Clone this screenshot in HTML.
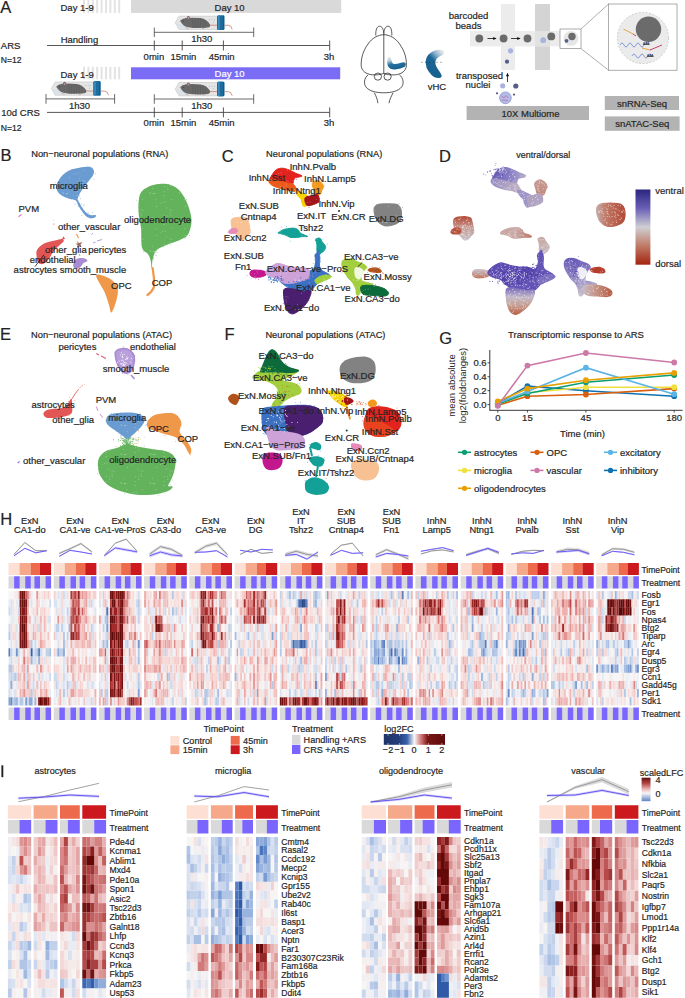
<!DOCTYPE html><html><head><meta charset="utf-8"><style>html,body{margin:0;padding:0;background:#fff;width:685px;height:998px;overflow:hidden}svg{display:block}text{font-family:"Liberation Sans",sans-serif;stroke-width:0.2px}</style></head><body><svg width="685" height="998" viewBox="0 0 685 998"><text x="0.30" y="13.20" font-size="16.5" fill="#222" stroke="#222" stroke-width="0.3">A</text><rect x="83.00" y="0.00" width="2.00" height="12.90" fill="#e3e3e3"/><rect x="87.40" y="0.00" width="2.00" height="12.90" fill="#e3e3e3"/><rect x="91.80" y="0.00" width="2.00" height="12.90" fill="#e3e3e3"/><rect x="96.20" y="0.00" width="2.00" height="12.90" fill="#e3e3e3"/><rect x="100.60" y="0.00" width="2.00" height="12.90" fill="#e3e3e3"/><rect x="105.00" y="0.00" width="2.00" height="12.90" fill="#e3e3e3"/><rect x="109.40" y="0.00" width="2.00" height="12.90" fill="#e3e3e3"/><rect x="113.80" y="0.00" width="2.00" height="12.90" fill="#e3e3e3"/><rect x="118.20" y="0.00" width="2.00" height="12.90" fill="#e3e3e3"/><text x="60.50" y="11.40" font-size="9.5" fill="#262626" stroke="#262626">Day 1-9</text><rect x="131.00" y="0.00" width="210.20" height="12.90" fill="#d9d9d9"/><text x="229.60" y="11.00" font-size="9.5" fill="#262626" stroke="#262626" text-anchor="middle">Day 10</text><g transform="translate(175.00,15.20) scale(1.0)"><path d="M0.2,7.6 L4,0.9 L42.5,0.9 L42.5,14.3 L4,14.3 Z" fill="#e5e5e5" stroke="#bdbdbd" stroke-width="0.5"/><path d="M1.5,8.5 L4.5,13 L12,13.4 L8,9 Z" fill="#d3e1ea" opacity="0.8"/><circle cx="34.5" cy="4.6" r="0.5" fill="#8fb8d4"/><circle cx="37" cy="4.3" r="0.5" fill="#8fb8d4"/><circle cx="39.4" cy="4.6" r="0.5" fill="#8fb8d4"/><circle cx="38.2" cy="7" r="0.5" fill="#8fb8d4"/><path d="M35,10 L43,10" stroke="#c4806f" stroke-width="0.8"/><path d="M5,5.6 Q7,3.2 11,2.7 Q18,2.1 25.6,2.9 Q32,4 35,9.2 Q35.8,11.6 33,12.3 Q25,13.1 18,12.7 Q11,12.3 8.5,10.1 Q6.5,8.4 5,5.6 Z" fill="#686868"/><path d="M18,3.6 L18,12.4 M20.5,3.3 L20.5,12.6 M23,3.2 L23,12.7 M25.5,3.4 L25.5,12.7 M28,4 L28,12.6 M30.5,5 L30.5,12.4" stroke="#585858" stroke-width="0.55"/><ellipse cx="13.4" cy="2.7" rx="1.6" ry="1.9" fill="#6e6e6e"/><ellipse cx="13.4" cy="2.9" rx="0.8" ry="1.0" fill="#c09a9a"/><circle cx="8.6" cy="5.8" r="0.45" fill="#222"/><circle cx="5.2" cy="6.0" r="0.5" fill="#c9a0a0"/><path d="M10.5,12.3 L13.5,13.5 M26,12.6 L29.5,13.6" stroke="#c8a0a0" stroke-width="0.8"/><rect x="42" y="0" width="7.4" height="14.8" rx="1.6" fill="#1c6d9e"/><rect x="43" y="0.4" width="1.6" height="14" fill="#3a8cc0"/><rect x="48" y="0.4" width="1.2" height="14" fill="#155a86"/><path d="M49.3,10.1 L53.5,10.1 Q56.6,10.4 57.2,14.2" fill="none" stroke="#c4806f" stroke-width="0.8"/></g><line x1="154.30" y1="32.30" x2="253.70" y2="32.30" stroke="#444" stroke-width="0.8"/><line x1="154.30" y1="27.50" x2="154.30" y2="37.10" stroke="#444" stroke-width="0.8"/><line x1="253.70" y1="27.50" x2="253.70" y2="37.10" stroke="#444" stroke-width="0.8"/><text x="201.70" y="41.80" font-size="9.5" fill="#262626" stroke="#262626" text-anchor="middle">1h30</text><line x1="47.00" y1="45.50" x2="329.70" y2="45.50" stroke="#444" stroke-width="0.9"/><line x1="154.30" y1="40.50" x2="154.30" y2="50.50" stroke="#444" stroke-width="0.9"/><text x="153.90" y="59.80" font-size="9.5" fill="#262626" stroke="#262626" text-anchor="middle">0min</text><line x1="182.20" y1="40.50" x2="182.20" y2="50.50" stroke="#444" stroke-width="0.9"/><text x="183.40" y="59.80" font-size="9.5" fill="#262626" stroke="#262626" text-anchor="middle">15min</text><line x1="223.40" y1="40.50" x2="223.40" y2="50.50" stroke="#444" stroke-width="0.9"/><text x="221.70" y="59.80" font-size="9.5" fill="#262626" stroke="#262626" text-anchor="middle">45min</text><line x1="329.70" y1="40.50" x2="329.70" y2="50.50" stroke="#444" stroke-width="0.9"/><text x="329.00" y="59.80" font-size="9.5" fill="#262626" stroke="#262626" text-anchor="middle">3h</text><text x="60.70" y="42.70" font-size="9.5" fill="#262626" stroke="#262626">Handling</text><text x="0.80" y="49.20" font-size="9.5" fill="#262626" stroke="#262626">ARS</text><text x="0.80" y="63.20" font-size="8.6" fill="#262626" stroke="#262626">N=12</text><rect x="83.00" y="66.80" width="2.00" height="12.50" fill="#e3e3e3"/><rect x="87.40" y="66.80" width="2.00" height="12.50" fill="#e3e3e3"/><rect x="91.80" y="66.80" width="2.00" height="12.50" fill="#e3e3e3"/><rect x="96.20" y="66.80" width="2.00" height="12.50" fill="#e3e3e3"/><rect x="100.60" y="66.80" width="2.00" height="12.50" fill="#e3e3e3"/><rect x="105.00" y="66.80" width="2.00" height="12.50" fill="#e3e3e3"/><rect x="109.40" y="66.80" width="2.00" height="12.50" fill="#e3e3e3"/><rect x="113.80" y="66.80" width="2.00" height="12.50" fill="#e3e3e3"/><rect x="118.20" y="66.80" width="2.00" height="12.50" fill="#e3e3e3"/><text x="60.50" y="77.80" font-size="9.5" fill="#262626" stroke="#262626">Day 1-9</text><rect x="131.00" y="67.30" width="209.20" height="12.00" fill="#7b6cf6"/><text x="229.60" y="77.40" font-size="9.5" fill="#ffffff" stroke="#ffffff" text-anchor="middle">Day 10</text><g transform="translate(51.20,81.00) scale(1.0)"><path d="M0.2,7.6 L4,0.9 L42.5,0.9 L42.5,14.3 L4,14.3 Z" fill="#e5e5e5" stroke="#bdbdbd" stroke-width="0.5"/><path d="M1.5,8.5 L4.5,13 L12,13.4 L8,9 Z" fill="#d3e1ea" opacity="0.8"/><circle cx="34.5" cy="4.6" r="0.5" fill="#8fb8d4"/><circle cx="37" cy="4.3" r="0.5" fill="#8fb8d4"/><circle cx="39.4" cy="4.6" r="0.5" fill="#8fb8d4"/><circle cx="38.2" cy="7" r="0.5" fill="#8fb8d4"/><path d="M35,10 L43,10" stroke="#c4806f" stroke-width="0.8"/><path d="M5,5.6 Q7,3.2 11,2.7 Q18,2.1 25.6,2.9 Q32,4 35,9.2 Q35.8,11.6 33,12.3 Q25,13.1 18,12.7 Q11,12.3 8.5,10.1 Q6.5,8.4 5,5.6 Z" fill="#686868"/><path d="M18,3.6 L18,12.4 M20.5,3.3 L20.5,12.6 M23,3.2 L23,12.7 M25.5,3.4 L25.5,12.7 M28,4 L28,12.6 M30.5,5 L30.5,12.4" stroke="#585858" stroke-width="0.55"/><ellipse cx="13.4" cy="2.7" rx="1.6" ry="1.9" fill="#6e6e6e"/><ellipse cx="13.4" cy="2.9" rx="0.8" ry="1.0" fill="#c09a9a"/><circle cx="8.6" cy="5.8" r="0.45" fill="#222"/><circle cx="5.2" cy="6.0" r="0.5" fill="#c9a0a0"/><path d="M10.5,12.3 L13.5,13.5 M26,12.6 L29.5,13.6" stroke="#c8a0a0" stroke-width="0.8"/><rect x="42" y="0" width="7.4" height="14.8" rx="1.6" fill="#1c6d9e"/><rect x="43" y="0.4" width="1.6" height="14" fill="#3a8cc0"/><rect x="48" y="0.4" width="1.2" height="14" fill="#155a86"/><path d="M49.3,10.1 L53.5,10.1 Q56.6,10.4 57.2,14.2" fill="none" stroke="#c4806f" stroke-width="0.8"/></g><g transform="translate(175.00,81.60) scale(1.0)"><path d="M0.2,7.6 L4,0.9 L42.5,0.9 L42.5,14.3 L4,14.3 Z" fill="#e5e5e5" stroke="#bdbdbd" stroke-width="0.5"/><path d="M1.5,8.5 L4.5,13 L12,13.4 L8,9 Z" fill="#d3e1ea" opacity="0.8"/><circle cx="34.5" cy="4.6" r="0.5" fill="#8fb8d4"/><circle cx="37" cy="4.3" r="0.5" fill="#8fb8d4"/><circle cx="39.4" cy="4.6" r="0.5" fill="#8fb8d4"/><circle cx="38.2" cy="7" r="0.5" fill="#8fb8d4"/><path d="M35,10 L43,10" stroke="#c4806f" stroke-width="0.8"/><path d="M5,5.6 Q7,3.2 11,2.7 Q18,2.1 25.6,2.9 Q32,4 35,9.2 Q35.8,11.6 33,12.3 Q25,13.1 18,12.7 Q11,12.3 8.5,10.1 Q6.5,8.4 5,5.6 Z" fill="#686868"/><path d="M18,3.6 L18,12.4 M20.5,3.3 L20.5,12.6 M23,3.2 L23,12.7 M25.5,3.4 L25.5,12.7 M28,4 L28,12.6 M30.5,5 L30.5,12.4" stroke="#585858" stroke-width="0.55"/><ellipse cx="13.4" cy="2.7" rx="1.6" ry="1.9" fill="#6e6e6e"/><ellipse cx="13.4" cy="2.9" rx="0.8" ry="1.0" fill="#c09a9a"/><circle cx="8.6" cy="5.8" r="0.45" fill="#222"/><circle cx="5.2" cy="6.0" r="0.5" fill="#c9a0a0"/><path d="M10.5,12.3 L13.5,13.5 M26,12.6 L29.5,13.6" stroke="#c8a0a0" stroke-width="0.8"/><rect x="42" y="0" width="7.4" height="14.8" rx="1.6" fill="#1c6d9e"/><rect x="43" y="0.4" width="1.6" height="14" fill="#3a8cc0"/><rect x="48" y="0.4" width="1.2" height="14" fill="#155a86"/><path d="M49.3,10.1 L53.5,10.1 Q56.6,10.4 57.2,14.2" fill="none" stroke="#c4806f" stroke-width="0.8"/></g><line x1="46.00" y1="98.90" x2="114.60" y2="98.90" stroke="#444" stroke-width="0.8"/><line x1="46.00" y1="94.10" x2="46.00" y2="103.70" stroke="#444" stroke-width="0.8"/><line x1="114.60" y1="94.10" x2="114.60" y2="103.70" stroke="#444" stroke-width="0.8"/><text x="79.50" y="108.60" font-size="9.5" fill="#262626" stroke="#262626" text-anchor="middle">1h30</text><line x1="154.30" y1="99.00" x2="253.70" y2="99.00" stroke="#444" stroke-width="0.8"/><line x1="154.30" y1="94.20" x2="154.30" y2="103.80" stroke="#444" stroke-width="0.8"/><line x1="253.70" y1="94.20" x2="253.70" y2="103.80" stroke="#444" stroke-width="0.8"/><text x="201.70" y="108.60" font-size="9.5" fill="#262626" stroke="#262626" text-anchor="middle">1h30</text><line x1="47.00" y1="112.40" x2="329.70" y2="112.40" stroke="#444" stroke-width="0.9"/><line x1="154.30" y1="107.40" x2="154.30" y2="117.40" stroke="#444" stroke-width="0.9"/><text x="153.90" y="126.40" font-size="9.5" fill="#262626" stroke="#262626" text-anchor="middle">0min</text><line x1="182.20" y1="107.40" x2="182.20" y2="117.40" stroke="#444" stroke-width="0.9"/><text x="183.40" y="126.40" font-size="9.5" fill="#262626" stroke="#262626" text-anchor="middle">15min</text><line x1="223.40" y1="107.40" x2="223.40" y2="117.40" stroke="#444" stroke-width="0.9"/><text x="221.70" y="126.40" font-size="9.5" fill="#262626" stroke="#262626" text-anchor="middle">45min</text><line x1="329.70" y1="107.40" x2="329.70" y2="117.40" stroke="#444" stroke-width="0.9"/><text x="329.00" y="126.40" font-size="9.5" fill="#262626" stroke="#262626" text-anchor="middle">3h</text><text x="1.30" y="116.20" font-size="9.5" fill="#262626" stroke="#262626">10d CRS</text><text x="0.80" y="131.20" font-size="8.6" fill="#262626" stroke="#262626">N=12</text><g fill="none" stroke="#222" stroke-width="0.75"><path d="M375.8,35.5 C375.5,30 377,26.3 379.5,26.2 C382,26.2 383.5,29 383.8,33.5 C384.1,29 385.6,26.2 388.1,26.2 C390.6,26.3 392.1,30 391.8,35.5"/><path d="M383.8,34.6 C378,35 372,38 368,44 C363,51 361,58 361.2,65.5 C361.5,71 366,74 372,74.8 C377,75.2 381,74.5 383.8,73.4"/><path d="M383.8,34.6 C389.6,35 395.6,38 399.6,44 C404.6,51 406.6,58 406.4,65.5 C406.1,71 401.6,74 395.6,74.8 C390.6,75.2 386.6,74.5 383.8,73.4"/><path d="M383.8,33.5 L383.8,73.4"/><circle cx="377.9" cy="76.6" r="3.6"/><circle cx="387.6" cy="76.6" r="3.6"/><path d="M368.2,74.8 C364,78 363.5,84 366,87 C369,91 376,92.8 383.8,92.8 C391.6,92.8 398.6,91 401.6,87 C404.1,84 403.6,78 399.4,74.8"/><path d="M374.4,92.8 C376,96 377.5,99.5 377.9,103.2 M393.1,92.8 C391.5,96 389.5,99.5 389,103.2"/></g><defs><linearGradient id="hcg" x1="0" y1="0" x2="0.3" y2="1"><stop offset="0" stop-color="#e8e8e8"/><stop offset="0.3" stop-color="#bcd0df"/><stop offset="0.6" stop-color="#2a73a0"/><stop offset="1" stop-color="#17608f"/></linearGradient><linearGradient id="vhcg" x1="0.8" y1="0" x2="0.3" y2="0.7"><stop offset="0" stop-color="#e4e4e4"/><stop offset="0.3" stop-color="#8fb4d0"/><stop offset="0.6" stop-color="#1d6796"/><stop offset="1" stop-color="#17608f"/></linearGradient></defs><path d="M387.8,58 Q386.4,62 387.8,66 Q390,69.8 395,69.5 Q401,69 404.8,66.8 Q406.4,65.2 405.5,63.1 Q404.2,61.6 401,62.7 Q396.5,64.2 393.8,64 Q392,63.3 391.6,60.8 Q391.2,57.8 389.6,57 Q388.3,56.8 387.8,58 Z" fill="url(#hcg)"/><path d="M443.8,51 Q441.5,49.3 438.2,49.8 Q432.7,50.5 428.6,54.5 Q425.5,58 425.7,63 Q426,68 428.5,71.3 Q431,75 434,76.9 Q437.5,78.4 440.3,77.7 Q442.4,76.6 441.3,74.4 Q439.8,71.8 438.1,69.6 Q435.6,66 435.4,63.4 Q435.4,60.5 436.8,58.6 Q438.8,56.6 441.4,55.6 Q444.6,54 443.8,51 Z" fill="url(#vhcg)"/><line x1="421.30" y1="62.30" x2="441.50" y2="62.30" stroke="#333" stroke-width="0.6" stroke-dasharray="1.2,2.6"/><text x="437.00" y="89.50" font-size="9.5" fill="#262626" stroke="#262626" text-anchor="middle">vHC</text><rect x="501.00" y="4.00" width="14.00" height="66.00" fill="#ececec"/><rect x="535.00" y="4.00" width="15.00" height="66.00" fill="#d4d4d4"/><rect x="470.00" y="31.00" width="90.00" height="15.40" fill="#ececec"/><rect x="535.00" y="31.00" width="15.00" height="15.40" fill="#e2e2e2"/><text x="468.50" y="19.40" font-size="9.5" fill="#262626" stroke="#262626" text-anchor="middle">barcoded</text><text x="468.50" y="28.50" font-size="9.5" fill="#262626" stroke="#262626" text-anchor="middle">beads</text><circle cx="479.3" cy="38.5" r="3.9" fill="#6b6b6b"/><circle cx="503.6" cy="38.5" r="3.9" fill="#6b6b6b"/><circle cx="527.5" cy="38.5" r="3.9" fill="#6b6b6b"/><line x1="487.5" y1="38.5" x2="496" y2="38.5" stroke="#111" stroke-width="0.8"/><path d="M496.60,38.50 L493.20,40.10 L493.20,36.90 Z" fill="#111"/><line x1="511" y1="38.5" x2="520" y2="38.5" stroke="#111" stroke-width="0.8"/><path d="M520.60,38.50 L517.20,40.10 L517.20,36.90 Z" fill="#111"/><circle cx="543.2" cy="40.2" r="2.9" fill="#a9b3e0"/><circle cx="551.3" cy="36.4" r="3.9" fill="#6b6b6b"/><circle cx="510.5" cy="50.8" r="2.6" fill="#a9b3e0"/><circle cx="507" cy="61.7" r="2.1" fill="#555d8a"/><rect x="560" y="29" width="21" height="19.6" fill="none" stroke="#777" stroke-width="0.6"/><circle cx="571" cy="38.5" r="7.5" fill="#e6e6e6"/><circle cx="572" cy="36.5" r="3.7" fill="#6b6b6b"/><circle cx="566.5" cy="40.8" r="1.9" fill="#555d8a"/><path d="M581,29 L608.6,4 M581,48.6 L608.6,70.2" stroke="#777" stroke-width="0.6"/><rect x="608.6" y="4" width="68.4" height="66.2" fill="none" stroke="#777" stroke-width="0.6"/><circle cx="643" cy="38" r="25.6" fill="#ebebeb" stroke="#bbb" stroke-width="0.7" stroke-dasharray="2,1.5"/><circle cx="648.5" cy="29.3" r="12.7" fill="#6b6b6b"/><path d="M620,45 q2,-4 4,0 t4,0 t4,0 t4,0 t4,0 t4,0 t4,-2" fill="none" stroke="#5b7bd5" stroke-width="0.7"/><path d="M632,56 q2,-4 4,0 t4,0 t4,0 t4,0 t4,0" fill="none" stroke="#5b7bd5" stroke-width="0.7"/><path d="M623.5,29 L633,34" stroke="#e0a030" stroke-width="0.9"/><path d="M633,34 L636,36" stroke="#c03050" stroke-width="0.9"/><path d="M642,48 L650,50" stroke="#e0a030" stroke-width="0.9"/><path d="M650,50 L662,45" stroke="#c03050" stroke-width="0.9"/><text x="643.00" y="44.50" font-size="3.2" fill="#333" stroke="#333">AAA</text><text x="647.00" y="57.00" font-size="3.2" fill="#333" stroke="#333">AAA</text><text x="479.50" y="79.00" font-size="9.5" fill="#262626" stroke="#262626" text-anchor="middle">transposed</text><text x="478.00" y="88.00" font-size="9.5" fill="#262626" stroke="#262626" text-anchor="middle">nuclei</text><line x1="507.5" y1="82" x2="507.5" y2="73.5" stroke="#111" stroke-width="0.8"/><path d="M507.50,72.90 L509.10,76.30 L505.90,76.30 Z" fill="#111"/><circle cx="502.7" cy="85.8" r="2.6" fill="#a9b3e0"/><circle cx="515.8" cy="86" r="2.6" fill="#555d8a"/><circle cx="497" cy="93.3" r="1.1" fill="#555d8a"/><circle cx="514" cy="94.6" r="1.1" fill="#555d8a"/><circle cx="505.4" cy="97.8" r="5.9" fill="#b3bbe8" stroke="#7783c4" stroke-width="0.6"/><path d="M501.5,96 L504,98 L506,95.5 L508.5,98 M502,100 L508,100.5" fill="none" stroke="#c04060" stroke-width="0.5"/><rect x="466.60" y="106.00" width="122.40" height="14.00" fill="#b3b3b3"/><text x="530.50" y="116.60" font-size="9.5" fill="#262626" stroke="#262626" text-anchor="middle">10X Multiome</text><rect x="604.80" y="96.00" width="74.20" height="14.00" fill="#b3b3b3"/><text x="642.00" y="106.60" font-size="9.5" fill="#262626" stroke="#262626" text-anchor="middle">snRNA-Seq</text><rect x="604.80" y="116.40" width="74.80" height="14.40" fill="#b3b3b3"/><text x="642.20" y="127.20" font-size="9.5" fill="#262626" stroke="#262626" text-anchor="middle">snATAC-Seq</text><defs><pattern id="spk" width="23" height="23" patternUnits="userSpaceOnUse"><g fill="#fff" opacity="0.75"><circle cx="9.3" cy="4.6" r="0.5"/><circle cx="4.1" cy="5.7" r="0.5"/><circle cx="17.5" cy="5.8" r="0.5"/><circle cx="8.8" cy="15.7" r="0.5"/><circle cx="12.4" cy="21.6" r="0.5"/><circle cx="11.3" cy="9.7" r="0.5"/><circle cx="14.1" cy="5.0" r="0.5"/><circle cx="20.7" cy="8.6" r="0.5"/><circle cx="8.9" cy="15.7" r="0.5"/><circle cx="3.5" cy="15.2" r="0.5"/><circle cx="19.5" cy="7.8" r="0.5"/><circle cx="21.8" cy="12.2" r="0.5"/><circle cx="17.8" cy="10.8" r="0.5"/><circle cx="9.3" cy="6.2" r="0.5"/><circle cx="0.2" cy="4.7" r="0.5"/><circle cx="22.8" cy="12.3" r="0.5"/><circle cx="10.6" cy="20.7" r="0.5"/><circle cx="13.9" cy="22.5" r="0.5"/><circle cx="8.2" cy="5.0" r="0.5"/><circle cx="21.2" cy="3.7" r="0.5"/><circle cx="18.2" cy="13.7" r="0.5"/><circle cx="22.6" cy="21.7" r="0.5"/><circle cx="15.2" cy="0.9" r="0.5"/><circle cx="0.5" cy="10.9" r="0.5"/><circle cx="18.9" cy="1.9" r="0.5"/><circle cx="9.8" cy="2.0" r="0.5"/><circle cx="7.1" cy="0.1" r="0.5"/><circle cx="7.6" cy="12.0" r="0.5"/><circle cx="4.6" cy="18.1" r="0.5"/><circle cx="1.3" cy="4.9" r="0.5"/><circle cx="5.9" cy="9.3" r="0.5"/><circle cx="17.6" cy="8.1" r="0.5"/><circle cx="16.0" cy="21.2" r="0.5"/><circle cx="3.0" cy="19.9" r="0.5"/><circle cx="13.8" cy="17.2" r="0.5"/><circle cx="14.0" cy="9.4" r="0.5"/><circle cx="2.2" cy="3.3" r="0.5"/><circle cx="4.0" cy="4.1" r="0.5"/><circle cx="3.3" cy="4.8" r="0.5"/><circle cx="12.9" cy="17.7" r="0.5"/><circle cx="18.4" cy="19.5" r="0.5"/><circle cx="2.7" cy="18.9" r="0.5"/><circle cx="4.3" cy="1.7" r="0.5"/><circle cx="6.6" cy="13.5" r="0.5"/><circle cx="1.1" cy="5.0" r="0.5"/><circle cx="9.2" cy="18.9" r="0.5"/><circle cx="9.2" cy="9.5" r="0.5"/><circle cx="8.5" cy="2.1" r="0.5"/><circle cx="20.2" cy="21.2" r="0.5"/><circle cx="16.6" cy="9.2" r="0.5"/><circle cx="10.2" cy="7.2" r="0.5"/><circle cx="15.0" cy="15.0" r="0.5"/><circle cx="7.1" cy="20.1" r="0.5"/><circle cx="16.6" cy="5.0" r="0.5"/><circle cx="18.6" cy="15.5" r="0.5"/><circle cx="5.7" cy="6.8" r="0.5"/><circle cx="17.3" cy="1.8" r="0.5"/><circle cx="10.1" cy="22.2" r="0.5"/></g></pattern><pattern id="spk2" width="29" height="29" patternUnits="userSpaceOnUse"><g fill="#fff" opacity="0.6"><circle cx="7.4" cy="14.6" r="0.45"/><circle cx="26.3" cy="25.4" r="0.45"/><circle cx="22.9" cy="15.5" r="0.45"/><circle cx="27.0" cy="7.4" r="0.45"/><circle cx="25.6" cy="11.9" r="0.45"/><circle cx="19.1" cy="17.7" r="0.45"/><circle cx="8.2" cy="19.7" r="0.45"/><circle cx="17.5" cy="28.6" r="0.45"/><circle cx="19.3" cy="12.8" r="0.45"/><circle cx="11.0" cy="25.7" r="0.45"/><circle cx="10.0" cy="19.3" r="0.45"/><circle cx="20.1" cy="28.0" r="0.45"/><circle cx="5.6" cy="19.3" r="0.45"/><circle cx="5.0" cy="18.6" r="0.45"/><circle cx="19.1" cy="21.5" r="0.45"/><circle cx="25.1" cy="6.7" r="0.45"/><circle cx="25.0" cy="10.0" r="0.45"/><circle cx="11.6" cy="3.3" r="0.45"/><circle cx="15.4" cy="0.0" r="0.45"/><circle cx="9.0" cy="19.5" r="0.45"/><circle cx="21.7" cy="4.9" r="0.45"/><circle cx="22.8" cy="12.9" r="0.45"/></g></pattern></defs><text x="0.50" y="161.00" font-size="16.5" fill="#222" stroke="#222" stroke-width="0.3">B</text><text x="31.20" y="157.00" font-size="9.3" fill="#262626" stroke="#262626">Non−neuronal populations (RNA)</text><path d="M92.3,167.9 C93.0,168.6 93.9,170.1 94.0,171.4 C94.1,172.7 93.6,174.2 92.7,175.8 C91.8,177.4 90.2,179.2 88.8,181.0 C87.4,182.8 85.7,184.6 84.4,186.3 C83.1,188.1 81.9,189.8 80.9,191.5 C79.9,193.2 78.8,195.5 78.3,196.8 C77.8,198.2 77.5,198.7 77.6,199.6 C77.7,200.5 78.3,200.7 79.0,202.0 C79.7,203.3 80.8,205.5 82.0,207.3 C83.2,209.1 84.8,211.3 86.2,212.6 C87.6,213.9 89.0,214.8 90.5,215.2 C92.0,215.6 94.6,214.7 95.4,215.0 C96.2,215.3 95.9,216.4 95.4,216.9 C94.9,217.4 93.4,218.0 92.3,218.2 C91.2,218.3 90.0,218.3 88.8,217.8 C87.6,217.3 86.5,216.5 85.3,215.4 C84.1,214.3 83.0,212.7 81.8,211.0 C80.6,209.3 79.2,207.2 78.3,205.5 C77.3,203.8 77.0,201.8 76.1,200.8 C75.2,199.8 74.4,200.0 73.0,199.6 C71.6,199.2 69.5,198.9 67.8,198.3 C66.0,197.7 64.1,197.1 62.5,196.1 C60.9,195.1 59.3,193.9 58.3,192.6 C57.3,191.2 56.6,189.6 56.4,188.0 C56.2,186.4 56.7,184.4 57.3,182.8 C57.9,181.2 58.6,180.0 59.9,178.4 C61.2,176.8 63.2,174.6 65.1,173.1 C67.0,171.6 69.1,170.5 71.3,169.6 C73.5,168.7 76.1,168.3 78.3,167.9 C80.5,167.5 82.5,167.2 84.4,167.0 C86.3,166.8 88.4,166.8 89.7,167.0 C91.0,167.2 91.6,167.2 92.3,167.9Z" fill="#6a9bd1"/><path d="M92.3,167.9 C93.0,168.6 93.9,170.1 94.0,171.4 C94.1,172.7 93.6,174.2 92.7,175.8 C91.8,177.4 90.2,179.2 88.8,181.0 C87.4,182.8 85.7,184.6 84.4,186.3 C83.1,188.1 81.9,189.8 80.9,191.5 C79.9,193.2 78.8,195.5 78.3,196.8 C77.8,198.2 77.5,198.7 77.6,199.6 C77.7,200.5 78.3,200.7 79.0,202.0 C79.7,203.3 80.8,205.5 82.0,207.3 C83.2,209.1 84.8,211.3 86.2,212.6 C87.6,213.9 89.0,214.8 90.5,215.2 C92.0,215.6 94.6,214.7 95.4,215.0 C96.2,215.3 95.9,216.4 95.4,216.9 C94.9,217.4 93.4,218.0 92.3,218.2 C91.2,218.3 90.0,218.3 88.8,217.8 C87.6,217.3 86.5,216.5 85.3,215.4 C84.1,214.3 83.0,212.7 81.8,211.0 C80.6,209.3 79.2,207.2 78.3,205.5 C77.3,203.8 77.0,201.8 76.1,200.8 C75.2,199.8 74.4,200.0 73.0,199.6 C71.6,199.2 69.5,198.9 67.8,198.3 C66.0,197.7 64.1,197.1 62.5,196.1 C60.9,195.1 59.3,193.9 58.3,192.6 C57.3,191.2 56.6,189.6 56.4,188.0 C56.2,186.4 56.7,184.4 57.3,182.8 C57.9,181.2 58.6,180.0 59.9,178.4 C61.2,176.8 63.2,174.6 65.1,173.1 C67.0,171.6 69.1,170.5 71.3,169.6 C73.5,168.7 76.1,168.3 78.3,167.9 C80.5,167.5 82.5,167.2 84.4,167.0 C86.3,166.8 88.4,166.8 89.7,167.0 C91.0,167.2 91.6,167.2 92.3,167.9Z" fill="url(#spk2)"/><g fill="#6a9bd1"><circle cx="95.5" cy="216.0" r="0.45"/><circle cx="78.6" cy="204.7" r="0.45"/><circle cx="76.4" cy="200.8" r="0.45"/><circle cx="71.5" cy="199.1" r="0.45"/><circle cx="80.3" cy="206.4" r="0.45"/><circle cx="59.1" cy="182.5" r="0.45"/><circle cx="84.1" cy="204.9" r="0.45"/><circle cx="57.7" cy="185.6" r="0.45"/><circle cx="81.8" cy="215.2" r="0.45"/><circle cx="61.1" cy="184.3" r="0.45"/><circle cx="89.8" cy="166.8" r="0.45"/><circle cx="83.5" cy="169.2" r="0.45"/><circle cx="83.0" cy="186.1" r="0.45"/><circle cx="78.2" cy="206.7" r="0.45"/><circle cx="88.1" cy="212.2" r="0.45"/><circle cx="87.6" cy="185.3" r="0.45"/><circle cx="92.2" cy="215.7" r="0.45"/><circle cx="90.2" cy="218.5" r="0.45"/><circle cx="82.5" cy="208.8" r="0.45"/><circle cx="92.4" cy="212.8" r="0.45"/><circle cx="79.6" cy="195.9" r="0.45"/><circle cx="81.6" cy="204.1" r="0.45"/><circle cx="58.2" cy="185.4" r="0.45"/><circle cx="89.0" cy="213.9" r="0.45"/><circle cx="66.6" cy="173.1" r="0.45"/><circle cx="87.9" cy="167.1" r="0.45"/><circle cx="90.7" cy="217.4" r="0.45"/><circle cx="86.6" cy="214.4" r="0.45"/><circle cx="80.3" cy="198.8" r="0.45"/><circle cx="88.6" cy="215.5" r="0.45"/><circle cx="94.0" cy="179.3" r="0.45"/><circle cx="83.8" cy="205.1" r="0.45"/><circle cx="75.0" cy="204.3" r="0.45"/><circle cx="90.3" cy="176.8" r="0.45"/><circle cx="65.6" cy="193.1" r="0.45"/><circle cx="55.7" cy="182.6" r="0.45"/><circle cx="95.3" cy="173.8" r="0.45"/><circle cx="63.4" cy="175.1" r="0.45"/><circle cx="65.6" cy="175.3" r="0.45"/><circle cx="89.9" cy="214.9" r="0.45"/></g><path d="M159.4,184.0 C163.2,183.7 167.3,183.8 170.7,185.0 C174.1,186.2 177.2,187.8 180.0,191.0 C182.8,194.2 185.6,199.2 187.5,204.0 C189.4,208.8 191.4,214.9 191.5,220.0 C191.6,225.1 189.9,231.3 188.0,234.6 C186.1,237.9 183.2,238.4 180.0,240.0 C176.8,241.6 172.7,242.5 169.0,244.0 C165.3,245.5 160.4,247.5 158.0,249.0 C155.6,250.5 155.5,251.2 154.6,253.0 C153.7,254.8 153.0,257.6 152.5,260.0 C152.0,262.4 152.1,267.5 151.8,267.5 C151.5,267.5 151.1,262.2 150.5,260.0 C149.9,257.8 149.4,256.1 148.0,254.0 C146.6,251.9 143.2,251.8 142.0,247.5 C140.8,243.2 141.6,233.9 141.0,228.0 C140.4,222.1 138.7,217.6 138.5,212.0 C138.3,206.4 138.4,198.7 140.0,194.5 C141.6,190.3 144.8,188.8 148.0,187.0 C151.2,185.2 155.6,184.3 159.4,184.0Z" fill="#63b35c"/><path d="M159.4,184.0 C163.2,183.7 167.3,183.8 170.7,185.0 C174.1,186.2 177.2,187.8 180.0,191.0 C182.8,194.2 185.6,199.2 187.5,204.0 C189.4,208.8 191.4,214.9 191.5,220.0 C191.6,225.1 189.9,231.3 188.0,234.6 C186.1,237.9 183.2,238.4 180.0,240.0 C176.8,241.6 172.7,242.5 169.0,244.0 C165.3,245.5 160.4,247.5 158.0,249.0 C155.6,250.5 155.5,251.2 154.6,253.0 C153.7,254.8 153.0,257.6 152.5,260.0 C152.0,262.4 152.1,267.5 151.8,267.5 C151.5,267.5 151.1,262.2 150.5,260.0 C149.9,257.8 149.4,256.1 148.0,254.0 C146.6,251.9 143.2,251.8 142.0,247.5 C140.8,243.2 141.6,233.9 141.0,228.0 C140.4,222.1 138.7,217.6 138.5,212.0 C138.3,206.4 138.4,198.7 140.0,194.5 C141.6,190.3 144.8,188.8 148.0,187.0 C151.2,185.2 155.6,184.3 159.4,184.0Z" fill="url(#spk2)"/><g fill="#63b35c"><circle cx="171.4" cy="187.6" r="0.45"/><circle cx="155.2" cy="252.8" r="0.45"/><circle cx="147.5" cy="252.9" r="0.45"/><circle cx="148.7" cy="254.3" r="0.45"/><circle cx="149.1" cy="187.0" r="0.45"/><circle cx="184.1" cy="197.9" r="0.45"/><circle cx="141.5" cy="223.4" r="0.45"/><circle cx="170.8" cy="245.1" r="0.45"/><circle cx="166.8" cy="244.0" r="0.45"/><circle cx="136.5" cy="200.1" r="0.45"/><circle cx="140.7" cy="195.0" r="0.45"/><circle cx="144.6" cy="251.0" r="0.45"/><circle cx="151.5" cy="266.6" r="0.45"/><circle cx="168.9" cy="185.4" r="0.45"/><circle cx="178.1" cy="191.9" r="0.45"/><circle cx="157.0" cy="248.9" r="0.45"/><circle cx="151.2" cy="267.3" r="0.45"/><circle cx="153.6" cy="257.2" r="0.45"/><circle cx="163.8" cy="184.8" r="0.45"/><circle cx="153.4" cy="258.8" r="0.45"/><circle cx="163.1" cy="246.4" r="0.45"/><circle cx="185.7" cy="236.7" r="0.45"/><circle cx="182.8" cy="200.3" r="0.45"/><circle cx="186.6" cy="199.7" r="0.45"/><circle cx="143.3" cy="251.7" r="0.45"/><circle cx="156.5" cy="250.9" r="0.45"/><circle cx="139.8" cy="207.3" r="0.45"/><circle cx="151.9" cy="265.9" r="0.45"/><circle cx="165.7" cy="243.5" r="0.45"/><circle cx="155.9" cy="251.0" r="0.45"/><circle cx="156.1" cy="255.5" r="0.45"/><circle cx="142.8" cy="238.6" r="0.45"/><circle cx="159.4" cy="246.4" r="0.45"/><circle cx="190.3" cy="219.3" r="0.45"/><circle cx="156.9" cy="184.7" r="0.45"/><circle cx="185.8" cy="200.2" r="0.45"/><circle cx="189.6" cy="235.5" r="0.45"/><circle cx="157.3" cy="185.6" r="0.45"/><circle cx="177.3" cy="240.3" r="0.45"/><circle cx="143.7" cy="247.9" r="0.45"/><circle cx="186.7" cy="227.0" r="0.45"/><circle cx="148.7" cy="251.2" r="0.45"/><circle cx="152.1" cy="257.9" r="0.45"/><circle cx="155.0" cy="254.7" r="0.45"/><circle cx="157.5" cy="252.4" r="0.45"/><circle cx="179.4" cy="196.2" r="0.45"/><circle cx="143.0" cy="224.5" r="0.45"/><circle cx="152.8" cy="259.9" r="0.45"/><circle cx="185.1" cy="238.2" r="0.45"/><circle cx="188.9" cy="233.1" r="0.45"/></g><path d="M152.6,268 Q154.5,278 154,287 Q152,292 147.4,295" fill="none" stroke="#f0984a" stroke-width="2.2" stroke-linecap="round"/><path d="M97.0,274.5 C98.2,274.2 101.3,274.9 104.0,276.0 C106.7,277.1 110.7,278.8 113.0,281.0 C115.3,283.2 117.1,285.8 117.7,289.0 C118.3,292.2 117.5,296.1 116.5,300.0 C115.5,303.9 112.8,311.7 111.5,312.5 C110.2,313.3 110.1,308.2 109.0,305.0 C107.9,301.8 106.5,296.5 105.0,293.0 C103.5,289.5 101.4,286.6 100.0,284.0 C98.6,281.4 97.0,279.1 96.5,277.5 C96.0,275.9 95.8,274.8 97.0,274.5Z" fill="#f0984a"/><path d="M37.0,250.0 C38.2,247.9 41.0,245.1 44.0,243.5 C47.0,241.9 52.0,241.2 55.0,240.5 C58.0,239.8 60.6,238.8 62.0,239.0 C63.4,239.2 64.2,240.2 63.5,241.5 C62.8,242.8 59.8,244.8 58.0,246.5 C56.2,248.2 54.6,249.8 53.0,252.0 C51.4,254.2 50.2,257.5 48.5,259.5 C46.8,261.5 44.8,263.5 43.0,264.0 C41.2,264.5 39.1,263.8 38.0,262.5 C36.9,261.2 36.8,258.1 36.6,256.0 C36.4,253.9 35.8,252.1 37.0,250.0Z" fill="#e25656"/><path d="M61,243 L63.5,237.5 L64.5,239" stroke="#e25656" stroke-width="1.3" fill="none"/><path d="M75.0,260.0 C76.0,259.3 78.3,258.2 80.0,258.0 C81.7,257.8 83.8,258.0 85.0,258.5 C86.2,259.0 87.8,260.2 87.5,261.0 C87.2,261.8 84.7,262.0 83.5,263.0 C82.3,264.0 81.8,266.0 80.5,267.0 C79.2,268.0 77.2,269.2 76.0,269.0 C74.8,268.8 73.5,267.2 73.2,266.0 C72.9,264.8 73.7,263.0 74.0,262.0 C74.3,261.0 74.0,260.7 75.0,260.0Z" fill="#a98bd3"/><path d="M76.5,240.5 L79,243 L82.5,242 L80.5,244.5 L81.5,247 L79,246 L77,248 L77.5,245 L75.5,243.5 L78,243.5 Z" fill="#9c6b5b"/><path d="M76.5,234 L78.5,238" stroke="#f0984a" stroke-width="1.2"/><path d="M79,254 L80,256" stroke="#f0984a" stroke-width="1"/><path d="M18.5,216.8 L21.5,214.6" stroke="#d77ebf" stroke-width="1.2"/><path d="M93,243 L95.5,242 M97,241 L102,239.5 M91.5,234.5 L93,233" stroke="#b090e0" stroke-width="0.9"/><g fill="#e06060"><circle cx="53.1" cy="223.8" r="0.4"/><circle cx="53.2" cy="224.7" r="0.4"/><circle cx="54.5" cy="224.0" r="0.4"/><circle cx="53.4" cy="220.1" r="0.4"/></g><line x1="35.00" y1="266.60" x2="44.00" y2="254.60" stroke="#111" stroke-width="0.8"/><text x="49.80" y="189.20" font-size="9.5" fill="#262626" stroke="#262626">microglia</text><text x="18.50" y="212.00" font-size="9.5" fill="#262626" stroke="#262626">PVM</text><text x="58.00" y="229.80" font-size="9.5" fill="#262626" stroke="#262626">other_vascular</text><text x="45.00" y="253.00" font-size="9.5" fill="#262626" stroke="#262626">other_glia</text><text x="88.30" y="253.00" font-size="9.5" fill="#262626" stroke="#262626">pericytes</text><text x="29.70" y="263.40" font-size="9.5" fill="#262626" stroke="#262626">endothelial</text><text x="13.60" y="272.50" font-size="9.5" fill="#262626" stroke="#262626">astrocytes</text><text x="59.70" y="273.30" font-size="9.5" fill="#262626" stroke="#262626">smooth_muscle</text><text x="111.00" y="289.00" font-size="9.5" fill="#262626" stroke="#262626">OPC</text><text x="151.70" y="285.70" font-size="9.5" fill="#262626" stroke="#262626">COP</text><text x="124.00" y="223.40" font-size="9.5" fill="#262626" stroke="#262626">oligodendrocyte</text><text x="221.70" y="161.50" font-size="16.5" fill="#222" stroke="#222" stroke-width="0.3">C</text><text x="266.00" y="157.20" font-size="9.3" fill="#262626" stroke="#262626">Neuronal populations (RNA)</text><path d="M269.0,181.0 C269.0,179.8 270.8,176.9 272.0,175.0 C273.2,173.1 274.6,170.8 276.3,169.7 C278.1,168.6 280.3,168.1 282.5,168.2 C284.7,168.3 287.4,169.3 289.6,170.2 C291.8,171.0 293.8,172.4 295.8,173.3 C297.9,174.2 301.4,175.2 301.9,175.8 C302.4,176.4 300.1,176.7 299.0,177.0 C297.9,177.3 296.4,177.0 295.5,177.6 C294.6,178.2 294.0,179.4 293.5,180.5 C293.0,181.6 293.9,183.4 292.5,184.0 C291.1,184.6 287.4,184.3 285.0,184.0 C282.6,183.7 280.2,182.3 278.0,182.0 C275.8,181.7 273.5,182.2 272.0,182.0 C270.5,181.8 269.0,182.2 269.0,181.0Z" fill="#e3231d" stroke="#e3231d" stroke-width="1.0" stroke-linejoin="round"/><path d="M269.0,181.0 C269.0,179.8 270.8,176.9 272.0,175.0 C273.2,173.1 274.6,170.8 276.3,169.7 C278.1,168.6 280.3,168.1 282.5,168.2 C284.7,168.3 287.4,169.3 289.6,170.2 C291.8,171.0 293.8,172.4 295.8,173.3 C297.9,174.2 301.4,175.2 301.9,175.8 C302.4,176.4 300.1,176.7 299.0,177.0 C297.9,177.3 296.4,177.0 295.5,177.6 C294.6,178.2 294.0,179.4 293.5,180.5 C293.0,181.6 293.9,183.4 292.5,184.0 C291.1,184.6 287.4,184.3 285.0,184.0 C282.6,183.7 280.2,182.3 278.0,182.0 C275.8,181.7 273.5,182.2 272.0,182.0 C270.5,181.8 269.0,182.2 269.0,181.0Z" fill="url(#spk2)"/><g fill="#e3231d"><circle cx="273.5" cy="175.8" r="0.45"/><circle cx="272.5" cy="174.5" r="0.45"/><circle cx="286.5" cy="170.4" r="0.45"/><circle cx="283.9" cy="181.4" r="0.45"/><circle cx="283.4" cy="168.6" r="0.45"/><circle cx="269.9" cy="182.8" r="0.45"/><circle cx="296.7" cy="179.3" r="0.45"/><circle cx="298.7" cy="175.6" r="0.45"/><circle cx="281.7" cy="181.0" r="0.45"/><circle cx="271.9" cy="180.1" r="0.45"/><circle cx="301.8" cy="176.2" r="0.45"/><circle cx="292.5" cy="177.8" r="0.45"/></g><path d="M269.0,180.0 C269.6,179.4 271.2,179.3 273.0,179.5 C274.8,179.7 277.7,180.4 280.0,181.0 C282.3,181.6 284.8,182.5 287.0,183.0 C289.2,183.5 291.5,183.2 293.0,184.0 C294.5,184.8 295.2,186.7 296.0,188.0 C296.8,189.3 298.3,191.4 298.0,192.0 C297.7,192.6 295.6,191.8 294.0,191.5 C292.4,191.2 290.9,190.5 288.6,190.0 C286.3,189.5 282.9,189.2 280.4,188.5 C277.8,187.8 275.1,186.9 273.3,186.0 C271.5,185.1 270.2,184.0 269.5,183.0 C268.8,182.0 268.4,180.6 269.0,180.0Z" fill="#ec5a1c" stroke="#ec5a1c" stroke-width="1.0" stroke-linejoin="round"/><path d="M269.0,180.0 C269.6,179.4 271.2,179.3 273.0,179.5 C274.8,179.7 277.7,180.4 280.0,181.0 C282.3,181.6 284.8,182.5 287.0,183.0 C289.2,183.5 291.5,183.2 293.0,184.0 C294.5,184.8 295.2,186.7 296.0,188.0 C296.8,189.3 298.3,191.4 298.0,192.0 C297.7,192.6 295.6,191.8 294.0,191.5 C292.4,191.2 290.9,190.5 288.6,190.0 C286.3,189.5 282.9,189.2 280.4,188.5 C277.8,187.8 275.1,186.9 273.3,186.0 C271.5,185.1 270.2,184.0 269.5,183.0 C268.8,182.0 268.4,180.6 269.0,180.0Z" fill="url(#spk2)"/><g fill="#ec5a1c"><circle cx="292.0" cy="183.2" r="0.45"/><circle cx="284.2" cy="182.4" r="0.45"/><circle cx="271.6" cy="183.5" r="0.45"/><circle cx="297.5" cy="190.1" r="0.45"/><circle cx="285.5" cy="188.4" r="0.45"/><circle cx="292.9" cy="184.2" r="0.45"/><circle cx="293.2" cy="189.5" r="0.45"/><circle cx="297.9" cy="189.1" r="0.45"/><circle cx="280.8" cy="180.7" r="0.45"/><circle cx="274.9" cy="180.0" r="0.45"/><circle cx="296.8" cy="192.6" r="0.45"/><circle cx="270.8" cy="183.0" r="0.45"/></g><path d="M312.8,182.5 C313.6,181.7 315.6,180.3 317.0,180.3 C318.4,180.3 320.2,181.4 321.3,182.5 C322.4,183.6 323.5,185.3 323.6,186.6 C323.7,187.8 322.5,188.8 322.0,190.0 C321.5,191.2 321.3,193.2 320.5,194.0 C319.7,194.8 318.0,195.2 317.0,195.0 C316.0,194.8 315.1,194.0 314.5,193.0 C313.9,192.0 313.9,190.3 313.5,189.0 C313.1,187.7 312.4,186.1 312.3,185.0 C312.2,183.9 312.0,183.3 312.8,182.5Z" fill="#f39a1e" stroke="#f39a1e" stroke-width="1.0" stroke-linejoin="round"/><path d="M312.8,182.5 C313.6,181.7 315.6,180.3 317.0,180.3 C318.4,180.3 320.2,181.4 321.3,182.5 C322.4,183.6 323.5,185.3 323.6,186.6 C323.7,187.8 322.5,188.8 322.0,190.0 C321.5,191.2 321.3,193.2 320.5,194.0 C319.7,194.8 318.0,195.2 317.0,195.0 C316.0,194.8 315.1,194.0 314.5,193.0 C313.9,192.0 313.9,190.3 313.5,189.0 C313.1,187.7 312.4,186.1 312.3,185.0 C312.2,183.9 312.0,183.3 312.8,182.5Z" fill="url(#spk2)"/><g fill="#f39a1e"><circle cx="323.8" cy="181.2" r="0.45"/><circle cx="319.2" cy="191.7" r="0.45"/><circle cx="314.3" cy="181.1" r="0.45"/><circle cx="316.6" cy="194.9" r="0.45"/><circle cx="317.1" cy="194.7" r="0.45"/><circle cx="313.2" cy="190.6" r="0.45"/><circle cx="321.2" cy="190.9" r="0.45"/><circle cx="315.0" cy="190.4" r="0.45"/><circle cx="324.8" cy="185.8" r="0.45"/><circle cx="314.9" cy="186.2" r="0.45"/><circle cx="313.1" cy="179.5" r="0.45"/><circle cx="316.3" cy="190.5" r="0.45"/></g><path d="M295.0,191.0 C295.2,190.2 297.5,191.0 299.0,191.5 C300.5,192.0 302.5,193.2 304.0,194.0 C305.5,194.8 307.7,195.0 308.0,196.0 C308.3,197.0 306.2,198.5 306.0,200.0 C305.8,201.5 307.3,203.9 307.0,205.0 C306.7,206.1 304.8,206.8 304.0,206.5 C303.2,206.2 302.5,204.2 302.0,203.0 C301.5,201.8 301.7,200.2 301.0,199.0 C300.3,197.8 299.0,197.3 298.0,196.0 C297.0,194.7 294.8,191.8 295.0,191.0Z" fill="#f6d200" stroke="#f6d200" stroke-width="1.0" stroke-linejoin="round"/><path d="M295.0,191.0 C295.2,190.2 297.5,191.0 299.0,191.5 C300.5,192.0 302.5,193.2 304.0,194.0 C305.5,194.8 307.7,195.0 308.0,196.0 C308.3,197.0 306.2,198.5 306.0,200.0 C305.8,201.5 307.3,203.9 307.0,205.0 C306.7,206.1 304.8,206.8 304.0,206.5 C303.2,206.2 302.5,204.2 302.0,203.0 C301.5,201.8 301.7,200.2 301.0,199.0 C300.3,197.8 299.0,197.3 298.0,196.0 C297.0,194.7 294.8,191.8 295.0,191.0Z" fill="url(#spk2)"/><g fill="#f6d200"><circle cx="298.9" cy="194.8" r="0.45"/><circle cx="309.5" cy="195.0" r="0.45"/><circle cx="309.6" cy="204.5" r="0.45"/><circle cx="294.6" cy="189.5" r="0.45"/><circle cx="295.1" cy="195.9" r="0.45"/><circle cx="303.3" cy="197.1" r="0.45"/><circle cx="296.9" cy="190.7" r="0.45"/><circle cx="307.8" cy="198.3" r="0.45"/><circle cx="301.0" cy="197.0" r="0.45"/><circle cx="302.4" cy="206.0" r="0.45"/><circle cx="303.9" cy="206.6" r="0.45"/><circle cx="308.8" cy="199.4" r="0.45"/></g><path d="M305.0,198.0 C305.6,196.5 308.0,196.6 310.0,196.0 C312.0,195.4 315.5,194.2 317.0,194.5 C318.5,194.8 318.8,196.8 319.0,198.0 C319.2,199.2 319.7,200.8 318.5,202.0 C317.3,203.2 314.0,204.5 312.0,205.0 C310.0,205.5 307.7,206.2 306.5,205.0 C305.3,203.8 304.4,199.5 305.0,198.0Z" fill="#a3151b" stroke="#a3151b" stroke-width="1.0" stroke-linejoin="round"/><path d="M305.0,198.0 C305.6,196.5 308.0,196.6 310.0,196.0 C312.0,195.4 315.5,194.2 317.0,194.5 C318.5,194.8 318.8,196.8 319.0,198.0 C319.2,199.2 319.7,200.8 318.5,202.0 C317.3,203.2 314.0,204.5 312.0,205.0 C310.0,205.5 307.7,206.2 306.5,205.0 C305.3,203.8 304.4,199.5 305.0,198.0Z" fill="url(#spk2)"/><g fill="#a3151b"><circle cx="309.0" cy="207.5" r="0.45"/><circle cx="316.3" cy="196.3" r="0.45"/><circle cx="318.2" cy="196.6" r="0.45"/><circle cx="318.6" cy="198.1" r="0.45"/><circle cx="319.3" cy="198.8" r="0.45"/><circle cx="306.7" cy="205.0" r="0.45"/><circle cx="318.5" cy="202.2" r="0.45"/><circle cx="307.9" cy="197.2" r="0.45"/><circle cx="318.2" cy="201.0" r="0.45"/><circle cx="307.9" cy="197.4" r="0.45"/><circle cx="305.6" cy="199.0" r="0.45"/><circle cx="318.6" cy="202.4" r="0.45"/></g><path d="M231.7,219.2 C232.4,218.4 233.5,218.0 235.3,217.7 C237.1,217.4 240.5,217.1 242.4,217.2 C244.3,217.3 246.0,217.3 247.0,218.2 C248.0,219.0 248.2,220.8 248.6,222.3 C249.0,223.8 249.3,225.7 249.6,227.4 C249.8,229.1 250.4,231.1 250.1,232.5 C249.8,233.9 248.4,234.6 247.5,235.6 C246.6,236.6 245.5,238.1 244.5,238.7 C243.5,239.3 242.6,239.9 241.4,239.2 C240.2,238.5 238.7,235.9 237.3,234.6 C235.9,233.3 234.1,232.9 233.2,231.5 C232.3,230.1 232.0,227.9 231.7,226.4 C231.4,224.9 231.2,223.5 231.2,222.3 C231.2,221.1 231.0,220.0 231.7,219.2Z" fill="#f8c193" stroke="#f8c193" stroke-width="1.0" stroke-linejoin="round"/><path d="M231.7,219.2 C232.4,218.4 233.5,218.0 235.3,217.7 C237.1,217.4 240.5,217.1 242.4,217.2 C244.3,217.3 246.0,217.3 247.0,218.2 C248.0,219.0 248.2,220.8 248.6,222.3 C249.0,223.8 249.3,225.7 249.6,227.4 C249.8,229.1 250.4,231.1 250.1,232.5 C249.8,233.9 248.4,234.6 247.5,235.6 C246.6,236.6 245.5,238.1 244.5,238.7 C243.5,239.3 242.6,239.9 241.4,239.2 C240.2,238.5 238.7,235.9 237.3,234.6 C235.9,233.3 234.1,232.9 233.2,231.5 C232.3,230.1 232.0,227.9 231.7,226.4 C231.4,224.9 231.2,223.5 231.2,222.3 C231.2,221.1 231.0,220.0 231.7,219.2Z" fill="url(#spk2)"/><g fill="#f8c193"><circle cx="235.8" cy="219.0" r="0.45"/><circle cx="248.1" cy="222.6" r="0.45"/><circle cx="232.4" cy="213.9" r="0.45"/><circle cx="247.7" cy="233.3" r="0.45"/><circle cx="231.2" cy="226.0" r="0.45"/><circle cx="241.9" cy="234.4" r="0.45"/><circle cx="244.4" cy="237.5" r="0.45"/><circle cx="236.9" cy="236.0" r="0.45"/><circle cx="235.0" cy="226.7" r="0.45"/><circle cx="236.7" cy="234.4" r="0.45"/><circle cx="251.6" cy="232.9" r="0.45"/><circle cx="233.5" cy="230.0" r="0.45"/></g><path d="M228.6,231.5 C228.9,230.8 230.1,229.5 231.2,229.0 C232.3,228.5 234.3,228.2 235.3,228.4 C236.3,228.7 237.1,229.7 237.3,230.5 C237.5,231.3 237.2,232.5 236.3,233.0 C235.5,233.5 233.4,233.5 232.2,233.5 C231.0,233.5 229.8,233.3 229.2,233.0 C228.6,232.7 228.3,232.2 228.6,231.5Z" fill="#e68bb8" stroke="#e68bb8" stroke-width="1.0" stroke-linejoin="round"/><path d="M228.6,231.5 C228.9,230.8 230.1,229.5 231.2,229.0 C232.3,228.5 234.3,228.2 235.3,228.4 C236.3,228.7 237.1,229.7 237.3,230.5 C237.5,231.3 237.2,232.5 236.3,233.0 C235.5,233.5 233.4,233.5 232.2,233.5 C231.0,233.5 229.8,233.3 229.2,233.0 C228.6,232.7 228.3,232.2 228.6,231.5Z" fill="url(#spk2)"/><g fill="#e68bb8"><circle cx="232.1" cy="232.6" r="0.45"/><circle cx="230.9" cy="234.8" r="0.45"/><circle cx="235.3" cy="227.3" r="0.45"/><circle cx="237.1" cy="230.0" r="0.45"/><circle cx="231.7" cy="231.0" r="0.45"/><circle cx="232.1" cy="227.9" r="0.45"/><circle cx="236.9" cy="228.2" r="0.45"/><circle cx="237.4" cy="229.1" r="0.45"/><circle cx="236.5" cy="229.4" r="0.45"/><circle cx="232.3" cy="230.1" r="0.45"/><circle cx="228.1" cy="232.5" r="0.45"/><circle cx="229.3" cy="231.1" r="0.45"/></g><path d="M278.1,233.1 C278.3,232.5 280.7,230.9 282.2,230.2 C283.7,229.5 285.3,229.0 287.3,228.7 C289.3,228.4 292.5,227.9 294.4,228.2 C296.3,228.4 297.5,229.3 298.5,230.2 C299.5,231.0 299.0,232.3 300.5,233.3 C302.0,234.3 307.3,235.9 307.7,236.4 C308.1,236.9 304.5,236.4 302.6,236.6 C300.7,236.8 298.6,237.3 296.5,237.4 C294.4,237.5 292.0,237.8 290.3,237.4 C288.6,237.1 287.7,235.9 286.2,235.3 C284.7,234.7 282.5,234.2 281.1,233.8 C279.8,233.4 277.9,233.7 278.1,233.1Z" fill="#13a097" stroke="#13a097" stroke-width="1.0" stroke-linejoin="round"/><path d="M278.1,233.1 C278.3,232.5 280.7,230.9 282.2,230.2 C283.7,229.5 285.3,229.0 287.3,228.7 C289.3,228.4 292.5,227.9 294.4,228.2 C296.3,228.4 297.5,229.3 298.5,230.2 C299.5,231.0 299.0,232.3 300.5,233.3 C302.0,234.3 307.3,235.9 307.7,236.4 C308.1,236.9 304.5,236.4 302.6,236.6 C300.7,236.8 298.6,237.3 296.5,237.4 C294.4,237.5 292.0,237.8 290.3,237.4 C288.6,237.1 287.7,235.9 286.2,235.3 C284.7,234.7 282.5,234.2 281.1,233.8 C279.8,233.4 277.9,233.7 278.1,233.1Z" fill="url(#spk2)"/><g fill="#13a097"><circle cx="299.0" cy="237.2" r="0.45"/><circle cx="290.7" cy="241.1" r="0.45"/><circle cx="281.2" cy="227.0" r="0.45"/><circle cx="278.1" cy="232.3" r="0.45"/><circle cx="302.5" cy="235.4" r="0.45"/><circle cx="309.9" cy="234.0" r="0.45"/><circle cx="298.4" cy="230.8" r="0.45"/><circle cx="300.8" cy="232.6" r="0.45"/><circle cx="284.3" cy="232.4" r="0.45"/><circle cx="286.6" cy="226.5" r="0.45"/><circle cx="295.4" cy="229.2" r="0.45"/><circle cx="294.1" cy="237.2" r="0.45"/></g><path d="M315.9,238.9 C316.6,238.5 319.0,237.8 320.0,238.2 C321.0,238.6 321.1,240.1 322.0,241.5 C322.9,242.9 325.3,245.1 325.6,246.6 C325.9,248.1 324.9,249.5 324.0,250.7 C323.1,251.9 321.0,253.0 320.0,253.7 C319.0,254.4 318.4,255.2 317.9,254.7 C317.4,254.2 317.1,252.4 316.9,250.7 C316.7,249.0 317.1,246.2 316.9,244.5 C316.7,242.8 316.1,241.3 315.9,240.4 C315.7,239.5 315.2,239.3 315.9,238.9Z" fill="#13a097" stroke="#13a097" stroke-width="1.0" stroke-linejoin="round"/><path d="M315.9,238.9 C316.6,238.5 319.0,237.8 320.0,238.2 C321.0,238.6 321.1,240.1 322.0,241.5 C322.9,242.9 325.3,245.1 325.6,246.6 C325.9,248.1 324.9,249.5 324.0,250.7 C323.1,251.9 321.0,253.0 320.0,253.7 C319.0,254.4 318.4,255.2 317.9,254.7 C317.4,254.2 317.1,252.4 316.9,250.7 C316.7,249.0 317.1,246.2 316.9,244.5 C316.7,242.8 316.1,241.3 315.9,240.4 C315.7,239.5 315.2,239.3 315.9,238.9Z" fill="url(#spk2)"/><g fill="#13a097"><circle cx="318.1" cy="255.2" r="0.45"/><circle cx="322.0" cy="239.8" r="0.45"/><circle cx="319.3" cy="239.5" r="0.45"/><circle cx="320.2" cy="254.6" r="0.45"/><circle cx="318.8" cy="257.7" r="0.45"/><circle cx="316.3" cy="239.0" r="0.45"/><circle cx="315.8" cy="240.2" r="0.45"/><circle cx="315.3" cy="240.7" r="0.45"/><circle cx="327.2" cy="244.0" r="0.45"/><circle cx="323.6" cy="248.3" r="0.45"/><circle cx="323.0" cy="251.2" r="0.45"/><circle cx="324.1" cy="250.6" r="0.45"/></g><path d="M250.1,272.5 C250.4,271.6 250.7,270.7 252.3,270.3 C253.9,269.9 257.4,270.1 259.6,270.3 C261.8,270.6 264.3,271.1 265.4,271.8 C266.5,272.5 266.9,273.9 266.2,274.7 C265.5,275.5 263.1,276.5 261.0,276.9 C258.9,277.3 255.6,277.4 253.8,277.2 C252.1,276.9 251.1,276.2 250.5,275.4 C249.9,274.6 249.8,273.4 250.1,272.5Z" fill="#c3178d" stroke="#c3178d" stroke-width="1.0" stroke-linejoin="round"/><path d="M250.1,272.5 C250.4,271.6 250.7,270.7 252.3,270.3 C253.9,269.9 257.4,270.1 259.6,270.3 C261.8,270.6 264.3,271.1 265.4,271.8 C266.5,272.5 266.9,273.9 266.2,274.7 C265.5,275.5 263.1,276.5 261.0,276.9 C258.9,277.3 255.6,277.4 253.8,277.2 C252.1,276.9 251.1,276.2 250.5,275.4 C249.9,274.6 249.8,273.4 250.1,272.5Z" fill="url(#spk2)"/><g fill="#c3178d"><circle cx="268.7" cy="273.9" r="0.45"/><circle cx="265.4" cy="271.7" r="0.45"/><circle cx="251.9" cy="273.2" r="0.45"/><circle cx="250.8" cy="273.3" r="0.45"/><circle cx="255.0" cy="271.4" r="0.45"/><circle cx="263.1" cy="274.1" r="0.45"/><circle cx="260.9" cy="270.0" r="0.45"/><circle cx="247.1" cy="275.6" r="0.45"/><circle cx="258.7" cy="279.5" r="0.45"/><circle cx="251.3" cy="270.7" r="0.45"/><circle cx="255.8" cy="278.8" r="0.45"/><circle cx="260.8" cy="277.1" r="0.45"/></g><path d="M315.0,255.4 C315.3,253.8 317.2,252.2 318.0,252.5 C318.8,252.8 319.6,254.8 319.8,257.0 C320.1,259.2 319.3,263.6 319.5,265.7 C319.7,267.8 320.3,268.5 321.0,269.5 C321.7,270.5 322.4,270.6 323.8,271.5 C325.2,272.4 329.2,273.9 329.7,275.1 C330.2,276.3 328.8,277.5 326.8,278.8 C324.9,280.1 320.4,281.5 318.0,283.2 C315.6,284.9 314.1,287.8 312.2,289.0 C310.2,290.2 309.0,290.3 306.3,290.5 C303.6,290.7 298.9,290.4 296.0,290.0 C293.1,289.6 290.7,288.8 288.8,288.0 C286.9,287.2 285.9,286.2 284.4,285.0 C282.9,283.8 279.9,282.0 280.0,281.0 C280.1,280.0 281.7,279.7 285.0,279.0 C288.3,278.3 296.2,278.2 300.0,277.0 C303.8,275.8 305.7,273.4 308.0,272.0 C310.3,270.6 312.3,270.3 313.6,268.6 C314.9,266.9 315.8,264.2 316.0,262.0 C316.2,259.8 314.7,257.0 315.0,255.4Z" fill="#3b70c2" stroke="#3b70c2" stroke-width="1.0" stroke-linejoin="round"/><path d="M315.0,255.4 C315.3,253.8 317.2,252.2 318.0,252.5 C318.8,252.8 319.6,254.8 319.8,257.0 C320.1,259.2 319.3,263.6 319.5,265.7 C319.7,267.8 320.3,268.5 321.0,269.5 C321.7,270.5 322.4,270.6 323.8,271.5 C325.2,272.4 329.2,273.9 329.7,275.1 C330.2,276.3 328.8,277.5 326.8,278.8 C324.9,280.1 320.4,281.5 318.0,283.2 C315.6,284.9 314.1,287.8 312.2,289.0 C310.2,290.2 309.0,290.3 306.3,290.5 C303.6,290.7 298.9,290.4 296.0,290.0 C293.1,289.6 290.7,288.8 288.8,288.0 C286.9,287.2 285.9,286.2 284.4,285.0 C282.9,283.8 279.9,282.0 280.0,281.0 C280.1,280.0 281.7,279.7 285.0,279.0 C288.3,278.3 296.2,278.2 300.0,277.0 C303.8,275.8 305.7,273.4 308.0,272.0 C310.3,270.6 312.3,270.3 313.6,268.6 C314.9,266.9 315.8,264.2 316.0,262.0 C316.2,259.8 314.7,257.0 315.0,255.4Z" fill="url(#spk2)"/><g fill="#3b70c2"><circle cx="319.2" cy="250.7" r="0.45"/><circle cx="325.7" cy="273.6" r="0.45"/><circle cx="320.7" cy="261.8" r="0.45"/><circle cx="321.5" cy="279.3" r="0.45"/><circle cx="315.1" cy="254.2" r="0.45"/><circle cx="314.7" cy="259.7" r="0.45"/><circle cx="281.2" cy="276.7" r="0.45"/><circle cx="311.6" cy="270.6" r="0.45"/><circle cx="319.3" cy="281.8" r="0.45"/><circle cx="321.7" cy="269.3" r="0.45"/><circle cx="316.3" cy="259.9" r="0.45"/><circle cx="313.2" cy="263.6" r="0.45"/></g><path d="M266.9,270.0 C268.0,268.8 270.3,267.1 272.0,266.0 C273.7,264.9 275.3,263.8 277.1,263.5 C278.9,263.2 281.1,264.0 283.0,264.5 C284.9,265.0 286.3,265.9 288.8,266.4 C291.3,266.9 295.3,267.2 298.0,267.5 C300.7,267.8 303.1,267.6 305.0,268.0 C306.9,268.4 308.5,268.8 309.2,270.0 C309.9,271.2 309.2,273.5 309.0,275.0 C308.8,276.5 309.3,277.7 307.8,278.8 C306.3,279.9 302.4,280.8 300.0,281.5 C297.6,282.2 295.8,282.9 293.2,283.2 C290.6,283.5 287.1,283.9 284.4,283.2 C281.7,282.5 279.8,280.0 277.1,278.8 C274.4,277.6 270.3,276.9 268.4,275.9 C266.5,274.9 265.8,274.0 265.5,273.0 C265.2,272.0 265.8,271.2 266.9,270.0Z" fill="#cda2d8" stroke="#cda2d8" stroke-width="1.0" stroke-linejoin="round"/><path d="M266.9,270.0 C268.0,268.8 270.3,267.1 272.0,266.0 C273.7,264.9 275.3,263.8 277.1,263.5 C278.9,263.2 281.1,264.0 283.0,264.5 C284.9,265.0 286.3,265.9 288.8,266.4 C291.3,266.9 295.3,267.2 298.0,267.5 C300.7,267.8 303.1,267.6 305.0,268.0 C306.9,268.4 308.5,268.8 309.2,270.0 C309.9,271.2 309.2,273.5 309.0,275.0 C308.8,276.5 309.3,277.7 307.8,278.8 C306.3,279.9 302.4,280.8 300.0,281.5 C297.6,282.2 295.8,282.9 293.2,283.2 C290.6,283.5 287.1,283.9 284.4,283.2 C281.7,282.5 279.8,280.0 277.1,278.8 C274.4,277.6 270.3,276.9 268.4,275.9 C266.5,274.9 265.8,274.0 265.5,273.0 C265.2,272.0 265.8,271.2 266.9,270.0Z" fill="url(#spk2)"/><g fill="#cda2d8"><circle cx="303.3" cy="277.1" r="0.45"/><circle cx="272.9" cy="267.5" r="0.45"/><circle cx="310.6" cy="275.7" r="0.45"/><circle cx="268.2" cy="268.9" r="0.45"/><circle cx="297.6" cy="284.4" r="0.45"/><circle cx="308.0" cy="275.8" r="0.45"/><circle cx="267.3" cy="271.8" r="0.45"/><circle cx="309.1" cy="276.0" r="0.45"/><circle cx="300.7" cy="280.7" r="0.45"/><circle cx="295.4" cy="282.2" r="0.45"/><circle cx="310.0" cy="279.1" r="0.45"/><circle cx="302.7" cy="270.4" r="0.45"/></g><path d="M284.4,289.0 C286.0,287.8 290.0,288.6 293.2,289.0 C296.4,289.4 300.5,290.9 303.4,291.2 C306.3,291.4 309.6,289.6 310.7,290.5 C311.8,291.4 310.7,294.1 310.0,296.3 C309.3,298.5 307.9,301.4 306.3,303.6 C304.7,305.8 302.7,307.8 300.5,309.5 C298.3,311.2 295.3,313.4 293.2,313.8 C291.1,314.2 289.4,313.1 288.0,311.6 C286.6,310.1 285.8,307.6 285.1,305.0 C284.4,302.4 283.8,299.0 283.7,296.3 C283.6,293.6 282.8,290.2 284.4,289.0Z" fill="#4b1f6f" stroke="#4b1f6f" stroke-width="1.0" stroke-linejoin="round"/><path d="M284.4,289.0 C286.0,287.8 290.0,288.6 293.2,289.0 C296.4,289.4 300.5,290.9 303.4,291.2 C306.3,291.4 309.6,289.6 310.7,290.5 C311.8,291.4 310.7,294.1 310.0,296.3 C309.3,298.5 307.9,301.4 306.3,303.6 C304.7,305.8 302.7,307.8 300.5,309.5 C298.3,311.2 295.3,313.4 293.2,313.8 C291.1,314.2 289.4,313.1 288.0,311.6 C286.6,310.1 285.8,307.6 285.1,305.0 C284.4,302.4 283.8,299.0 283.7,296.3 C283.6,293.6 282.8,290.2 284.4,289.0Z" fill="url(#spk2)"/><g fill="#4b1f6f"><circle cx="290.1" cy="312.8" r="0.45"/><circle cx="309.0" cy="300.6" r="0.45"/><circle cx="283.6" cy="292.5" r="0.45"/><circle cx="283.2" cy="303.3" r="0.45"/><circle cx="303.9" cy="307.1" r="0.45"/><circle cx="290.7" cy="289.6" r="0.45"/><circle cx="311.0" cy="294.0" r="0.45"/><circle cx="310.6" cy="292.5" r="0.45"/><circle cx="293.4" cy="313.3" r="0.45"/><circle cx="285.4" cy="288.7" r="0.45"/><circle cx="307.0" cy="290.0" r="0.45"/><circle cx="284.3" cy="302.0" r="0.45"/></g><path d="M315.0,280.0 C315.5,278.8 318.2,277.3 320.0,276.5 C321.8,275.7 324.1,275.0 326.0,275.0 C327.9,275.0 331.2,275.8 331.5,276.5 C331.8,277.2 329.6,278.2 328.0,279.0 C326.4,279.8 323.8,280.8 322.0,281.5 C320.2,282.2 318.2,283.8 317.0,283.5 C315.8,283.2 314.5,281.2 315.0,280.0Z" fill="#a3cf3f" stroke="#a3cf3f" stroke-width="1.0" stroke-linejoin="round"/><path d="M315.0,280.0 C315.5,278.8 318.2,277.3 320.0,276.5 C321.8,275.7 324.1,275.0 326.0,275.0 C327.9,275.0 331.2,275.8 331.5,276.5 C331.8,277.2 329.6,278.2 328.0,279.0 C326.4,279.8 323.8,280.8 322.0,281.5 C320.2,282.2 318.2,283.8 317.0,283.5 C315.8,283.2 314.5,281.2 315.0,280.0Z" fill="url(#spk2)"/><g fill="#a3cf3f"><circle cx="319.3" cy="276.3" r="0.45"/><circle cx="317.3" cy="282.4" r="0.45"/><circle cx="326.8" cy="281.6" r="0.45"/><circle cx="318.5" cy="283.0" r="0.45"/><circle cx="327.7" cy="276.9" r="0.45"/><circle cx="319.4" cy="276.2" r="0.45"/><circle cx="321.7" cy="283.1" r="0.45"/><circle cx="322.8" cy="275.5" r="0.45"/><circle cx="315.4" cy="282.8" r="0.45"/><circle cx="318.2" cy="277.3" r="0.45"/><circle cx="317.6" cy="280.2" r="0.45"/><circle cx="330.1" cy="275.9" r="0.45"/></g><path d="M342.4,261.2 C343.0,260.2 343.9,259.5 345.4,259.2 C346.9,258.9 349.4,258.7 351.6,259.2 C353.8,259.7 356.7,261.4 358.7,262.3 C360.7,263.2 362.4,263.5 363.8,264.3 C365.2,265.1 366.7,266.5 366.9,267.4 C367.1,268.2 365.7,268.1 364.9,269.4 C364.1,270.7 362.5,273.1 362.0,275.0 C361.5,276.9 360.8,279.4 361.8,280.7 C362.8,282.0 366.0,282.0 367.9,282.7 C369.8,283.4 373.7,284.2 373.0,284.7 C372.3,285.2 365.8,285.1 363.8,285.8 C361.8,286.5 361.5,287.5 360.8,288.8 C360.1,290.1 360.4,292.9 359.7,293.9 C359.0,294.9 357.4,295.9 356.7,295.0 C356.0,294.1 356.4,290.9 355.7,288.8 C355.0,286.8 353.8,284.4 352.6,282.7 C351.4,281.0 349.5,279.8 348.5,278.6 C347.5,277.4 347.4,276.9 346.5,275.5 C345.6,274.1 344.2,272.1 343.4,270.4 C342.6,268.7 342.1,266.8 341.9,265.3 C341.7,263.8 341.8,262.2 342.4,261.2Z" fill="#a3cf3f" stroke="#a3cf3f" stroke-width="1.0" stroke-linejoin="round"/><path d="M342.4,261.2 C343.0,260.2 343.9,259.5 345.4,259.2 C346.9,258.9 349.4,258.7 351.6,259.2 C353.8,259.7 356.7,261.4 358.7,262.3 C360.7,263.2 362.4,263.5 363.8,264.3 C365.2,265.1 366.7,266.5 366.9,267.4 C367.1,268.2 365.7,268.1 364.9,269.4 C364.1,270.7 362.5,273.1 362.0,275.0 C361.5,276.9 360.8,279.4 361.8,280.7 C362.8,282.0 366.0,282.0 367.9,282.7 C369.8,283.4 373.7,284.2 373.0,284.7 C372.3,285.2 365.8,285.1 363.8,285.8 C361.8,286.5 361.5,287.5 360.8,288.8 C360.1,290.1 360.4,292.9 359.7,293.9 C359.0,294.9 357.4,295.9 356.7,295.0 C356.0,294.1 356.4,290.9 355.7,288.8 C355.0,286.8 353.8,284.4 352.6,282.7 C351.4,281.0 349.5,279.8 348.5,278.6 C347.5,277.4 347.4,276.9 346.5,275.5 C345.6,274.1 344.2,272.1 343.4,270.4 C342.6,268.7 342.1,266.8 341.9,265.3 C341.7,263.8 341.8,262.2 342.4,261.2Z" fill="url(#spk2)"/><g fill="#a3cf3f"><circle cx="342.3" cy="260.4" r="0.45"/><circle cx="354.2" cy="260.3" r="0.45"/><circle cx="361.5" cy="273.3" r="0.45"/><circle cx="363.3" cy="265.5" r="0.45"/><circle cx="364.0" cy="282.7" r="0.45"/><circle cx="359.9" cy="289.3" r="0.45"/><circle cx="367.8" cy="269.8" r="0.45"/><circle cx="341.7" cy="272.4" r="0.45"/><circle cx="368.3" cy="285.6" r="0.45"/><circle cx="349.0" cy="260.2" r="0.45"/><circle cx="344.3" cy="264.3" r="0.45"/><circle cx="342.9" cy="271.9" r="0.45"/></g><path d="M360.8,286.8 C361.5,285.5 363.7,285.5 365.9,285.3 C368.1,285.1 371.3,285.4 374.0,285.8 C376.7,286.2 380.0,287.0 382.2,287.8 C384.4,288.6 386.3,289.9 387.3,290.9 C388.3,291.9 388.9,293.1 388.4,294.0 C387.9,294.9 386.7,295.8 384.3,296.0 C381.9,296.2 377.1,295.7 374.0,295.5 C370.9,295.3 367.9,295.4 365.9,295.0 C363.9,294.6 362.6,294.3 361.8,292.9 C361.0,291.5 360.1,288.1 360.8,286.8Z" fill="#0d6a3a" stroke="#0d6a3a" stroke-width="1.0" stroke-linejoin="round"/><path d="M360.8,286.8 C361.5,285.5 363.7,285.5 365.9,285.3 C368.1,285.1 371.3,285.4 374.0,285.8 C376.7,286.2 380.0,287.0 382.2,287.8 C384.4,288.6 386.3,289.9 387.3,290.9 C388.3,291.9 388.9,293.1 388.4,294.0 C387.9,294.9 386.7,295.8 384.3,296.0 C381.9,296.2 377.1,295.7 374.0,295.5 C370.9,295.3 367.9,295.4 365.9,295.0 C363.9,294.6 362.6,294.3 361.8,292.9 C361.0,291.5 360.1,288.1 360.8,286.8Z" fill="url(#spk2)"/><g fill="#0d6a3a"><circle cx="363.0" cy="285.2" r="0.45"/><circle cx="375.4" cy="284.6" r="0.45"/><circle cx="374.0" cy="289.1" r="0.45"/><circle cx="364.9" cy="287.4" r="0.45"/><circle cx="365.2" cy="286.6" r="0.45"/><circle cx="384.2" cy="288.2" r="0.45"/><circle cx="373.9" cy="287.5" r="0.45"/><circle cx="381.5" cy="287.8" r="0.45"/><circle cx="372.9" cy="283.6" r="0.45"/><circle cx="364.6" cy="288.5" r="0.45"/><circle cx="388.6" cy="293.3" r="0.45"/><circle cx="363.3" cy="294.6" r="0.45"/></g><path d="M367.9,269.9 C368.1,269.4 369.6,268.7 371.0,268.4 C372.4,268.1 374.6,267.7 376.1,267.9 C377.6,268.1 379.4,268.7 380.2,269.4 C381.0,270.1 381.5,271.5 381.2,272.0 C380.9,272.5 379.5,272.5 378.1,272.5 C376.7,272.5 374.4,272.2 373.0,272.0 C371.6,271.8 370.9,271.9 370.0,271.5 C369.1,271.1 367.7,270.4 367.9,269.9Z" fill="#b0521c" stroke="#b0521c" stroke-width="1.0" stroke-linejoin="round"/><path d="M367.9,269.9 C368.1,269.4 369.6,268.7 371.0,268.4 C372.4,268.1 374.6,267.7 376.1,267.9 C377.6,268.1 379.4,268.7 380.2,269.4 C381.0,270.1 381.5,271.5 381.2,272.0 C380.9,272.5 379.5,272.5 378.1,272.5 C376.7,272.5 374.4,272.2 373.0,272.0 C371.6,271.8 370.9,271.9 370.0,271.5 C369.1,271.1 367.7,270.4 367.9,269.9Z" fill="url(#spk2)"/><g fill="#b0521c"><circle cx="372.5" cy="269.1" r="0.45"/><circle cx="372.2" cy="266.2" r="0.45"/><circle cx="379.9" cy="267.3" r="0.45"/><circle cx="372.4" cy="270.8" r="0.45"/><circle cx="382.7" cy="273.1" r="0.45"/><circle cx="383.5" cy="273.6" r="0.45"/><circle cx="375.0" cy="270.0" r="0.45"/><circle cx="382.9" cy="272.7" r="0.45"/><circle cx="369.6" cy="268.1" r="0.45"/><circle cx="376.3" cy="268.7" r="0.45"/><circle cx="367.2" cy="272.4" r="0.45"/><circle cx="378.9" cy="269.5" r="0.45"/></g><path d="M375.0,206.4 C375.9,205.4 376.4,204.5 379.7,204.1 C383.0,203.7 391.6,203.7 394.9,204.1 C398.2,204.5 398.5,205.1 399.6,206.4 C400.7,207.7 401.3,209.9 401.5,212.1 C401.7,214.3 401.4,217.8 400.6,219.7 C399.8,221.6 398.7,222.5 396.8,223.5 C394.9,224.5 391.4,225.5 389.2,225.8 C387.0,226.1 385.4,226.1 383.5,225.4 C381.6,224.7 379.2,223.2 377.8,221.6 C376.4,220.0 375.6,217.8 375.0,215.9 C374.4,214.0 374.0,211.8 374.0,210.2 C374.0,208.6 374.1,207.4 375.0,206.4Z" fill="#828282" stroke="#828282" stroke-width="1.0" stroke-linejoin="round"/><path d="M375.0,206.4 C375.9,205.4 376.4,204.5 379.7,204.1 C383.0,203.7 391.6,203.7 394.9,204.1 C398.2,204.5 398.5,205.1 399.6,206.4 C400.7,207.7 401.3,209.9 401.5,212.1 C401.7,214.3 401.4,217.8 400.6,219.7 C399.8,221.6 398.7,222.5 396.8,223.5 C394.9,224.5 391.4,225.5 389.2,225.8 C387.0,226.1 385.4,226.1 383.5,225.4 C381.6,224.7 379.2,223.2 377.8,221.6 C376.4,220.0 375.6,217.8 375.0,215.9 C374.4,214.0 374.0,211.8 374.0,210.2 C374.0,208.6 374.1,207.4 375.0,206.4Z" fill="url(#spk2)"/><g fill="#828282"><circle cx="389.1" cy="204.5" r="0.45"/><circle cx="399.3" cy="208.7" r="0.45"/><circle cx="377.1" cy="215.9" r="0.45"/><circle cx="394.8" cy="203.8" r="0.45"/><circle cx="386.3" cy="225.5" r="0.45"/><circle cx="400.1" cy="220.4" r="0.45"/><circle cx="374.4" cy="210.2" r="0.45"/><circle cx="395.8" cy="221.9" r="0.45"/><circle cx="399.1" cy="203.8" r="0.45"/><circle cx="402.3" cy="207.5" r="0.45"/><circle cx="399.4" cy="220.3" r="0.45"/><circle cx="400.1" cy="222.0" r="0.45"/></g><path d="M354.6,268.5 C355.2,267.3 356.8,266.9 358.0,267.0 C359.2,267.1 361.0,268.2 362.0,269.0 C363.0,269.8 364.0,270.7 364.0,272.0 C364.0,273.3 362.8,275.8 362.0,277.0 C361.2,278.2 360.0,279.3 359.0,279.5 C358.0,279.7 356.8,278.9 356.0,278.0 C355.2,277.1 354.7,275.6 354.5,274.0 C354.3,272.4 354.0,269.7 354.6,268.5Z" fill="#ffffff" opacity="0.85"/><path d="M318.5,250 Q317,258 315.5,266" stroke="#3b70c2" stroke-width="2.2" fill="none"/><g fill="#3b70c2"><circle cx="275.7" cy="276.6" r="0.6"/><circle cx="278.3" cy="278.2" r="0.6"/><circle cx="277.7" cy="277.6" r="0.6"/><circle cx="282.1" cy="280.0" r="0.6"/><circle cx="281.4" cy="280.2" r="0.6"/><circle cx="283.3" cy="280.0" r="0.6"/><circle cx="273.7" cy="279.8" r="0.6"/><circle cx="274.4" cy="278.7" r="0.6"/><circle cx="269.0" cy="276.9" r="0.6"/><circle cx="271.1" cy="282.0" r="0.6"/><circle cx="273.4" cy="279.8" r="0.6"/><circle cx="277.0" cy="280.5" r="0.6"/><circle cx="269.0" cy="279.9" r="0.6"/><circle cx="271.5" cy="281.9" r="0.6"/><circle cx="277.3" cy="276.6" r="0.6"/><circle cx="276.9" cy="281.0" r="0.6"/><circle cx="274.6" cy="278.2" r="0.6"/><circle cx="277.4" cy="281.8" r="0.6"/><circle cx="268.5" cy="277.7" r="0.6"/><circle cx="280.1" cy="278.5" r="0.6"/><circle cx="273.8" cy="282.4" r="0.6"/><circle cx="274.0" cy="280.1" r="0.6"/><circle cx="275.2" cy="280.5" r="0.6"/><circle cx="274.8" cy="280.8" r="0.6"/><circle cx="270.1" cy="277.4" r="0.6"/><circle cx="281.3" cy="276.4" r="0.6"/><circle cx="272.8" cy="280.0" r="0.6"/><circle cx="281.4" cy="278.8" r="0.6"/><circle cx="276.1" cy="279.4" r="0.6"/><circle cx="271.0" cy="279.1" r="0.6"/><circle cx="277.5" cy="277.9" r="0.6"/><circle cx="278.7" cy="280.0" r="0.6"/><circle cx="270.7" cy="278.7" r="0.6"/><circle cx="276.2" cy="280.4" r="0.6"/><circle cx="281.3" cy="278.9" r="0.6"/></g><g fill="#3b70c2"><circle cx="298.2" cy="283.6" r="0.6"/><circle cx="289.9" cy="284.0" r="0.6"/><circle cx="300.9" cy="284.3" r="0.6"/><circle cx="298.1" cy="282.2" r="0.6"/><circle cx="288.6" cy="282.1" r="0.6"/><circle cx="303.8" cy="289.9" r="0.6"/><circle cx="301.9" cy="284.0" r="0.6"/><circle cx="300.7" cy="277.9" r="0.6"/><circle cx="297.4" cy="284.2" r="0.6"/><circle cx="305.6" cy="284.0" r="0.6"/><circle cx="296.6" cy="281.5" r="0.6"/><circle cx="307.4" cy="280.2" r="0.6"/><circle cx="301.5" cy="284.5" r="0.6"/><circle cx="299.2" cy="285.4" r="0.6"/><circle cx="293.6" cy="281.7" r="0.6"/><circle cx="299.9" cy="283.1" r="0.6"/><circle cx="305.8" cy="279.6" r="0.6"/><circle cx="301.3" cy="282.0" r="0.6"/><circle cx="302.6" cy="281.1" r="0.6"/><circle cx="297.1" cy="284.6" r="0.6"/><circle cx="295.1" cy="283.2" r="0.6"/><circle cx="292.0" cy="284.0" r="0.6"/><circle cx="302.6" cy="282.2" r="0.6"/><circle cx="297.5" cy="283.1" r="0.6"/><circle cx="305.3" cy="285.0" r="0.6"/></g><circle cx="339" cy="211" r="0.9" fill="#111"/><line x1="357.70" y1="266.90" x2="362.30" y2="262.30" stroke="#111" stroke-width="0.8"/><text x="289.70" y="169.70" font-size="9.5" fill="#262626" stroke="#262626">InhN.Pvalb</text><text x="248.70" y="181.00" font-size="9.5" fill="#262626" stroke="#262626">InhN.Sst</text><text x="304.00" y="182.30" font-size="9.5" fill="#262626" stroke="#262626">InhN.Lamp5</text><text x="272.80" y="194.40" font-size="9.5" fill="#262626" stroke="#262626">InhN.Ntng1</text><text x="318.40" y="207.20" font-size="9.5" fill="#262626" stroke="#262626">InhN.Vip</text><text x="238.80" y="209.00" font-size="9.5" fill="#262626" stroke="#262626">ExN.SUB</text><text x="240.70" y="220.00" font-size="9.5" fill="#262626" stroke="#262626">Cntnap4</text><text x="297.00" y="219.00" font-size="9.5" fill="#262626" stroke="#262626">ExN.IT</text><text x="298.50" y="230.50" font-size="9.5" fill="#262626" stroke="#262626">Tshz2</text><text x="331.30" y="219.60" font-size="9.5" fill="#262626" stroke="#262626">ExN.CR</text><text x="368.70" y="222.40" font-size="9.5" fill="#262626" stroke="#262626">ExN.DG</text><text x="223.80" y="241.00" font-size="9.5" fill="#262626" stroke="#262626">ExN.Ccn2</text><text x="223.80" y="259.00" font-size="9.5" fill="#262626" stroke="#262626">ExN.SUB</text><text x="235.00" y="270.00" font-size="9.5" fill="#262626" stroke="#262626">Fn1</text><text x="266.70" y="272.00" font-size="9.5" fill="#262626" stroke="#262626">ExN.CA1−ve−ProS</text><text x="344.00" y="260.40" font-size="9.5" fill="#262626" stroke="#262626">ExN.CA3−ve</text><text x="363.60" y="279.60" font-size="9.5" fill="#262626" stroke="#262626">ExN.Mossy</text><text x="296.00" y="290.60" font-size="9.5" fill="#262626" stroke="#262626">ExN.CA1−ve</text><text x="344.60" y="301.80" font-size="9.5" fill="#262626" stroke="#262626">ExN.CA3−do</text><text x="264.00" y="310.80" font-size="9.5" fill="#262626" stroke="#262626">ExN.CA1−do</text><text x="439.00" y="161.80" font-size="16.5" fill="#222" stroke="#222" stroke-width="0.3">D</text><text x="543.20" y="157.50" font-size="9.0" fill="#262626" stroke="#262626" text-anchor="middle">ventral/dorsal</text><defs><linearGradient id="d_pv" x1="0" y1="0" x2="1" y2="0"><stop offset="0" stop-color="#6a5db5"/><stop offset="0.6" stop-color="#8d84c6"/><stop offset="1" stop-color="#b3a9c9"/></linearGradient><linearGradient id="d_sst" x1="0" y1="0" x2="1" y2="0"><stop offset="0" stop-color="#9a8fc2"/><stop offset="1" stop-color="#c2b3c3"/></linearGradient><linearGradient id="d_l5" x1="0" y1="0" x2="0" y2="1"><stop offset="0" stop-color="#c79a94"/><stop offset="1" stop-color="#c2897c"/></linearGradient><linearGradient id="d_pe" x1="0" y1="0" x2="0" y2="1"><stop offset="0" stop-color="#b6503c"/><stop offset="0.45" stop-color="#c49890"/><stop offset="1" stop-color="#c9bfc6"/></linearGradient><linearGradient id="d_it1" x1="0" y1="0" x2="1" y2="0"><stop offset="0" stop-color="#c9a5a0"/><stop offset="0.5" stop-color="#c8aaa8"/><stop offset="1" stop-color="#c07866"/></linearGradient><linearGradient id="d_it2" x1="0" y1="0" x2="0" y2="1"><stop offset="0" stop-color="#c8aaa4"/><stop offset="1" stop-color="#c9c0c6"/></linearGradient><linearGradient id="d_fn1" x1="0" y1="0" x2="0" y2="1"><stop offset="0" stop-color="#c9bcc4"/><stop offset="1" stop-color="#c07e6c"/></linearGradient><linearGradient id="d_do" x1="0" y1="0" x2="0" y2="1"><stop offset="0" stop-color="#7d6fbd"/><stop offset="0.35" stop-color="#c3bac8"/><stop offset="0.7" stop-color="#c69a8c"/><stop offset="1" stop-color="#b9654d"/></linearGradient><linearGradient id="d_ca3" x1="0" y1="0" x2="0" y2="1"><stop offset="0" stop-color="#6a5db8"/><stop offset="0.55" stop-color="#9a90c8"/><stop offset="1" stop-color="#c7bfc9"/></linearGradient><linearGradient id="d_ca3d" x1="0" y1="0" x2="1" y2="0"><stop offset="0" stop-color="#c9b8c0"/><stop offset="0.5" stop-color="#c4907f"/><stop offset="1" stop-color="#b85a44"/></linearGradient><linearGradient id="d_dg" x1="0" y1="0" x2="1" y2="0"><stop offset="0" stop-color="#c6aaa8"/><stop offset="0.3" stop-color="#c07a68"/><stop offset="1" stop-color="#b24b38"/></linearGradient></defs><path d="M492.0,181.0 C492.0,179.8 493.8,176.9 495.0,175.0 C496.2,173.1 497.6,170.8 499.3,169.7 C501.1,168.6 503.3,168.1 505.5,168.2 C507.7,168.3 510.4,169.3 512.6,170.2 C514.8,171.0 516.8,172.4 518.8,173.3 C520.8,174.2 524.4,175.2 524.9,175.8 C525.4,176.4 523.1,176.7 522.0,177.0 C520.9,177.3 519.4,177.0 518.5,177.6 C517.6,178.2 517.0,179.4 516.5,180.5 C516.0,181.6 516.9,183.4 515.5,184.0 C514.1,184.6 510.4,184.3 508.0,184.0 C505.6,183.7 503.2,182.3 501.0,182.0 C498.8,181.7 496.5,182.2 495.0,182.0 C493.5,181.8 492.0,182.2 492.0,181.0Z" fill="url(#d_pv)" stroke="url(#d_pv)" stroke-width="2.2" stroke-linejoin="round"/><path d="M492.0,181.0 C492.0,179.8 493.8,176.9 495.0,175.0 C496.2,173.1 497.6,170.8 499.3,169.7 C501.1,168.6 503.3,168.1 505.5,168.2 C507.7,168.3 510.4,169.3 512.6,170.2 C514.8,171.0 516.8,172.4 518.8,173.3 C520.8,174.2 524.4,175.2 524.9,175.8 C525.4,176.4 523.1,176.7 522.0,177.0 C520.9,177.3 519.4,177.0 518.5,177.6 C517.6,178.2 517.0,179.4 516.5,180.5 C516.0,181.6 516.9,183.4 515.5,184.0 C514.1,184.6 510.4,184.3 508.0,184.0 C505.6,183.7 503.2,182.3 501.0,182.0 C498.8,181.7 496.5,182.2 495.0,182.0 C493.5,181.8 492.0,182.2 492.0,181.0Z" fill="url(#spk)"/><path d="M492.0,180.0 C492.6,179.4 494.2,179.3 496.0,179.5 C497.8,179.7 500.7,180.4 503.0,181.0 C505.3,181.6 507.8,182.5 510.0,183.0 C512.2,183.5 514.5,183.2 516.0,184.0 C517.5,184.8 518.2,186.7 519.0,188.0 C519.8,189.3 521.3,191.4 521.0,192.0 C520.7,192.6 518.6,191.8 517.0,191.5 C515.4,191.2 513.9,190.5 511.6,190.0 C509.3,189.5 505.9,189.2 503.4,188.5 C500.8,187.8 498.1,186.9 496.3,186.0 C494.5,185.1 493.2,184.0 492.5,183.0 C491.8,182.0 491.4,180.6 492.0,180.0Z" fill="url(#d_sst)" stroke="url(#d_sst)" stroke-width="2.2" stroke-linejoin="round"/><path d="M492.0,180.0 C492.6,179.4 494.2,179.3 496.0,179.5 C497.8,179.7 500.7,180.4 503.0,181.0 C505.3,181.6 507.8,182.5 510.0,183.0 C512.2,183.5 514.5,183.2 516.0,184.0 C517.5,184.8 518.2,186.7 519.0,188.0 C519.8,189.3 521.3,191.4 521.0,192.0 C520.7,192.6 518.6,191.8 517.0,191.5 C515.4,191.2 513.9,190.5 511.6,190.0 C509.3,189.5 505.9,189.2 503.4,188.5 C500.8,187.8 498.1,186.9 496.3,186.0 C494.5,185.1 493.2,184.0 492.5,183.0 C491.8,182.0 491.4,180.6 492.0,180.0Z" fill="url(#spk)"/><path d="M535.8,182.5 C536.6,181.7 538.6,180.3 540.0,180.3 C541.4,180.3 543.2,181.4 544.3,182.5 C545.4,183.6 546.5,185.3 546.6,186.6 C546.7,187.8 545.5,188.8 545.0,190.0 C544.5,191.2 544.3,193.2 543.5,194.0 C542.7,194.8 541.0,195.2 540.0,195.0 C539.0,194.8 538.1,194.0 537.5,193.0 C536.9,192.0 536.9,190.3 536.5,189.0 C536.1,187.7 535.4,186.1 535.3,185.0 C535.2,183.9 535.0,183.3 535.8,182.5Z" fill="url(#d_l5)" stroke="url(#d_l5)" stroke-width="2.2" stroke-linejoin="round"/><path d="M535.8,182.5 C536.6,181.7 538.6,180.3 540.0,180.3 C541.4,180.3 543.2,181.4 544.3,182.5 C545.4,183.6 546.5,185.3 546.6,186.6 C546.7,187.8 545.5,188.8 545.0,190.0 C544.5,191.2 544.3,193.2 543.5,194.0 C542.7,194.8 541.0,195.2 540.0,195.0 C539.0,194.8 538.1,194.0 537.5,193.0 C536.9,192.0 536.9,190.3 536.5,189.0 C536.1,187.7 535.4,186.1 535.3,185.0 C535.2,183.9 535.0,183.3 535.8,182.5Z" fill="url(#spk)"/><path d="M518.0,191.0 C518.2,190.2 520.5,191.0 522.0,191.5 C523.5,192.0 525.5,193.2 527.0,194.0 C528.5,194.8 530.7,195.0 531.0,196.0 C531.3,197.0 529.2,198.5 529.0,200.0 C528.8,201.5 530.3,203.9 530.0,205.0 C529.7,206.1 527.8,206.8 527.0,206.5 C526.2,206.2 525.5,204.2 525.0,203.0 C524.5,201.8 524.7,200.2 524.0,199.0 C523.3,197.8 522.0,197.3 521.0,196.0 C520.0,194.7 517.8,191.8 518.0,191.0Z" fill="#9f95c8" stroke="#9f95c8" stroke-width="2.2" stroke-linejoin="round"/><path d="M518.0,191.0 C518.2,190.2 520.5,191.0 522.0,191.5 C523.5,192.0 525.5,193.2 527.0,194.0 C528.5,194.8 530.7,195.0 531.0,196.0 C531.3,197.0 529.2,198.5 529.0,200.0 C528.8,201.5 530.3,203.9 530.0,205.0 C529.7,206.1 527.8,206.8 527.0,206.5 C526.2,206.2 525.5,204.2 525.0,203.0 C524.5,201.8 524.7,200.2 524.0,199.0 C523.3,197.8 522.0,197.3 521.0,196.0 C520.0,194.7 517.8,191.8 518.0,191.0Z" fill="url(#spk)"/><path d="M528.0,198.0 C528.6,196.5 531.0,196.6 533.0,196.0 C535.0,195.4 538.5,194.2 540.0,194.5 C541.5,194.8 541.8,196.8 542.0,198.0 C542.2,199.2 542.7,200.8 541.5,202.0 C540.3,203.2 537.0,204.5 535.0,205.0 C533.0,205.5 530.7,206.2 529.5,205.0 C528.3,203.8 527.4,199.5 528.0,198.0Z" fill="#b0a3c2" stroke="#b0a3c2" stroke-width="2.2" stroke-linejoin="round"/><path d="M528.0,198.0 C528.6,196.5 531.0,196.6 533.0,196.0 C535.0,195.4 538.5,194.2 540.0,194.5 C541.5,194.8 541.8,196.8 542.0,198.0 C542.2,199.2 542.7,200.8 541.5,202.0 C540.3,203.2 537.0,204.5 535.0,205.0 C533.0,205.5 530.7,206.2 529.5,205.0 C528.3,203.8 527.4,199.5 528.0,198.0Z" fill="url(#spk)"/><path d="M454.7,219.2 C455.4,218.4 456.5,218.0 458.3,217.7 C460.1,217.4 463.4,217.1 465.4,217.2 C467.3,217.3 469.0,217.3 470.0,218.2 C471.0,219.0 471.2,220.8 471.6,222.3 C472.0,223.8 472.4,225.7 472.6,227.4 C472.9,229.1 473.5,231.1 473.1,232.5 C472.8,233.9 471.4,234.6 470.5,235.6 C469.6,236.6 468.5,238.1 467.5,238.7 C466.5,239.3 465.6,239.9 464.4,239.2 C463.2,238.5 461.7,235.9 460.3,234.6 C458.9,233.3 457.1,232.9 456.2,231.5 C455.3,230.1 455.0,227.9 454.7,226.4 C454.4,224.9 454.2,223.5 454.2,222.3 C454.2,221.1 454.0,220.0 454.7,219.2Z" fill="url(#d_pe)" stroke="url(#d_pe)" stroke-width="2.2" stroke-linejoin="round"/><path d="M454.7,219.2 C455.4,218.4 456.5,218.0 458.3,217.7 C460.1,217.4 463.4,217.1 465.4,217.2 C467.3,217.3 469.0,217.3 470.0,218.2 C471.0,219.0 471.2,220.8 471.6,222.3 C472.0,223.8 472.4,225.7 472.6,227.4 C472.9,229.1 473.5,231.1 473.1,232.5 C472.8,233.9 471.4,234.6 470.5,235.6 C469.6,236.6 468.5,238.1 467.5,238.7 C466.5,239.3 465.6,239.9 464.4,239.2 C463.2,238.5 461.7,235.9 460.3,234.6 C458.9,233.3 457.1,232.9 456.2,231.5 C455.3,230.1 455.0,227.9 454.7,226.4 C454.4,224.9 454.2,223.5 454.2,222.3 C454.2,221.1 454.0,220.0 454.7,219.2Z" fill="url(#spk)"/><path d="M451.6,231.5 C451.9,230.8 453.1,229.5 454.2,229.0 C455.3,228.5 457.3,228.2 458.3,228.4 C459.3,228.7 460.1,229.7 460.3,230.5 C460.5,231.3 460.2,232.5 459.3,233.0 C458.4,233.5 456.4,233.5 455.2,233.5 C454.0,233.5 452.8,233.3 452.2,233.0 C451.6,232.7 451.3,232.2 451.6,231.5Z" fill="#b8533f" stroke="#b8533f" stroke-width="2.2" stroke-linejoin="round"/><path d="M451.6,231.5 C451.9,230.8 453.1,229.5 454.2,229.0 C455.3,228.5 457.3,228.2 458.3,228.4 C459.3,228.7 460.1,229.7 460.3,230.5 C460.5,231.3 460.2,232.5 459.3,233.0 C458.4,233.5 456.4,233.5 455.2,233.5 C454.0,233.5 452.8,233.3 452.2,233.0 C451.6,232.7 451.3,232.2 451.6,231.5Z" fill="url(#spk)"/><path d="M501.1,233.1 C501.3,232.5 503.7,230.9 505.2,230.2 C506.7,229.5 508.3,229.0 510.3,228.7 C512.3,228.4 515.5,227.9 517.4,228.2 C519.3,228.4 520.5,229.3 521.5,230.2 C522.5,231.0 522.0,232.3 523.5,233.3 C525.0,234.3 530.4,235.9 530.7,236.4 C531.1,236.9 527.5,236.4 525.6,236.6 C523.7,236.8 521.5,237.3 519.5,237.4 C517.5,237.5 515.0,237.8 513.3,237.4 C511.6,237.1 510.7,235.9 509.2,235.3 C507.7,234.7 505.5,234.2 504.1,233.8 C502.8,233.4 500.9,233.7 501.1,233.1Z" fill="url(#d_it1)" stroke="url(#d_it1)" stroke-width="2.2" stroke-linejoin="round"/><path d="M501.1,233.1 C501.3,232.5 503.7,230.9 505.2,230.2 C506.7,229.5 508.3,229.0 510.3,228.7 C512.3,228.4 515.5,227.9 517.4,228.2 C519.3,228.4 520.5,229.3 521.5,230.2 C522.5,231.0 522.0,232.3 523.5,233.3 C525.0,234.3 530.4,235.9 530.7,236.4 C531.1,236.9 527.5,236.4 525.6,236.6 C523.7,236.8 521.5,237.3 519.5,237.4 C517.5,237.5 515.0,237.8 513.3,237.4 C511.6,237.1 510.7,235.9 509.2,235.3 C507.7,234.7 505.5,234.2 504.1,233.8 C502.8,233.4 500.9,233.7 501.1,233.1Z" fill="url(#spk)"/><path d="M538.9,238.9 C539.6,238.5 542.0,237.8 543.0,238.2 C544.0,238.6 544.1,240.1 545.0,241.5 C545.9,242.9 548.3,245.1 548.6,246.6 C548.9,248.1 547.9,249.5 547.0,250.7 C546.1,251.9 544.0,253.0 543.0,253.7 C542.0,254.4 541.4,255.2 540.9,254.7 C540.4,254.2 540.1,252.4 539.9,250.7 C539.7,249.0 540.1,246.2 539.9,244.5 C539.7,242.8 539.1,241.3 538.9,240.4 C538.7,239.5 538.2,239.3 538.9,238.9Z" fill="url(#d_it2)" stroke="url(#d_it2)" stroke-width="2.2" stroke-linejoin="round"/><path d="M538.9,238.9 C539.6,238.5 542.0,237.8 543.0,238.2 C544.0,238.6 544.1,240.1 545.0,241.5 C545.9,242.9 548.3,245.1 548.6,246.6 C548.9,248.1 547.9,249.5 547.0,250.7 C546.1,251.9 544.0,253.0 543.0,253.7 C542.0,254.4 541.4,255.2 540.9,254.7 C540.4,254.2 540.1,252.4 539.9,250.7 C539.7,249.0 540.1,246.2 539.9,244.5 C539.7,242.8 539.1,241.3 538.9,240.4 C538.7,239.5 538.2,239.3 538.9,238.9Z" fill="url(#spk)"/><path d="M473.1,272.5 C473.4,271.6 473.7,270.7 475.3,270.3 C476.9,269.9 480.4,270.1 482.6,270.3 C484.8,270.6 487.3,271.1 488.4,271.8 C489.5,272.5 489.9,273.9 489.2,274.7 C488.5,275.5 486.1,276.5 484.0,276.9 C481.9,277.3 478.6,277.4 476.8,277.2 C475.1,276.9 474.1,276.2 473.5,275.4 C472.9,274.6 472.8,273.4 473.1,272.5Z" fill="url(#d_fn1)" stroke="url(#d_fn1)" stroke-width="2.2" stroke-linejoin="round"/><path d="M473.1,272.5 C473.4,271.6 473.7,270.7 475.3,270.3 C476.9,269.9 480.4,270.1 482.6,270.3 C484.8,270.6 487.3,271.1 488.4,271.8 C489.5,272.5 489.9,273.9 489.2,274.7 C488.5,275.5 486.1,276.5 484.0,276.9 C481.9,277.3 478.6,277.4 476.8,277.2 C475.1,276.9 474.1,276.2 473.5,275.4 C472.9,274.6 472.8,273.4 473.1,272.5Z" fill="url(#spk)"/><path d="M538.0,255.4 C538.3,253.8 540.2,252.2 541.0,252.5 C541.8,252.8 542.5,254.8 542.8,257.0 C543.0,259.2 542.3,263.6 542.5,265.7 C542.7,267.8 543.3,268.5 544.0,269.5 C544.7,270.5 545.3,270.6 546.8,271.5 C548.2,272.4 552.2,273.9 552.7,275.1 C553.2,276.3 551.8,277.5 549.8,278.8 C547.8,280.1 543.4,281.5 541.0,283.2 C538.6,284.9 537.2,287.8 535.2,289.0 C533.2,290.2 532.0,290.3 529.3,290.5 C526.6,290.7 521.9,290.4 519.0,290.0 C516.1,289.6 513.7,288.8 511.8,288.0 C509.9,287.2 508.9,286.2 507.4,285.0 C505.9,283.8 502.9,282.0 503.0,281.0 C503.1,280.0 504.7,279.7 508.0,279.0 C511.3,278.3 519.2,278.2 523.0,277.0 C526.8,275.8 528.7,273.4 531.0,272.0 C533.3,270.6 535.3,270.3 536.6,268.6 C537.9,266.9 538.8,264.2 539.0,262.0 C539.2,259.8 537.7,257.0 538.0,255.4Z" fill="#6354b6" stroke="#6354b6" stroke-width="2.2" stroke-linejoin="round"/><path d="M538.0,255.4 C538.3,253.8 540.2,252.2 541.0,252.5 C541.8,252.8 542.5,254.8 542.8,257.0 C543.0,259.2 542.3,263.6 542.5,265.7 C542.7,267.8 543.3,268.5 544.0,269.5 C544.7,270.5 545.3,270.6 546.8,271.5 C548.2,272.4 552.2,273.9 552.7,275.1 C553.2,276.3 551.8,277.5 549.8,278.8 C547.8,280.1 543.4,281.5 541.0,283.2 C538.6,284.9 537.2,287.8 535.2,289.0 C533.2,290.2 532.0,290.3 529.3,290.5 C526.6,290.7 521.9,290.4 519.0,290.0 C516.1,289.6 513.7,288.8 511.8,288.0 C509.9,287.2 508.9,286.2 507.4,285.0 C505.9,283.8 502.9,282.0 503.0,281.0 C503.1,280.0 504.7,279.7 508.0,279.0 C511.3,278.3 519.2,278.2 523.0,277.0 C526.8,275.8 528.7,273.4 531.0,272.0 C533.3,270.6 535.3,270.3 536.6,268.6 C537.9,266.9 538.8,264.2 539.0,262.0 C539.2,259.8 537.7,257.0 538.0,255.4Z" fill="url(#spk)"/><path d="M489.9,270.0 C491.0,268.8 493.3,267.1 495.0,266.0 C496.7,264.9 498.3,263.8 500.1,263.5 C501.9,263.2 504.1,264.0 506.0,264.5 C507.9,265.0 509.3,265.9 511.8,266.4 C514.3,266.9 518.3,267.2 521.0,267.5 C523.7,267.8 526.1,267.6 528.0,268.0 C529.9,268.4 531.5,268.8 532.2,270.0 C532.9,271.2 532.2,273.5 532.0,275.0 C531.8,276.5 532.3,277.7 530.8,278.8 C529.3,279.9 525.4,280.8 523.0,281.5 C520.6,282.2 518.8,282.9 516.2,283.2 C513.6,283.5 510.1,283.9 507.4,283.2 C504.7,282.5 502.8,280.0 500.1,278.8 C497.4,277.6 493.3,276.9 491.4,275.9 C489.5,274.9 488.8,274.0 488.5,273.0 C488.2,272.0 488.8,271.2 489.9,270.0Z" fill="#5d4db3" stroke="#5d4db3" stroke-width="2.2" stroke-linejoin="round"/><path d="M489.9,270.0 C491.0,268.8 493.3,267.1 495.0,266.0 C496.7,264.9 498.3,263.8 500.1,263.5 C501.9,263.2 504.1,264.0 506.0,264.5 C507.9,265.0 509.3,265.9 511.8,266.4 C514.3,266.9 518.3,267.2 521.0,267.5 C523.7,267.8 526.1,267.6 528.0,268.0 C529.9,268.4 531.5,268.8 532.2,270.0 C532.9,271.2 532.2,273.5 532.0,275.0 C531.8,276.5 532.3,277.7 530.8,278.8 C529.3,279.9 525.4,280.8 523.0,281.5 C520.6,282.2 518.8,282.9 516.2,283.2 C513.6,283.5 510.1,283.9 507.4,283.2 C504.7,282.5 502.8,280.0 500.1,278.8 C497.4,277.6 493.3,276.9 491.4,275.9 C489.5,274.9 488.8,274.0 488.5,273.0 C488.2,272.0 488.8,271.2 489.9,270.0Z" fill="url(#spk)"/><path d="M507.4,289.0 C509.0,287.8 513.0,288.6 516.2,289.0 C519.4,289.4 523.5,290.9 526.4,291.2 C529.3,291.4 532.6,289.6 533.7,290.5 C534.8,291.4 533.7,294.1 533.0,296.3 C532.3,298.5 530.9,301.4 529.3,303.6 C527.7,305.8 525.7,307.8 523.5,309.5 C521.3,311.2 518.3,313.4 516.2,313.8 C514.1,314.2 512.4,313.1 511.0,311.6 C509.6,310.1 508.8,307.6 508.1,305.0 C507.4,302.4 506.8,299.0 506.7,296.3 C506.6,293.6 505.8,290.2 507.4,289.0Z" fill="url(#d_do)" stroke="url(#d_do)" stroke-width="2.2" stroke-linejoin="round"/><path d="M507.4,289.0 C509.0,287.8 513.0,288.6 516.2,289.0 C519.4,289.4 523.5,290.9 526.4,291.2 C529.3,291.4 532.6,289.6 533.7,290.5 C534.8,291.4 533.7,294.1 533.0,296.3 C532.3,298.5 530.9,301.4 529.3,303.6 C527.7,305.8 525.7,307.8 523.5,309.5 C521.3,311.2 518.3,313.4 516.2,313.8 C514.1,314.2 512.4,313.1 511.0,311.6 C509.6,310.1 508.8,307.6 508.1,305.0 C507.4,302.4 506.8,299.0 506.7,296.3 C506.6,293.6 505.8,290.2 507.4,289.0Z" fill="url(#spk)"/><path d="M538.0,280.0 C538.5,278.8 541.2,277.3 543.0,276.5 C544.8,275.7 547.1,275.0 549.0,275.0 C550.9,275.0 554.2,275.8 554.5,276.5 C554.8,277.2 552.6,278.2 551.0,279.0 C549.4,279.8 546.8,280.8 545.0,281.5 C543.2,282.2 541.2,283.8 540.0,283.5 C538.8,283.2 537.5,281.2 538.0,280.0Z" fill="#7e71c0" stroke="#7e71c0" stroke-width="2.2" stroke-linejoin="round"/><path d="M538.0,280.0 C538.5,278.8 541.2,277.3 543.0,276.5 C544.8,275.7 547.1,275.0 549.0,275.0 C550.9,275.0 554.2,275.8 554.5,276.5 C554.8,277.2 552.6,278.2 551.0,279.0 C549.4,279.8 546.8,280.8 545.0,281.5 C543.2,282.2 541.2,283.8 540.0,283.5 C538.8,283.2 537.5,281.2 538.0,280.0Z" fill="url(#spk)"/><path d="M565.4,261.2 C566.0,260.2 566.9,259.5 568.4,259.2 C569.9,258.9 572.4,258.7 574.6,259.2 C576.8,259.7 579.7,261.4 581.7,262.3 C583.7,263.2 585.4,263.5 586.8,264.3 C588.2,265.1 589.7,266.5 589.9,267.4 C590.1,268.2 588.7,268.1 587.9,269.4 C587.1,270.7 585.5,273.1 585.0,275.0 C584.5,276.9 583.8,279.4 584.8,280.7 C585.8,282.0 589.0,282.0 590.9,282.7 C592.8,283.4 596.7,284.2 596.0,284.7 C595.3,285.2 588.8,285.1 586.8,285.8 C584.8,286.5 584.5,287.5 583.8,288.8 C583.1,290.1 583.4,292.9 582.7,293.9 C582.0,294.9 580.4,295.9 579.7,295.0 C579.0,294.1 579.4,290.9 578.7,288.8 C578.0,286.8 576.8,284.4 575.6,282.7 C574.4,281.0 572.5,279.8 571.5,278.6 C570.5,277.4 570.4,276.9 569.5,275.5 C568.6,274.1 567.2,272.1 566.4,270.4 C565.6,268.7 565.1,266.8 564.9,265.3 C564.7,263.8 564.8,262.2 565.4,261.2Z" fill="url(#d_ca3)" stroke="url(#d_ca3)" stroke-width="2.2" stroke-linejoin="round"/><path d="M565.4,261.2 C566.0,260.2 566.9,259.5 568.4,259.2 C569.9,258.9 572.4,258.7 574.6,259.2 C576.8,259.7 579.7,261.4 581.7,262.3 C583.7,263.2 585.4,263.5 586.8,264.3 C588.2,265.1 589.7,266.5 589.9,267.4 C590.1,268.2 588.7,268.1 587.9,269.4 C587.1,270.7 585.5,273.1 585.0,275.0 C584.5,276.9 583.8,279.4 584.8,280.7 C585.8,282.0 589.0,282.0 590.9,282.7 C592.8,283.4 596.7,284.2 596.0,284.7 C595.3,285.2 588.8,285.1 586.8,285.8 C584.8,286.5 584.5,287.5 583.8,288.8 C583.1,290.1 583.4,292.9 582.7,293.9 C582.0,294.9 580.4,295.9 579.7,295.0 C579.0,294.1 579.4,290.9 578.7,288.8 C578.0,286.8 576.8,284.4 575.6,282.7 C574.4,281.0 572.5,279.8 571.5,278.6 C570.5,277.4 570.4,276.9 569.5,275.5 C568.6,274.1 567.2,272.1 566.4,270.4 C565.6,268.7 565.1,266.8 564.9,265.3 C564.7,263.8 564.8,262.2 565.4,261.2Z" fill="url(#spk)"/><path d="M583.8,286.8 C584.5,285.5 586.7,285.5 588.9,285.3 C591.1,285.1 594.3,285.4 597.0,285.8 C599.7,286.2 603.0,287.0 605.2,287.8 C607.4,288.6 609.3,289.9 610.3,290.9 C611.3,291.9 611.9,293.1 611.4,294.0 C610.9,294.9 609.7,295.8 607.3,296.0 C604.9,296.2 600.1,295.7 597.0,295.5 C593.9,295.3 590.9,295.4 588.9,295.0 C586.9,294.6 585.6,294.3 584.8,292.9 C583.9,291.5 583.1,288.1 583.8,286.8Z" fill="url(#d_ca3d)" stroke="url(#d_ca3d)" stroke-width="2.2" stroke-linejoin="round"/><path d="M583.8,286.8 C584.5,285.5 586.7,285.5 588.9,285.3 C591.1,285.1 594.3,285.4 597.0,285.8 C599.7,286.2 603.0,287.0 605.2,287.8 C607.4,288.6 609.3,289.9 610.3,290.9 C611.3,291.9 611.9,293.1 611.4,294.0 C610.9,294.9 609.7,295.8 607.3,296.0 C604.9,296.2 600.1,295.7 597.0,295.5 C593.9,295.3 590.9,295.4 588.9,295.0 C586.9,294.6 585.6,294.3 584.8,292.9 C583.9,291.5 583.1,288.1 583.8,286.8Z" fill="url(#spk)"/><path d="M590.9,269.9 C591.1,269.4 592.6,268.7 594.0,268.4 C595.4,268.1 597.6,267.7 599.1,267.9 C600.6,268.1 602.4,268.7 603.2,269.4 C604.1,270.1 604.6,271.5 604.2,272.0 C603.9,272.5 602.5,272.5 601.1,272.5 C599.7,272.5 597.4,272.2 596.0,272.0 C594.6,271.8 593.9,271.9 593.0,271.5 C592.1,271.1 590.7,270.4 590.9,269.9Z" fill="#b53e2c" stroke="#b53e2c" stroke-width="2.2" stroke-linejoin="round"/><path d="M590.9,269.9 C591.1,269.4 592.6,268.7 594.0,268.4 C595.4,268.1 597.6,267.7 599.1,267.9 C600.6,268.1 602.4,268.7 603.2,269.4 C604.1,270.1 604.6,271.5 604.2,272.0 C603.9,272.5 602.5,272.5 601.1,272.5 C599.7,272.5 597.4,272.2 596.0,272.0 C594.6,271.8 593.9,271.9 593.0,271.5 C592.1,271.1 590.7,270.4 590.9,269.9Z" fill="url(#spk)"/><path d="M598.0,206.4 C599.0,205.4 599.4,204.5 602.7,204.1 C606.0,203.7 614.6,203.7 617.9,204.1 C621.2,204.5 621.5,205.1 622.6,206.4 C623.7,207.7 624.3,209.9 624.5,212.1 C624.7,214.3 624.4,217.8 623.6,219.7 C622.8,221.6 621.7,222.5 619.8,223.5 C617.9,224.5 614.4,225.5 612.2,225.8 C610.0,226.1 608.4,226.1 606.5,225.4 C604.6,224.7 602.2,223.2 600.8,221.6 C599.4,220.0 598.6,217.8 598.0,215.9 C597.4,214.0 597.0,211.8 597.0,210.2 C597.0,208.6 597.0,207.4 598.0,206.4Z" fill="url(#d_dg)" stroke="url(#d_dg)" stroke-width="2.2" stroke-linejoin="round"/><path d="M598.0,206.4 C599.0,205.4 599.4,204.5 602.7,204.1 C606.0,203.7 614.6,203.7 617.9,204.1 C621.2,204.5 621.5,205.1 622.6,206.4 C623.7,207.7 624.3,209.9 624.5,212.1 C624.7,214.3 624.4,217.8 623.6,219.7 C622.8,221.6 621.7,222.5 619.8,223.5 C617.9,224.5 614.4,225.5 612.2,225.8 C610.0,226.1 608.4,226.1 606.5,225.4 C604.6,224.7 602.2,223.2 600.8,221.6 C599.4,220.0 598.6,217.8 598.0,215.9 C597.4,214.0 597.0,211.8 597.0,210.2 C597.0,208.6 597.0,207.4 598.0,206.4Z" fill="url(#spk)"/><path d="M577.6,268.5 C578.2,267.3 579.8,266.9 581.0,267.0 C582.2,267.1 584.0,268.2 585.0,269.0 C586.0,269.8 587.0,270.7 587.0,272.0 C587.0,273.3 585.8,275.8 585.0,277.0 C584.2,278.2 583.0,279.3 582.0,279.5 C581.0,279.7 579.8,278.9 579.0,278.0 C578.2,277.1 577.7,275.6 577.5,274.0 C577.3,272.4 577.0,269.7 577.6,268.5Z" fill="#ffffff" opacity="0.85"/><path d="M541.5,250 Q540,258 538.5,266" stroke="#6354b6" stroke-width="2.2" fill="none"/><defs><linearGradient id="cbar" x1="0" y1="0" x2="0" y2="1"><stop offset="0" stop-color="#2b2580"/><stop offset="0.25" stop-color="#6a5fb5"/><stop offset="0.5" stop-color="#cfcfd4"/><stop offset="0.75" stop-color="#c07a66"/><stop offset="1" stop-color="#a3240f"/></linearGradient></defs><g fill="#4b3ba3"><circle cx="518.9" cy="283.5" r="0.5"/><circle cx="506.0" cy="283.9" r="0.5"/><circle cx="502.6" cy="278.4" r="0.5"/><circle cx="528.0" cy="277.8" r="0.5"/><circle cx="532.0" cy="279.9" r="0.5"/><circle cx="507.7" cy="276.4" r="0.5"/><circle cx="505.1" cy="279.4" r="0.5"/><circle cx="506.3" cy="280.5" r="0.5"/><circle cx="505.6" cy="276.5" r="0.5"/><circle cx="512.0" cy="272.9" r="0.5"/><circle cx="511.0" cy="279.1" r="0.5"/><circle cx="518.6" cy="278.7" r="0.5"/><circle cx="511.6" cy="276.2" r="0.5"/><circle cx="517.1" cy="278.8" r="0.5"/><circle cx="520.2" cy="278.0" r="0.5"/><circle cx="504.6" cy="282.5" r="0.5"/><circle cx="511.1" cy="280.7" r="0.5"/><circle cx="503.6" cy="276.8" r="0.5"/><circle cx="501.8" cy="274.5" r="0.5"/><circle cx="509.3" cy="275.6" r="0.5"/><circle cx="514.3" cy="276.6" r="0.5"/><circle cx="502.0" cy="272.4" r="0.5"/><circle cx="519.1" cy="277.2" r="0.5"/><circle cx="507.8" cy="274.7" r="0.5"/><circle cx="512.2" cy="277.8" r="0.5"/><circle cx="509.4" cy="279.4" r="0.5"/><circle cx="522.3" cy="280.2" r="0.5"/><circle cx="511.8" cy="272.6" r="0.5"/><circle cx="514.9" cy="283.2" r="0.5"/><circle cx="511.1" cy="276.2" r="0.5"/><circle cx="506.7" cy="281.9" r="0.5"/><circle cx="507.9" cy="277.9" r="0.5"/><circle cx="520.2" cy="275.0" r="0.5"/><circle cx="515.3" cy="271.4" r="0.5"/><circle cx="516.2" cy="272.4" r="0.5"/><circle cx="503.0" cy="273.0" r="0.5"/><circle cx="514.1" cy="276.0" r="0.5"/><circle cx="508.4" cy="279.3" r="0.5"/><circle cx="507.4" cy="278.3" r="0.5"/><circle cx="507.2" cy="273.4" r="0.5"/><circle cx="509.2" cy="279.6" r="0.5"/><circle cx="492.9" cy="274.2" r="0.5"/><circle cx="497.2" cy="277.6" r="0.5"/><circle cx="513.9" cy="276.3" r="0.5"/><circle cx="513.8" cy="279.8" r="0.5"/><circle cx="506.4" cy="280.6" r="0.5"/><circle cx="507.8" cy="274.8" r="0.5"/><circle cx="504.3" cy="279.8" r="0.5"/><circle cx="515.0" cy="279.2" r="0.5"/><circle cx="500.5" cy="276.2" r="0.5"/><circle cx="507.7" cy="274.2" r="0.5"/><circle cx="509.3" cy="277.3" r="0.5"/><circle cx="506.7" cy="283.4" r="0.5"/><circle cx="505.2" cy="272.2" r="0.5"/><circle cx="502.8" cy="274.2" r="0.5"/><circle cx="490.4" cy="276.5" r="0.5"/><circle cx="524.2" cy="277.9" r="0.5"/><circle cx="511.4" cy="274.4" r="0.5"/><circle cx="512.0" cy="275.3" r="0.5"/><circle cx="513.9" cy="281.3" r="0.5"/><circle cx="527.4" cy="277.4" r="0.5"/><circle cx="509.2" cy="274.0" r="0.5"/><circle cx="512.1" cy="279.6" r="0.5"/><circle cx="511.9" cy="270.5" r="0.5"/><circle cx="492.5" cy="281.2" r="0.5"/><circle cx="508.7" cy="274.5" r="0.5"/><circle cx="503.5" cy="281.7" r="0.5"/><circle cx="504.5" cy="280.1" r="0.5"/><circle cx="515.6" cy="271.6" r="0.5"/><circle cx="522.8" cy="272.9" r="0.5"/><circle cx="511.1" cy="277.6" r="0.5"/><circle cx="507.4" cy="282.9" r="0.5"/><circle cx="508.1" cy="268.7" r="0.5"/><circle cx="509.6" cy="282.3" r="0.5"/><circle cx="500.7" cy="269.0" r="0.5"/><circle cx="510.9" cy="272.0" r="0.5"/><circle cx="507.9" cy="269.9" r="0.5"/><circle cx="499.5" cy="280.9" r="0.5"/><circle cx="523.5" cy="280.8" r="0.5"/><circle cx="505.6" cy="276.6" r="0.5"/><circle cx="511.8" cy="283.6" r="0.5"/><circle cx="517.7" cy="268.3" r="0.5"/><circle cx="517.0" cy="278.7" r="0.5"/><circle cx="503.1" cy="275.5" r="0.5"/><circle cx="522.1" cy="282.1" r="0.5"/><circle cx="509.2" cy="277.8" r="0.5"/><circle cx="503.1" cy="278.2" r="0.5"/><circle cx="508.9" cy="272.9" r="0.5"/><circle cx="510.0" cy="281.2" r="0.5"/><circle cx="521.8" cy="281.9" r="0.5"/><circle cx="512.8" cy="277.7" r="0.5"/><circle cx="508.9" cy="271.6" r="0.5"/><circle cx="506.9" cy="280.1" r="0.5"/><circle cx="521.2" cy="275.8" r="0.5"/><circle cx="521.3" cy="270.4" r="0.5"/><circle cx="507.4" cy="278.9" r="0.5"/><circle cx="510.1" cy="277.6" r="0.5"/><circle cx="508.7" cy="282.4" r="0.5"/><circle cx="507.5" cy="275.0" r="0.5"/><circle cx="504.9" cy="273.3" r="0.5"/><circle cx="503.9" cy="275.5" r="0.5"/><circle cx="502.9" cy="272.4" r="0.5"/><circle cx="510.2" cy="275.7" r="0.5"/><circle cx="521.1" cy="281.0" r="0.5"/><circle cx="515.1" cy="269.3" r="0.5"/><circle cx="523.0" cy="273.6" r="0.5"/><circle cx="495.4" cy="272.6" r="0.5"/><circle cx="505.4" cy="282.2" r="0.5"/><circle cx="507.2" cy="269.6" r="0.5"/><circle cx="524.8" cy="278.2" r="0.5"/><circle cx="521.9" cy="275.0" r="0.5"/><circle cx="510.6" cy="272.6" r="0.5"/><circle cx="509.3" cy="280.6" r="0.5"/><circle cx="512.7" cy="280.2" r="0.5"/><circle cx="498.0" cy="283.2" r="0.5"/><circle cx="497.8" cy="281.9" r="0.5"/><circle cx="502.1" cy="279.4" r="0.5"/><circle cx="505.2" cy="282.6" r="0.5"/><circle cx="517.4" cy="274.8" r="0.5"/><circle cx="519.1" cy="285.4" r="0.5"/><circle cx="506.6" cy="278.9" r="0.5"/><circle cx="512.0" cy="277.2" r="0.5"/><circle cx="504.6" cy="272.6" r="0.5"/><circle cx="517.6" cy="270.6" r="0.5"/><circle cx="498.2" cy="281.1" r="0.5"/><circle cx="515.6" cy="278.4" r="0.5"/><circle cx="516.1" cy="277.7" r="0.5"/><circle cx="519.4" cy="283.1" r="0.5"/><circle cx="516.2" cy="276.5" r="0.5"/><circle cx="517.8" cy="280.5" r="0.5"/><circle cx="513.7" cy="274.2" r="0.5"/><circle cx="509.1" cy="277.3" r="0.5"/><circle cx="518.9" cy="281.8" r="0.5"/><circle cx="501.8" cy="270.3" r="0.5"/><circle cx="506.1" cy="277.1" r="0.5"/><circle cx="511.0" cy="277.2" r="0.5"/><circle cx="515.0" cy="282.6" r="0.5"/><circle cx="507.4" cy="283.7" r="0.5"/><circle cx="513.0" cy="278.0" r="0.5"/><circle cx="504.1" cy="283.9" r="0.5"/><circle cx="526.8" cy="276.6" r="0.5"/><circle cx="514.0" cy="274.3" r="0.5"/><circle cx="516.0" cy="282.7" r="0.5"/><circle cx="517.2" cy="279.5" r="0.5"/><circle cx="498.5" cy="274.0" r="0.5"/><circle cx="513.2" cy="281.4" r="0.5"/><circle cx="524.9" cy="279.5" r="0.5"/><circle cx="513.3" cy="276.7" r="0.5"/><circle cx="511.1" cy="275.9" r="0.5"/><circle cx="510.3" cy="281.2" r="0.5"/><circle cx="502.9" cy="276.2" r="0.5"/><circle cx="503.1" cy="280.0" r="0.5"/><circle cx="505.4" cy="284.1" r="0.5"/><circle cx="495.6" cy="278.7" r="0.5"/><circle cx="504.1" cy="277.3" r="0.5"/><circle cx="503.1" cy="270.2" r="0.5"/><circle cx="513.8" cy="281.6" r="0.5"/><circle cx="519.7" cy="277.3" r="0.5"/><circle cx="530.4" cy="276.3" r="0.5"/><circle cx="516.2" cy="273.6" r="0.5"/><circle cx="521.1" cy="276.5" r="0.5"/><circle cx="492.0" cy="276.7" r="0.5"/><circle cx="503.1" cy="272.4" r="0.5"/><circle cx="503.3" cy="275.5" r="0.5"/><circle cx="513.8" cy="283.5" r="0.5"/><circle cx="512.7" cy="280.9" r="0.5"/><circle cx="518.6" cy="272.0" r="0.5"/><circle cx="517.3" cy="280.1" r="0.5"/><circle cx="505.0" cy="279.6" r="0.5"/><circle cx="518.4" cy="272.1" r="0.5"/><circle cx="503.0" cy="280.5" r="0.5"/><circle cx="510.3" cy="271.2" r="0.5"/><circle cx="496.0" cy="272.3" r="0.5"/><circle cx="511.5" cy="278.1" r="0.5"/><circle cx="514.1" cy="282.6" r="0.5"/><circle cx="504.2" cy="281.3" r="0.5"/><circle cx="504.0" cy="272.9" r="0.5"/><circle cx="505.1" cy="273.8" r="0.5"/><circle cx="512.9" cy="274.0" r="0.5"/><circle cx="512.3" cy="273.9" r="0.5"/><circle cx="514.8" cy="273.6" r="0.5"/><circle cx="503.2" cy="278.4" r="0.5"/><circle cx="516.4" cy="272.7" r="0.5"/><circle cx="514.2" cy="275.1" r="0.5"/><circle cx="514.3" cy="270.8" r="0.5"/><circle cx="516.1" cy="278.0" r="0.5"/><circle cx="514.8" cy="273.4" r="0.5"/><circle cx="510.7" cy="272.5" r="0.5"/><circle cx="505.0" cy="278.5" r="0.5"/><circle cx="494.2" cy="277.7" r="0.5"/><circle cx="504.5" cy="280.0" r="0.5"/><circle cx="489.8" cy="281.2" r="0.5"/><circle cx="509.2" cy="286.3" r="0.5"/><circle cx="507.3" cy="278.7" r="0.5"/><circle cx="524.4" cy="270.0" r="0.5"/><circle cx="514.8" cy="269.6" r="0.5"/><circle cx="503.5" cy="280.1" r="0.5"/><circle cx="505.4" cy="276.7" r="0.5"/><circle cx="519.8" cy="271.7" r="0.5"/><circle cx="503.7" cy="275.8" r="0.5"/><circle cx="503.4" cy="274.5" r="0.5"/><circle cx="527.4" cy="274.8" r="0.5"/><circle cx="502.1" cy="271.7" r="0.5"/><circle cx="507.5" cy="272.3" r="0.5"/><circle cx="503.6" cy="273.7" r="0.5"/><circle cx="514.6" cy="276.1" r="0.5"/><circle cx="519.2" cy="279.2" r="0.5"/><circle cx="521.2" cy="284.2" r="0.5"/><circle cx="515.4" cy="275.8" r="0.5"/><circle cx="533.2" cy="272.2" r="0.5"/><circle cx="508.3" cy="273.0" r="0.5"/><circle cx="526.0" cy="276.0" r="0.5"/><circle cx="525.0" cy="273.8" r="0.5"/><circle cx="518.5" cy="276.3" r="0.5"/><circle cx="501.3" cy="274.9" r="0.5"/><circle cx="507.6" cy="276.0" r="0.5"/><circle cx="513.4" cy="269.1" r="0.5"/><circle cx="508.3" cy="279.0" r="0.5"/><circle cx="504.9" cy="278.3" r="0.5"/><circle cx="509.3" cy="279.6" r="0.5"/></g><g fill="#4b3ba3"><circle cx="528.0" cy="277.7" r="0.5"/><circle cx="526.9" cy="271.6" r="0.5"/><circle cx="538.0" cy="277.9" r="0.5"/><circle cx="527.2" cy="272.3" r="0.5"/><circle cx="527.9" cy="274.0" r="0.5"/><circle cx="529.0" cy="271.4" r="0.5"/><circle cx="536.0" cy="275.1" r="0.5"/><circle cx="530.6" cy="268.1" r="0.5"/><circle cx="536.1" cy="268.2" r="0.5"/><circle cx="519.5" cy="272.2" r="0.5"/><circle cx="524.6" cy="270.9" r="0.5"/><circle cx="525.8" cy="276.2" r="0.5"/><circle cx="535.4" cy="275.7" r="0.5"/><circle cx="519.3" cy="271.6" r="0.5"/><circle cx="531.6" cy="278.3" r="0.5"/><circle cx="522.8" cy="279.3" r="0.5"/><circle cx="521.4" cy="274.0" r="0.5"/><circle cx="528.7" cy="269.8" r="0.5"/><circle cx="537.9" cy="268.6" r="0.5"/><circle cx="516.9" cy="273.9" r="0.5"/><circle cx="534.6" cy="273.7" r="0.5"/><circle cx="537.6" cy="277.4" r="0.5"/><circle cx="537.3" cy="270.1" r="0.5"/><circle cx="528.7" cy="269.1" r="0.5"/><circle cx="533.2" cy="274.6" r="0.5"/><circle cx="519.9" cy="277.5" r="0.5"/><circle cx="534.1" cy="271.5" r="0.5"/><circle cx="524.9" cy="269.2" r="0.5"/><circle cx="519.5" cy="274.3" r="0.5"/><circle cx="534.0" cy="277.1" r="0.5"/><circle cx="531.1" cy="276.0" r="0.5"/><circle cx="523.7" cy="268.2" r="0.5"/><circle cx="526.8" cy="277.1" r="0.5"/><circle cx="529.3" cy="277.4" r="0.5"/><circle cx="534.0" cy="276.9" r="0.5"/><circle cx="535.9" cy="269.6" r="0.5"/><circle cx="533.2" cy="270.6" r="0.5"/><circle cx="518.0" cy="276.6" r="0.5"/><circle cx="535.3" cy="270.0" r="0.5"/><circle cx="527.2" cy="272.6" r="0.5"/><circle cx="534.1" cy="276.8" r="0.5"/><circle cx="529.1" cy="268.0" r="0.5"/><circle cx="525.6" cy="283.5" r="0.5"/><circle cx="525.5" cy="270.2" r="0.5"/><circle cx="526.0" cy="273.1" r="0.5"/><circle cx="529.3" cy="267.9" r="0.5"/><circle cx="530.7" cy="273.1" r="0.5"/><circle cx="532.8" cy="273.3" r="0.5"/><circle cx="533.5" cy="269.6" r="0.5"/><circle cx="523.2" cy="269.3" r="0.5"/><circle cx="532.3" cy="273.7" r="0.5"/><circle cx="537.5" cy="275.1" r="0.5"/><circle cx="526.3" cy="270.9" r="0.5"/><circle cx="537.9" cy="268.5" r="0.5"/><circle cx="532.9" cy="269.9" r="0.5"/><circle cx="521.4" cy="271.2" r="0.5"/><circle cx="525.5" cy="274.7" r="0.5"/><circle cx="531.9" cy="273.3" r="0.5"/><circle cx="521.5" cy="270.7" r="0.5"/><circle cx="517.5" cy="268.9" r="0.5"/><circle cx="527.7" cy="267.6" r="0.5"/><circle cx="534.4" cy="268.4" r="0.5"/><circle cx="530.2" cy="273.5" r="0.5"/><circle cx="528.2" cy="267.6" r="0.5"/><circle cx="534.2" cy="272.6" r="0.5"/><circle cx="527.7" cy="273.9" r="0.5"/><circle cx="517.6" cy="269.0" r="0.5"/><circle cx="528.3" cy="274.6" r="0.5"/><circle cx="524.5" cy="267.3" r="0.5"/><circle cx="531.6" cy="274.4" r="0.5"/><circle cx="522.8" cy="278.4" r="0.5"/><circle cx="522.6" cy="270.2" r="0.5"/><circle cx="527.0" cy="266.6" r="0.5"/><circle cx="533.6" cy="270.1" r="0.5"/><circle cx="522.0" cy="272.0" r="0.5"/><circle cx="520.1" cy="275.1" r="0.5"/><circle cx="534.2" cy="271.1" r="0.5"/><circle cx="539.1" cy="272.6" r="0.5"/><circle cx="535.8" cy="277.7" r="0.5"/><circle cx="530.8" cy="272.4" r="0.5"/><circle cx="537.1" cy="274.7" r="0.5"/><circle cx="528.2" cy="277.5" r="0.5"/><circle cx="532.1" cy="267.3" r="0.5"/><circle cx="523.0" cy="266.3" r="0.5"/><circle cx="531.9" cy="273.9" r="0.5"/><circle cx="522.0" cy="272.0" r="0.5"/><circle cx="533.7" cy="272.3" r="0.5"/><circle cx="531.5" cy="271.2" r="0.5"/><circle cx="538.6" cy="271.2" r="0.5"/><circle cx="537.1" cy="267.3" r="0.5"/><circle cx="534.0" cy="267.3" r="0.5"/><circle cx="531.6" cy="268.9" r="0.5"/><circle cx="520.7" cy="270.4" r="0.5"/><circle cx="528.2" cy="268.0" r="0.5"/><circle cx="533.6" cy="264.0" r="0.5"/><circle cx="539.0" cy="275.0" r="0.5"/><circle cx="532.7" cy="271.0" r="0.5"/><circle cx="527.7" cy="273.9" r="0.5"/><circle cx="531.7" cy="269.7" r="0.5"/><circle cx="536.0" cy="265.5" r="0.5"/><circle cx="531.7" cy="278.7" r="0.5"/><circle cx="529.6" cy="274.7" r="0.5"/><circle cx="531.3" cy="274.6" r="0.5"/><circle cx="533.2" cy="277.8" r="0.5"/><circle cx="543.6" cy="274.0" r="0.5"/><circle cx="544.6" cy="277.8" r="0.5"/><circle cx="532.3" cy="268.0" r="0.5"/><circle cx="538.7" cy="272.4" r="0.5"/><circle cx="525.4" cy="270.4" r="0.5"/><circle cx="529.9" cy="273.8" r="0.5"/><circle cx="532.5" cy="264.6" r="0.5"/><circle cx="524.5" cy="268.9" r="0.5"/><circle cx="536.1" cy="274.8" r="0.5"/><circle cx="514.6" cy="275.0" r="0.5"/><circle cx="530.9" cy="280.3" r="0.5"/><circle cx="536.3" cy="265.3" r="0.5"/><circle cx="527.3" cy="269.0" r="0.5"/><circle cx="542.7" cy="276.6" r="0.5"/><circle cx="533.1" cy="267.3" r="0.5"/><circle cx="525.9" cy="266.9" r="0.5"/></g><g fill="#ffffff"><circle cx="517.7" cy="271.0" r="0.45"/><circle cx="508.3" cy="278.3" r="0.45"/><circle cx="522.0" cy="278.0" r="0.45"/><circle cx="507.7" cy="274.4" r="0.45"/><circle cx="500.2" cy="282.1" r="0.45"/><circle cx="508.6" cy="281.6" r="0.45"/><circle cx="521.6" cy="277.4" r="0.45"/><circle cx="496.6" cy="273.4" r="0.45"/><circle cx="512.2" cy="275.5" r="0.45"/><circle cx="533.0" cy="277.5" r="0.45"/><circle cx="512.5" cy="273.7" r="0.45"/><circle cx="503.9" cy="269.9" r="0.45"/><circle cx="492.2" cy="271.4" r="0.45"/><circle cx="523.5" cy="278.2" r="0.45"/><circle cx="515.5" cy="277.9" r="0.45"/><circle cx="509.4" cy="270.8" r="0.45"/><circle cx="500.9" cy="277.8" r="0.45"/><circle cx="512.5" cy="273.3" r="0.45"/><circle cx="512.2" cy="277.2" r="0.45"/><circle cx="510.5" cy="283.3" r="0.45"/><circle cx="502.3" cy="269.3" r="0.45"/><circle cx="510.8" cy="282.0" r="0.45"/><circle cx="520.9" cy="270.2" r="0.45"/><circle cx="512.3" cy="272.5" r="0.45"/><circle cx="516.8" cy="279.3" r="0.45"/><circle cx="516.4" cy="276.9" r="0.45"/><circle cx="508.6" cy="275.3" r="0.45"/><circle cx="504.3" cy="282.5" r="0.45"/><circle cx="509.4" cy="276.2" r="0.45"/><circle cx="519.2" cy="270.1" r="0.45"/><circle cx="514.0" cy="281.6" r="0.45"/><circle cx="506.5" cy="275.4" r="0.45"/><circle cx="512.1" cy="280.5" r="0.45"/><circle cx="519.8" cy="285.5" r="0.45"/><circle cx="507.5" cy="274.3" r="0.45"/><circle cx="512.9" cy="274.1" r="0.45"/><circle cx="514.5" cy="275.1" r="0.45"/><circle cx="506.3" cy="273.0" r="0.45"/><circle cx="510.7" cy="276.3" r="0.45"/><circle cx="510.5" cy="274.2" r="0.45"/><circle cx="503.9" cy="275.8" r="0.45"/><circle cx="501.4" cy="275.1" r="0.45"/><circle cx="521.4" cy="276.0" r="0.45"/><circle cx="500.8" cy="272.7" r="0.45"/><circle cx="494.4" cy="275.9" r="0.45"/><circle cx="524.6" cy="276.8" r="0.45"/><circle cx="524.6" cy="274.8" r="0.45"/><circle cx="506.3" cy="281.8" r="0.45"/><circle cx="526.5" cy="273.8" r="0.45"/><circle cx="508.4" cy="283.6" r="0.45"/><circle cx="533.2" cy="277.1" r="0.45"/><circle cx="515.8" cy="284.2" r="0.45"/><circle cx="510.7" cy="270.5" r="0.45"/><circle cx="513.0" cy="272.2" r="0.45"/><circle cx="529.2" cy="278.1" r="0.45"/><circle cx="511.8" cy="275.5" r="0.45"/><circle cx="514.4" cy="271.1" r="0.45"/><circle cx="517.1" cy="275.4" r="0.45"/><circle cx="520.7" cy="276.2" r="0.45"/><circle cx="509.3" cy="266.3" r="0.45"/><circle cx="490.9" cy="276.2" r="0.45"/><circle cx="510.8" cy="276.3" r="0.45"/><circle cx="518.7" cy="274.2" r="0.45"/><circle cx="515.3" cy="282.7" r="0.45"/><circle cx="514.3" cy="272.6" r="0.45"/><circle cx="510.0" cy="277.8" r="0.45"/><circle cx="519.1" cy="266.5" r="0.45"/><circle cx="509.2" cy="270.4" r="0.45"/><circle cx="508.2" cy="271.3" r="0.45"/><circle cx="513.7" cy="278.5" r="0.45"/><circle cx="511.2" cy="280.2" r="0.45"/><circle cx="501.2" cy="276.7" r="0.45"/><circle cx="514.5" cy="278.4" r="0.45"/><circle cx="500.9" cy="273.5" r="0.45"/><circle cx="523.4" cy="273.9" r="0.45"/><circle cx="496.2" cy="276.9" r="0.45"/><circle cx="512.5" cy="275.8" r="0.45"/><circle cx="506.1" cy="276.4" r="0.45"/><circle cx="509.8" cy="276.7" r="0.45"/><circle cx="510.9" cy="274.7" r="0.45"/><circle cx="508.7" cy="269.8" r="0.45"/><circle cx="513.5" cy="282.6" r="0.45"/><circle cx="508.6" cy="280.6" r="0.45"/><circle cx="518.9" cy="268.6" r="0.45"/><circle cx="514.2" cy="283.1" r="0.45"/><circle cx="514.9" cy="278.0" r="0.45"/><circle cx="513.7" cy="279.6" r="0.45"/><circle cx="506.6" cy="278.3" r="0.45"/><circle cx="517.0" cy="272.9" r="0.45"/><circle cx="485.1" cy="277.4" r="0.45"/><circle cx="493.3" cy="274.8" r="0.45"/><circle cx="536.0" cy="277.4" r="0.45"/><circle cx="502.9" cy="276.1" r="0.45"/><circle cx="507.5" cy="270.6" r="0.45"/><circle cx="514.2" cy="274.9" r="0.45"/><circle cx="511.4" cy="272.8" r="0.45"/><circle cx="503.2" cy="281.3" r="0.45"/><circle cx="505.5" cy="274.0" r="0.45"/><circle cx="505.2" cy="277.4" r="0.45"/><circle cx="508.8" cy="280.2" r="0.45"/><circle cx="513.1" cy="279.8" r="0.45"/><circle cx="529.9" cy="276.9" r="0.45"/><circle cx="512.5" cy="277.4" r="0.45"/><circle cx="496.3" cy="281.2" r="0.45"/><circle cx="503.3" cy="276.3" r="0.45"/><circle cx="511.2" cy="278.0" r="0.45"/><circle cx="520.5" cy="273.4" r="0.45"/><circle cx="525.4" cy="284.7" r="0.45"/><circle cx="524.4" cy="275.5" r="0.45"/><circle cx="515.2" cy="267.8" r="0.45"/><circle cx="514.0" cy="274.1" r="0.45"/><circle cx="508.5" cy="274.8" r="0.45"/><circle cx="501.9" cy="272.4" r="0.45"/><circle cx="501.2" cy="274.8" r="0.45"/><circle cx="509.6" cy="279.3" r="0.45"/><circle cx="509.4" cy="276.6" r="0.45"/><circle cx="513.0" cy="276.0" r="0.45"/><circle cx="505.8" cy="281.9" r="0.45"/><circle cx="498.2" cy="271.6" r="0.45"/><circle cx="505.8" cy="268.4" r="0.45"/><circle cx="501.2" cy="278.5" r="0.45"/><circle cx="507.9" cy="279.2" r="0.45"/><circle cx="519.7" cy="272.5" r="0.45"/><circle cx="513.9" cy="274.3" r="0.45"/><circle cx="530.0" cy="275.4" r="0.45"/><circle cx="517.2" cy="275.8" r="0.45"/><circle cx="512.1" cy="269.6" r="0.45"/><circle cx="532.5" cy="273.0" r="0.45"/><circle cx="515.0" cy="274.6" r="0.45"/><circle cx="524.5" cy="280.2" r="0.45"/><circle cx="513.0" cy="274.3" r="0.45"/><circle cx="510.2" cy="273.8" r="0.45"/><circle cx="524.3" cy="273.2" r="0.45"/><circle cx="498.5" cy="280.3" r="0.45"/><circle cx="506.8" cy="276.1" r="0.45"/><circle cx="499.0" cy="279.7" r="0.45"/><circle cx="520.1" cy="279.2" r="0.45"/><circle cx="499.8" cy="275.4" r="0.45"/><circle cx="484.3" cy="276.5" r="0.45"/><circle cx="497.9" cy="272.6" r="0.45"/></g><g fill="#ffffff"><circle cx="492.4" cy="170.9" r="0.45"/><circle cx="502.6" cy="170.4" r="0.45"/><circle cx="500.0" cy="169.4" r="0.45"/><circle cx="496.0" cy="169.2" r="0.45"/><circle cx="496.5" cy="168.2" r="0.45"/><circle cx="500.9" cy="167.7" r="0.45"/><circle cx="503.9" cy="168.6" r="0.45"/><circle cx="500.6" cy="171.0" r="0.45"/><circle cx="502.3" cy="170.9" r="0.45"/><circle cx="505.4" cy="170.0" r="0.45"/><circle cx="496.9" cy="169.2" r="0.45"/><circle cx="499.8" cy="169.2" r="0.45"/><circle cx="495.0" cy="169.8" r="0.45"/><circle cx="499.0" cy="171.7" r="0.45"/><circle cx="503.0" cy="171.9" r="0.45"/><circle cx="497.6" cy="167.7" r="0.45"/><circle cx="496.1" cy="170.1" r="0.45"/><circle cx="500.2" cy="169.8" r="0.45"/><circle cx="492.5" cy="169.8" r="0.45"/><circle cx="503.4" cy="172.6" r="0.45"/><circle cx="500.3" cy="169.6" r="0.45"/><circle cx="504.5" cy="170.1" r="0.45"/><circle cx="501.8" cy="169.8" r="0.45"/><circle cx="499.3" cy="168.4" r="0.45"/><circle cx="499.2" cy="170.1" r="0.45"/><circle cx="502.1" cy="168.3" r="0.45"/><circle cx="500.5" cy="170.5" r="0.45"/><circle cx="497.9" cy="167.3" r="0.45"/><circle cx="500.8" cy="169.6" r="0.45"/><circle cx="502.0" cy="173.0" r="0.45"/><circle cx="499.6" cy="168.7" r="0.45"/><circle cx="498.8" cy="171.6" r="0.45"/><circle cx="499.8" cy="170.8" r="0.45"/><circle cx="497.9" cy="165.3" r="0.45"/><circle cx="492.6" cy="169.9" r="0.45"/><circle cx="503.7" cy="167.6" r="0.45"/><circle cx="503.9" cy="168.8" r="0.45"/><circle cx="499.7" cy="172.6" r="0.45"/><circle cx="500.9" cy="171.8" r="0.45"/><circle cx="502.4" cy="169.7" r="0.45"/></g><g fill="#5a4cae"><circle cx="496.0" cy="169.6" r="0.45"/><circle cx="495.9" cy="174.2" r="0.45"/><circle cx="490.1" cy="171.0" r="0.45"/><circle cx="498.5" cy="175.7" r="0.45"/><circle cx="498.7" cy="168.8" r="0.45"/><circle cx="495.7" cy="172.8" r="0.45"/><circle cx="504.5" cy="173.4" r="0.45"/><circle cx="497.8" cy="172.6" r="0.45"/><circle cx="498.9" cy="173.8" r="0.45"/><circle cx="495.3" cy="169.6" r="0.45"/><circle cx="487.5" cy="171.4" r="0.45"/><circle cx="503.0" cy="172.2" r="0.45"/><circle cx="492.5" cy="175.9" r="0.45"/><circle cx="504.5" cy="170.5" r="0.45"/><circle cx="495.1" cy="165.2" r="0.45"/><circle cx="483.8" cy="174.6" r="0.45"/><circle cx="492.8" cy="176.8" r="0.45"/><circle cx="493.7" cy="169.8" r="0.45"/><circle cx="498.3" cy="172.4" r="0.45"/><circle cx="498.7" cy="169.4" r="0.45"/><circle cx="502.0" cy="175.1" r="0.45"/><circle cx="490.1" cy="170.4" r="0.45"/><circle cx="504.1" cy="173.7" r="0.45"/><circle cx="498.0" cy="175.2" r="0.45"/><circle cx="487.5" cy="171.9" r="0.45"/><circle cx="501.1" cy="170.8" r="0.45"/><circle cx="491.8" cy="175.1" r="0.45"/><circle cx="494.6" cy="175.0" r="0.45"/><circle cx="497.0" cy="169.7" r="0.45"/><circle cx="503.2" cy="166.6" r="0.45"/><circle cx="490.1" cy="171.3" r="0.45"/><circle cx="497.8" cy="174.9" r="0.45"/><circle cx="498.7" cy="170.8" r="0.45"/><circle cx="483.8" cy="173.4" r="0.45"/><circle cx="506.6" cy="173.7" r="0.45"/><circle cx="497.9" cy="170.0" r="0.45"/><circle cx="487.3" cy="172.6" r="0.45"/><circle cx="489.2" cy="171.1" r="0.45"/><circle cx="497.3" cy="172.7" r="0.45"/><circle cx="502.1" cy="174.5" r="0.45"/><circle cx="491.5" cy="173.2" r="0.45"/><circle cx="495.3" cy="169.4" r="0.45"/><circle cx="492.7" cy="175.5" r="0.45"/><circle cx="497.4" cy="170.1" r="0.45"/><circle cx="508.3" cy="172.8" r="0.45"/><circle cx="500.2" cy="169.8" r="0.45"/><circle cx="501.2" cy="170.0" r="0.45"/><circle cx="494.7" cy="169.2" r="0.45"/><circle cx="496.2" cy="172.7" r="0.45"/><circle cx="497.8" cy="168.8" r="0.45"/><circle cx="497.1" cy="173.7" r="0.45"/><circle cx="494.3" cy="173.1" r="0.45"/><circle cx="500.6" cy="171.3" r="0.45"/><circle cx="502.8" cy="175.9" r="0.45"/><circle cx="495.9" cy="163.3" r="0.45"/><circle cx="501.1" cy="173.8" r="0.45"/><circle cx="496.1" cy="168.7" r="0.45"/><circle cx="502.2" cy="174.5" r="0.45"/><circle cx="485.8" cy="174.9" r="0.45"/><circle cx="495.2" cy="171.1" r="0.45"/></g><g fill="#5a4cb0"><circle cx="577.8" cy="271.5" r="0.45"/><circle cx="573.3" cy="266.2" r="0.45"/><circle cx="572.0" cy="269.8" r="0.45"/><circle cx="573.4" cy="275.3" r="0.45"/><circle cx="568.7" cy="272.2" r="0.45"/><circle cx="576.1" cy="271.1" r="0.45"/><circle cx="576.2" cy="266.9" r="0.45"/><circle cx="574.2" cy="271.8" r="0.45"/><circle cx="568.7" cy="260.0" r="0.45"/><circle cx="568.0" cy="263.7" r="0.45"/><circle cx="573.1" cy="274.5" r="0.45"/><circle cx="570.1" cy="277.1" r="0.45"/><circle cx="571.0" cy="270.9" r="0.45"/><circle cx="573.8" cy="276.5" r="0.45"/><circle cx="574.8" cy="272.9" r="0.45"/><circle cx="573.3" cy="266.6" r="0.45"/><circle cx="571.9" cy="272.6" r="0.45"/><circle cx="575.4" cy="267.7" r="0.45"/><circle cx="578.3" cy="256.3" r="0.45"/><circle cx="573.7" cy="264.8" r="0.45"/><circle cx="578.3" cy="277.2" r="0.45"/><circle cx="573.5" cy="260.9" r="0.45"/><circle cx="578.4" cy="274.2" r="0.45"/><circle cx="573.5" cy="266.6" r="0.45"/><circle cx="573.6" cy="262.9" r="0.45"/><circle cx="575.1" cy="264.2" r="0.45"/><circle cx="571.5" cy="265.9" r="0.45"/><circle cx="572.6" cy="270.2" r="0.45"/><circle cx="573.8" cy="258.7" r="0.45"/><circle cx="577.5" cy="277.5" r="0.45"/><circle cx="578.6" cy="264.8" r="0.45"/><circle cx="575.8" cy="271.3" r="0.45"/><circle cx="574.5" cy="261.2" r="0.45"/><circle cx="569.1" cy="270.1" r="0.45"/><circle cx="574.1" cy="264.0" r="0.45"/><circle cx="576.9" cy="281.0" r="0.45"/><circle cx="576.9" cy="263.5" r="0.45"/><circle cx="577.4" cy="264.1" r="0.45"/><circle cx="577.5" cy="266.6" r="0.45"/><circle cx="579.2" cy="277.0" r="0.45"/><circle cx="576.5" cy="283.2" r="0.45"/><circle cx="574.6" cy="267.3" r="0.45"/><circle cx="587.8" cy="266.7" r="0.45"/><circle cx="574.5" cy="273.0" r="0.45"/><circle cx="570.3" cy="271.6" r="0.45"/><circle cx="580.2" cy="262.7" r="0.45"/><circle cx="574.5" cy="266.6" r="0.45"/><circle cx="572.1" cy="271.5" r="0.45"/><circle cx="574.2" cy="269.3" r="0.45"/><circle cx="578.3" cy="272.7" r="0.45"/><circle cx="573.5" cy="274.1" r="0.45"/><circle cx="574.2" cy="265.3" r="0.45"/><circle cx="573.4" cy="275.1" r="0.45"/><circle cx="576.5" cy="271.4" r="0.45"/><circle cx="577.0" cy="271.7" r="0.45"/><circle cx="574.5" cy="276.5" r="0.45"/><circle cx="578.5" cy="266.4" r="0.45"/><circle cx="575.9" cy="261.5" r="0.45"/><circle cx="568.8" cy="269.0" r="0.45"/><circle cx="572.9" cy="276.0" r="0.45"/><circle cx="570.7" cy="275.8" r="0.45"/><circle cx="571.3" cy="265.3" r="0.45"/><circle cx="573.5" cy="279.2" r="0.45"/><circle cx="574.7" cy="273.9" r="0.45"/><circle cx="575.2" cy="271.3" r="0.45"/><circle cx="578.7" cy="265.5" r="0.45"/><circle cx="575.6" cy="273.7" r="0.45"/><circle cx="575.4" cy="271.2" r="0.45"/><circle cx="577.7" cy="279.3" r="0.45"/><circle cx="575.5" cy="269.9" r="0.45"/></g><g fill="#ffffff"><circle cx="576.8" cy="278.2" r="0.45"/><circle cx="576.5" cy="272.7" r="0.45"/><circle cx="587.0" cy="275.2" r="0.45"/><circle cx="585.7" cy="277.9" r="0.45"/><circle cx="589.0" cy="277.4" r="0.45"/><circle cx="585.4" cy="269.2" r="0.45"/><circle cx="594.9" cy="274.6" r="0.45"/><circle cx="586.9" cy="274.8" r="0.45"/><circle cx="583.2" cy="277.9" r="0.45"/><circle cx="593.0" cy="273.1" r="0.45"/><circle cx="582.4" cy="276.3" r="0.45"/><circle cx="585.8" cy="271.2" r="0.45"/><circle cx="589.9" cy="272.3" r="0.45"/><circle cx="582.0" cy="275.2" r="0.45"/><circle cx="587.9" cy="274.2" r="0.45"/><circle cx="582.4" cy="268.5" r="0.45"/><circle cx="581.3" cy="271.0" r="0.45"/><circle cx="586.3" cy="274.6" r="0.45"/><circle cx="588.8" cy="272.7" r="0.45"/><circle cx="586.7" cy="277.0" r="0.45"/><circle cx="586.7" cy="280.5" r="0.45"/><circle cx="591.7" cy="270.3" r="0.45"/><circle cx="586.7" cy="279.0" r="0.45"/><circle cx="585.7" cy="273.8" r="0.45"/><circle cx="584.2" cy="279.5" r="0.45"/><circle cx="588.8" cy="265.9" r="0.45"/><circle cx="586.3" cy="271.2" r="0.45"/><circle cx="579.7" cy="273.8" r="0.45"/><circle cx="592.1" cy="271.0" r="0.45"/><circle cx="586.4" cy="266.0" r="0.45"/><circle cx="587.6" cy="276.8" r="0.45"/><circle cx="581.6" cy="280.6" r="0.45"/><circle cx="585.6" cy="268.1" r="0.45"/><circle cx="588.3" cy="278.3" r="0.45"/><circle cx="590.1" cy="273.1" r="0.45"/><circle cx="581.5" cy="260.0" r="0.45"/><circle cx="586.5" cy="272.8" r="0.45"/><circle cx="590.2" cy="270.8" r="0.45"/><circle cx="582.2" cy="277.1" r="0.45"/><circle cx="586.0" cy="272.3" r="0.45"/><circle cx="587.8" cy="280.6" r="0.45"/><circle cx="586.2" cy="265.5" r="0.45"/><circle cx="583.8" cy="272.2" r="0.45"/><circle cx="586.1" cy="268.1" r="0.45"/><circle cx="587.8" cy="271.8" r="0.45"/><circle cx="584.9" cy="280.9" r="0.45"/><circle cx="582.2" cy="273.7" r="0.45"/><circle cx="585.8" cy="280.8" r="0.45"/><circle cx="584.1" cy="266.9" r="0.45"/><circle cx="584.7" cy="276.7" r="0.45"/></g><g fill="#ffffff"><circle cx="464.7" cy="228.1" r="0.4"/><circle cx="462.5" cy="234.3" r="0.4"/><circle cx="473.4" cy="231.8" r="0.4"/><circle cx="465.8" cy="225.7" r="0.4"/><circle cx="464.4" cy="238.8" r="0.4"/><circle cx="463.5" cy="226.2" r="0.4"/><circle cx="465.9" cy="227.4" r="0.4"/><circle cx="462.5" cy="228.2" r="0.4"/><circle cx="471.3" cy="225.5" r="0.4"/><circle cx="462.4" cy="227.6" r="0.4"/><circle cx="468.4" cy="228.7" r="0.4"/><circle cx="456.9" cy="229.2" r="0.4"/><circle cx="469.3" cy="226.8" r="0.4"/><circle cx="461.4" cy="225.8" r="0.4"/><circle cx="463.3" cy="225.3" r="0.4"/><circle cx="463.3" cy="227.3" r="0.4"/><circle cx="457.6" cy="225.9" r="0.4"/><circle cx="459.8" cy="227.1" r="0.4"/><circle cx="463.8" cy="230.9" r="0.4"/><circle cx="468.8" cy="230.6" r="0.4"/><circle cx="460.7" cy="226.9" r="0.4"/><circle cx="462.5" cy="227.5" r="0.4"/><circle cx="462.6" cy="230.4" r="0.4"/><circle cx="467.0" cy="226.4" r="0.4"/><circle cx="467.3" cy="232.6" r="0.4"/><circle cx="466.4" cy="228.7" r="0.4"/><circle cx="463.5" cy="231.3" r="0.4"/><circle cx="464.1" cy="229.4" r="0.4"/><circle cx="465.2" cy="224.9" r="0.4"/><circle cx="458.9" cy="229.3" r="0.4"/></g><rect x="635.50" y="189.50" width="14.90" height="75.20" fill="url(#cbar)"/><text x="655.30" y="194.20" font-size="9.5" fill="#262626" stroke="#262626">ventral</text><text x="655.30" y="267.20" font-size="9.5" fill="#262626" stroke="#262626">dorsal</text><text x="0.00" y="340.00" font-size="16.5" fill="#222" stroke="#222" stroke-width="0.3">E</text><text x="31.00" y="337.80" font-size="9.3" fill="#262626" stroke="#262626">Non−neuronal populations (ATAC)</text><path d="M115.6,352.0 C116.4,349.6 119.6,349.0 122.0,348.7 C124.4,348.4 128.0,349.0 130.0,350.3 C132.0,351.6 133.6,354.0 134.2,356.7 C134.8,359.4 134.2,363.7 133.3,366.4 C132.4,369.1 130.4,372.0 128.5,372.8 C126.6,373.6 123.9,372.8 122.0,371.2 C120.1,369.6 118.3,366.4 117.2,363.2 C116.1,360.0 114.8,354.4 115.6,352.0Z" fill="#b9a0dc"/><g fill="#a98bd3"><circle cx="122.6" cy="373.2" r="0.5"/><circle cx="134.3" cy="355.4" r="0.5"/><circle cx="116.8" cy="352.6" r="0.5"/><circle cx="127.8" cy="373.9" r="0.5"/><circle cx="131.6" cy="366.4" r="0.5"/><circle cx="117.6" cy="361.8" r="0.5"/><circle cx="131.3" cy="368.7" r="0.5"/><circle cx="124.7" cy="349.2" r="0.5"/><circle cx="128.9" cy="350.5" r="0.5"/><circle cx="134.5" cy="357.4" r="0.5"/><circle cx="122.3" cy="348.8" r="0.5"/><circle cx="117.3" cy="365.6" r="0.5"/><circle cx="122.3" cy="371.9" r="0.5"/><circle cx="133.1" cy="360.5" r="0.5"/><circle cx="116.0" cy="351.5" r="0.5"/><circle cx="130.0" cy="351.7" r="0.5"/><circle cx="120.0" cy="366.2" r="0.5"/><circle cx="134.5" cy="361.5" r="0.5"/><circle cx="133.2" cy="367.5" r="0.5"/><circle cx="119.9" cy="350.5" r="0.5"/><circle cx="126.5" cy="349.5" r="0.5"/><circle cx="131.9" cy="368.8" r="0.5"/><circle cx="115.5" cy="357.3" r="0.5"/><circle cx="117.6" cy="364.0" r="0.5"/><circle cx="132.3" cy="354.2" r="0.5"/><circle cx="123.3" cy="347.1" r="0.5"/><circle cx="134.8" cy="356.1" r="0.5"/><circle cx="116.0" cy="354.7" r="0.5"/><circle cx="130.6" cy="370.6" r="0.5"/><circle cx="130.9" cy="350.2" r="0.5"/><circle cx="126.4" cy="371.4" r="0.5"/><circle cx="117.0" cy="362.5" r="0.5"/><circle cx="121.0" cy="350.4" r="0.5"/><circle cx="118.9" cy="367.2" r="0.5"/><circle cx="134.0" cy="359.5" r="0.5"/><circle cx="131.6" cy="350.8" r="0.5"/><circle cx="121.9" cy="371.8" r="0.5"/><circle cx="133.3" cy="355.3" r="0.5"/><circle cx="117.5" cy="360.5" r="0.5"/><circle cx="115.0" cy="352.7" r="0.5"/></g><path d="M115.6,352.0 C116.4,349.6 119.6,349.0 122.0,348.7 C124.4,348.4 128.0,349.0 130.0,350.3 C132.0,351.6 133.6,354.0 134.2,356.7 C134.8,359.4 134.2,363.7 133.3,366.4 C132.4,369.1 130.4,372.0 128.5,372.8 C126.6,373.6 123.9,372.8 122.0,371.2 C120.1,369.6 118.3,366.4 117.2,363.2 C116.1,360.0 114.8,354.4 115.6,352.0Z" fill="none" stroke="#a98bd3" stroke-width="1.6"/><g fill="#ffffff"><circle cx="123.2" cy="368.2" r="0.5"/><circle cx="126.9" cy="356.8" r="0.5"/><circle cx="124.9" cy="362.9" r="0.5"/><circle cx="122.4" cy="364.9" r="0.5"/><circle cx="127.5" cy="358.4" r="0.5"/><circle cx="123.4" cy="365.6" r="0.5"/><circle cx="123.6" cy="364.5" r="0.5"/><circle cx="121.5" cy="363.8" r="0.5"/><circle cx="120.9" cy="364.1" r="0.5"/><circle cx="117.5" cy="362.2" r="0.5"/><circle cx="122.4" cy="356.9" r="0.5"/><circle cx="122.8" cy="354.4" r="0.5"/><circle cx="123.3" cy="360.9" r="0.5"/><circle cx="124.2" cy="362.3" r="0.5"/><circle cx="124.3" cy="354.2" r="0.5"/><circle cx="126.4" cy="358.8" r="0.5"/><circle cx="123.8" cy="364.5" r="0.5"/><circle cx="122.1" cy="356.0" r="0.5"/><circle cx="121.7" cy="360.5" r="0.5"/><circle cx="131.4" cy="358.4" r="0.5"/><circle cx="126.8" cy="363.0" r="0.5"/><circle cx="124.9" cy="362.5" r="0.5"/><circle cx="122.7" cy="359.9" r="0.5"/><circle cx="119.0" cy="361.1" r="0.5"/><circle cx="122.6" cy="356.4" r="0.5"/><circle cx="121.3" cy="352.7" r="0.5"/><circle cx="122.9" cy="357.2" r="0.5"/><circle cx="124.5" cy="365.4" r="0.5"/><circle cx="124.3" cy="368.5" r="0.5"/><circle cx="121.1" cy="363.4" r="0.5"/><circle cx="123.0" cy="367.7" r="0.5"/><circle cx="125.5" cy="359.4" r="0.5"/><circle cx="127.2" cy="358.9" r="0.5"/><circle cx="126.8" cy="358.3" r="0.5"/><circle cx="130.8" cy="362.1" r="0.5"/><circle cx="125.4" cy="364.3" r="0.5"/><circle cx="120.4" cy="354.9" r="0.5"/><circle cx="122.8" cy="363.2" r="0.5"/><circle cx="126.4" cy="369.7" r="0.5"/><circle cx="128.0" cy="357.7" r="0.5"/></g><path d="M131,375 L134.5,379" stroke="#a98bd3" stroke-width="1.5"/><path d="M96.3,353.5 L99,355 M101,356 L106,358.4" stroke="#d0607a" stroke-width="1.1"/><path d="M43.5,414.0 C43.5,412.8 44.6,411.3 46.0,410.5 C47.4,409.7 49.7,409.3 52.0,409.0 C54.3,408.7 57.7,409.0 60.0,408.5 C62.3,408.0 64.5,407.1 66.0,406.0 C67.5,404.9 68.2,403.1 69.0,402.0 C69.8,400.9 70.0,399.5 70.5,399.3 C71.0,399.1 71.8,399.9 72.0,401.0 C72.2,402.1 72.0,404.3 72.0,406.0 C72.0,407.7 72.6,409.6 72.3,411.0 C72.0,412.4 71.7,413.5 70.0,414.5 C68.3,415.5 65.0,416.4 62.0,417.0 C59.0,417.6 54.7,417.9 52.0,418.0 C49.3,418.1 47.4,418.2 46.0,417.5 C44.6,416.8 43.5,415.2 43.5,414.0Z" fill="#e25656"/><g fill="#e25656"><circle cx="43.8" cy="413.8" r="0.45"/><circle cx="68.4" cy="401.2" r="0.45"/><circle cx="68.4" cy="404.7" r="0.45"/><circle cx="45.8" cy="416.0" r="0.45"/><circle cx="44.2" cy="412.8" r="0.45"/><circle cx="69.3" cy="401.6" r="0.45"/><circle cx="74.8" cy="400.3" r="0.45"/><circle cx="73.2" cy="406.2" r="0.45"/><circle cx="70.6" cy="404.4" r="0.45"/><circle cx="69.6" cy="397.4" r="0.45"/><circle cx="61.9" cy="406.7" r="0.45"/><circle cx="55.8" cy="408.2" r="0.45"/><circle cx="67.6" cy="405.0" r="0.45"/><circle cx="69.0" cy="415.8" r="0.45"/><circle cx="70.7" cy="413.1" r="0.45"/></g><path d="M70.5,401 L75,394 L78,390" stroke="#e25656" stroke-width="1.0" fill="none" opacity="0.85"/><path d="M78,390 L81,386.5 L84.5,384.5" stroke="#e25656" stroke-width="0.8" fill="none" stroke-dasharray="1.5,1.2" opacity="0.8"/><path d="M99.0,458.0 C100.3,455.2 103.3,452.6 106.0,451.0 C108.7,449.4 112.3,449.3 115.0,448.5 C117.7,447.7 120.0,446.8 122.0,446.0 C124.0,445.2 125.3,444.2 127.0,444.0 C128.7,443.8 129.8,444.5 132.0,445.0 C134.2,445.5 136.7,446.3 140.0,447.0 C143.3,447.7 147.8,448.3 152.0,449.0 C156.2,449.7 161.5,450.0 165.0,451.0 C168.5,452.0 171.2,453.2 173.0,455.0 C174.8,456.8 175.3,459.2 175.5,462.0 C175.7,464.8 174.8,469.0 174.0,472.0 C173.2,475.0 172.0,477.7 171.0,480.0 C170.0,482.3 167.8,484.9 168.0,486.0 C168.2,487.1 172.2,485.8 172.5,486.5 C172.8,487.2 172.1,488.8 170.0,490.0 C167.9,491.2 163.7,492.7 160.0,493.5 C156.3,494.3 152.2,494.8 148.0,495.0 C143.8,495.2 139.7,495.2 135.0,494.5 C130.3,493.8 124.5,492.6 120.0,491.0 C115.5,489.4 111.2,487.3 108.0,485.0 C104.8,482.7 102.7,479.8 101.0,477.0 C99.3,474.2 98.3,471.2 98.0,468.0 C97.7,464.8 97.7,460.8 99.0,458.0Z" fill="#63b35c"/><path d="M99.0,458.0 C100.3,455.2 103.3,452.6 106.0,451.0 C108.7,449.4 112.3,449.3 115.0,448.5 C117.7,447.7 120.0,446.8 122.0,446.0 C124.0,445.2 125.3,444.2 127.0,444.0 C128.7,443.8 129.8,444.5 132.0,445.0 C134.2,445.5 136.7,446.3 140.0,447.0 C143.3,447.7 147.8,448.3 152.0,449.0 C156.2,449.7 161.5,450.0 165.0,451.0 C168.5,452.0 171.2,453.2 173.0,455.0 C174.8,456.8 175.3,459.2 175.5,462.0 C175.7,464.8 174.8,469.0 174.0,472.0 C173.2,475.0 172.0,477.7 171.0,480.0 C170.0,482.3 167.8,484.9 168.0,486.0 C168.2,487.1 172.2,485.8 172.5,486.5 C172.8,487.2 172.1,488.8 170.0,490.0 C167.9,491.2 163.7,492.7 160.0,493.5 C156.3,494.3 152.2,494.8 148.0,495.0 C143.8,495.2 139.7,495.2 135.0,494.5 C130.3,493.8 124.5,492.6 120.0,491.0 C115.5,489.4 111.2,487.3 108.0,485.0 C104.8,482.7 102.7,479.8 101.0,477.0 C99.3,474.2 98.3,471.2 98.0,468.0 C97.7,464.8 97.7,460.8 99.0,458.0Z" fill="url(#spk2)"/><g fill="#63b35c"><circle cx="128.2" cy="440.5" r="0.45"/><circle cx="159.9" cy="452.5" r="0.45"/><circle cx="116.0" cy="446.5" r="0.45"/><circle cx="115.2" cy="449.0" r="0.45"/><circle cx="133.0" cy="446.7" r="0.45"/><circle cx="158.8" cy="492.6" r="0.45"/><circle cx="168.5" cy="486.4" r="0.45"/><circle cx="101.6" cy="469.8" r="0.45"/><circle cx="172.4" cy="472.7" r="0.45"/><circle cx="172.9" cy="463.0" r="0.45"/><circle cx="170.0" cy="484.6" r="0.45"/><circle cx="101.3" cy="457.8" r="0.45"/><circle cx="109.0" cy="483.4" r="0.45"/><circle cx="144.3" cy="445.9" r="0.45"/><circle cx="116.3" cy="449.6" r="0.45"/><circle cx="156.4" cy="450.6" r="0.45"/><circle cx="105.9" cy="481.8" r="0.45"/><circle cx="142.8" cy="448.6" r="0.45"/><circle cx="97.9" cy="473.7" r="0.45"/><circle cx="124.7" cy="493.3" r="0.45"/><circle cx="171.4" cy="487.0" r="0.45"/><circle cx="172.7" cy="479.9" r="0.45"/><circle cx="98.1" cy="460.4" r="0.45"/><circle cx="168.7" cy="482.2" r="0.45"/><circle cx="120.2" cy="445.6" r="0.45"/><circle cx="158.2" cy="495.7" r="0.45"/><circle cx="133.7" cy="493.7" r="0.45"/><circle cx="169.4" cy="451.1" r="0.45"/><circle cx="176.8" cy="461.5" r="0.45"/><circle cx="101.1" cy="457.5" r="0.45"/></g><g fill="#63b35c"><circle cx="129.0" cy="437.3" r="0.5"/><circle cx="124.0" cy="440.9" r="0.5"/><circle cx="124.6" cy="432.7" r="0.5"/><circle cx="122.8" cy="443.2" r="0.5"/><circle cx="121.7" cy="438.9" r="0.5"/><circle cx="124.7" cy="436.8" r="0.5"/><circle cx="128.2" cy="440.8" r="0.5"/><circle cx="129.1" cy="441.5" r="0.5"/><circle cx="133.0" cy="445.9" r="0.5"/><circle cx="123.2" cy="442.1" r="0.5"/><circle cx="131.6" cy="446.8" r="0.5"/><circle cx="124.7" cy="441.7" r="0.5"/><circle cx="128.0" cy="443.1" r="0.5"/><circle cx="129.6" cy="447.7" r="0.5"/><circle cx="129.3" cy="443.8" r="0.5"/><circle cx="128.4" cy="444.9" r="0.5"/><circle cx="127.2" cy="443.7" r="0.5"/><circle cx="123.5" cy="451.0" r="0.5"/><circle cx="129.1" cy="442.2" r="0.5"/><circle cx="124.2" cy="439.3" r="0.5"/><circle cx="126.6" cy="445.3" r="0.5"/><circle cx="126.2" cy="443.0" r="0.5"/><circle cx="126.5" cy="443.0" r="0.5"/><circle cx="131.9" cy="448.9" r="0.5"/><circle cx="125.9" cy="442.6" r="0.5"/><circle cx="127.5" cy="443.8" r="0.5"/><circle cx="124.1" cy="442.1" r="0.5"/><circle cx="130.4" cy="441.0" r="0.5"/><circle cx="127.5" cy="446.5" r="0.5"/><circle cx="129.4" cy="438.3" r="0.5"/><circle cx="124.7" cy="446.7" r="0.5"/><circle cx="132.0" cy="441.6" r="0.5"/><circle cx="129.1" cy="437.5" r="0.5"/><circle cx="124.0" cy="440.8" r="0.5"/><circle cx="123.1" cy="440.2" r="0.5"/><circle cx="123.7" cy="445.2" r="0.5"/><circle cx="126.2" cy="438.5" r="0.5"/><circle cx="127.1" cy="441.8" r="0.5"/><circle cx="130.5" cy="438.8" r="0.5"/><circle cx="123.5" cy="444.4" r="0.5"/><circle cx="130.8" cy="434.9" r="0.5"/><circle cx="127.5" cy="442.2" r="0.5"/><circle cx="129.5" cy="445.4" r="0.5"/><circle cx="126.7" cy="440.3" r="0.5"/><circle cx="127.7" cy="442.7" r="0.5"/><circle cx="124.0" cy="444.8" r="0.5"/><circle cx="126.5" cy="437.8" r="0.5"/><circle cx="128.2" cy="437.8" r="0.5"/><circle cx="127.1" cy="444.8" r="0.5"/><circle cx="124.7" cy="441.1" r="0.5"/><circle cx="123.6" cy="438.7" r="0.5"/><circle cx="126.8" cy="438.2" r="0.5"/><circle cx="135.8" cy="439.0" r="0.5"/><circle cx="126.3" cy="440.0" r="0.5"/><circle cx="132.3" cy="441.3" r="0.5"/><circle cx="129.1" cy="444.1" r="0.5"/><circle cx="127.8" cy="439.8" r="0.5"/><circle cx="130.0" cy="442.9" r="0.5"/><circle cx="122.9" cy="440.6" r="0.5"/><circle cx="128.5" cy="439.3" r="0.5"/><circle cx="127.2" cy="435.6" r="0.5"/><circle cx="126.0" cy="440.5" r="0.5"/><circle cx="124.8" cy="437.0" r="0.5"/><circle cx="132.0" cy="443.6" r="0.5"/><circle cx="126.1" cy="439.0" r="0.5"/><circle cx="129.7" cy="437.1" r="0.5"/><circle cx="127.1" cy="442.7" r="0.5"/><circle cx="127.4" cy="438.2" r="0.5"/><circle cx="124.4" cy="441.2" r="0.5"/><circle cx="125.4" cy="441.6" r="0.5"/><circle cx="122.6" cy="445.4" r="0.5"/><circle cx="130.3" cy="434.8" r="0.5"/><circle cx="136.2" cy="440.3" r="0.5"/><circle cx="133.4" cy="444.8" r="0.5"/><circle cx="126.6" cy="443.6" r="0.5"/><circle cx="122.3" cy="438.4" r="0.5"/><circle cx="130.5" cy="443.7" r="0.5"/><circle cx="124.9" cy="443.1" r="0.5"/><circle cx="133.2" cy="439.8" r="0.5"/><circle cx="138.7" cy="437.4" r="0.5"/><circle cx="127.0" cy="439.9" r="0.5"/><circle cx="124.9" cy="439.2" r="0.5"/><circle cx="120.9" cy="437.8" r="0.5"/><circle cx="132.2" cy="441.7" r="0.5"/><circle cx="125.5" cy="437.7" r="0.5"/><circle cx="120.9" cy="446.3" r="0.5"/><circle cx="113.5" cy="439.7" r="0.5"/><circle cx="126.9" cy="443.3" r="0.5"/><circle cx="125.0" cy="449.0" r="0.5"/><circle cx="123.7" cy="440.4" r="0.5"/><circle cx="126.7" cy="444.4" r="0.5"/><circle cx="124.5" cy="441.4" r="0.5"/><circle cx="133.1" cy="438.0" r="0.5"/><circle cx="128.2" cy="438.6" r="0.5"/><circle cx="126.5" cy="441.4" r="0.5"/><circle cx="128.5" cy="438.9" r="0.5"/><circle cx="125.6" cy="443.1" r="0.5"/><circle cx="132.7" cy="439.2" r="0.5"/><circle cx="136.1" cy="443.5" r="0.5"/><circle cx="124.3" cy="451.2" r="0.5"/><circle cx="125.5" cy="440.1" r="0.5"/><circle cx="130.4" cy="442.0" r="0.5"/><circle cx="127.2" cy="435.7" r="0.5"/><circle cx="129.3" cy="438.9" r="0.5"/><circle cx="128.1" cy="439.3" r="0.5"/><circle cx="120.7" cy="440.6" r="0.5"/><circle cx="130.2" cy="442.3" r="0.5"/><circle cx="120.7" cy="445.9" r="0.5"/><circle cx="128.7" cy="443.8" r="0.5"/><circle cx="126.1" cy="445.3" r="0.5"/><circle cx="138.3" cy="439.7" r="0.5"/><circle cx="128.2" cy="445.6" r="0.5"/><circle cx="122.3" cy="443.5" r="0.5"/><circle cx="126.8" cy="440.7" r="0.5"/><circle cx="126.2" cy="444.8" r="0.5"/><circle cx="118.9" cy="441.0" r="0.5"/><circle cx="118.7" cy="439.7" r="0.5"/><circle cx="133.8" cy="439.4" r="0.5"/><circle cx="126.3" cy="442.7" r="0.5"/><circle cx="130.1" cy="437.5" r="0.5"/></g><g fill="#f0984a"><circle cx="133.6" cy="442.1" r="0.4"/><circle cx="137.4" cy="440.6" r="0.4"/><circle cx="138.5" cy="430.7" r="0.4"/><circle cx="138.5" cy="431.1" r="0.4"/><circle cx="138.7" cy="430.4" r="0.4"/><circle cx="137.7" cy="447.4" r="0.4"/><circle cx="132.6" cy="428.5" r="0.4"/><circle cx="135.1" cy="435.4" r="0.4"/><circle cx="136.2" cy="439.2" r="0.4"/><circle cx="127.4" cy="439.0" r="0.4"/><circle cx="138.3" cy="441.6" r="0.4"/><circle cx="120.0" cy="448.8" r="0.4"/><circle cx="138.5" cy="439.4" r="0.4"/><circle cx="137.5" cy="441.3" r="0.4"/><circle cx="132.9" cy="444.0" r="0.4"/><circle cx="134.2" cy="443.5" r="0.4"/><circle cx="138.4" cy="443.4" r="0.4"/><circle cx="144.6" cy="437.1" r="0.4"/><circle cx="131.8" cy="439.2" r="0.4"/><circle cx="140.4" cy="439.6" r="0.4"/><circle cx="135.9" cy="430.4" r="0.4"/><circle cx="134.3" cy="432.8" r="0.4"/><circle cx="132.5" cy="437.2" r="0.4"/><circle cx="129.4" cy="438.0" r="0.4"/><circle cx="136.7" cy="445.8" r="0.4"/></g><path d="M106.0,419.0 C106.6,417.6 108.0,415.5 110.0,414.5 C112.0,413.5 114.9,413.3 118.0,413.0 C121.1,412.7 125.3,412.4 128.5,412.5 C131.7,412.6 134.7,412.9 137.0,413.5 C139.3,414.1 141.2,414.8 142.5,416.0 C143.8,417.2 144.8,419.2 144.5,421.0 C144.2,422.8 142.4,425.2 141.0,427.0 C139.6,428.8 137.7,430.4 136.0,432.0 C134.3,433.6 132.5,435.3 131.0,436.5 C129.5,437.7 128.3,439.1 127.0,439.0 C125.7,438.9 124.8,437.3 123.0,436.0 C121.2,434.7 118.2,432.6 116.0,431.0 C113.8,429.4 111.1,427.8 109.5,426.5 C107.9,425.2 107.1,424.2 106.5,423.0 C105.9,421.8 105.4,420.4 106.0,419.0Z" fill="#6a9bd1"/><path d="M106.0,419.0 C106.6,417.6 108.0,415.5 110.0,414.5 C112.0,413.5 114.9,413.3 118.0,413.0 C121.1,412.7 125.3,412.4 128.5,412.5 C131.7,412.6 134.7,412.9 137.0,413.5 C139.3,414.1 141.2,414.8 142.5,416.0 C143.8,417.2 144.8,419.2 144.5,421.0 C144.2,422.8 142.4,425.2 141.0,427.0 C139.6,428.8 137.7,430.4 136.0,432.0 C134.3,433.6 132.5,435.3 131.0,436.5 C129.5,437.7 128.3,439.1 127.0,439.0 C125.7,438.9 124.8,437.3 123.0,436.0 C121.2,434.7 118.2,432.6 116.0,431.0 C113.8,429.4 111.1,427.8 109.5,426.5 C107.9,425.2 107.1,424.2 106.5,423.0 C105.9,421.8 105.4,420.4 106.0,419.0Z" fill="url(#spk2)"/><g fill="#6a9bd1"><circle cx="146.7" cy="424.3" r="0.45"/><circle cx="118.7" cy="430.9" r="0.45"/><circle cx="107.0" cy="419.4" r="0.45"/><circle cx="120.7" cy="435.6" r="0.45"/><circle cx="107.6" cy="416.6" r="0.45"/><circle cx="140.1" cy="412.9" r="0.45"/><circle cx="119.0" cy="433.5" r="0.45"/><circle cx="114.2" cy="413.3" r="0.45"/><circle cx="109.2" cy="414.1" r="0.45"/><circle cx="121.2" cy="412.8" r="0.45"/><circle cx="143.4" cy="417.3" r="0.45"/><circle cx="113.4" cy="415.4" r="0.45"/><circle cx="111.4" cy="413.3" r="0.45"/><circle cx="131.0" cy="413.2" r="0.45"/><circle cx="123.8" cy="433.4" r="0.45"/><circle cx="116.8" cy="431.2" r="0.45"/><circle cx="121.0" cy="436.3" r="0.45"/><circle cx="139.1" cy="415.7" r="0.45"/><circle cx="133.5" cy="413.2" r="0.45"/><circle cx="130.9" cy="438.4" r="0.45"/><circle cx="126.3" cy="441.4" r="0.45"/><circle cx="133.7" cy="438.5" r="0.45"/><circle cx="120.5" cy="433.7" r="0.45"/><circle cx="131.0" cy="437.4" r="0.45"/><circle cx="121.7" cy="435.2" r="0.45"/></g><path d="M147.7,421.0 C148.8,419.0 150.9,416.5 154.1,415.2 C157.3,413.9 163.3,413.1 167.0,413.0 C170.7,412.9 173.6,412.9 176.0,414.5 C178.4,416.1 180.8,419.7 181.4,422.6 C182.0,425.6 179.0,429.3 179.8,432.2 C180.6,435.1 184.4,437.5 186.3,440.2 C188.2,442.9 190.3,445.9 191.0,448.3 C191.7,450.7 190.9,454.2 190.4,454.7 C189.9,455.2 189.1,453.4 187.9,451.5 C186.7,449.6 185.2,445.9 183.0,443.5 C180.8,441.1 178.2,438.6 175.0,437.0 C171.8,435.4 167.3,434.9 163.8,433.8 C160.3,432.7 156.8,431.7 154.1,430.6 C151.4,429.5 148.8,429.0 147.7,427.4 C146.6,425.8 146.6,423.0 147.7,421.0Z" fill="#f0984a"/><g fill="#f0984a"><circle cx="187.3" cy="450.9" r="0.45"/><circle cx="145.8" cy="425.3" r="0.45"/><circle cx="190.0" cy="455.0" r="0.45"/><circle cx="151.6" cy="428.8" r="0.45"/><circle cx="163.9" cy="435.7" r="0.45"/><circle cx="182.5" cy="440.3" r="0.45"/><circle cx="189.2" cy="453.1" r="0.45"/><circle cx="165.3" cy="435.7" r="0.45"/><circle cx="174.2" cy="414.8" r="0.45"/><circle cx="177.5" cy="418.3" r="0.45"/><circle cx="147.7" cy="424.5" r="0.45"/><circle cx="149.6" cy="428.4" r="0.45"/><circle cx="181.7" cy="425.8" r="0.45"/><circle cx="175.6" cy="441.5" r="0.45"/><circle cx="171.2" cy="412.8" r="0.45"/><circle cx="156.9" cy="417.0" r="0.45"/><circle cx="147.0" cy="419.9" r="0.45"/><circle cx="168.3" cy="413.5" r="0.45"/><circle cx="177.6" cy="416.6" r="0.45"/><circle cx="167.9" cy="414.8" r="0.45"/><circle cx="178.7" cy="419.4" r="0.45"/><circle cx="189.2" cy="453.0" r="0.45"/><circle cx="182.2" cy="437.0" r="0.45"/><circle cx="155.9" cy="416.3" r="0.45"/><circle cx="178.2" cy="438.7" r="0.45"/></g><path d="M96.3,406.5 L98,411 M100,414 L102.8,417.8" stroke="#d77ebf" stroke-width="0.9"/><path d="M17.6,463 L19.6,461.4" stroke="#9b6fe0" stroke-width="1.2"/><text x="58.40" y="350.20" font-size="9.5" fill="#262626" stroke="#262626">pericytes</text><text x="130.00" y="350.20" font-size="9.5" fill="#262626" stroke="#262626">endothelial</text><text x="102.80" y="372.20" font-size="9.5" fill="#262626" stroke="#262626">smooth_muscle</text><text x="31.50" y="407.60" font-size="9.5" fill="#262626" stroke="#262626">astrocytes</text><text x="95.70" y="403.30" font-size="9.5" fill="#262626" stroke="#262626">PVM</text><text x="52.30" y="422.80" font-size="9.5" fill="#262626" stroke="#262626">other_glia</text><text x="108.20" y="420.80" font-size="9.5" fill="#262626" stroke="#262626">microglia</text><text x="148.40" y="432.00" font-size="9.5" fill="#262626" stroke="#262626">OPC</text><text x="177.60" y="442.30" font-size="9.5" fill="#262626" stroke="#262626">COP</text><text x="109.20" y="462.80" font-size="9.5" fill="#262626" stroke="#262626">oligodendrocyte</text><text x="23.00" y="464.00" font-size="9.5" fill="#262626" stroke="#262626">other_vascular</text><text x="224.60" y="340.00" font-size="16.5" fill="#222" stroke="#222" stroke-width="0.3">F</text><text x="265.40" y="337.80" font-size="9.3" fill="#262626" stroke="#262626">Neuronal populations (ATAC)</text><path d="M252.3,377.7 C251.8,376.7 253.8,375.1 255.0,374.0 C256.2,372.9 257.3,371.6 259.5,371.0 C261.7,370.4 264.6,370.5 268.0,370.5 C271.4,370.5 276.0,371.1 280.0,371.0 C284.0,370.9 288.8,370.1 292.0,370.0 C295.2,369.9 298.5,369.8 299.0,370.5 C299.5,371.2 296.7,372.9 295.0,374.0 C293.3,375.1 291.0,376.0 289.0,377.0 C287.0,378.0 283.2,379.2 283.0,380.0 C282.8,380.8 286.3,381.1 288.0,381.5 C289.7,381.9 291.2,381.9 293.0,382.6 C294.8,383.3 297.6,384.3 299.0,385.5 C300.4,386.7 301.3,388.6 301.5,390.0 C301.7,391.4 301.0,393.0 300.0,394.0 C299.0,395.0 297.5,395.0 295.7,395.8 C293.9,396.6 291.1,397.7 289.2,398.6 C287.3,399.6 285.7,400.4 284.4,401.5 C283.1,402.6 282.5,404.0 281.2,405.0 C279.9,406.0 278.0,407.1 276.4,407.6 C274.8,408.1 272.2,408.6 271.6,407.8 C271.0,407.0 271.8,404.6 272.5,403.0 C273.2,401.4 275.2,400.2 276.0,398.5 C276.8,396.8 277.3,394.7 277.5,393.0 C277.7,391.3 277.8,389.9 277.0,388.5 C276.2,387.1 274.8,385.7 273.0,384.5 C271.2,383.3 268.5,381.9 266.0,381.2 C263.5,380.4 260.3,380.6 258.0,380.0 C255.7,379.4 252.8,378.7 252.3,377.7Z" fill="#a3cf3f"/><g fill="#a3cf3f"><circle cx="276.4" cy="391.7" r="0.45"/><circle cx="297.4" cy="383.1" r="0.45"/><circle cx="300.7" cy="385.4" r="0.45"/><circle cx="271.2" cy="408.5" r="0.45"/><circle cx="297.6" cy="371.2" r="0.45"/><circle cx="261.3" cy="372.9" r="0.45"/><circle cx="280.7" cy="407.7" r="0.45"/><circle cx="299.0" cy="392.3" r="0.45"/><circle cx="300.1" cy="390.9" r="0.45"/><circle cx="279.1" cy="398.0" r="0.45"/><circle cx="299.9" cy="383.8" r="0.45"/><circle cx="294.8" cy="399.4" r="0.45"/><circle cx="273.4" cy="383.7" r="0.45"/><circle cx="273.8" cy="406.1" r="0.45"/><circle cx="274.3" cy="406.9" r="0.45"/><circle cx="301.4" cy="391.8" r="0.45"/><circle cx="296.3" cy="392.0" r="0.45"/><circle cx="293.3" cy="394.8" r="0.45"/><circle cx="283.2" cy="380.4" r="0.45"/><circle cx="293.4" cy="384.2" r="0.45"/></g><path d="M271.6,349.3 C272.8,349.0 273.9,349.7 275.0,350.5 C276.1,351.3 277.0,352.4 278.0,354.0 C279.0,355.6 279.7,358.2 281.0,360.0 C282.3,361.8 284.2,363.7 286.0,365.0 C287.8,366.3 289.8,367.2 292.0,368.0 C294.2,368.8 298.3,369.2 299.0,370.0 C299.7,370.8 297.8,372.0 296.0,372.5 C294.2,373.0 291.0,373.0 288.0,373.0 C285.0,373.0 281.3,372.6 278.0,372.5 C274.7,372.4 270.9,372.6 268.0,372.5 C265.1,372.4 261.5,373.1 260.5,372.0 C259.5,370.9 261.2,368.2 262.0,366.0 C262.8,363.8 264.0,361.2 265.0,359.0 C266.0,356.8 266.9,354.1 268.0,352.5 C269.1,350.9 270.4,349.6 271.6,349.3Z" fill="#0d6a3a"/><g fill="#0d6a3a"><circle cx="297.9" cy="371.7" r="0.45"/><circle cx="263.1" cy="371.3" r="0.45"/><circle cx="265.2" cy="359.4" r="0.45"/><circle cx="264.0" cy="357.8" r="0.45"/><circle cx="263.3" cy="371.6" r="0.45"/><circle cx="285.4" cy="366.4" r="0.45"/><circle cx="264.3" cy="360.3" r="0.45"/><circle cx="285.6" cy="363.7" r="0.45"/><circle cx="268.5" cy="353.6" r="0.45"/><circle cx="260.7" cy="372.8" r="0.45"/><circle cx="280.7" cy="354.7" r="0.45"/><circle cx="263.5" cy="371.9" r="0.45"/><circle cx="286.9" cy="364.4" r="0.45"/><circle cx="281.1" cy="371.1" r="0.45"/><circle cx="293.3" cy="376.3" r="0.45"/></g><g fill="#a3cf3f"><circle cx="261.8" cy="370.5" r="0.5"/><circle cx="263.2" cy="366.9" r="0.5"/><circle cx="260.1" cy="368.8" r="0.5"/><circle cx="275.3" cy="371.7" r="0.5"/><circle cx="269.0" cy="368.1" r="0.5"/><circle cx="278.5" cy="371.1" r="0.5"/><circle cx="258.3" cy="367.5" r="0.5"/><circle cx="268.1" cy="368.8" r="0.5"/><circle cx="269.9" cy="369.9" r="0.5"/><circle cx="268.2" cy="373.9" r="0.5"/><circle cx="265.4" cy="367.9" r="0.5"/><circle cx="265.7" cy="371.4" r="0.5"/><circle cx="272.0" cy="366.5" r="0.5"/><circle cx="270.4" cy="368.8" r="0.5"/><circle cx="268.9" cy="368.2" r="0.5"/><circle cx="266.0" cy="368.7" r="0.5"/><circle cx="268.7" cy="374.0" r="0.5"/><circle cx="260.3" cy="369.1" r="0.5"/><circle cx="268.5" cy="368.6" r="0.5"/><circle cx="270.6" cy="368.6" r="0.5"/><circle cx="265.0" cy="367.3" r="0.5"/><circle cx="260.1" cy="368.1" r="0.5"/><circle cx="267.5" cy="370.7" r="0.5"/><circle cx="275.0" cy="368.8" r="0.5"/><circle cx="265.8" cy="371.7" r="0.5"/><circle cx="268.9" cy="366.2" r="0.5"/><circle cx="265.4" cy="373.9" r="0.5"/><circle cx="270.9" cy="373.0" r="0.5"/><circle cx="269.7" cy="368.2" r="0.5"/><circle cx="254.5" cy="371.1" r="0.5"/></g><g fill="#0d6a3a"><circle cx="278.6" cy="370.9" r="0.5"/><circle cx="285.9" cy="372.0" r="0.5"/><circle cx="285.0" cy="371.2" r="0.5"/><circle cx="286.7" cy="369.7" r="0.5"/><circle cx="278.5" cy="372.0" r="0.5"/><circle cx="281.1" cy="374.3" r="0.5"/><circle cx="283.1" cy="371.4" r="0.5"/><circle cx="272.6" cy="373.8" r="0.5"/><circle cx="286.9" cy="369.3" r="0.5"/><circle cx="285.3" cy="368.5" r="0.5"/><circle cx="288.8" cy="372.4" r="0.5"/><circle cx="289.5" cy="369.4" r="0.5"/><circle cx="278.7" cy="371.7" r="0.5"/><circle cx="278.9" cy="372.7" r="0.5"/><circle cx="293.2" cy="368.6" r="0.5"/><circle cx="290.2" cy="372.2" r="0.5"/><circle cx="281.0" cy="370.5" r="0.5"/><circle cx="269.1" cy="373.9" r="0.5"/><circle cx="278.9" cy="373.8" r="0.5"/><circle cx="284.6" cy="371.8" r="0.5"/><circle cx="288.4" cy="369.4" r="0.5"/><circle cx="281.2" cy="372.0" r="0.5"/><circle cx="276.8" cy="368.2" r="0.5"/><circle cx="277.1" cy="368.8" r="0.5"/><circle cx="286.9" cy="373.9" r="0.5"/><circle cx="284.6" cy="374.8" r="0.5"/><circle cx="291.7" cy="375.3" r="0.5"/><circle cx="277.7" cy="372.8" r="0.5"/><circle cx="287.0" cy="370.7" r="0.5"/><circle cx="277.2" cy="374.0" r="0.5"/></g><g fill="#b0521c"><circle cx="296.6" cy="384.9" r="0.45"/><circle cx="288.3" cy="395.2" r="0.45"/><circle cx="274.4" cy="404.0" r="0.45"/><circle cx="289.0" cy="391.4" r="0.45"/><circle cx="289.3" cy="386.8" r="0.45"/><circle cx="282.8" cy="388.1" r="0.45"/><circle cx="283.4" cy="392.4" r="0.45"/><circle cx="292.6" cy="394.4" r="0.45"/><circle cx="286.1" cy="391.2" r="0.45"/><circle cx="284.7" cy="391.3" r="0.45"/><circle cx="285.3" cy="392.6" r="0.45"/><circle cx="287.3" cy="386.1" r="0.45"/><circle cx="282.6" cy="385.6" r="0.45"/><circle cx="286.5" cy="386.5" r="0.45"/></g><g fill="#3b70c2"><circle cx="281.8" cy="393.7" r="0.5"/><circle cx="284.8" cy="394.1" r="0.5"/><circle cx="277.5" cy="392.2" r="0.5"/><circle cx="277.4" cy="393.3" r="0.5"/><circle cx="284.5" cy="394.5" r="0.5"/><circle cx="279.5" cy="392.1" r="0.5"/><circle cx="284.8" cy="394.4" r="0.5"/><circle cx="279.4" cy="397.9" r="0.5"/><circle cx="276.2" cy="395.2" r="0.5"/><circle cx="279.6" cy="398.4" r="0.5"/><circle cx="280.1" cy="402.3" r="0.5"/><circle cx="281.9" cy="396.4" r="0.5"/></g><path d="M228.5,396.9 C229.2,395.8 231.1,394.0 232.7,393.7 C234.3,393.4 237.0,394.2 238.1,395.3 C239.2,396.4 239.5,398.5 239.1,400.1 C238.7,401.7 237.2,404.5 235.9,405.0 C234.6,405.5 232.3,404.1 231.1,403.3 C229.9,402.5 228.9,401.2 228.5,400.1 C228.1,399.0 227.8,398.0 228.5,396.9Z" fill="#b0521c"/><path d="M263.2,408.1 C265.1,407.0 268.0,407.0 272.8,406.5 C277.6,406.0 286.1,405.2 292.0,405.0 C297.9,404.8 303.8,404.5 308.1,405.0 C312.4,405.5 315.4,406.5 317.8,408.1 C320.2,409.7 321.8,412.2 322.6,414.6 C323.4,417.0 323.4,420.5 322.6,422.6 C321.8,424.7 320.2,425.5 317.8,427.4 C315.4,429.3 311.3,432.2 308.1,433.8 C304.9,435.4 301.7,435.9 298.5,437.0 C295.3,438.1 292.1,439.4 288.9,440.2 C285.7,441.0 282.4,442.3 279.2,441.8 C276.0,441.3 272.3,438.9 269.6,437.0 C266.9,435.1 264.5,433.3 263.2,430.6 C261.9,427.9 261.9,423.9 261.6,421.0 C261.3,418.1 261.3,415.1 261.6,413.0 C261.9,410.9 261.3,409.2 263.2,408.1Z" fill="#3b70c2"/><path d="M263.2,408.1 C265.1,407.0 268.0,407.0 272.8,406.5 C277.6,406.0 286.1,405.2 292.0,405.0 C297.9,404.8 303.8,404.5 308.1,405.0 C312.4,405.5 315.4,406.5 317.8,408.1 C320.2,409.7 321.8,412.2 322.6,414.6 C323.4,417.0 323.4,420.5 322.6,422.6 C321.8,424.7 320.2,425.5 317.8,427.4 C315.4,429.3 311.3,432.2 308.1,433.8 C304.9,435.4 301.7,435.9 298.5,437.0 C295.3,438.1 292.1,439.4 288.9,440.2 C285.7,441.0 282.4,442.3 279.2,441.8 C276.0,441.3 272.3,438.9 269.6,437.0 C266.9,435.1 264.5,433.3 263.2,430.6 C261.9,427.9 261.9,423.9 261.6,421.0 C261.3,418.1 261.3,415.1 261.6,413.0 C261.9,410.9 261.3,409.2 263.2,408.1Z" fill="url(#spk2)"/><g fill="#3b70c2"><circle cx="318.2" cy="409.6" r="0.45"/><circle cx="311.7" cy="431.8" r="0.45"/><circle cx="323.8" cy="417.9" r="0.45"/><circle cx="264.9" cy="434.2" r="0.45"/><circle cx="300.5" cy="402.2" r="0.45"/><circle cx="299.9" cy="405.7" r="0.45"/><circle cx="262.1" cy="428.3" r="0.45"/><circle cx="264.0" cy="430.8" r="0.45"/><circle cx="309.7" cy="405.1" r="0.45"/><circle cx="267.1" cy="407.3" r="0.45"/><circle cx="261.4" cy="422.5" r="0.45"/><circle cx="264.4" cy="414.2" r="0.45"/><circle cx="318.8" cy="424.3" r="0.45"/><circle cx="295.3" cy="402.4" r="0.45"/><circle cx="306.4" cy="433.2" r="0.45"/><circle cx="292.5" cy="406.3" r="0.45"/><circle cx="293.5" cy="405.6" r="0.45"/><circle cx="261.7" cy="414.8" r="0.45"/><circle cx="263.6" cy="433.5" r="0.45"/><circle cx="314.8" cy="405.7" r="0.45"/></g><path d="M285.0,407.0 C286.3,405.4 288.1,405.8 292.0,405.5 C295.9,405.2 303.8,405.1 308.1,405.5 C312.4,405.9 315.4,406.6 317.8,408.1 C320.2,409.6 321.8,412.2 322.6,414.6 C323.4,417.0 323.4,420.5 322.6,422.6 C321.8,424.7 320.2,425.5 317.8,427.4 C315.4,429.3 311.3,432.4 308.1,433.8 C304.9,435.2 301.5,436.0 298.5,436.0 C295.5,436.0 292.1,435.8 290.0,434.0 C287.9,432.2 287.0,428.2 286.0,425.0 C285.0,421.8 284.2,418.0 284.0,415.0 C283.8,412.0 283.7,408.6 285.0,407.0Z" fill="#4b1f6f"/><path d="M266.4,427.4 C268.0,425.2 273.8,429.5 279.2,430.6 C284.6,431.7 294.2,432.2 298.5,433.8 C302.8,435.4 304.5,437.8 305.0,440.2 C305.5,442.6 304.4,446.7 301.7,448.3 C299.0,449.9 293.2,449.6 288.9,449.9 C284.6,450.2 279.2,451.0 276.0,449.9 C272.8,448.8 271.2,447.2 269.6,443.5 C268.0,439.8 264.8,429.5 266.4,427.4Z" fill="#cda2d8"/><g fill="#ffffff"><circle cx="281.6" cy="416.7" r="0.5"/><circle cx="280.5" cy="409.3" r="0.5"/><circle cx="274.2" cy="421.9" r="0.5"/><circle cx="267.3" cy="418.4" r="0.5"/><circle cx="291.9" cy="422.4" r="0.5"/><circle cx="276.7" cy="415.7" r="0.5"/><circle cx="289.2" cy="426.5" r="0.5"/><circle cx="277.0" cy="414.0" r="0.5"/><circle cx="285.5" cy="414.8" r="0.5"/><circle cx="284.6" cy="431.8" r="0.5"/><circle cx="279.5" cy="417.4" r="0.5"/><circle cx="285.2" cy="413.4" r="0.5"/><circle cx="268.3" cy="418.5" r="0.5"/><circle cx="276.4" cy="421.9" r="0.5"/><circle cx="279.5" cy="428.0" r="0.5"/><circle cx="284.9" cy="420.3" r="0.5"/><circle cx="297.6" cy="422.3" r="0.5"/><circle cx="275.6" cy="412.7" r="0.5"/><circle cx="278.6" cy="425.3" r="0.5"/><circle cx="280.9" cy="420.8" r="0.5"/><circle cx="268.4" cy="418.7" r="0.5"/><circle cx="286.9" cy="424.6" r="0.5"/><circle cx="287.2" cy="416.2" r="0.5"/><circle cx="271.2" cy="415.5" r="0.5"/><circle cx="284.2" cy="428.6" r="0.5"/><circle cx="277.7" cy="415.4" r="0.5"/><circle cx="280.8" cy="415.0" r="0.5"/><circle cx="273.2" cy="416.8" r="0.5"/><circle cx="276.5" cy="422.8" r="0.5"/><circle cx="282.0" cy="421.8" r="0.5"/><circle cx="280.2" cy="419.0" r="0.5"/><circle cx="277.0" cy="425.6" r="0.5"/><circle cx="277.5" cy="415.7" r="0.5"/><circle cx="266.7" cy="421.6" r="0.5"/><circle cx="286.6" cy="415.8" r="0.5"/><circle cx="278.8" cy="411.5" r="0.5"/><circle cx="282.0" cy="414.0" r="0.5"/><circle cx="271.3" cy="412.2" r="0.5"/><circle cx="273.9" cy="429.2" r="0.5"/><circle cx="285.6" cy="410.4" r="0.5"/></g><path d="M263.2,454.7 C264.5,452.7 268.3,452.4 271.2,452.4 C274.1,452.4 278.9,453.0 280.8,454.7 C282.7,456.4 282.9,460.3 282.4,462.7 C281.9,465.1 280.0,467.9 277.6,469.1 C275.2,470.3 270.4,470.6 268.0,469.8 C265.6,469.0 264.0,466.8 263.2,464.3 C262.4,461.8 261.9,456.7 263.2,454.7Z" fill="#c3178d"/><path d="M306.5,480.4 C308.1,479.1 311.6,477.2 314.5,477.2 C317.4,477.2 321.8,478.8 324.2,480.4 C326.6,482.0 328.7,484.7 329.0,486.8 C329.3,488.9 328.2,491.9 325.8,493.2 C323.4,494.5 317.7,495.1 314.5,494.8 C311.3,494.5 308.1,493.2 306.5,491.6 C304.9,490.0 304.9,487.1 304.9,485.2 C304.9,483.3 304.9,481.7 306.5,480.4Z" fill="#13a097"/><g fill="#13a097"><circle cx="306.8" cy="483.8" r="0.45"/><circle cx="308.8" cy="479.8" r="0.45"/><circle cx="316.5" cy="492.7" r="0.45"/><circle cx="311.0" cy="481.0" r="0.45"/><circle cx="306.7" cy="483.8" r="0.45"/><circle cx="315.8" cy="494.5" r="0.45"/><circle cx="305.0" cy="480.2" r="0.45"/><circle cx="327.4" cy="483.2" r="0.45"/><circle cx="326.0" cy="478.5" r="0.45"/><circle cx="306.0" cy="480.9" r="0.45"/></g><path d="M311.3,443.5 C312.3,442.7 314.4,441.8 316.0,442.0 C317.6,442.2 320.3,443.7 321.0,445.0 C321.7,446.3 321.2,449.2 320.0,449.9 C318.8,450.6 315.7,449.5 314.0,449.0 C312.3,448.5 310.4,447.9 310.0,447.0 C309.6,446.1 310.3,444.3 311.3,443.5Z" fill="#13a097"/><g fill="#13a097"><circle cx="317.6" cy="445.3" r="0.45"/><circle cx="316.2" cy="448.5" r="0.45"/><circle cx="311.4" cy="443.6" r="0.45"/><circle cx="320.3" cy="451.1" r="0.45"/><circle cx="315.1" cy="442.9" r="0.45"/><circle cx="311.0" cy="444.7" r="0.45"/><circle cx="309.7" cy="446.9" r="0.45"/><circle cx="317.5" cy="449.9" r="0.45"/><circle cx="310.5" cy="447.9" r="0.45"/><circle cx="309.3" cy="444.3" r="0.45"/></g><path d="M309.0,458.0 C309.8,456.9 313.5,456.1 316.0,456.3 C318.5,456.5 323.2,457.4 324.2,459.0 C325.2,460.6 323.5,464.8 322.0,466.0 C320.5,467.2 316.8,466.5 315.0,466.0 C313.2,465.5 312.3,464.3 311.3,463.0 C310.3,461.7 308.2,459.1 309.0,458.0Z" fill="#13a097"/><g fill="#13a097"><circle cx="324.2" cy="457.1" r="0.45"/><circle cx="310.2" cy="457.8" r="0.45"/><circle cx="318.0" cy="456.6" r="0.45"/><circle cx="318.8" cy="456.9" r="0.45"/><circle cx="311.1" cy="461.4" r="0.45"/><circle cx="318.2" cy="455.2" r="0.45"/><circle cx="324.1" cy="460.2" r="0.45"/><circle cx="318.6" cy="465.7" r="0.45"/><circle cx="307.4" cy="462.2" r="0.45"/><circle cx="321.6" cy="464.2" r="0.45"/></g><path d="M310,447 L312,456 M318,466 L316,477" stroke="#13a097" stroke-width="2"/><path d="M341.8,363.2 C343.5,361.3 345.9,359.5 349.9,358.4 C353.9,357.3 361.9,356.2 365.9,356.7 C369.9,357.2 372.4,359.2 374.0,361.6 C375.6,364.0 375.9,368.3 375.6,371.2 C375.3,374.1 374.5,377.2 372.4,379.2 C370.2,381.2 366.4,382.6 362.7,383.1 C358.9,383.6 353.4,383.3 349.9,382.4 C346.4,381.5 343.5,379.7 341.8,377.6 C340.1,375.5 339.6,372.0 339.6,369.6 C339.6,367.2 340.1,365.1 341.8,363.2Z" fill="#828282"/><path d="M327.5,390.8 C328.4,390.1 332.5,390.4 335.0,390.8 C337.5,391.2 340.3,392.6 342.3,393.5 C344.3,394.4 345.5,395.5 347.0,396.5 C348.5,397.5 351.2,398.4 351.5,399.7 C351.8,400.9 350.1,402.8 349.0,404.0 C347.9,405.2 346.5,406.9 345.0,407.0 C343.5,407.1 341.8,405.7 340.0,404.5 C338.2,403.3 335.8,401.6 334.0,400.0 C332.2,398.4 330.6,396.5 329.5,395.0 C328.4,393.5 326.6,391.5 327.5,390.8Z" fill="#f6d200"/><g fill="#f6d200"><circle cx="344.8" cy="405.5" r="0.45"/><circle cx="347.2" cy="393.4" r="0.45"/><circle cx="342.5" cy="408.3" r="0.45"/><circle cx="348.1" cy="396.9" r="0.45"/><circle cx="348.8" cy="398.0" r="0.45"/><circle cx="329.9" cy="394.6" r="0.45"/><circle cx="347.9" cy="404.9" r="0.45"/><circle cx="332.4" cy="393.1" r="0.45"/><circle cx="327.6" cy="393.1" r="0.45"/><circle cx="339.9" cy="402.9" r="0.45"/></g><path d="M344.0,398.5 C344.3,397.3 346.7,397.4 348.0,397.5 C349.3,397.6 351.1,398.3 352.0,399.0 C352.9,399.7 353.8,400.7 353.5,401.5 C353.2,402.3 351.2,403.5 350.0,404.0 C348.8,404.5 347.0,405.4 346.0,404.5 C345.0,403.6 343.7,399.7 344.0,398.5Z" fill="#a3151b"/><g fill="#a3151b"><circle cx="351.3" cy="400.4" r="0.55"/><circle cx="345.5" cy="398.4" r="0.55"/><circle cx="342.4" cy="401.8" r="0.55"/><circle cx="346.5" cy="401.1" r="0.55"/><circle cx="345.0" cy="401.7" r="0.55"/><circle cx="348.2" cy="400.8" r="0.55"/><circle cx="345.8" cy="403.9" r="0.55"/><circle cx="350.9" cy="401.9" r="0.55"/><circle cx="345.9" cy="401.1" r="0.55"/><circle cx="346.9" cy="398.8" r="0.55"/><circle cx="346.0" cy="396.8" r="0.55"/><circle cx="342.0" cy="401.0" r="0.55"/><circle cx="346.9" cy="400.3" r="0.55"/><circle cx="346.4" cy="397.5" r="0.55"/><circle cx="346.6" cy="403.6" r="0.55"/><circle cx="345.6" cy="402.3" r="0.55"/><circle cx="341.4" cy="404.3" r="0.55"/><circle cx="345.0" cy="396.9" r="0.55"/><circle cx="342.8" cy="400.5" r="0.55"/><circle cx="349.2" cy="403.1" r="0.55"/><circle cx="350.1" cy="401.9" r="0.55"/><circle cx="346.5" cy="401.5" r="0.55"/><circle cx="344.5" cy="401.2" r="0.55"/><circle cx="343.1" cy="400.2" r="0.55"/><circle cx="345.1" cy="401.9" r="0.55"/><circle cx="345.5" cy="393.3" r="0.55"/><circle cx="352.8" cy="400.7" r="0.55"/><circle cx="342.9" cy="400.9" r="0.55"/><circle cx="346.3" cy="401.7" r="0.55"/><circle cx="338.1" cy="400.9" r="0.55"/><circle cx="351.9" cy="404.6" r="0.55"/><circle cx="345.2" cy="398.1" r="0.55"/><circle cx="345.5" cy="400.0" r="0.55"/><circle cx="344.7" cy="400.5" r="0.55"/><circle cx="344.6" cy="402.1" r="0.55"/></g><path d="M346.5,406 Q348,413 350.2,419.4" stroke="#f39a1e" stroke-width="1.8" fill="none"/><g fill="#ec5a1c"><circle cx="361.8" cy="402.5" r="0.45"/><circle cx="370.1" cy="402.0" r="0.45"/><circle cx="359.8" cy="401.4" r="0.45"/><circle cx="360.3" cy="403.7" r="0.45"/><circle cx="365.2" cy="404.9" r="0.45"/><circle cx="356.7" cy="404.9" r="0.45"/><circle cx="357.7" cy="404.0" r="0.45"/><circle cx="358.9" cy="401.8" r="0.45"/><circle cx="366.5" cy="404.0" r="0.45"/><circle cx="365.5" cy="403.7" r="0.45"/><circle cx="356.8" cy="403.7" r="0.45"/><circle cx="360.2" cy="403.0" r="0.45"/><circle cx="361.0" cy="404.3" r="0.45"/><circle cx="361.0" cy="404.3" r="0.45"/><circle cx="357.2" cy="403.8" r="0.45"/><circle cx="356.4" cy="401.8" r="0.45"/><circle cx="371.0" cy="403.8" r="0.45"/><circle cx="360.5" cy="403.2" r="0.45"/><circle cx="368.5" cy="402.0" r="0.45"/><circle cx="369.3" cy="405.8" r="0.45"/><circle cx="359.7" cy="402.2" r="0.45"/><circle cx="359.1" cy="404.3" r="0.45"/><circle cx="362.4" cy="404.2" r="0.45"/><circle cx="357.9" cy="402.3" r="0.45"/><circle cx="363.3" cy="402.5" r="0.45"/></g><g fill="#ffffff"><circle cx="338.2" cy="396.1" r="0.5"/><circle cx="341.7" cy="405.3" r="0.5"/><circle cx="344.6" cy="394.8" r="0.5"/><circle cx="337.8" cy="398.9" r="0.5"/><circle cx="332.9" cy="397.5" r="0.5"/><circle cx="335.0" cy="396.1" r="0.5"/><circle cx="340.7" cy="402.0" r="0.5"/><circle cx="347.4" cy="400.1" r="0.5"/><circle cx="327.0" cy="397.6" r="0.5"/><circle cx="338.7" cy="401.1" r="0.5"/><circle cx="333.2" cy="396.9" r="0.5"/><circle cx="332.7" cy="396.2" r="0.5"/><circle cx="331.9" cy="394.9" r="0.5"/><circle cx="342.8" cy="396.3" r="0.5"/><circle cx="336.9" cy="402.7" r="0.5"/><circle cx="332.6" cy="402.4" r="0.5"/><circle cx="335.1" cy="396.0" r="0.5"/><circle cx="336.2" cy="399.9" r="0.5"/><circle cx="337.7" cy="399.3" r="0.5"/><circle cx="337.4" cy="395.8" r="0.5"/><circle cx="333.2" cy="394.9" r="0.5"/><circle cx="336.0" cy="399.9" r="0.5"/><circle cx="341.6" cy="397.6" r="0.5"/><circle cx="343.4" cy="400.0" r="0.5"/><circle cx="335.6" cy="396.8" r="0.5"/></g><path d="M367.3,410.0 C368.6,408.2 369.9,407.6 372.0,407.0 C374.1,406.4 377.0,406.1 380.0,406.3 C383.0,406.5 387.0,407.1 390.0,408.0 C393.0,408.9 396.1,410.0 398.0,412.0 C399.9,414.0 401.2,417.3 401.5,420.0 C401.8,422.7 401.2,425.8 400.0,428.0 C398.8,430.2 396.5,431.6 394.0,433.0 C391.5,434.4 388.2,435.9 385.0,436.5 C381.8,437.1 377.8,437.1 375.0,436.5 C372.2,435.9 369.8,434.6 368.0,433.0 C366.2,431.4 364.6,429.5 364.0,427.0 C363.4,424.5 363.9,420.8 364.5,418.0 C365.1,415.2 366.1,411.8 367.3,410.0Z" fill="#e3231d"/><g fill="#e3231d"><circle cx="362.8" cy="430.4" r="0.45"/><circle cx="376.8" cy="407.2" r="0.45"/><circle cx="399.6" cy="416.3" r="0.45"/><circle cx="379.1" cy="405.8" r="0.45"/><circle cx="362.5" cy="416.5" r="0.45"/><circle cx="366.1" cy="421.6" r="0.45"/><circle cx="362.3" cy="420.8" r="0.45"/><circle cx="378.3" cy="405.8" r="0.45"/><circle cx="374.4" cy="408.0" r="0.45"/><circle cx="370.9" cy="405.8" r="0.45"/><circle cx="396.9" cy="408.0" r="0.45"/><circle cx="386.9" cy="407.4" r="0.45"/><circle cx="377.0" cy="406.3" r="0.45"/><circle cx="400.4" cy="417.6" r="0.45"/><circle cx="382.0" cy="435.9" r="0.45"/></g><path d="M368.6,401.5 C369.3,400.7 370.9,399.7 372.0,399.5 C373.1,399.3 374.7,399.8 375.5,400.5 C376.3,401.2 377.1,402.5 377.0,403.5 C376.9,404.5 376.2,405.9 375.0,406.5 C373.8,407.1 371.2,407.1 370.0,406.8 C368.8,406.5 368.2,405.4 368.0,404.5 C367.8,403.6 367.9,402.3 368.6,401.5Z" fill="#f39a1e"/><path d="M364.5,418.0 C365.8,416.3 369.1,416.3 372.0,417.0 C374.9,417.7 378.7,420.2 382.0,422.0 C385.3,423.8 390.0,426.2 392.0,428.0 C394.0,429.8 395.2,431.6 394.0,433.0 C392.8,434.4 388.2,435.9 385.0,436.5 C381.8,437.1 377.8,437.1 375.0,436.5 C372.2,435.9 369.8,434.6 368.0,433.0 C366.2,431.4 364.6,429.5 364.0,427.0 C363.4,424.5 363.2,419.7 364.5,418.0Z" fill="#e8431e"/><path d="M353.0,461.0 C355.4,459.4 362.0,459.2 366.0,459.5 C370.0,459.8 375.1,460.8 377.2,462.7 C379.3,464.6 379.3,468.0 378.8,470.7 C378.3,473.4 376.4,477.2 374.0,478.8 C371.6,480.4 367.2,480.7 364.3,480.4 C361.4,480.1 358.4,479.1 356.3,477.2 C354.2,475.3 352.1,471.8 351.5,469.1 C350.9,466.4 350.6,462.6 353.0,461.0Z" fill="#f8c193"/><g fill="#f8c193"><circle cx="377.8" cy="467.7" r="0.45"/><circle cx="371.1" cy="478.0" r="0.45"/><circle cx="371.0" cy="462.6" r="0.45"/><circle cx="353.0" cy="462.9" r="0.45"/><circle cx="362.3" cy="462.2" r="0.45"/><circle cx="364.0" cy="458.7" r="0.45"/><circle cx="376.7" cy="471.6" r="0.45"/><circle cx="369.7" cy="480.9" r="0.45"/><circle cx="370.6" cy="459.4" r="0.45"/><circle cx="371.6" cy="462.2" r="0.45"/></g><path d="M351.5,443.5 C352.9,442.6 359.5,443.9 361.1,445.0 C362.7,446.1 362.5,449.0 361.1,449.9 C359.8,450.8 354.6,451.6 353.0,450.5 C351.4,449.4 350.1,444.4 351.5,443.5Z" fill="#e68bb8"/><circle cx="346.7" cy="430.6" r="1" fill="#114422"/><text x="258.40" y="359.00" font-size="9.5" fill="#262626" stroke="#262626">ExN.CA3−do</text><text x="252.90" y="380.60" font-size="9.5" fill="#262626" stroke="#262626">ExN.CA3−ve</text><text x="238.00" y="399.00" font-size="9.5" fill="#262626" stroke="#262626">ExN.Mossy</text><text x="258.40" y="413.80" font-size="9.5" fill="#262626" stroke="#262626">ExN.CA1−do</text><text x="317.00" y="413.80" font-size="9.5" fill="#262626" stroke="#262626">InhN.Vip</text><text x="240.70" y="431.00" font-size="9.5" fill="#262626" stroke="#262626">ExN.CA1−ve</text><text x="224.00" y="448.00" font-size="9.5" fill="#262626" stroke="#262626">ExN.CA1−ve−ProS</text><text x="252.00" y="459.30" font-size="9.5" fill="#262626" stroke="#262626">ExN.SUB/Fn1</text><text x="297.80" y="476.20" font-size="9.5" fill="#262626" stroke="#262626">ExN.IT/Tshz2</text><text x="340.00" y="379.00" font-size="9.5" fill="#262626" stroke="#262626">ExN.DG</text><text x="308.00" y="394.40" font-size="9.5" fill="#262626" stroke="#262626">InhN.Ntng1</text><text x="354.70" y="414.80" font-size="9.5" fill="#262626" stroke="#262626">InhN.Lamp5</text><text x="365.30" y="422.40" font-size="9.5" fill="#262626" stroke="#262626">InhN.Pvalb</text><text x="361.80" y="435.20" font-size="9.5" fill="#262626" stroke="#262626">InhN.Sst</text><text x="324.80" y="440.50" font-size="9.5" fill="#262626" stroke="#262626">ExN.CR</text><text x="346.70" y="453.50" font-size="9.5" fill="#262626" stroke="#262626">ExN.Ccn2</text><text x="335.40" y="461.80" font-size="9.5" fill="#262626" stroke="#262626">ExN.SUB/Cntnap4</text><text x="29.80" y="524.00" font-size="9.3" fill="#262626" stroke="#262626" text-anchor="middle">ExN</text><text x="29.80" y="533.30" font-size="9.3" fill="#262626" stroke="#262626" text-anchor="middle">CA1-do</text><text x="75.01" y="524.00" font-size="9.3" fill="#262626" stroke="#262626" text-anchor="middle">ExN</text><text x="75.01" y="533.30" font-size="9.3" fill="#262626" stroke="#262626" text-anchor="middle">CA1-ve</text><text x="120.22" y="524.00" font-size="9.3" fill="#262626" stroke="#262626" text-anchor="middle">ExN</text><text x="120.22" y="533.30" font-size="9.3" fill="#262626" stroke="#262626" text-anchor="middle" textLength="51.2" lengthAdjust="spacingAndGlyphs">CA1-ve-ProS</text><text x="165.43" y="524.00" font-size="9.3" fill="#262626" stroke="#262626" text-anchor="middle">ExN</text><text x="165.43" y="533.30" font-size="9.3" fill="#262626" stroke="#262626" text-anchor="middle">CA3-do</text><text x="210.64" y="524.00" font-size="9.3" fill="#262626" stroke="#262626" text-anchor="middle">ExN</text><text x="210.64" y="533.30" font-size="9.3" fill="#262626" stroke="#262626" text-anchor="middle">CA3-ve</text><text x="255.85" y="524.00" font-size="9.3" fill="#262626" stroke="#262626" text-anchor="middle">ExN</text><text x="255.85" y="533.30" font-size="9.3" fill="#262626" stroke="#262626" text-anchor="middle">DG</text><text x="301.06" y="514.70" font-size="9.3" fill="#262626" stroke="#262626" text-anchor="middle">ExN</text><text x="301.06" y="524.00" font-size="9.3" fill="#262626" stroke="#262626" text-anchor="middle">IT</text><text x="301.06" y="533.30" font-size="9.3" fill="#262626" stroke="#262626" text-anchor="middle">Tshz2</text><text x="346.27" y="514.70" font-size="9.3" fill="#262626" stroke="#262626" text-anchor="middle">ExN</text><text x="346.27" y="524.00" font-size="9.3" fill="#262626" stroke="#262626" text-anchor="middle">SUB</text><text x="346.27" y="533.30" font-size="9.3" fill="#262626" stroke="#262626" text-anchor="middle">Cntnap4</text><text x="391.48" y="514.70" font-size="9.3" fill="#262626" stroke="#262626" text-anchor="middle">ExN</text><text x="391.48" y="524.00" font-size="9.3" fill="#262626" stroke="#262626" text-anchor="middle">SUB</text><text x="391.48" y="533.30" font-size="9.3" fill="#262626" stroke="#262626" text-anchor="middle">Fn1</text><text x="436.69" y="524.00" font-size="9.3" fill="#262626" stroke="#262626" text-anchor="middle">InhN</text><text x="436.69" y="533.30" font-size="9.3" fill="#262626" stroke="#262626" text-anchor="middle">Lamp5</text><text x="481.90" y="524.00" font-size="9.3" fill="#262626" stroke="#262626" text-anchor="middle">InhN</text><text x="481.90" y="533.30" font-size="9.3" fill="#262626" stroke="#262626" text-anchor="middle">Ntng1</text><text x="527.11" y="524.00" font-size="9.3" fill="#262626" stroke="#262626" text-anchor="middle">InhN</text><text x="527.11" y="533.30" font-size="9.3" fill="#262626" stroke="#262626" text-anchor="middle">Pvalb</text><text x="572.32" y="524.00" font-size="9.3" fill="#262626" stroke="#262626" text-anchor="middle">InhN</text><text x="572.32" y="533.30" font-size="9.3" fill="#262626" stroke="#262626" text-anchor="middle">Sst</text><text x="617.53" y="524.00" font-size="9.3" fill="#262626" stroke="#262626" text-anchor="middle">InhN</text><text x="617.53" y="533.30" font-size="9.3" fill="#262626" stroke="#262626" text-anchor="middle">Vip</text><path fill="#fde0d3" d="M8.5 563h1.9v12h-1.9zM10.4 563h1.9v12h-1.9zM12.2 563h1.9v12h-1.9zM14.1 563h1.9v12h-1.9zM15.9 563h1.9v12h-1.9zM17.8 563h1.9v12h-1.9zM53.7 563h1.9v12h-1.9zM55.6 563h1.9v12h-1.9zM57.4 563h1.9v12h-1.9zM59.3 563h1.9v12h-1.9zM61.1 563h1.9v12h-1.9zM63 563h1.9v12h-1.9zM98.9 563h1.9v12h-1.9zM100.8 563h1.9v12h-1.9zM102.6 563h1.9v12h-1.9zM104.5 563h1.9v12h-1.9zM106.3 563h1.9v12h-1.9zM108.2 563h1.9v12h-1.9zM144.1 563h1.9v12h-1.9zM146 563h1.9v12h-1.9zM147.8 563h1.9v12h-1.9zM149.7 563h1.9v12h-1.9zM151.5 563h1.9v12h-1.9zM153.4 563h1.9v12h-1.9zM189.3 563h1.9v12h-1.9zM191.2 563h1.9v12h-1.9zM193 563h1.9v12h-1.9zM194.9 563h1.9v12h-1.9zM196.7 563h1.9v12h-1.9zM198.6 563h1.9v12h-1.9zM234.6 563h1.9v12h-1.9zM236.4 563h1.9v12h-1.9zM238.3 563h1.9v12h-1.9zM240.1 563h1.9v12h-1.9zM242 563h1.9v12h-1.9zM243.8 563h1.9v12h-1.9zM279.8 563h1.9v12h-1.9zM281.6 563h1.9v12h-1.9zM283.5 563h1.9v12h-1.9zM285.3 563h1.9v12h-1.9zM287.2 563h1.9v12h-1.9zM289 563h1.9v12h-1.9zM325 563h1.9v12h-1.9zM326.8 563h1.9v12h-1.9zM328.7 563h1.9v12h-1.9zM330.5 563h1.9v12h-1.9zM332.4 563h1.9v12h-1.9zM334.2 563h1.9v12h-1.9zM370.2 563h1.9v12h-1.9zM372 563h1.9v12h-1.9zM373.9 563h1.9v12h-1.9zM375.7 563h1.9v12h-1.9zM377.6 563h1.9v12h-1.9zM379.4 563h1.9v12h-1.9zM415.4 563h1.9v12h-1.9zM417.2 563h1.9v12h-1.9zM419.1 563h1.9v12h-1.9zM420.9 563h1.9v12h-1.9zM422.8 563h1.9v12h-1.9zM424.7 563h1.9v12h-1.9zM460.6 563h1.9v12h-1.9zM462.5 563h1.9v12h-1.9zM464.3 563h1.9v12h-1.9zM466.2 563h1.9v12h-1.9zM468 563h1.9v12h-1.9zM469.9 563h1.9v12h-1.9zM505.8 563h1.9v12h-1.9zM507.7 563h1.9v12h-1.9zM509.5 563h1.9v12h-1.9zM511.4 563h1.9v12h-1.9zM513.2 563h1.9v12h-1.9zM515.1 563h1.9v12h-1.9zM551 563h1.9v12h-1.9zM552.9 563h1.9v12h-1.9zM554.7 563h1.9v12h-1.9zM556.6 563h1.9v12h-1.9zM558.4 563h1.9v12h-1.9zM560.3 563h1.9v12h-1.9zM596.2 563h1.9v12h-1.9zM598.1 563h1.9v12h-1.9zM599.9 563h1.9v12h-1.9zM601.8 563h1.9v12h-1.9zM603.6 563h1.9v12h-1.9zM605.5 563h1.9v12h-1.9z"/><path fill="#d9d9d9" d="M8.5 576.3h1.9v12.3h-1.9zM8.5 707.6h1.9v12.5h-1.9zM10.4 576.3h1.9v12.3h-1.9zM10.4 707.6h1.9v12.5h-1.9zM12.2 576.3h1.9v12.3h-1.9zM12.2 707.6h1.9v12.5h-1.9zM19.6 576.3h1.9v12.3h-1.9zM19.6 707.6h1.9v12.5h-1.9zM21.5 576.3h1.9v12.3h-1.9zM21.5 707.6h1.9v12.5h-1.9zM23.3 576.3h1.9v12.3h-1.9zM23.3 707.6h1.9v12.5h-1.9zM30.7 576.3h1.9v12.3h-1.9zM30.7 707.6h1.9v12.5h-1.9zM32.6 576.3h1.9v12.3h-1.9zM32.6 707.6h1.9v12.5h-1.9zM40 576.3h1.9v12.3h-1.9zM40 707.6h1.9v12.5h-1.9zM41.8 576.3h1.9v12.3h-1.9zM41.8 707.6h1.9v12.5h-1.9zM43.7 576.3h1.9v12.3h-1.9zM43.7 707.6h1.9v12.5h-1.9zM53.7 576.3h1.9v12.3h-1.9zM53.7 707.6h1.9v12.5h-1.9zM55.6 576.3h1.9v12.3h-1.9zM55.6 707.6h1.9v12.5h-1.9zM57.4 576.3h1.9v12.3h-1.9zM57.4 707.6h1.9v12.5h-1.9zM64.8 576.3h1.9v12.3h-1.9zM64.8 707.6h1.9v12.5h-1.9zM66.7 576.3h1.9v12.3h-1.9zM66.7 707.6h1.9v12.5h-1.9zM68.5 576.3h1.9v12.3h-1.9zM68.5 707.6h1.9v12.5h-1.9zM75.9 576.3h1.9v12.3h-1.9zM75.9 707.6h1.9v12.5h-1.9zM77.8 576.3h1.9v12.3h-1.9zM77.8 707.6h1.9v12.5h-1.9zM85.2 576.3h1.9v12.3h-1.9zM85.2 707.6h1.9v12.5h-1.9zM87 576.3h1.9v12.3h-1.9zM87 707.6h1.9v12.5h-1.9zM88.9 576.3h1.9v12.3h-1.9zM88.9 707.6h1.9v12.5h-1.9zM98.9 576.3h1.9v12.3h-1.9zM98.9 707.6h1.9v12.5h-1.9zM100.8 576.3h1.9v12.3h-1.9zM100.8 707.6h1.9v12.5h-1.9zM102.6 576.3h1.9v12.3h-1.9zM102.6 707.6h1.9v12.5h-1.9zM110 576.3h1.9v12.3h-1.9zM110 707.6h1.9v12.5h-1.9zM111.9 576.3h1.9v12.3h-1.9zM111.9 707.6h1.9v12.5h-1.9zM113.7 576.3h1.9v12.3h-1.9zM113.7 707.6h1.9v12.5h-1.9zM121.1 576.3h1.9v12.3h-1.9zM121.1 707.6h1.9v12.5h-1.9zM123 576.3h1.9v12.3h-1.9zM123 707.6h1.9v12.5h-1.9zM130.4 576.3h1.9v12.3h-1.9zM130.4 707.6h1.9v12.5h-1.9zM132.3 576.3h1.9v12.3h-1.9zM132.3 707.6h1.9v12.5h-1.9zM134.1 576.3h1.9v12.3h-1.9zM134.1 707.6h1.9v12.5h-1.9zM144.1 576.3h1.9v12.3h-1.9zM144.1 707.6h1.9v12.5h-1.9zM146 576.3h1.9v12.3h-1.9zM146 707.6h1.9v12.5h-1.9zM147.8 576.3h1.9v12.3h-1.9zM147.8 707.6h1.9v12.5h-1.9zM155.2 576.3h1.9v12.3h-1.9zM155.2 707.6h1.9v12.5h-1.9zM157.1 576.3h1.9v12.3h-1.9zM157.1 707.6h1.9v12.5h-1.9zM158.9 576.3h1.9v12.3h-1.9zM158.9 707.6h1.9v12.5h-1.9zM166.4 576.3h1.9v12.3h-1.9zM166.4 707.6h1.9v12.5h-1.9zM168.2 576.3h1.9v12.3h-1.9zM168.2 707.6h1.9v12.5h-1.9zM175.6 576.3h1.9v12.3h-1.9zM175.6 707.6h1.9v12.5h-1.9zM177.5 576.3h1.9v12.3h-1.9zM177.5 707.6h1.9v12.5h-1.9zM179.3 576.3h1.9v12.3h-1.9zM179.3 707.6h1.9v12.5h-1.9zM189.3 576.3h1.9v12.3h-1.9zM189.3 707.6h1.9v12.5h-1.9zM191.2 576.3h1.9v12.3h-1.9zM191.2 707.6h1.9v12.5h-1.9zM193 576.3h1.9v12.3h-1.9zM193 707.6h1.9v12.5h-1.9zM200.5 576.3h1.9v12.3h-1.9zM200.5 707.6h1.9v12.5h-1.9zM202.3 576.3h1.9v12.3h-1.9zM202.3 707.6h1.9v12.5h-1.9zM204.2 576.3h1.9v12.3h-1.9zM204.2 707.6h1.9v12.5h-1.9zM211.6 576.3h1.9v12.3h-1.9zM211.6 707.6h1.9v12.5h-1.9zM213.4 576.3h1.9v12.3h-1.9zM213.4 707.6h1.9v12.5h-1.9zM220.8 576.3h1.9v12.3h-1.9zM220.8 707.6h1.9v12.5h-1.9zM222.7 576.3h1.9v12.3h-1.9zM222.7 707.6h1.9v12.5h-1.9zM224.5 576.3h1.9v12.3h-1.9zM224.5 707.6h1.9v12.5h-1.9zM234.6 576.3h1.9v12.3h-1.9zM234.6 707.6h1.9v12.5h-1.9zM236.4 576.3h1.9v12.3h-1.9zM236.4 707.6h1.9v12.5h-1.9zM238.3 576.3h1.9v12.3h-1.9zM238.3 707.6h1.9v12.5h-1.9zM245.7 576.3h1.9v12.3h-1.9zM245.7 707.6h1.9v12.5h-1.9zM247.5 576.3h1.9v12.3h-1.9zM247.5 707.6h1.9v12.5h-1.9zM249.4 576.3h1.9v12.3h-1.9zM249.4 707.6h1.9v12.5h-1.9zM256.8 576.3h1.9v12.3h-1.9zM256.8 707.6h1.9v12.5h-1.9zM258.6 576.3h1.9v12.3h-1.9zM258.6 707.6h1.9v12.5h-1.9zM266 576.3h1.9v12.3h-1.9zM266 707.6h1.9v12.5h-1.9zM267.9 576.3h1.9v12.3h-1.9zM267.9 707.6h1.9v12.5h-1.9zM269.7 576.3h1.9v12.3h-1.9zM269.7 707.6h1.9v12.5h-1.9zM279.8 576.3h1.9v12.3h-1.9zM279.8 707.6h1.9v12.5h-1.9zM281.6 576.3h1.9v12.3h-1.9zM281.6 707.6h1.9v12.5h-1.9zM283.5 576.3h1.9v12.3h-1.9zM283.5 707.6h1.9v12.5h-1.9zM290.9 576.3h1.9v12.3h-1.9zM290.9 707.6h1.9v12.5h-1.9zM292.7 576.3h1.9v12.3h-1.9zM292.7 707.6h1.9v12.5h-1.9zM294.6 576.3h1.9v12.3h-1.9zM294.6 707.6h1.9v12.5h-1.9zM302 576.3h1.9v12.3h-1.9zM302 707.6h1.9v12.5h-1.9zM303.8 576.3h1.9v12.3h-1.9zM303.8 707.6h1.9v12.5h-1.9zM311.2 576.3h1.9v12.3h-1.9zM311.2 707.6h1.9v12.5h-1.9zM313.1 576.3h1.9v12.3h-1.9zM313.1 707.6h1.9v12.5h-1.9zM315 576.3h1.9v12.3h-1.9zM315 707.6h1.9v12.5h-1.9zM325 576.3h1.9v12.3h-1.9zM325 707.6h1.9v12.5h-1.9zM326.8 576.3h1.9v12.3h-1.9zM326.8 707.6h1.9v12.5h-1.9zM328.7 576.3h1.9v12.3h-1.9zM328.7 707.6h1.9v12.5h-1.9zM336.1 576.3h1.9v12.3h-1.9zM336.1 707.6h1.9v12.5h-1.9zM337.9 576.3h1.9v12.3h-1.9zM337.9 707.6h1.9v12.5h-1.9zM339.8 576.3h1.9v12.3h-1.9zM339.8 707.6h1.9v12.5h-1.9zM347.2 576.3h1.9v12.3h-1.9zM347.2 707.6h1.9v12.5h-1.9zM349 576.3h1.9v12.3h-1.9zM349 707.6h1.9v12.5h-1.9zM356.5 576.3h1.9v12.3h-1.9zM356.5 707.6h1.9v12.5h-1.9zM358.3 576.3h1.9v12.3h-1.9zM358.3 707.6h1.9v12.5h-1.9zM360.2 576.3h1.9v12.3h-1.9zM360.2 707.6h1.9v12.5h-1.9zM370.2 576.3h1.9v12.3h-1.9zM370.2 707.6h1.9v12.5h-1.9zM372 576.3h1.9v12.3h-1.9zM372 707.6h1.9v12.5h-1.9zM373.9 576.3h1.9v12.3h-1.9zM373.9 707.6h1.9v12.5h-1.9zM381.3 576.3h1.9v12.3h-1.9zM381.3 707.6h1.9v12.5h-1.9zM383.1 576.3h1.9v12.3h-1.9zM383.1 707.6h1.9v12.5h-1.9zM385 576.3h1.9v12.3h-1.9zM385 707.6h1.9v12.5h-1.9zM392.4 576.3h1.9v12.3h-1.9zM392.4 707.6h1.9v12.5h-1.9zM394.3 576.3h1.9v12.3h-1.9zM394.3 707.6h1.9v12.5h-1.9zM401.7 576.3h1.9v12.3h-1.9zM401.7 707.6h1.9v12.5h-1.9zM403.5 576.3h1.9v12.3h-1.9zM403.5 707.6h1.9v12.5h-1.9zM405.4 576.3h1.9v12.3h-1.9zM405.4 707.6h1.9v12.5h-1.9zM415.4 576.3h1.9v12.3h-1.9zM415.4 707.6h1.9v12.5h-1.9zM417.2 576.3h1.9v12.3h-1.9zM417.2 707.6h1.9v12.5h-1.9zM419.1 576.3h1.9v12.3h-1.9zM419.1 707.6h1.9v12.5h-1.9zM426.5 576.3h1.9v12.3h-1.9zM426.5 707.6h1.9v12.5h-1.9zM428.4 576.3h1.9v12.3h-1.9zM428.4 707.6h1.9v12.5h-1.9zM430.2 576.3h1.9v12.3h-1.9zM430.2 707.6h1.9v12.5h-1.9zM437.6 576.3h1.9v12.3h-1.9zM437.6 707.6h1.9v12.5h-1.9zM439.5 576.3h1.9v12.3h-1.9zM439.5 707.6h1.9v12.5h-1.9zM446.9 576.3h1.9v12.3h-1.9zM446.9 707.6h1.9v12.5h-1.9zM448.7 576.3h1.9v12.3h-1.9zM448.7 707.6h1.9v12.5h-1.9zM450.6 576.3h1.9v12.3h-1.9zM450.6 707.6h1.9v12.5h-1.9zM460.6 576.3h1.9v12.3h-1.9zM460.6 707.6h1.9v12.5h-1.9zM462.5 576.3h1.9v12.3h-1.9zM462.5 707.6h1.9v12.5h-1.9zM464.3 576.3h1.9v12.3h-1.9zM464.3 707.6h1.9v12.5h-1.9zM471.7 576.3h1.9v12.3h-1.9zM471.7 707.6h1.9v12.5h-1.9zM473.6 576.3h1.9v12.3h-1.9zM473.6 707.6h1.9v12.5h-1.9zM475.4 576.3h1.9v12.3h-1.9zM475.4 707.6h1.9v12.5h-1.9zM482.8 576.3h1.9v12.3h-1.9zM482.8 707.6h1.9v12.5h-1.9zM484.7 576.3h1.9v12.3h-1.9zM484.7 707.6h1.9v12.5h-1.9zM492.1 576.3h1.9v12.3h-1.9zM492.1 707.6h1.9v12.5h-1.9zM493.9 576.3h1.9v12.3h-1.9zM493.9 707.6h1.9v12.5h-1.9zM495.8 576.3h1.9v12.3h-1.9zM495.8 707.6h1.9v12.5h-1.9zM505.8 576.3h1.9v12.3h-1.9zM505.8 707.6h1.9v12.5h-1.9zM507.7 576.3h1.9v12.3h-1.9zM507.7 707.6h1.9v12.5h-1.9zM509.5 576.3h1.9v12.3h-1.9zM509.5 707.6h1.9v12.5h-1.9zM516.9 576.3h1.9v12.3h-1.9zM516.9 707.6h1.9v12.5h-1.9zM518.8 576.3h1.9v12.3h-1.9zM518.8 707.6h1.9v12.5h-1.9zM520.6 576.3h1.9v12.3h-1.9zM520.6 707.6h1.9v12.5h-1.9zM528 576.3h1.9v12.3h-1.9zM528 707.6h1.9v12.5h-1.9zM529.9 576.3h1.9v12.3h-1.9zM529.9 707.6h1.9v12.5h-1.9zM537.3 576.3h1.9v12.3h-1.9zM537.3 707.6h1.9v12.5h-1.9zM539.1 576.3h1.9v12.3h-1.9zM539.1 707.6h1.9v12.5h-1.9zM541 576.3h1.9v12.3h-1.9zM541 707.6h1.9v12.5h-1.9zM551 576.3h1.9v12.3h-1.9zM551 707.6h1.9v12.5h-1.9zM552.9 576.3h1.9v12.3h-1.9zM552.9 707.6h1.9v12.5h-1.9zM554.7 576.3h1.9v12.3h-1.9zM554.7 707.6h1.9v12.5h-1.9zM562.1 576.3h1.9v12.3h-1.9zM562.1 707.6h1.9v12.5h-1.9zM564 576.3h1.9v12.3h-1.9zM564 707.6h1.9v12.5h-1.9zM565.8 576.3h1.9v12.3h-1.9zM565.8 707.6h1.9v12.5h-1.9zM573.2 576.3h1.9v12.3h-1.9zM573.2 707.6h1.9v12.5h-1.9zM575.1 576.3h1.9v12.3h-1.9zM575.1 707.6h1.9v12.5h-1.9zM582.5 576.3h1.9v12.3h-1.9zM582.5 707.6h1.9v12.5h-1.9zM584.4 576.3h1.9v12.3h-1.9zM584.4 707.6h1.9v12.5h-1.9zM586.2 576.3h1.9v12.3h-1.9zM586.2 707.6h1.9v12.5h-1.9zM596.2 576.3h1.9v12.3h-1.9zM596.2 707.6h1.9v12.5h-1.9zM598.1 576.3h1.9v12.3h-1.9zM598.1 707.6h1.9v12.5h-1.9zM599.9 576.3h1.9v12.3h-1.9zM599.9 707.6h1.9v12.5h-1.9zM607.3 576.3h1.9v12.3h-1.9zM607.3 707.6h1.9v12.5h-1.9zM609.2 576.3h1.9v12.3h-1.9zM609.2 707.6h1.9v12.5h-1.9zM611 576.3h1.9v12.3h-1.9zM611 707.6h1.9v12.5h-1.9zM618.5 576.3h1.9v12.3h-1.9zM618.5 707.6h1.9v12.5h-1.9zM620.3 576.3h1.9v12.3h-1.9zM620.3 707.6h1.9v12.5h-1.9zM627.7 576.3h1.9v12.3h-1.9zM627.7 707.6h1.9v12.5h-1.9zM629.6 576.3h1.9v12.3h-1.9zM629.6 707.6h1.9v12.5h-1.9zM631.4 576.3h1.9v12.3h-1.9zM631.4 707.6h1.9v12.5h-1.9z"/><path fill="#7a66fe" d="M14.1 576.3h1.9v12.3h-1.9zM14.1 707.6h1.9v12.5h-1.9zM15.9 576.3h1.9v12.3h-1.9zM15.9 707.6h1.9v12.5h-1.9zM17.8 576.3h1.9v12.3h-1.9zM17.8 707.6h1.9v12.5h-1.9zM25.2 576.3h1.9v12.3h-1.9zM25.2 707.6h1.9v12.5h-1.9zM27 576.3h1.9v12.3h-1.9zM27 707.6h1.9v12.5h-1.9zM28.9 576.3h1.9v12.3h-1.9zM28.9 707.6h1.9v12.5h-1.9zM34.4 576.3h1.9v12.3h-1.9zM34.4 707.6h1.9v12.5h-1.9zM36.3 576.3h1.9v12.3h-1.9zM36.3 707.6h1.9v12.5h-1.9zM38.1 576.3h1.9v12.3h-1.9zM38.1 707.6h1.9v12.5h-1.9zM45.5 576.3h1.9v12.3h-1.9zM45.5 707.6h1.9v12.5h-1.9zM47.4 576.3h1.9v12.3h-1.9zM47.4 707.6h1.9v12.5h-1.9zM49.2 576.3h1.9v12.3h-1.9zM49.2 707.6h1.9v12.5h-1.9zM59.3 576.3h1.9v12.3h-1.9zM59.3 707.6h1.9v12.5h-1.9zM61.1 576.3h1.9v12.3h-1.9zM61.1 707.6h1.9v12.5h-1.9zM63 576.3h1.9v12.3h-1.9zM63 707.6h1.9v12.5h-1.9zM70.4 576.3h1.9v12.3h-1.9zM70.4 707.6h1.9v12.5h-1.9zM72.2 576.3h1.9v12.3h-1.9zM72.2 707.6h1.9v12.5h-1.9zM74.1 576.3h1.9v12.3h-1.9zM74.1 707.6h1.9v12.5h-1.9zM79.6 576.3h1.9v12.3h-1.9zM79.6 707.6h1.9v12.5h-1.9zM81.5 576.3h1.9v12.3h-1.9zM81.5 707.6h1.9v12.5h-1.9zM83.3 576.3h1.9v12.3h-1.9zM83.3 707.6h1.9v12.5h-1.9zM90.8 576.3h1.9v12.3h-1.9zM90.8 707.6h1.9v12.5h-1.9zM92.6 576.3h1.9v12.3h-1.9zM92.6 707.6h1.9v12.5h-1.9zM94.5 576.3h1.9v12.3h-1.9zM94.5 707.6h1.9v12.5h-1.9zM104.5 576.3h1.9v12.3h-1.9zM104.5 707.6h1.9v12.5h-1.9zM106.3 576.3h1.9v12.3h-1.9zM106.3 707.6h1.9v12.5h-1.9zM108.2 576.3h1.9v12.3h-1.9zM108.2 707.6h1.9v12.5h-1.9zM115.6 576.3h1.9v12.3h-1.9zM115.6 707.6h1.9v12.5h-1.9zM117.4 576.3h1.9v12.3h-1.9zM117.4 707.6h1.9v12.5h-1.9zM119.3 576.3h1.9v12.3h-1.9zM119.3 707.6h1.9v12.5h-1.9zM124.9 576.3h1.9v12.3h-1.9zM124.9 707.6h1.9v12.5h-1.9zM126.7 576.3h1.9v12.3h-1.9zM126.7 707.6h1.9v12.5h-1.9zM128.6 576.3h1.9v12.3h-1.9zM128.6 707.6h1.9v12.5h-1.9zM136 576.3h1.9v12.3h-1.9zM136 707.6h1.9v12.5h-1.9zM137.8 576.3h1.9v12.3h-1.9zM137.8 707.6h1.9v12.5h-1.9zM139.7 576.3h1.9v12.3h-1.9zM139.7 707.6h1.9v12.5h-1.9zM149.7 576.3h1.9v12.3h-1.9zM149.7 707.6h1.9v12.5h-1.9zM151.5 576.3h1.9v12.3h-1.9zM151.5 707.6h1.9v12.5h-1.9zM153.4 576.3h1.9v12.3h-1.9zM153.4 707.6h1.9v12.5h-1.9zM160.8 576.3h1.9v12.3h-1.9zM160.8 707.6h1.9v12.5h-1.9zM162.7 576.3h1.9v12.3h-1.9zM162.7 707.6h1.9v12.5h-1.9zM164.5 576.3h1.9v12.3h-1.9zM164.5 707.6h1.9v12.5h-1.9zM170.1 576.3h1.9v12.3h-1.9zM170.1 707.6h1.9v12.5h-1.9zM171.9 576.3h1.9v12.3h-1.9zM171.9 707.6h1.9v12.5h-1.9zM173.8 576.3h1.9v12.3h-1.9zM173.8 707.6h1.9v12.5h-1.9zM181.2 576.3h1.9v12.3h-1.9zM181.2 707.6h1.9v12.5h-1.9zM183 576.3h1.9v12.3h-1.9zM183 707.6h1.9v12.5h-1.9zM184.9 576.3h1.9v12.3h-1.9zM184.9 707.6h1.9v12.5h-1.9zM194.9 576.3h1.9v12.3h-1.9zM194.9 707.6h1.9v12.5h-1.9zM196.7 576.3h1.9v12.3h-1.9zM196.7 707.6h1.9v12.5h-1.9zM198.6 576.3h1.9v12.3h-1.9zM198.6 707.6h1.9v12.5h-1.9zM206 576.3h1.9v12.3h-1.9zM206 707.6h1.9v12.5h-1.9zM207.9 576.3h1.9v12.3h-1.9zM207.9 707.6h1.9v12.5h-1.9zM209.7 576.3h1.9v12.3h-1.9zM209.7 707.6h1.9v12.5h-1.9zM215.3 576.3h1.9v12.3h-1.9zM215.3 707.6h1.9v12.5h-1.9zM217.1 576.3h1.9v12.3h-1.9zM217.1 707.6h1.9v12.5h-1.9zM219 576.3h1.9v12.3h-1.9zM219 707.6h1.9v12.5h-1.9zM226.4 576.3h1.9v12.3h-1.9zM226.4 707.6h1.9v12.5h-1.9zM228.2 576.3h1.9v12.3h-1.9zM228.2 707.6h1.9v12.5h-1.9zM230.1 576.3h1.9v12.3h-1.9zM230.1 707.6h1.9v12.5h-1.9zM240.1 576.3h1.9v12.3h-1.9zM240.1 707.6h1.9v12.5h-1.9zM242 576.3h1.9v12.3h-1.9zM242 707.6h1.9v12.5h-1.9zM243.8 576.3h1.9v12.3h-1.9zM243.8 707.6h1.9v12.5h-1.9zM251.2 576.3h1.9v12.3h-1.9zM251.2 707.6h1.9v12.5h-1.9zM253.1 576.3h1.9v12.3h-1.9zM253.1 707.6h1.9v12.5h-1.9zM254.9 576.3h1.9v12.3h-1.9zM254.9 707.6h1.9v12.5h-1.9zM260.5 576.3h1.9v12.3h-1.9zM260.5 707.6h1.9v12.5h-1.9zM262.3 576.3h1.9v12.3h-1.9zM262.3 707.6h1.9v12.5h-1.9zM264.2 576.3h1.9v12.3h-1.9zM264.2 707.6h1.9v12.5h-1.9zM271.6 576.3h1.9v12.3h-1.9zM271.6 707.6h1.9v12.5h-1.9zM273.4 576.3h1.9v12.3h-1.9zM273.4 707.6h1.9v12.5h-1.9zM275.3 576.3h1.9v12.3h-1.9zM275.3 707.6h1.9v12.5h-1.9zM285.3 576.3h1.9v12.3h-1.9zM285.3 707.6h1.9v12.5h-1.9zM287.2 576.3h1.9v12.3h-1.9zM287.2 707.6h1.9v12.5h-1.9zM289 576.3h1.9v12.3h-1.9zM289 707.6h1.9v12.5h-1.9zM296.4 576.3h1.9v12.3h-1.9zM296.4 707.6h1.9v12.5h-1.9zM298.3 576.3h1.9v12.3h-1.9zM298.3 707.6h1.9v12.5h-1.9zM300.1 576.3h1.9v12.3h-1.9zM300.1 707.6h1.9v12.5h-1.9zM305.7 576.3h1.9v12.3h-1.9zM305.7 707.6h1.9v12.5h-1.9zM307.5 576.3h1.9v12.3h-1.9zM307.5 707.6h1.9v12.5h-1.9zM309.4 576.3h1.9v12.3h-1.9zM309.4 707.6h1.9v12.5h-1.9zM316.8 576.3h1.9v12.3h-1.9zM316.8 707.6h1.9v12.5h-1.9zM318.7 576.3h1.9v12.3h-1.9zM318.7 707.6h1.9v12.5h-1.9zM320.5 576.3h1.9v12.3h-1.9zM320.5 707.6h1.9v12.5h-1.9zM330.5 576.3h1.9v12.3h-1.9zM330.5 707.6h1.9v12.5h-1.9zM332.4 576.3h1.9v12.3h-1.9zM332.4 707.6h1.9v12.5h-1.9zM334.2 576.3h1.9v12.3h-1.9zM334.2 707.6h1.9v12.5h-1.9zM341.6 576.3h1.9v12.3h-1.9zM341.6 707.6h1.9v12.5h-1.9zM343.5 576.3h1.9v12.3h-1.9zM343.5 707.6h1.9v12.5h-1.9zM345.3 576.3h1.9v12.3h-1.9zM345.3 707.6h1.9v12.5h-1.9zM350.9 576.3h1.9v12.3h-1.9zM350.9 707.6h1.9v12.5h-1.9zM352.8 576.3h1.9v12.3h-1.9zM352.8 707.6h1.9v12.5h-1.9zM354.6 576.3h1.9v12.3h-1.9zM354.6 707.6h1.9v12.5h-1.9zM362 576.3h1.9v12.3h-1.9zM362 707.6h1.9v12.5h-1.9zM363.9 576.3h1.9v12.3h-1.9zM363.9 707.6h1.9v12.5h-1.9zM365.7 576.3h1.9v12.3h-1.9zM365.7 707.6h1.9v12.5h-1.9zM375.7 576.3h1.9v12.3h-1.9zM375.7 707.6h1.9v12.5h-1.9zM377.6 576.3h1.9v12.3h-1.9zM377.6 707.6h1.9v12.5h-1.9zM379.4 576.3h1.9v12.3h-1.9zM379.4 707.6h1.9v12.5h-1.9zM386.8 576.3h1.9v12.3h-1.9zM386.8 707.6h1.9v12.5h-1.9zM388.7 576.3h1.9v12.3h-1.9zM388.7 707.6h1.9v12.5h-1.9zM390.6 576.3h1.9v12.3h-1.9zM390.6 707.6h1.9v12.5h-1.9zM396.1 576.3h1.9v12.3h-1.9zM396.1 707.6h1.9v12.5h-1.9zM398 576.3h1.9v12.3h-1.9zM398 707.6h1.9v12.5h-1.9zM399.8 576.3h1.9v12.3h-1.9zM399.8 707.6h1.9v12.5h-1.9zM407.2 576.3h1.9v12.3h-1.9zM407.2 707.6h1.9v12.5h-1.9zM409.1 576.3h1.9v12.3h-1.9zM409.1 707.6h1.9v12.5h-1.9zM410.9 576.3h1.9v12.3h-1.9zM410.9 707.6h1.9v12.5h-1.9zM420.9 576.3h1.9v12.3h-1.9zM420.9 707.6h1.9v12.5h-1.9zM422.8 576.3h1.9v12.3h-1.9zM422.8 707.6h1.9v12.5h-1.9zM424.7 576.3h1.9v12.3h-1.9zM424.7 707.6h1.9v12.5h-1.9zM432.1 576.3h1.9v12.3h-1.9zM432.1 707.6h1.9v12.5h-1.9zM433.9 576.3h1.9v12.3h-1.9zM433.9 707.6h1.9v12.5h-1.9zM435.8 576.3h1.9v12.3h-1.9zM435.8 707.6h1.9v12.5h-1.9zM441.3 576.3h1.9v12.3h-1.9zM441.3 707.6h1.9v12.5h-1.9zM443.2 576.3h1.9v12.3h-1.9zM443.2 707.6h1.9v12.5h-1.9zM445 576.3h1.9v12.3h-1.9zM445 707.6h1.9v12.5h-1.9zM452.4 576.3h1.9v12.3h-1.9zM452.4 707.6h1.9v12.5h-1.9zM454.3 576.3h1.9v12.3h-1.9zM454.3 707.6h1.9v12.5h-1.9zM456.1 576.3h1.9v12.3h-1.9zM456.1 707.6h1.9v12.5h-1.9zM466.2 576.3h1.9v12.3h-1.9zM466.2 707.6h1.9v12.5h-1.9zM468 576.3h1.9v12.3h-1.9zM468 707.6h1.9v12.5h-1.9zM469.9 576.3h1.9v12.3h-1.9zM469.9 707.6h1.9v12.5h-1.9zM477.3 576.3h1.9v12.3h-1.9zM477.3 707.6h1.9v12.5h-1.9zM479.1 576.3h1.9v12.3h-1.9zM479.1 707.6h1.9v12.5h-1.9zM481 576.3h1.9v12.3h-1.9zM481 707.6h1.9v12.5h-1.9zM486.5 576.3h1.9v12.3h-1.9zM486.5 707.6h1.9v12.5h-1.9zM488.4 576.3h1.9v12.3h-1.9zM488.4 707.6h1.9v12.5h-1.9zM490.2 576.3h1.9v12.3h-1.9zM490.2 707.6h1.9v12.5h-1.9zM497.6 576.3h1.9v12.3h-1.9zM497.6 707.6h1.9v12.5h-1.9zM499.5 576.3h1.9v12.3h-1.9zM499.5 707.6h1.9v12.5h-1.9zM501.3 576.3h1.9v12.3h-1.9zM501.3 707.6h1.9v12.5h-1.9zM511.4 576.3h1.9v12.3h-1.9zM511.4 707.6h1.9v12.5h-1.9zM513.2 576.3h1.9v12.3h-1.9zM513.2 707.6h1.9v12.5h-1.9zM515.1 576.3h1.9v12.3h-1.9zM515.1 707.6h1.9v12.5h-1.9zM522.5 576.3h1.9v12.3h-1.9zM522.5 707.6h1.9v12.5h-1.9zM524.3 576.3h1.9v12.3h-1.9zM524.3 707.6h1.9v12.5h-1.9zM526.2 576.3h1.9v12.3h-1.9zM526.2 707.6h1.9v12.5h-1.9zM531.7 576.3h1.9v12.3h-1.9zM531.7 707.6h1.9v12.5h-1.9zM533.6 576.3h1.9v12.3h-1.9zM533.6 707.6h1.9v12.5h-1.9zM535.4 576.3h1.9v12.3h-1.9zM535.4 707.6h1.9v12.5h-1.9zM542.9 576.3h1.9v12.3h-1.9zM542.9 707.6h1.9v12.5h-1.9zM544.7 576.3h1.9v12.3h-1.9zM544.7 707.6h1.9v12.5h-1.9zM546.6 576.3h1.9v12.3h-1.9zM546.6 707.6h1.9v12.5h-1.9zM556.6 576.3h1.9v12.3h-1.9zM556.6 707.6h1.9v12.5h-1.9zM558.4 576.3h1.9v12.3h-1.9zM558.4 707.6h1.9v12.5h-1.9zM560.3 576.3h1.9v12.3h-1.9zM560.3 707.6h1.9v12.5h-1.9zM567.7 576.3h1.9v12.3h-1.9zM567.7 707.6h1.9v12.5h-1.9zM569.5 576.3h1.9v12.3h-1.9zM569.5 707.6h1.9v12.5h-1.9zM571.4 576.3h1.9v12.3h-1.9zM571.4 707.6h1.9v12.5h-1.9zM577 576.3h1.9v12.3h-1.9zM577 707.6h1.9v12.5h-1.9zM578.8 576.3h1.9v12.3h-1.9zM578.8 707.6h1.9v12.5h-1.9zM580.7 576.3h1.9v12.3h-1.9zM580.7 707.6h1.9v12.5h-1.9zM588.1 576.3h1.9v12.3h-1.9zM588.1 707.6h1.9v12.5h-1.9zM589.9 576.3h1.9v12.3h-1.9zM589.9 707.6h1.9v12.5h-1.9zM591.8 576.3h1.9v12.3h-1.9zM591.8 707.6h1.9v12.5h-1.9zM601.8 576.3h1.9v12.3h-1.9zM601.8 707.6h1.9v12.5h-1.9zM603.6 576.3h1.9v12.3h-1.9zM603.6 707.6h1.9v12.5h-1.9zM605.5 576.3h1.9v12.3h-1.9zM605.5 707.6h1.9v12.5h-1.9zM612.9 576.3h1.9v12.3h-1.9zM612.9 707.6h1.9v12.5h-1.9zM614.8 576.3h1.9v12.3h-1.9zM614.8 707.6h1.9v12.5h-1.9zM616.6 576.3h1.9v12.3h-1.9zM616.6 707.6h1.9v12.5h-1.9zM622.2 576.3h1.9v12.3h-1.9zM622.2 707.6h1.9v12.5h-1.9zM624 576.3h1.9v12.3h-1.9zM624 707.6h1.9v12.5h-1.9zM625.9 576.3h1.9v12.3h-1.9zM625.9 707.6h1.9v12.5h-1.9zM633.3 576.3h1.9v12.3h-1.9zM633.3 707.6h1.9v12.5h-1.9zM635.1 576.3h1.9v12.3h-1.9zM635.1 707.6h1.9v12.5h-1.9zM637 576.3h1.9v12.3h-1.9zM637 707.6h1.9v12.5h-1.9z"/><path fill="#f6a98a" d="M19.6 563h1.9v12h-1.9zM21.5 563h1.9v12h-1.9zM23.3 563h1.9v12h-1.9zM25.2 563h1.9v12h-1.9zM27 563h1.9v12h-1.9zM28.9 563h1.9v12h-1.9zM64.8 563h1.9v12h-1.9zM66.7 563h1.9v12h-1.9zM68.5 563h1.9v12h-1.9zM70.4 563h1.9v12h-1.9zM72.2 563h1.9v12h-1.9zM74.1 563h1.9v12h-1.9zM110 563h1.9v12h-1.9zM111.9 563h1.9v12h-1.9zM113.7 563h1.9v12h-1.9zM115.6 563h1.9v12h-1.9zM117.4 563h1.9v12h-1.9zM119.3 563h1.9v12h-1.9zM155.2 563h1.9v12h-1.9zM157.1 563h1.9v12h-1.9zM158.9 563h1.9v12h-1.9zM160.8 563h1.9v12h-1.9zM162.7 563h1.9v12h-1.9zM164.5 563h1.9v12h-1.9zM200.5 563h1.9v12h-1.9zM202.3 563h1.9v12h-1.9zM204.2 563h1.9v12h-1.9zM206 563h1.9v12h-1.9zM207.9 563h1.9v12h-1.9zM209.7 563h1.9v12h-1.9zM245.7 563h1.9v12h-1.9zM247.5 563h1.9v12h-1.9zM249.4 563h1.9v12h-1.9zM251.2 563h1.9v12h-1.9zM253.1 563h1.9v12h-1.9zM254.9 563h1.9v12h-1.9zM290.9 563h1.9v12h-1.9zM292.7 563h1.9v12h-1.9zM294.6 563h1.9v12h-1.9zM296.4 563h1.9v12h-1.9zM298.3 563h1.9v12h-1.9zM300.1 563h1.9v12h-1.9zM336.1 563h1.9v12h-1.9zM337.9 563h1.9v12h-1.9zM339.8 563h1.9v12h-1.9zM341.6 563h1.9v12h-1.9zM343.5 563h1.9v12h-1.9zM345.3 563h1.9v12h-1.9zM381.3 563h1.9v12h-1.9zM383.1 563h1.9v12h-1.9zM385 563h1.9v12h-1.9zM386.8 563h1.9v12h-1.9zM388.7 563h1.9v12h-1.9zM390.6 563h1.9v12h-1.9zM426.5 563h1.9v12h-1.9zM428.4 563h1.9v12h-1.9zM430.2 563h1.9v12h-1.9zM432.1 563h1.9v12h-1.9zM433.9 563h1.9v12h-1.9zM435.8 563h1.9v12h-1.9zM471.7 563h1.9v12h-1.9zM473.6 563h1.9v12h-1.9zM475.4 563h1.9v12h-1.9zM477.3 563h1.9v12h-1.9zM479.1 563h1.9v12h-1.9zM481 563h1.9v12h-1.9zM516.9 563h1.9v12h-1.9zM518.8 563h1.9v12h-1.9zM520.6 563h1.9v12h-1.9zM522.5 563h1.9v12h-1.9zM524.3 563h1.9v12h-1.9zM526.2 563h1.9v12h-1.9zM562.1 563h1.9v12h-1.9zM564 563h1.9v12h-1.9zM565.8 563h1.9v12h-1.9zM567.7 563h1.9v12h-1.9zM569.5 563h1.9v12h-1.9zM571.4 563h1.9v12h-1.9zM607.3 563h1.9v12h-1.9zM609.2 563h1.9v12h-1.9zM611 563h1.9v12h-1.9zM612.9 563h1.9v12h-1.9zM614.8 563h1.9v12h-1.9zM616.6 563h1.9v12h-1.9z"/><path fill="#ed6a4d" d="M30.7 563h1.9v12h-1.9zM32.6 563h1.9v12h-1.9zM34.4 563h1.9v12h-1.9zM36.3 563h1.9v12h-1.9zM38.1 563h1.9v12h-1.9zM75.9 563h1.9v12h-1.9zM77.8 563h1.9v12h-1.9zM79.6 563h1.9v12h-1.9zM81.5 563h1.9v12h-1.9zM83.3 563h1.9v12h-1.9zM121.1 563h1.9v12h-1.9zM123 563h1.9v12h-1.9zM124.9 563h1.9v12h-1.9zM126.7 563h1.9v12h-1.9zM128.6 563h1.9v12h-1.9zM166.4 563h1.9v12h-1.9zM168.2 563h1.9v12h-1.9zM170.1 563h1.9v12h-1.9zM171.9 563h1.9v12h-1.9zM173.8 563h1.9v12h-1.9zM211.6 563h1.9v12h-1.9zM213.4 563h1.9v12h-1.9zM215.3 563h1.9v12h-1.9zM217.1 563h1.9v12h-1.9zM219 563h1.9v12h-1.9zM256.8 563h1.9v12h-1.9zM258.6 563h1.9v12h-1.9zM260.5 563h1.9v12h-1.9zM262.3 563h1.9v12h-1.9zM264.2 563h1.9v12h-1.9zM302 563h1.9v12h-1.9zM303.8 563h1.9v12h-1.9zM305.7 563h1.9v12h-1.9zM307.5 563h1.9v12h-1.9zM309.4 563h1.9v12h-1.9zM347.2 563h1.9v12h-1.9zM349 563h1.9v12h-1.9zM350.9 563h1.9v12h-1.9zM352.8 563h1.9v12h-1.9zM354.6 563h1.9v12h-1.9zM392.4 563h1.9v12h-1.9zM394.3 563h1.9v12h-1.9zM396.1 563h1.9v12h-1.9zM398 563h1.9v12h-1.9zM399.8 563h1.9v12h-1.9zM437.6 563h1.9v12h-1.9zM439.5 563h1.9v12h-1.9zM441.3 563h1.9v12h-1.9zM443.2 563h1.9v12h-1.9zM445 563h1.9v12h-1.9zM482.8 563h1.9v12h-1.9zM484.7 563h1.9v12h-1.9zM486.5 563h1.9v12h-1.9zM488.4 563h1.9v12h-1.9zM490.2 563h1.9v12h-1.9zM528 563h1.9v12h-1.9zM529.9 563h1.9v12h-1.9zM531.7 563h1.9v12h-1.9zM533.6 563h1.9v12h-1.9zM535.4 563h1.9v12h-1.9zM573.2 563h1.9v12h-1.9zM575.1 563h1.9v12h-1.9zM577 563h1.9v12h-1.9zM578.8 563h1.9v12h-1.9zM580.7 563h1.9v12h-1.9zM618.5 563h1.9v12h-1.9zM620.3 563h1.9v12h-1.9zM622.2 563h1.9v12h-1.9zM624 563h1.9v12h-1.9zM625.9 563h1.9v12h-1.9z"/><path fill="#cc191e" d="M40 563h1.9v12h-1.9zM41.8 563h1.9v12h-1.9zM43.7 563h1.9v12h-1.9zM45.5 563h1.9v12h-1.9zM47.4 563h1.9v12h-1.9zM49.2 563h1.9v12h-1.9zM85.2 563h1.9v12h-1.9zM87 563h1.9v12h-1.9zM88.9 563h1.9v12h-1.9zM90.8 563h1.9v12h-1.9zM92.6 563h1.9v12h-1.9zM94.5 563h1.9v12h-1.9zM130.4 563h1.9v12h-1.9zM132.3 563h1.9v12h-1.9zM134.1 563h1.9v12h-1.9zM136 563h1.9v12h-1.9zM137.8 563h1.9v12h-1.9zM139.7 563h1.9v12h-1.9zM175.6 563h1.9v12h-1.9zM177.5 563h1.9v12h-1.9zM179.3 563h1.9v12h-1.9zM181.2 563h1.9v12h-1.9zM183 563h1.9v12h-1.9zM184.9 563h1.9v12h-1.9zM220.8 563h1.9v12h-1.9zM222.7 563h1.9v12h-1.9zM224.5 563h1.9v12h-1.9zM226.4 563h1.9v12h-1.9zM228.2 563h1.9v12h-1.9zM230.1 563h1.9v12h-1.9zM266 563h1.9v12h-1.9zM267.9 563h1.9v12h-1.9zM269.7 563h1.9v12h-1.9zM271.6 563h1.9v12h-1.9zM273.4 563h1.9v12h-1.9zM275.3 563h1.9v12h-1.9zM311.2 563h1.9v12h-1.9zM313.1 563h1.9v12h-1.9zM315 563h1.9v12h-1.9zM316.8 563h1.9v12h-1.9zM318.7 563h1.9v12h-1.9zM320.5 563h1.9v12h-1.9zM356.5 563h1.9v12h-1.9zM358.3 563h1.9v12h-1.9zM360.2 563h1.9v12h-1.9zM362 563h1.9v12h-1.9zM363.9 563h1.9v12h-1.9zM365.7 563h1.9v12h-1.9zM401.7 563h1.9v12h-1.9zM403.5 563h1.9v12h-1.9zM405.4 563h1.9v12h-1.9zM407.2 563h1.9v12h-1.9zM409.1 563h1.9v12h-1.9zM410.9 563h1.9v12h-1.9zM446.9 563h1.9v12h-1.9zM448.7 563h1.9v12h-1.9zM450.6 563h1.9v12h-1.9zM452.4 563h1.9v12h-1.9zM454.3 563h1.9v12h-1.9zM456.1 563h1.9v12h-1.9zM492.1 563h1.9v12h-1.9zM493.9 563h1.9v12h-1.9zM495.8 563h1.9v12h-1.9zM497.6 563h1.9v12h-1.9zM499.5 563h1.9v12h-1.9zM501.3 563h1.9v12h-1.9zM537.3 563h1.9v12h-1.9zM539.1 563h1.9v12h-1.9zM541 563h1.9v12h-1.9zM542.9 563h1.9v12h-1.9zM544.7 563h1.9v12h-1.9zM546.6 563h1.9v12h-1.9zM582.5 563h1.9v12h-1.9zM584.4 563h1.9v12h-1.9zM586.2 563h1.9v12h-1.9zM588.1 563h1.9v12h-1.9zM589.9 563h1.9v12h-1.9zM591.8 563h1.9v12h-1.9zM627.7 563h1.9v12h-1.9zM629.6 563h1.9v12h-1.9zM631.4 563h1.9v12h-1.9zM633.3 563h1.9v12h-1.9zM635.1 563h1.9v12h-1.9zM637 563h1.9v12h-1.9z"/><path fill="#f7f5f5" d="M8.5 591h1.9v8.2h-1.9zM10.4 591h1.9v8.2h-1.9zM12.2 591h1.9v8.2h-1.9zM32.6 591h1.9v8.2h-1.9zM34.4 591h1.9v8.2h-1.9zM14.1 599.2h1.9v8.2h-1.9zM32.6 599.2h1.9v8.2h-1.9zM40 599.2h1.9v8.2h-1.9zM47.4 599.2h1.9v8.2h-1.9zM28.9 607.3h1.9v8.2h-1.9zM38.1 607.3h1.9v8.2h-1.9zM49.2 607.3h1.9v8.2h-1.9zM8.5 615.5h1.9v8.2h-1.9zM17.8 623.7h1.9v8.2h-1.9zM49.2 631.9h1.9v8.2h-1.9zM25.2 648.2h1.9v8.2h-1.9zM43.7 648.2h1.9v8.2h-1.9zM19.6 656.4h1.9v8.2h-1.9zM30.7 664.5h1.9v8.2h-1.9zM43.7 672.7h1.9v8.2h-1.9zM49.2 680.9h1.9v8.2h-1.9zM17.8 689.1h1.9v8.2h-1.9zM68.5 591h1.9v8.2h-1.9zM94.5 599.2h1.9v8.2h-1.9zM53.7 607.3h1.9v8.2h-1.9zM64.8 607.3h1.9v8.2h-1.9zM88.9 607.3h1.9v8.2h-1.9zM90.8 607.3h1.9v8.2h-1.9zM55.6 615.5h1.9v8.2h-1.9zM90.8 615.5h1.9v8.2h-1.9zM66.7 623.7h1.9v8.2h-1.9zM64.8 631.9h1.9v8.2h-1.9zM53.7 640h1.9v8.2h-1.9zM55.6 640h1.9v8.2h-1.9zM61.1 640h1.9v8.2h-1.9zM68.5 640h1.9v8.2h-1.9zM64.8 648.2h1.9v8.2h-1.9zM75.9 648.2h1.9v8.2h-1.9zM79.6 648.2h1.9v8.2h-1.9zM87 648.2h1.9v8.2h-1.9zM88.9 648.2h1.9v8.2h-1.9zM55.6 656.4h1.9v8.2h-1.9zM57.4 656.4h1.9v8.2h-1.9zM61.1 656.4h1.9v8.2h-1.9zM79.6 656.4h1.9v8.2h-1.9zM83.3 656.4h1.9v8.2h-1.9zM83.3 680.9h1.9v8.2h-1.9zM94.5 680.9h1.9v8.2h-1.9zM90.8 689.1h1.9v8.2h-1.9zM55.6 697.2h1.9v8.2h-1.9zM66.7 697.2h1.9v8.2h-1.9zM79.6 697.2h1.9v8.2h-1.9zM134.1 591h1.9v8.2h-1.9zM139.7 591h1.9v8.2h-1.9zM100.8 599.2h1.9v8.2h-1.9zM98.9 607.3h1.9v8.2h-1.9zM100.8 607.3h1.9v8.2h-1.9zM100.8 623.7h1.9v8.2h-1.9zM128.6 623.7h1.9v8.2h-1.9zM136 623.7h1.9v8.2h-1.9zM139.7 623.7h1.9v8.2h-1.9zM100.8 631.9h1.9v8.2h-1.9zM137.8 631.9h1.9v8.2h-1.9zM108.2 640h1.9v8.2h-1.9zM136 648.2h1.9v8.2h-1.9zM139.7 648.2h1.9v8.2h-1.9zM100.8 656.4h1.9v8.2h-1.9zM124.9 664.5h1.9v8.2h-1.9zM126.7 672.7h1.9v8.2h-1.9zM124.9 680.9h1.9v8.2h-1.9zM128.6 680.9h1.9v8.2h-1.9zM108.2 689.1h1.9v8.2h-1.9zM124.9 689.1h1.9v8.2h-1.9zM100.8 697.2h1.9v8.2h-1.9zM151.5 591h1.9v8.2h-1.9zM157.1 591h1.9v8.2h-1.9zM144.1 607.3h1.9v8.2h-1.9zM166.4 607.3h1.9v8.2h-1.9zM170.1 607.3h1.9v8.2h-1.9zM164.5 615.5h1.9v8.2h-1.9zM173.8 615.5h1.9v8.2h-1.9zM149.7 623.7h1.9v8.2h-1.9zM179.3 623.7h1.9v8.2h-1.9zM183 623.7h1.9v8.2h-1.9zM168.2 631.9h1.9v8.2h-1.9zM184.9 640h1.9v8.2h-1.9zM149.7 648.2h1.9v8.2h-1.9zM151.5 648.2h1.9v8.2h-1.9zM173.8 648.2h1.9v8.2h-1.9zM179.3 648.2h1.9v8.2h-1.9zM151.5 672.7h1.9v8.2h-1.9zM155.2 672.7h1.9v8.2h-1.9zM184.9 672.7h1.9v8.2h-1.9zM160.8 680.9h1.9v8.2h-1.9zM183 680.9h1.9v8.2h-1.9zM147.8 689.1h1.9v8.2h-1.9zM170.1 689.1h1.9v8.2h-1.9zM175.6 689.1h1.9v8.2h-1.9zM184.9 689.1h1.9v8.2h-1.9zM146 697.2h1.9v8.2h-1.9zM153.4 697.2h1.9v8.2h-1.9zM173.8 697.2h1.9v8.2h-1.9zM189.3 599.2h1.9v8.2h-1.9zM217.1 607.3h1.9v8.2h-1.9zM228.2 607.3h1.9v8.2h-1.9zM226.4 615.5h1.9v8.2h-1.9zM222.7 623.7h1.9v8.2h-1.9zM193 631.9h1.9v8.2h-1.9zM193 640h1.9v8.2h-1.9zM228.2 640h1.9v8.2h-1.9zM189.3 648.2h1.9v8.2h-1.9zM230.1 656.4h1.9v8.2h-1.9zM204.2 664.5h1.9v8.2h-1.9zM230.1 672.7h1.9v8.2h-1.9zM191.2 680.9h1.9v8.2h-1.9zM209.7 680.9h1.9v8.2h-1.9zM217.1 680.9h1.9v8.2h-1.9zM226.4 680.9h1.9v8.2h-1.9zM189.3 689.1h1.9v8.2h-1.9zM202.3 689.1h1.9v8.2h-1.9zM222.7 689.1h1.9v8.2h-1.9zM189.3 697.2h1.9v8.2h-1.9zM198.6 697.2h1.9v8.2h-1.9zM200.5 697.2h1.9v8.2h-1.9zM207.9 697.2h1.9v8.2h-1.9zM238.3 591h1.9v8.2h-1.9zM267.9 591h1.9v8.2h-1.9zM236.4 607.3h1.9v8.2h-1.9zM269.7 615.5h1.9v8.2h-1.9zM273.4 615.5h1.9v8.2h-1.9zM236.4 623.7h1.9v8.2h-1.9zM240.1 631.9h1.9v8.2h-1.9zM266 631.9h1.9v8.2h-1.9zM234.6 640h1.9v8.2h-1.9zM267.9 640h1.9v8.2h-1.9zM238.3 656.4h1.9v8.2h-1.9zM247.5 656.4h1.9v8.2h-1.9zM243.8 664.5h1.9v8.2h-1.9zM254.9 664.5h1.9v8.2h-1.9zM242 672.7h1.9v8.2h-1.9zM247.5 672.7h1.9v8.2h-1.9zM271.6 672.7h1.9v8.2h-1.9zM262.3 680.9h1.9v8.2h-1.9zM267.9 680.9h1.9v8.2h-1.9zM245.7 697.2h1.9v8.2h-1.9zM249.4 697.2h1.9v8.2h-1.9zM258.6 697.2h1.9v8.2h-1.9zM283.5 591h1.9v8.2h-1.9zM311.2 591h1.9v8.2h-1.9zM292.7 599.2h1.9v8.2h-1.9zM311.2 599.2h1.9v8.2h-1.9zM287.2 607.3h1.9v8.2h-1.9zM279.8 615.5h1.9v8.2h-1.9zM302 623.7h1.9v8.2h-1.9zM307.5 623.7h1.9v8.2h-1.9zM313.1 623.7h1.9v8.2h-1.9zM311.2 631.9h1.9v8.2h-1.9zM309.4 640h1.9v8.2h-1.9zM281.6 648.2h1.9v8.2h-1.9zM283.5 648.2h1.9v8.2h-1.9zM300.1 648.2h1.9v8.2h-1.9zM307.5 648.2h1.9v8.2h-1.9zM279.8 656.4h1.9v8.2h-1.9zM287.2 656.4h1.9v8.2h-1.9zM290.9 656.4h1.9v8.2h-1.9zM311.2 656.4h1.9v8.2h-1.9zM311.2 664.5h1.9v8.2h-1.9zM289 672.7h1.9v8.2h-1.9zM311.2 672.7h1.9v8.2h-1.9zM287.2 680.9h1.9v8.2h-1.9zM302 680.9h1.9v8.2h-1.9zM311.2 680.9h1.9v8.2h-1.9zM318.7 680.9h1.9v8.2h-1.9zM283.5 689.1h1.9v8.2h-1.9zM290.9 689.1h1.9v8.2h-1.9zM313.1 689.1h1.9v8.2h-1.9zM316.8 689.1h1.9v8.2h-1.9zM343.5 591h1.9v8.2h-1.9zM334.2 599.2h1.9v8.2h-1.9zM330.5 615.5h1.9v8.2h-1.9zM360.2 623.7h1.9v8.2h-1.9zM345.3 631.9h1.9v8.2h-1.9zM356.5 640h1.9v8.2h-1.9zM334.2 648.2h1.9v8.2h-1.9zM350.9 648.2h1.9v8.2h-1.9zM356.5 648.2h1.9v8.2h-1.9zM358.3 648.2h1.9v8.2h-1.9zM356.5 656.4h1.9v8.2h-1.9zM362 656.4h1.9v8.2h-1.9zM330.5 664.5h1.9v8.2h-1.9zM336.1 664.5h1.9v8.2h-1.9zM350.9 664.5h1.9v8.2h-1.9zM365.7 664.5h1.9v8.2h-1.9zM332.4 672.7h1.9v8.2h-1.9zM345.3 672.7h1.9v8.2h-1.9zM347.2 672.7h1.9v8.2h-1.9zM354.6 672.7h1.9v8.2h-1.9zM356.5 672.7h1.9v8.2h-1.9zM343.5 689.1h1.9v8.2h-1.9zM365.7 689.1h1.9v8.2h-1.9zM379.4 591h1.9v8.2h-1.9zM394.3 591h1.9v8.2h-1.9zM398 599.2h1.9v8.2h-1.9zM379.4 607.3h1.9v8.2h-1.9zM390.6 607.3h1.9v8.2h-1.9zM377.6 615.5h1.9v8.2h-1.9zM392.4 615.5h1.9v8.2h-1.9zM399.8 615.5h1.9v8.2h-1.9zM405.4 623.7h1.9v8.2h-1.9zM407.2 623.7h1.9v8.2h-1.9zM403.5 631.9h1.9v8.2h-1.9zM403.5 648.2h1.9v8.2h-1.9zM386.8 656.4h1.9v8.2h-1.9zM373.9 664.5h1.9v8.2h-1.9zM379.4 664.5h1.9v8.2h-1.9zM392.4 664.5h1.9v8.2h-1.9zM379.4 672.7h1.9v8.2h-1.9zM405.4 672.7h1.9v8.2h-1.9zM407.2 680.9h1.9v8.2h-1.9zM396.1 689.1h1.9v8.2h-1.9zM401.7 689.1h1.9v8.2h-1.9zM409.1 689.1h1.9v8.2h-1.9zM370.2 697.2h1.9v8.2h-1.9zM372 697.2h1.9v8.2h-1.9zM373.9 697.2h1.9v8.2h-1.9zM428.4 591h1.9v8.2h-1.9zM430.2 591h1.9v8.2h-1.9zM433.9 591h1.9v8.2h-1.9zM450.6 599.2h1.9v8.2h-1.9zM443.2 607.3h1.9v8.2h-1.9zM452.4 615.5h1.9v8.2h-1.9zM448.7 623.7h1.9v8.2h-1.9zM417.2 631.9h1.9v8.2h-1.9zM420.9 631.9h1.9v8.2h-1.9zM452.4 631.9h1.9v8.2h-1.9zM419.1 640h1.9v8.2h-1.9zM433.9 640h1.9v8.2h-1.9zM437.6 640h1.9v8.2h-1.9zM439.5 640h1.9v8.2h-1.9zM454.3 640h1.9v8.2h-1.9zM420.9 648.2h1.9v8.2h-1.9zM439.5 648.2h1.9v8.2h-1.9zM452.4 648.2h1.9v8.2h-1.9zM415.4 656.4h1.9v8.2h-1.9zM424.7 656.4h1.9v8.2h-1.9zM439.5 656.4h1.9v8.2h-1.9zM445 656.4h1.9v8.2h-1.9zM432.1 664.5h1.9v8.2h-1.9zM450.6 664.5h1.9v8.2h-1.9zM437.6 672.7h1.9v8.2h-1.9zM445 680.9h1.9v8.2h-1.9zM443.2 689.1h1.9v8.2h-1.9zM488.4 591h1.9v8.2h-1.9zM493.9 607.3h1.9v8.2h-1.9zM473.6 615.5h1.9v8.2h-1.9zM486.5 615.5h1.9v8.2h-1.9zM493.9 615.5h1.9v8.2h-1.9zM499.5 615.5h1.9v8.2h-1.9zM475.4 623.7h1.9v8.2h-1.9zM488.4 623.7h1.9v8.2h-1.9zM493.9 631.9h1.9v8.2h-1.9zM495.8 631.9h1.9v8.2h-1.9zM460.6 640h1.9v8.2h-1.9zM499.5 640h1.9v8.2h-1.9zM460.6 648.2h1.9v8.2h-1.9zM481 664.5h1.9v8.2h-1.9zM499.5 664.5h1.9v8.2h-1.9zM492.1 680.9h1.9v8.2h-1.9zM460.6 689.1h1.9v8.2h-1.9zM469.9 689.1h1.9v8.2h-1.9zM484.7 689.1h1.9v8.2h-1.9zM490.2 689.1h1.9v8.2h-1.9zM509.5 591h1.9v8.2h-1.9zM511.4 599.2h1.9v8.2h-1.9zM541 607.3h1.9v8.2h-1.9zM542.9 607.3h1.9v8.2h-1.9zM541 615.5h1.9v8.2h-1.9zM505.8 623.7h1.9v8.2h-1.9zM518.8 623.7h1.9v8.2h-1.9zM533.6 623.7h1.9v8.2h-1.9zM515.1 631.9h1.9v8.2h-1.9zM518.8 631.9h1.9v8.2h-1.9zM526.2 640h1.9v8.2h-1.9zM537.3 640h1.9v8.2h-1.9zM507.7 656.4h1.9v8.2h-1.9zM511.4 656.4h1.9v8.2h-1.9zM515.1 656.4h1.9v8.2h-1.9zM522.5 656.4h1.9v8.2h-1.9zM537.3 656.4h1.9v8.2h-1.9zM509.5 664.5h1.9v8.2h-1.9zM542.9 664.5h1.9v8.2h-1.9zM505.8 672.7h1.9v8.2h-1.9zM511.4 672.7h1.9v8.2h-1.9zM509.5 680.9h1.9v8.2h-1.9zM513.2 680.9h1.9v8.2h-1.9zM522.5 680.9h1.9v8.2h-1.9zM531.7 680.9h1.9v8.2h-1.9zM509.5 689.1h1.9v8.2h-1.9zM535.4 689.1h1.9v8.2h-1.9zM509.5 697.2h1.9v8.2h-1.9zM518.8 697.2h1.9v8.2h-1.9zM528 697.2h1.9v8.2h-1.9zM533.6 697.2h1.9v8.2h-1.9zM541 697.2h1.9v8.2h-1.9zM551 591h1.9v8.2h-1.9zM589.9 591h1.9v8.2h-1.9zM586.2 599.2h1.9v8.2h-1.9zM567.7 607.3h1.9v8.2h-1.9zM556.6 615.5h1.9v8.2h-1.9zM577 615.5h1.9v8.2h-1.9zM584.4 623.7h1.9v8.2h-1.9zM571.4 631.9h1.9v8.2h-1.9zM589.9 631.9h1.9v8.2h-1.9zM577 640h1.9v8.2h-1.9zM562.1 648.2h1.9v8.2h-1.9zM573.2 656.4h1.9v8.2h-1.9zM560.3 664.5h1.9v8.2h-1.9zM564 664.5h1.9v8.2h-1.9zM578.8 680.9h1.9v8.2h-1.9zM551 689.1h1.9v8.2h-1.9zM565.8 689.1h1.9v8.2h-1.9zM588.1 697.2h1.9v8.2h-1.9zM589.9 697.2h1.9v8.2h-1.9zM605.5 591h1.9v8.2h-1.9zM612.9 591h1.9v8.2h-1.9zM624 591h1.9v8.2h-1.9zM625.9 591h1.9v8.2h-1.9zM596.2 599.2h1.9v8.2h-1.9zM625.9 615.5h1.9v8.2h-1.9zM631.4 615.5h1.9v8.2h-1.9zM631.4 623.7h1.9v8.2h-1.9zM637 623.7h1.9v8.2h-1.9zM612.9 631.9h1.9v8.2h-1.9zM631.4 631.9h1.9v8.2h-1.9zM637 640h1.9v8.2h-1.9zM611 648.2h1.9v8.2h-1.9zM633.3 648.2h1.9v8.2h-1.9zM635.1 648.2h1.9v8.2h-1.9zM596.2 656.4h1.9v8.2h-1.9zM603.6 656.4h1.9v8.2h-1.9zM605.5 656.4h1.9v8.2h-1.9zM622.2 656.4h1.9v8.2h-1.9zM618.5 664.5h1.9v8.2h-1.9zM599.9 672.7h1.9v8.2h-1.9zM603.6 672.7h1.9v8.2h-1.9zM605.5 672.7h1.9v8.2h-1.9zM607.3 672.7h1.9v8.2h-1.9zM612.9 672.7h1.9v8.2h-1.9zM614.8 672.7h1.9v8.2h-1.9zM616.6 672.7h1.9v8.2h-1.9zM618.5 672.7h1.9v8.2h-1.9zM620.3 672.7h1.9v8.2h-1.9zM624 672.7h1.9v8.2h-1.9zM629.6 672.7h1.9v8.2h-1.9zM631.4 672.7h1.9v8.2h-1.9zM635.1 672.7h1.9v8.2h-1.9zM605.5 680.9h1.9v8.2h-1.9zM627.7 680.9h1.9v8.2h-1.9zM603.6 689.1h1.9v8.2h-1.9zM605.5 689.1h1.9v8.2h-1.9zM607.3 689.1h1.9v8.2h-1.9zM611 689.1h1.9v8.2h-1.9zM598.1 697.2h1.9v8.2h-1.9zM603.6 697.2h1.9v8.2h-1.9zM625.9 697.2h1.9v8.2h-1.9zM627.7 697.2h1.9v8.2h-1.9z"/><path fill="#f7eceb" d="M14.1 591h1.9v8.2h-1.9zM15.9 591h1.9v8.2h-1.9zM40 591h1.9v8.2h-1.9zM49.2 591h1.9v8.2h-1.9zM34.4 599.2h1.9v8.2h-1.9zM43.7 599.2h1.9v8.2h-1.9zM14.1 607.3h1.9v8.2h-1.9zM15.9 607.3h1.9v8.2h-1.9zM30.7 607.3h1.9v8.2h-1.9zM45.5 607.3h1.9v8.2h-1.9zM32.6 615.5h1.9v8.2h-1.9zM41.8 615.5h1.9v8.2h-1.9zM12.2 623.7h1.9v8.2h-1.9zM45.5 631.9h1.9v8.2h-1.9zM17.8 640h1.9v8.2h-1.9zM45.5 640h1.9v8.2h-1.9zM49.2 640h1.9v8.2h-1.9zM14.1 664.5h1.9v8.2h-1.9zM32.6 664.5h1.9v8.2h-1.9zM43.7 664.5h1.9v8.2h-1.9zM45.5 664.5h1.9v8.2h-1.9zM21.5 672.7h1.9v8.2h-1.9zM34.4 672.7h1.9v8.2h-1.9zM36.3 672.7h1.9v8.2h-1.9zM12.2 689.1h1.9v8.2h-1.9zM38.1 689.1h1.9v8.2h-1.9zM32.6 697.2h1.9v8.2h-1.9zM55.6 591h1.9v8.2h-1.9zM90.8 591h1.9v8.2h-1.9zM92.6 607.3h1.9v8.2h-1.9zM53.7 615.5h1.9v8.2h-1.9zM88.9 623.7h1.9v8.2h-1.9zM61.1 631.9h1.9v8.2h-1.9zM68.5 631.9h1.9v8.2h-1.9zM87 631.9h1.9v8.2h-1.9zM59.3 640h1.9v8.2h-1.9zM74.1 648.2h1.9v8.2h-1.9zM83.3 648.2h1.9v8.2h-1.9zM92.6 648.2h1.9v8.2h-1.9zM53.7 656.4h1.9v8.2h-1.9zM59.3 656.4h1.9v8.2h-1.9zM59.3 664.5h1.9v8.2h-1.9zM68.5 664.5h1.9v8.2h-1.9zM61.1 672.7h1.9v8.2h-1.9zM70.4 672.7h1.9v8.2h-1.9zM75.9 672.7h1.9v8.2h-1.9zM81.5 672.7h1.9v8.2h-1.9zM85.2 672.7h1.9v8.2h-1.9zM92.6 672.7h1.9v8.2h-1.9zM94.5 672.7h1.9v8.2h-1.9zM59.3 680.9h1.9v8.2h-1.9zM77.8 680.9h1.9v8.2h-1.9zM85.2 680.9h1.9v8.2h-1.9zM88.9 680.9h1.9v8.2h-1.9zM92.6 689.1h1.9v8.2h-1.9zM130.4 591h1.9v8.2h-1.9zM136 591h1.9v8.2h-1.9zM134.1 599.2h1.9v8.2h-1.9zM134.1 607.3h1.9v8.2h-1.9zM102.6 615.5h1.9v8.2h-1.9zM136 615.5h1.9v8.2h-1.9zM139.7 615.5h1.9v8.2h-1.9zM104.5 623.7h1.9v8.2h-1.9zM132.3 623.7h1.9v8.2h-1.9zM128.6 640h1.9v8.2h-1.9zM130.4 640h1.9v8.2h-1.9zM136 640h1.9v8.2h-1.9zM98.9 656.4h1.9v8.2h-1.9zM108.2 656.4h1.9v8.2h-1.9zM126.7 656.4h1.9v8.2h-1.9zM139.7 656.4h1.9v8.2h-1.9zM126.7 664.5h1.9v8.2h-1.9zM137.8 664.5h1.9v8.2h-1.9zM102.6 672.7h1.9v8.2h-1.9zM139.7 672.7h1.9v8.2h-1.9zM102.6 680.9h1.9v8.2h-1.9zM130.4 680.9h1.9v8.2h-1.9zM134.1 680.9h1.9v8.2h-1.9zM134.1 689.1h1.9v8.2h-1.9zM136 689.1h1.9v8.2h-1.9zM108.2 697.2h1.9v8.2h-1.9zM124.9 697.2h1.9v8.2h-1.9zM168.2 591h1.9v8.2h-1.9zM179.3 591h1.9v8.2h-1.9zM149.7 599.2h1.9v8.2h-1.9zM151.5 599.2h1.9v8.2h-1.9zM168.2 599.2h1.9v8.2h-1.9zM171.9 599.2h1.9v8.2h-1.9zM179.3 599.2h1.9v8.2h-1.9zM144.1 631.9h1.9v8.2h-1.9zM147.8 631.9h1.9v8.2h-1.9zM175.6 631.9h1.9v8.2h-1.9zM177.5 631.9h1.9v8.2h-1.9zM181.2 631.9h1.9v8.2h-1.9zM184.9 648.2h1.9v8.2h-1.9zM147.8 656.4h1.9v8.2h-1.9zM160.8 664.5h1.9v8.2h-1.9zM168.2 664.5h1.9v8.2h-1.9zM147.8 672.7h1.9v8.2h-1.9zM149.7 672.7h1.9v8.2h-1.9zM153.4 672.7h1.9v8.2h-1.9zM175.6 680.9h1.9v8.2h-1.9zM184.9 680.9h1.9v8.2h-1.9zM183 689.1h1.9v8.2h-1.9zM144.1 697.2h1.9v8.2h-1.9zM147.8 697.2h1.9v8.2h-1.9zM217.1 591h1.9v8.2h-1.9zM193 599.2h1.9v8.2h-1.9zM228.2 599.2h1.9v8.2h-1.9zM191.2 607.3h1.9v8.2h-1.9zM198.6 607.3h1.9v8.2h-1.9zM191.2 615.5h1.9v8.2h-1.9zM198.6 615.5h1.9v8.2h-1.9zM228.2 615.5h1.9v8.2h-1.9zM194.9 623.7h1.9v8.2h-1.9zM198.6 623.7h1.9v8.2h-1.9zM220.8 623.7h1.9v8.2h-1.9zM226.4 623.7h1.9v8.2h-1.9zM217.1 631.9h1.9v8.2h-1.9zM194.9 640h1.9v8.2h-1.9zM207.9 648.2h1.9v8.2h-1.9zM219 648.2h1.9v8.2h-1.9zM211.6 656.4h1.9v8.2h-1.9zM213.4 656.4h1.9v8.2h-1.9zM222.7 656.4h1.9v8.2h-1.9zM220.8 664.5h1.9v8.2h-1.9zM219 689.1h1.9v8.2h-1.9zM193 697.2h1.9v8.2h-1.9zM219 697.2h1.9v8.2h-1.9zM236.4 591h1.9v8.2h-1.9zM271.6 591h1.9v8.2h-1.9zM269.7 607.3h1.9v8.2h-1.9zM275.3 615.5h1.9v8.2h-1.9zM267.9 623.7h1.9v8.2h-1.9zM236.4 631.9h1.9v8.2h-1.9zM249.4 631.9h1.9v8.2h-1.9zM254.9 640h1.9v8.2h-1.9zM266 640h1.9v8.2h-1.9zM245.7 648.2h1.9v8.2h-1.9zM269.7 648.2h1.9v8.2h-1.9zM267.9 656.4h1.9v8.2h-1.9zM273.4 656.4h1.9v8.2h-1.9zM251.2 664.5h1.9v8.2h-1.9zM262.3 664.5h1.9v8.2h-1.9zM267.9 664.5h1.9v8.2h-1.9zM273.4 664.5h1.9v8.2h-1.9zM238.3 672.7h1.9v8.2h-1.9zM251.2 672.7h1.9v8.2h-1.9zM260.5 672.7h1.9v8.2h-1.9zM262.3 672.7h1.9v8.2h-1.9zM238.3 680.9h1.9v8.2h-1.9zM251.2 680.9h1.9v8.2h-1.9zM258.6 680.9h1.9v8.2h-1.9zM234.6 689.1h1.9v8.2h-1.9zM267.9 689.1h1.9v8.2h-1.9zM271.6 689.1h1.9v8.2h-1.9zM251.2 697.2h1.9v8.2h-1.9zM267.9 697.2h1.9v8.2h-1.9zM320.5 591h1.9v8.2h-1.9zM285.3 599.2h1.9v8.2h-1.9zM290.9 599.2h1.9v8.2h-1.9zM285.3 607.3h1.9v8.2h-1.9zM307.5 607.3h1.9v8.2h-1.9zM313.1 607.3h1.9v8.2h-1.9zM292.7 615.5h1.9v8.2h-1.9zM289 623.7h1.9v8.2h-1.9zM311.2 623.7h1.9v8.2h-1.9zM320.5 631.9h1.9v8.2h-1.9zM281.6 640h1.9v8.2h-1.9zM313.1 640h1.9v8.2h-1.9zM318.7 640h1.9v8.2h-1.9zM296.4 656.4h1.9v8.2h-1.9zM316.8 656.4h1.9v8.2h-1.9zM309.4 664.5h1.9v8.2h-1.9zM320.5 664.5h1.9v8.2h-1.9zM302 672.7h1.9v8.2h-1.9zM318.7 672.7h1.9v8.2h-1.9zM285.3 689.1h1.9v8.2h-1.9zM334.2 591h1.9v8.2h-1.9zM349 591h1.9v8.2h-1.9zM345.3 599.2h1.9v8.2h-1.9zM354.6 599.2h1.9v8.2h-1.9zM325 607.3h1.9v8.2h-1.9zM358.3 607.3h1.9v8.2h-1.9zM362 607.3h1.9v8.2h-1.9zM328.7 615.5h1.9v8.2h-1.9zM347.2 623.7h1.9v8.2h-1.9zM350.9 631.9h1.9v8.2h-1.9zM362 631.9h1.9v8.2h-1.9zM363.9 631.9h1.9v8.2h-1.9zM345.3 640h1.9v8.2h-1.9zM363.9 640h1.9v8.2h-1.9zM337.9 648.2h1.9v8.2h-1.9zM336.1 656.4h1.9v8.2h-1.9zM347.2 656.4h1.9v8.2h-1.9zM343.5 664.5h1.9v8.2h-1.9zM356.5 664.5h1.9v8.2h-1.9zM328.7 672.7h1.9v8.2h-1.9zM349 672.7h1.9v8.2h-1.9zM360.2 672.7h1.9v8.2h-1.9zM365.7 672.7h1.9v8.2h-1.9zM326.8 680.9h1.9v8.2h-1.9zM332.4 680.9h1.9v8.2h-1.9zM356.5 680.9h1.9v8.2h-1.9zM328.7 689.1h1.9v8.2h-1.9zM332.4 689.1h1.9v8.2h-1.9zM347.2 689.1h1.9v8.2h-1.9zM349 689.1h1.9v8.2h-1.9zM399.8 607.3h1.9v8.2h-1.9zM396.1 615.5h1.9v8.2h-1.9zM409.1 615.5h1.9v8.2h-1.9zM410.9 615.5h1.9v8.2h-1.9zM388.7 623.7h1.9v8.2h-1.9zM410.9 623.7h1.9v8.2h-1.9zM372 631.9h1.9v8.2h-1.9zM379.4 631.9h1.9v8.2h-1.9zM407.2 640h1.9v8.2h-1.9zM409.1 656.4h1.9v8.2h-1.9zM403.5 664.5h1.9v8.2h-1.9zM385 680.9h1.9v8.2h-1.9zM410.9 689.1h1.9v8.2h-1.9zM439.5 591h1.9v8.2h-1.9zM415.4 599.2h1.9v8.2h-1.9zM445 599.2h1.9v8.2h-1.9zM417.2 607.3h1.9v8.2h-1.9zM433.9 615.5h1.9v8.2h-1.9zM446.9 615.5h1.9v8.2h-1.9zM426.5 623.7h1.9v8.2h-1.9zM430.2 623.7h1.9v8.2h-1.9zM419.1 631.9h1.9v8.2h-1.9zM432.1 631.9h1.9v8.2h-1.9zM435.8 631.9h1.9v8.2h-1.9zM448.7 631.9h1.9v8.2h-1.9zM456.1 631.9h1.9v8.2h-1.9zM417.2 640h1.9v8.2h-1.9zM422.8 640h1.9v8.2h-1.9zM426.5 640h1.9v8.2h-1.9zM443.2 640h1.9v8.2h-1.9zM430.2 648.2h1.9v8.2h-1.9zM435.8 664.5h1.9v8.2h-1.9zM441.3 664.5h1.9v8.2h-1.9zM443.2 664.5h1.9v8.2h-1.9zM445 664.5h1.9v8.2h-1.9zM452.4 664.5h1.9v8.2h-1.9zM415.4 672.7h1.9v8.2h-1.9zM420.9 672.7h1.9v8.2h-1.9zM424.7 672.7h1.9v8.2h-1.9zM435.8 672.7h1.9v8.2h-1.9zM443.2 672.7h1.9v8.2h-1.9zM445 672.7h1.9v8.2h-1.9zM415.4 680.9h1.9v8.2h-1.9zM420.9 680.9h1.9v8.2h-1.9zM422.8 680.9h1.9v8.2h-1.9zM428.4 680.9h1.9v8.2h-1.9zM433.9 680.9h1.9v8.2h-1.9zM439.5 680.9h1.9v8.2h-1.9zM417.2 689.1h1.9v8.2h-1.9zM433.9 689.1h1.9v8.2h-1.9zM452.4 689.1h1.9v8.2h-1.9zM420.9 697.2h1.9v8.2h-1.9zM482.8 591h1.9v8.2h-1.9zM486.5 591h1.9v8.2h-1.9zM495.8 599.2h1.9v8.2h-1.9zM462.5 607.3h1.9v8.2h-1.9zM499.5 607.3h1.9v8.2h-1.9zM479.1 615.5h1.9v8.2h-1.9zM469.9 623.7h1.9v8.2h-1.9zM473.6 623.7h1.9v8.2h-1.9zM497.6 623.7h1.9v8.2h-1.9zM499.5 623.7h1.9v8.2h-1.9zM469.9 631.9h1.9v8.2h-1.9zM484.7 631.9h1.9v8.2h-1.9zM492.1 631.9h1.9v8.2h-1.9zM475.4 640h1.9v8.2h-1.9zM486.5 640h1.9v8.2h-1.9zM464.3 648.2h1.9v8.2h-1.9zM477.3 648.2h1.9v8.2h-1.9zM501.3 648.2h1.9v8.2h-1.9zM495.8 664.5h1.9v8.2h-1.9zM469.9 672.7h1.9v8.2h-1.9zM497.6 672.7h1.9v8.2h-1.9zM499.5 672.7h1.9v8.2h-1.9zM477.3 689.1h1.9v8.2h-1.9zM497.6 689.1h1.9v8.2h-1.9zM468 697.2h1.9v8.2h-1.9zM488.4 697.2h1.9v8.2h-1.9zM528 591h1.9v8.2h-1.9zM513.2 599.2h1.9v8.2h-1.9zM528 599.2h1.9v8.2h-1.9zM524.3 615.5h1.9v8.2h-1.9zM526.2 615.5h1.9v8.2h-1.9zM516.9 623.7h1.9v8.2h-1.9zM539.1 623.7h1.9v8.2h-1.9zM542.9 623.7h1.9v8.2h-1.9zM509.5 640h1.9v8.2h-1.9zM505.8 648.2h1.9v8.2h-1.9zM529.9 648.2h1.9v8.2h-1.9zM537.3 648.2h1.9v8.2h-1.9zM509.5 656.4h1.9v8.2h-1.9zM526.2 656.4h1.9v8.2h-1.9zM546.6 656.4h1.9v8.2h-1.9zM524.3 664.5h1.9v8.2h-1.9zM515.1 672.7h1.9v8.2h-1.9zM516.9 672.7h1.9v8.2h-1.9zM528 672.7h1.9v8.2h-1.9zM529.9 672.7h1.9v8.2h-1.9zM529.9 680.9h1.9v8.2h-1.9zM542.9 680.9h1.9v8.2h-1.9zM528 689.1h1.9v8.2h-1.9zM515.1 697.2h1.9v8.2h-1.9zM516.9 697.2h1.9v8.2h-1.9zM524.3 697.2h1.9v8.2h-1.9zM539.1 697.2h1.9v8.2h-1.9zM571.4 591h1.9v8.2h-1.9zM573.2 607.3h1.9v8.2h-1.9zM562.1 615.5h1.9v8.2h-1.9zM573.2 631.9h1.9v8.2h-1.9zM580.7 631.9h1.9v8.2h-1.9zM584.4 631.9h1.9v8.2h-1.9zM591.8 631.9h1.9v8.2h-1.9zM556.6 640h1.9v8.2h-1.9zM562.1 640h1.9v8.2h-1.9zM556.6 648.2h1.9v8.2h-1.9zM575.1 648.2h1.9v8.2h-1.9zM584.4 648.2h1.9v8.2h-1.9zM551 656.4h1.9v8.2h-1.9zM560.3 656.4h1.9v8.2h-1.9zM564 656.4h1.9v8.2h-1.9zM582.5 656.4h1.9v8.2h-1.9zM551 664.5h1.9v8.2h-1.9zM556.6 664.5h1.9v8.2h-1.9zM562.1 664.5h1.9v8.2h-1.9zM578.8 664.5h1.9v8.2h-1.9zM582.5 664.5h1.9v8.2h-1.9zM575.1 672.7h1.9v8.2h-1.9zM556.6 680.9h1.9v8.2h-1.9zM569.5 680.9h1.9v8.2h-1.9zM582.5 680.9h1.9v8.2h-1.9zM567.7 689.1h1.9v8.2h-1.9zM584.4 689.1h1.9v8.2h-1.9zM591.8 689.1h1.9v8.2h-1.9zM633.3 591h1.9v8.2h-1.9zM603.6 599.2h1.9v8.2h-1.9zM631.4 607.3h1.9v8.2h-1.9zM603.6 615.5h1.9v8.2h-1.9zM635.1 615.5h1.9v8.2h-1.9zM596.2 623.7h1.9v8.2h-1.9zM609.2 631.9h1.9v8.2h-1.9zM637 631.9h1.9v8.2h-1.9zM599.9 640h1.9v8.2h-1.9zM618.5 640h1.9v8.2h-1.9zM618.5 648.2h1.9v8.2h-1.9zM622.2 648.2h1.9v8.2h-1.9zM625.9 648.2h1.9v8.2h-1.9zM598.1 672.7h1.9v8.2h-1.9zM609.2 672.7h1.9v8.2h-1.9zM633.3 672.7h1.9v8.2h-1.9zM607.3 680.9h1.9v8.2h-1.9zM601.8 689.1h1.9v8.2h-1.9zM612.9 689.1h1.9v8.2h-1.9zM614.8 689.1h1.9v8.2h-1.9zM629.6 689.1h1.9v8.2h-1.9zM609.2 697.2h1.9v8.2h-1.9zM614.8 697.2h1.9v8.2h-1.9zM618.5 697.2h1.9v8.2h-1.9zM622.2 697.2h1.9v8.2h-1.9zM635.1 697.2h1.9v8.2h-1.9z"/><path fill="#f3cfcd" d="M17.8 591h1.9v8.2h-1.9zM43.7 591h1.9v8.2h-1.9zM47.4 591h1.9v8.2h-1.9zM43.7 607.3h1.9v8.2h-1.9zM36.3 623.7h1.9v8.2h-1.9zM17.8 656.4h1.9v8.2h-1.9zM28.9 656.4h1.9v8.2h-1.9zM12.2 664.5h1.9v8.2h-1.9zM17.8 664.5h1.9v8.2h-1.9zM41.8 664.5h1.9v8.2h-1.9zM47.4 664.5h1.9v8.2h-1.9zM21.5 680.9h1.9v8.2h-1.9zM28.9 680.9h1.9v8.2h-1.9zM25.2 689.1h1.9v8.2h-1.9zM27 689.1h1.9v8.2h-1.9zM32.6 689.1h1.9v8.2h-1.9zM41.8 689.1h1.9v8.2h-1.9zM53.7 591h1.9v8.2h-1.9zM87 591h1.9v8.2h-1.9zM92.6 591h1.9v8.2h-1.9zM94.5 591h1.9v8.2h-1.9zM88.9 599.2h1.9v8.2h-1.9zM61.1 615.5h1.9v8.2h-1.9zM66.7 615.5h1.9v8.2h-1.9zM87 615.5h1.9v8.2h-1.9zM92.6 615.5h1.9v8.2h-1.9zM94.5 615.5h1.9v8.2h-1.9zM72.2 623.7h1.9v8.2h-1.9zM87 623.7h1.9v8.2h-1.9zM92.6 631.9h1.9v8.2h-1.9zM74.1 640h1.9v8.2h-1.9zM79.6 640h1.9v8.2h-1.9zM53.7 648.2h1.9v8.2h-1.9zM53.7 664.5h1.9v8.2h-1.9zM77.8 664.5h1.9v8.2h-1.9zM83.3 664.5h1.9v8.2h-1.9zM87 664.5h1.9v8.2h-1.9zM88.9 672.7h1.9v8.2h-1.9zM79.6 680.9h1.9v8.2h-1.9zM108.2 591h1.9v8.2h-1.9zM102.6 599.2h1.9v8.2h-1.9zM130.4 607.3h1.9v8.2h-1.9zM126.7 623.7h1.9v8.2h-1.9zM130.4 623.7h1.9v8.2h-1.9zM124.9 631.9h1.9v8.2h-1.9zM136 631.9h1.9v8.2h-1.9zM123 648.2h1.9v8.2h-1.9zM134.1 648.2h1.9v8.2h-1.9zM134.1 656.4h1.9v8.2h-1.9zM100.8 664.5h1.9v8.2h-1.9zM128.6 664.5h1.9v8.2h-1.9zM132.3 664.5h1.9v8.2h-1.9zM134.1 664.5h1.9v8.2h-1.9zM136 664.5h1.9v8.2h-1.9zM128.6 689.1h1.9v8.2h-1.9zM113.7 697.2h1.9v8.2h-1.9zM121.1 697.2h1.9v8.2h-1.9zM123 697.2h1.9v8.2h-1.9zM160.8 591h1.9v8.2h-1.9zM183 591h1.9v8.2h-1.9zM155.2 599.2h1.9v8.2h-1.9zM162.7 607.3h1.9v8.2h-1.9zM168.2 607.3h1.9v8.2h-1.9zM181.2 623.7h1.9v8.2h-1.9zM146 631.9h1.9v8.2h-1.9zM157.1 631.9h1.9v8.2h-1.9zM183 631.9h1.9v8.2h-1.9zM149.7 640h1.9v8.2h-1.9zM157.1 648.2h1.9v8.2h-1.9zM160.8 648.2h1.9v8.2h-1.9zM162.7 648.2h1.9v8.2h-1.9zM166.4 648.2h1.9v8.2h-1.9zM146 656.4h1.9v8.2h-1.9zM151.5 656.4h1.9v8.2h-1.9zM157.1 656.4h1.9v8.2h-1.9zM168.2 656.4h1.9v8.2h-1.9zM173.8 656.4h1.9v8.2h-1.9zM175.6 656.4h1.9v8.2h-1.9zM166.4 664.5h1.9v8.2h-1.9zM181.2 664.5h1.9v8.2h-1.9zM158.9 672.7h1.9v8.2h-1.9zM157.1 680.9h1.9v8.2h-1.9zM166.4 680.9h1.9v8.2h-1.9zM158.9 689.1h1.9v8.2h-1.9zM177.5 689.1h1.9v8.2h-1.9zM181.2 689.1h1.9v8.2h-1.9zM158.9 697.2h1.9v8.2h-1.9zM193 591h1.9v8.2h-1.9zM196.7 591h1.9v8.2h-1.9zM198.6 599.2h1.9v8.2h-1.9zM209.7 599.2h1.9v8.2h-1.9zM189.3 615.5h1.9v8.2h-1.9zM191.2 623.7h1.9v8.2h-1.9zM207.9 623.7h1.9v8.2h-1.9zM219 631.9h1.9v8.2h-1.9zM222.7 631.9h1.9v8.2h-1.9zM196.7 640h1.9v8.2h-1.9zM200.5 648.2h1.9v8.2h-1.9zM222.7 648.2h1.9v8.2h-1.9zM196.7 664.5h1.9v8.2h-1.9zM215.3 664.5h1.9v8.2h-1.9zM219 664.5h1.9v8.2h-1.9zM209.7 672.7h1.9v8.2h-1.9zM220.8 672.7h1.9v8.2h-1.9zM193 680.9h1.9v8.2h-1.9zM224.5 680.9h1.9v8.2h-1.9zM209.7 689.1h1.9v8.2h-1.9zM211.6 689.1h1.9v8.2h-1.9zM202.3 697.2h1.9v8.2h-1.9zM209.7 697.2h1.9v8.2h-1.9zM220.8 697.2h1.9v8.2h-1.9zM242 591h1.9v8.2h-1.9zM242 599.2h1.9v8.2h-1.9zM273.4 599.2h1.9v8.2h-1.9zM242 607.3h1.9v8.2h-1.9zM262.3 607.3h1.9v8.2h-1.9zM266 607.3h1.9v8.2h-1.9zM236.4 615.5h1.9v8.2h-1.9zM240.1 615.5h1.9v8.2h-1.9zM251.2 615.5h1.9v8.2h-1.9zM266 615.5h1.9v8.2h-1.9zM240.1 623.7h1.9v8.2h-1.9zM249.4 623.7h1.9v8.2h-1.9zM269.7 623.7h1.9v8.2h-1.9zM253.1 631.9h1.9v8.2h-1.9zM273.4 631.9h1.9v8.2h-1.9zM249.4 640h1.9v8.2h-1.9zM273.4 640h1.9v8.2h-1.9zM256.8 648.2h1.9v8.2h-1.9zM240.1 656.4h1.9v8.2h-1.9zM258.6 656.4h1.9v8.2h-1.9zM269.7 656.4h1.9v8.2h-1.9zM240.1 664.5h1.9v8.2h-1.9zM264.2 664.5h1.9v8.2h-1.9zM236.4 672.7h1.9v8.2h-1.9zM258.6 672.7h1.9v8.2h-1.9zM267.9 672.7h1.9v8.2h-1.9zM236.4 680.9h1.9v8.2h-1.9zM249.4 680.9h1.9v8.2h-1.9zM249.4 689.1h1.9v8.2h-1.9zM266 689.1h1.9v8.2h-1.9zM275.3 697.2h1.9v8.2h-1.9zM303.8 591h1.9v8.2h-1.9zM320.5 599.2h1.9v8.2h-1.9zM303.8 607.3h1.9v8.2h-1.9zM309.4 615.5h1.9v8.2h-1.9zM311.2 615.5h1.9v8.2h-1.9zM320.5 615.5h1.9v8.2h-1.9zM303.8 623.7h1.9v8.2h-1.9zM290.9 631.9h1.9v8.2h-1.9zM296.4 631.9h1.9v8.2h-1.9zM316.8 631.9h1.9v8.2h-1.9zM307.5 640h1.9v8.2h-1.9zM320.5 648.2h1.9v8.2h-1.9zM285.3 656.4h1.9v8.2h-1.9zM309.4 656.4h1.9v8.2h-1.9zM296.4 664.5h1.9v8.2h-1.9zM309.4 672.7h1.9v8.2h-1.9zM316.8 680.9h1.9v8.2h-1.9zM305.7 689.1h1.9v8.2h-1.9zM320.5 689.1h1.9v8.2h-1.9zM363.9 591h1.9v8.2h-1.9zM326.8 599.2h1.9v8.2h-1.9zM330.5 599.2h1.9v8.2h-1.9zM345.3 615.5h1.9v8.2h-1.9zM347.2 615.5h1.9v8.2h-1.9zM334.2 623.7h1.9v8.2h-1.9zM326.8 640h1.9v8.2h-1.9zM349 640h1.9v8.2h-1.9zM352.8 640h1.9v8.2h-1.9zM328.7 648.2h1.9v8.2h-1.9zM336.1 648.2h1.9v8.2h-1.9zM362 648.2h1.9v8.2h-1.9zM330.5 656.4h1.9v8.2h-1.9zM332.4 656.4h1.9v8.2h-1.9zM337.9 656.4h1.9v8.2h-1.9zM341.6 664.5h1.9v8.2h-1.9zM334.2 680.9h1.9v8.2h-1.9zM354.6 680.9h1.9v8.2h-1.9zM337.9 689.1h1.9v8.2h-1.9zM392.4 591h1.9v8.2h-1.9zM399.8 591h1.9v8.2h-1.9zM373.9 599.2h1.9v8.2h-1.9zM386.8 599.2h1.9v8.2h-1.9zM392.4 599.2h1.9v8.2h-1.9zM394.3 599.2h1.9v8.2h-1.9zM399.8 599.2h1.9v8.2h-1.9zM405.4 599.2h1.9v8.2h-1.9zM372 607.3h1.9v8.2h-1.9zM394.3 607.3h1.9v8.2h-1.9zM372 615.5h1.9v8.2h-1.9zM379.4 615.5h1.9v8.2h-1.9zM405.4 615.5h1.9v8.2h-1.9zM383.1 623.7h1.9v8.2h-1.9zM403.5 623.7h1.9v8.2h-1.9zM409.1 623.7h1.9v8.2h-1.9zM370.2 631.9h1.9v8.2h-1.9zM386.8 631.9h1.9v8.2h-1.9zM405.4 631.9h1.9v8.2h-1.9zM370.2 664.5h1.9v8.2h-1.9zM372 664.5h1.9v8.2h-1.9zM388.7 664.5h1.9v8.2h-1.9zM377.6 672.7h1.9v8.2h-1.9zM399.8 680.9h1.9v8.2h-1.9zM403.5 680.9h1.9v8.2h-1.9zM420.9 591h1.9v8.2h-1.9zM424.7 591h1.9v8.2h-1.9zM443.2 591h1.9v8.2h-1.9zM443.2 599.2h1.9v8.2h-1.9zM435.8 615.5h1.9v8.2h-1.9zM439.5 615.5h1.9v8.2h-1.9zM433.9 623.7h1.9v8.2h-1.9zM435.8 623.7h1.9v8.2h-1.9zM437.6 623.7h1.9v8.2h-1.9zM437.6 631.9h1.9v8.2h-1.9zM439.5 631.9h1.9v8.2h-1.9zM441.3 631.9h1.9v8.2h-1.9zM420.9 640h1.9v8.2h-1.9zM441.3 640h1.9v8.2h-1.9zM419.1 648.2h1.9v8.2h-1.9zM428.4 648.2h1.9v8.2h-1.9zM445 648.2h1.9v8.2h-1.9zM441.3 656.4h1.9v8.2h-1.9zM419.1 664.5h1.9v8.2h-1.9zM420.9 664.5h1.9v8.2h-1.9zM419.1 672.7h1.9v8.2h-1.9zM433.9 672.7h1.9v8.2h-1.9zM441.3 672.7h1.9v8.2h-1.9zM426.5 680.9h1.9v8.2h-1.9zM437.6 689.1h1.9v8.2h-1.9zM445 697.2h1.9v8.2h-1.9zM468 591h1.9v8.2h-1.9zM484.7 599.2h1.9v8.2h-1.9zM492.1 599.2h1.9v8.2h-1.9zM464.3 623.7h1.9v8.2h-1.9zM462.5 631.9h1.9v8.2h-1.9zM486.5 631.9h1.9v8.2h-1.9zM473.6 656.4h1.9v8.2h-1.9zM486.5 656.4h1.9v8.2h-1.9zM460.6 664.5h1.9v8.2h-1.9zM466.2 664.5h1.9v8.2h-1.9zM477.3 664.5h1.9v8.2h-1.9zM479.1 664.5h1.9v8.2h-1.9zM464.3 672.7h1.9v8.2h-1.9zM477.3 672.7h1.9v8.2h-1.9zM490.2 672.7h1.9v8.2h-1.9zM486.5 680.9h1.9v8.2h-1.9zM499.5 680.9h1.9v8.2h-1.9zM462.5 689.1h1.9v8.2h-1.9zM473.6 689.1h1.9v8.2h-1.9zM464.3 697.2h1.9v8.2h-1.9zM482.8 697.2h1.9v8.2h-1.9zM495.8 697.2h1.9v8.2h-1.9zM511.4 591h1.9v8.2h-1.9zM544.7 591h1.9v8.2h-1.9zM533.6 599.2h1.9v8.2h-1.9zM518.8 607.3h1.9v8.2h-1.9zM509.5 623.7h1.9v8.2h-1.9zM546.6 623.7h1.9v8.2h-1.9zM535.4 631.9h1.9v8.2h-1.9zM533.6 640h1.9v8.2h-1.9zM541 640h1.9v8.2h-1.9zM546.6 640h1.9v8.2h-1.9zM520.6 656.4h1.9v8.2h-1.9zM522.5 664.5h1.9v8.2h-1.9zM526.2 664.5h1.9v8.2h-1.9zM513.2 672.7h1.9v8.2h-1.9zM524.3 672.7h1.9v8.2h-1.9zM541 672.7h1.9v8.2h-1.9zM537.3 680.9h1.9v8.2h-1.9zM520.6 697.2h1.9v8.2h-1.9zM556.6 591h1.9v8.2h-1.9zM578.8 591h1.9v8.2h-1.9zM584.4 591h1.9v8.2h-1.9zM558.4 599.2h1.9v8.2h-1.9zM552.9 615.5h1.9v8.2h-1.9zM565.8 615.5h1.9v8.2h-1.9zM573.2 615.5h1.9v8.2h-1.9zM589.9 615.5h1.9v8.2h-1.9zM591.8 615.5h1.9v8.2h-1.9zM552.9 623.7h1.9v8.2h-1.9zM560.3 623.7h1.9v8.2h-1.9zM567.7 623.7h1.9v8.2h-1.9zM573.2 623.7h1.9v8.2h-1.9zM580.7 623.7h1.9v8.2h-1.9zM554.7 631.9h1.9v8.2h-1.9zM571.4 648.2h1.9v8.2h-1.9zM578.8 648.2h1.9v8.2h-1.9zM558.4 656.4h1.9v8.2h-1.9zM567.7 656.4h1.9v8.2h-1.9zM580.7 656.4h1.9v8.2h-1.9zM565.8 664.5h1.9v8.2h-1.9zM588.1 664.5h1.9v8.2h-1.9zM560.3 672.7h1.9v8.2h-1.9zM569.5 672.7h1.9v8.2h-1.9zM584.4 680.9h1.9v8.2h-1.9zM578.8 689.1h1.9v8.2h-1.9zM554.7 697.2h1.9v8.2h-1.9zM577 697.2h1.9v8.2h-1.9zM580.7 697.2h1.9v8.2h-1.9zM582.5 697.2h1.9v8.2h-1.9zM618.5 591h1.9v8.2h-1.9zM598.1 607.3h1.9v8.2h-1.9zM633.3 607.3h1.9v8.2h-1.9zM598.1 631.9h1.9v8.2h-1.9zM614.8 631.9h1.9v8.2h-1.9zM624 631.9h1.9v8.2h-1.9zM635.1 631.9h1.9v8.2h-1.9zM598.1 648.2h1.9v8.2h-1.9zM599.9 648.2h1.9v8.2h-1.9zM603.6 680.9h1.9v8.2h-1.9zM599.9 697.2h1.9v8.2h-1.9zM633.3 697.2h1.9v8.2h-1.9z"/><path fill="#7a1414" d="M19.6 591h1.9v8.2h-1.9zM23.3 591h1.9v8.2h-1.9zM19.6 615.5h1.9v8.2h-1.9zM19.6 623.7h1.9v8.2h-1.9zM121.1 607.3h1.9v8.2h-1.9zM121.1 672.7h1.9v8.2h-1.9zM157.1 623.7h1.9v8.2h-1.9zM336.1 697.2h1.9v8.2h-1.9zM350.9 697.2h1.9v8.2h-1.9zM475.4 599.2h1.9v8.2h-1.9z"/><path fill="#650d0d" d="M21.5 591h1.9v8.2h-1.9zM23.3 631.9h1.9v8.2h-1.9zM110 631.9h1.9v8.2h-1.9zM113.7 664.5h1.9v8.2h-1.9zM119.3 664.5h1.9v8.2h-1.9zM620.3 599.2h1.9v8.2h-1.9z"/><path fill="#c75d5d" d="M25.2 591h1.9v8.2h-1.9zM81.5 607.3h1.9v8.2h-1.9zM77.8 615.5h1.9v8.2h-1.9zM74.1 631.9h1.9v8.2h-1.9zM123 599.2h1.9v8.2h-1.9zM111.9 607.3h1.9v8.2h-1.9zM117.4 615.5h1.9v8.2h-1.9zM126.7 615.5h1.9v8.2h-1.9zM117.4 623.7h1.9v8.2h-1.9zM104.5 648.2h1.9v8.2h-1.9zM160.8 615.5h1.9v8.2h-1.9zM146 640h1.9v8.2h-1.9zM158.9 640h1.9v8.2h-1.9zM220.8 591h1.9v8.2h-1.9zM207.9 631.9h1.9v8.2h-1.9zM213.4 631.9h1.9v8.2h-1.9zM207.9 640h1.9v8.2h-1.9zM245.7 591h1.9v8.2h-1.9zM341.6 640h1.9v8.2h-1.9zM341.6 680.9h1.9v8.2h-1.9zM325 697.2h1.9v8.2h-1.9zM328.7 697.2h1.9v8.2h-1.9zM334.2 697.2h1.9v8.2h-1.9zM339.8 697.2h1.9v8.2h-1.9zM607.3 615.5h1.9v8.2h-1.9z"/><path fill="#dc8685" d="M27 591h1.9v8.2h-1.9zM79.6 615.5h1.9v8.2h-1.9zM124.9 599.2h1.9v8.2h-1.9zM126.7 599.2h1.9v8.2h-1.9zM126.7 697.2h1.9v8.2h-1.9zM181.2 599.2h1.9v8.2h-1.9zM155.2 640h1.9v8.2h-1.9zM173.8 640h1.9v8.2h-1.9zM158.9 648.2h1.9v8.2h-1.9zM144.1 664.5h1.9v8.2h-1.9zM204.2 599.2h1.9v8.2h-1.9zM207.9 607.3h1.9v8.2h-1.9zM213.4 615.5h1.9v8.2h-1.9zM206 623.7h1.9v8.2h-1.9zM200.5 640h1.9v8.2h-1.9zM249.4 599.2h1.9v8.2h-1.9zM251.2 599.2h1.9v8.2h-1.9zM264.2 599.2h1.9v8.2h-1.9zM256.8 689.1h1.9v8.2h-1.9zM305.7 607.3h1.9v8.2h-1.9zM303.8 615.5h1.9v8.2h-1.9zM290.9 697.2h1.9v8.2h-1.9zM326.8 591h1.9v8.2h-1.9zM352.8 615.5h1.9v8.2h-1.9zM339.8 623.7h1.9v8.2h-1.9zM352.8 623.7h1.9v8.2h-1.9zM330.5 648.2h1.9v8.2h-1.9zM337.9 672.7h1.9v8.2h-1.9zM352.8 680.9h1.9v8.2h-1.9zM352.8 689.1h1.9v8.2h-1.9zM392.4 672.7h1.9v8.2h-1.9zM381.3 697.2h1.9v8.2h-1.9zM398 697.2h1.9v8.2h-1.9zM407.2 697.2h1.9v8.2h-1.9zM435.8 607.3h1.9v8.2h-1.9zM424.7 615.5h1.9v8.2h-1.9zM441.3 615.5h1.9v8.2h-1.9zM422.8 689.1h1.9v8.2h-1.9zM428.4 689.1h1.9v8.2h-1.9zM441.3 689.1h1.9v8.2h-1.9zM464.3 599.2h1.9v8.2h-1.9zM501.3 599.2h1.9v8.2h-1.9zM464.3 664.5h1.9v8.2h-1.9zM501.3 680.9h1.9v8.2h-1.9zM515.1 599.2h1.9v8.2h-1.9zM520.6 607.3h1.9v8.2h-1.9zM529.9 640h1.9v8.2h-1.9zM569.5 591h1.9v8.2h-1.9zM575.1 607.3h1.9v8.2h-1.9zM578.8 656.4h1.9v8.2h-1.9zM558.4 689.1h1.9v8.2h-1.9zM588.1 689.1h1.9v8.2h-1.9zM633.3 680.9h1.9v8.2h-1.9z"/><path fill="#f1c5c3" d="M28.9 591h1.9v8.2h-1.9zM36.3 599.2h1.9v8.2h-1.9zM17.8 615.5h1.9v8.2h-1.9zM27 615.5h1.9v8.2h-1.9zM32.6 623.7h1.9v8.2h-1.9zM40 623.7h1.9v8.2h-1.9zM47.4 631.9h1.9v8.2h-1.9zM43.7 640h1.9v8.2h-1.9zM19.6 672.7h1.9v8.2h-1.9zM27 672.7h1.9v8.2h-1.9zM28.9 672.7h1.9v8.2h-1.9zM32.6 672.7h1.9v8.2h-1.9zM40 680.9h1.9v8.2h-1.9zM43.7 680.9h1.9v8.2h-1.9zM21.5 689.1h1.9v8.2h-1.9zM28.9 689.1h1.9v8.2h-1.9zM34.4 689.1h1.9v8.2h-1.9zM43.7 689.1h1.9v8.2h-1.9zM88.9 591h1.9v8.2h-1.9zM81.5 615.5h1.9v8.2h-1.9zM79.6 623.7h1.9v8.2h-1.9zM53.7 631.9h1.9v8.2h-1.9zM79.6 631.9h1.9v8.2h-1.9zM81.5 631.9h1.9v8.2h-1.9zM75.9 640h1.9v8.2h-1.9zM77.8 640h1.9v8.2h-1.9zM94.5 640h1.9v8.2h-1.9zM77.8 656.4h1.9v8.2h-1.9zM92.6 656.4h1.9v8.2h-1.9zM94.5 656.4h1.9v8.2h-1.9zM72.2 664.5h1.9v8.2h-1.9zM85.2 664.5h1.9v8.2h-1.9zM92.6 664.5h1.9v8.2h-1.9zM77.8 672.7h1.9v8.2h-1.9zM72.2 680.9h1.9v8.2h-1.9zM74.1 680.9h1.9v8.2h-1.9zM66.7 689.1h1.9v8.2h-1.9zM74.1 689.1h1.9v8.2h-1.9zM77.8 689.1h1.9v8.2h-1.9zM79.6 689.1h1.9v8.2h-1.9zM81.5 689.1h1.9v8.2h-1.9zM83.3 697.2h1.9v8.2h-1.9zM94.5 697.2h1.9v8.2h-1.9zM102.6 591h1.9v8.2h-1.9zM134.1 615.5h1.9v8.2h-1.9zM124.9 623.7h1.9v8.2h-1.9zM134.1 623.7h1.9v8.2h-1.9zM108.2 631.9h1.9v8.2h-1.9zM132.3 631.9h1.9v8.2h-1.9zM139.7 631.9h1.9v8.2h-1.9zM102.6 648.2h1.9v8.2h-1.9zM132.3 648.2h1.9v8.2h-1.9zM128.6 656.4h1.9v8.2h-1.9zM102.6 664.5h1.9v8.2h-1.9zM123 664.5h1.9v8.2h-1.9zM104.5 672.7h1.9v8.2h-1.9zM98.9 689.1h1.9v8.2h-1.9zM119.3 697.2h1.9v8.2h-1.9zM166.4 591h1.9v8.2h-1.9zM147.8 599.2h1.9v8.2h-1.9zM157.1 599.2h1.9v8.2h-1.9zM162.7 599.2h1.9v8.2h-1.9zM164.5 599.2h1.9v8.2h-1.9zM147.8 607.3h1.9v8.2h-1.9zM181.2 607.3h1.9v8.2h-1.9zM149.7 615.5h1.9v8.2h-1.9zM153.4 615.5h1.9v8.2h-1.9zM164.5 623.7h1.9v8.2h-1.9zM149.7 631.9h1.9v8.2h-1.9zM170.1 631.9h1.9v8.2h-1.9zM160.8 640h1.9v8.2h-1.9zM175.6 648.2h1.9v8.2h-1.9zM153.4 656.4h1.9v8.2h-1.9zM160.8 656.4h1.9v8.2h-1.9zM177.5 656.4h1.9v8.2h-1.9zM184.9 656.4h1.9v8.2h-1.9zM146 664.5h1.9v8.2h-1.9zM151.5 664.5h1.9v8.2h-1.9zM170.1 664.5h1.9v8.2h-1.9zM175.6 664.5h1.9v8.2h-1.9zM179.3 664.5h1.9v8.2h-1.9zM184.9 664.5h1.9v8.2h-1.9zM173.8 672.7h1.9v8.2h-1.9zM144.1 680.9h1.9v8.2h-1.9zM147.8 680.9h1.9v8.2h-1.9zM162.7 680.9h1.9v8.2h-1.9zM146 689.1h1.9v8.2h-1.9zM160.8 689.1h1.9v8.2h-1.9zM155.2 697.2h1.9v8.2h-1.9zM162.7 697.2h1.9v8.2h-1.9zM191.2 591h1.9v8.2h-1.9zM198.6 591h1.9v8.2h-1.9zM196.7 607.3h1.9v8.2h-1.9zM224.5 607.3h1.9v8.2h-1.9zM226.4 607.3h1.9v8.2h-1.9zM198.6 631.9h1.9v8.2h-1.9zM215.3 648.2h1.9v8.2h-1.9zM220.8 648.2h1.9v8.2h-1.9zM196.7 656.4h1.9v8.2h-1.9zM200.5 664.5h1.9v8.2h-1.9zM222.7 664.5h1.9v8.2h-1.9zM211.6 672.7h1.9v8.2h-1.9zM219 672.7h1.9v8.2h-1.9zM222.7 672.7h1.9v8.2h-1.9zM228.2 672.7h1.9v8.2h-1.9zM215.3 680.9h1.9v8.2h-1.9zM200.5 689.1h1.9v8.2h-1.9zM196.7 697.2h1.9v8.2h-1.9zM243.8 591h1.9v8.2h-1.9zM273.4 591h1.9v8.2h-1.9zM243.8 623.7h1.9v8.2h-1.9zM253.1 640h1.9v8.2h-1.9zM256.8 640h1.9v8.2h-1.9zM258.6 640h1.9v8.2h-1.9zM260.5 648.2h1.9v8.2h-1.9zM234.6 664.5h1.9v8.2h-1.9zM242 664.5h1.9v8.2h-1.9zM269.7 664.5h1.9v8.2h-1.9zM275.3 664.5h1.9v8.2h-1.9zM240.1 672.7h1.9v8.2h-1.9zM243.8 672.7h1.9v8.2h-1.9zM264.2 672.7h1.9v8.2h-1.9zM242 680.9h1.9v8.2h-1.9zM236.4 689.1h1.9v8.2h-1.9zM238.3 689.1h1.9v8.2h-1.9zM253.1 689.1h1.9v8.2h-1.9zM264.2 689.1h1.9v8.2h-1.9zM273.4 689.1h1.9v8.2h-1.9zM243.8 697.2h1.9v8.2h-1.9zM281.6 607.3h1.9v8.2h-1.9zM283.5 607.3h1.9v8.2h-1.9zM287.2 615.5h1.9v8.2h-1.9zM298.3 615.5h1.9v8.2h-1.9zM302 615.5h1.9v8.2h-1.9zM320.5 623.7h1.9v8.2h-1.9zM281.6 631.9h1.9v8.2h-1.9zM303.8 631.9h1.9v8.2h-1.9zM305.7 631.9h1.9v8.2h-1.9zM307.5 631.9h1.9v8.2h-1.9zM287.2 648.2h1.9v8.2h-1.9zM296.4 648.2h1.9v8.2h-1.9zM309.4 648.2h1.9v8.2h-1.9zM294.6 656.4h1.9v8.2h-1.9zM320.5 656.4h1.9v8.2h-1.9zM290.9 672.7h1.9v8.2h-1.9zM292.7 672.7h1.9v8.2h-1.9zM303.8 672.7h1.9v8.2h-1.9zM283.5 680.9h1.9v8.2h-1.9zM298.3 680.9h1.9v8.2h-1.9zM330.5 591h1.9v8.2h-1.9zM352.8 607.3h1.9v8.2h-1.9zM363.9 607.3h1.9v8.2h-1.9zM354.6 615.5h1.9v8.2h-1.9zM362 615.5h1.9v8.2h-1.9zM330.5 631.9h1.9v8.2h-1.9zM341.6 648.2h1.9v8.2h-1.9zM363.9 656.4h1.9v8.2h-1.9zM332.4 664.5h1.9v8.2h-1.9zM363.9 664.5h1.9v8.2h-1.9zM326.8 672.7h1.9v8.2h-1.9zM352.8 672.7h1.9v8.2h-1.9zM330.5 680.9h1.9v8.2h-1.9zM337.9 680.9h1.9v8.2h-1.9zM330.5 689.1h1.9v8.2h-1.9zM336.1 689.1h1.9v8.2h-1.9zM385 599.2h1.9v8.2h-1.9zM385 607.3h1.9v8.2h-1.9zM398 607.3h1.9v8.2h-1.9zM403.5 607.3h1.9v8.2h-1.9zM377.6 623.7h1.9v8.2h-1.9zM398 623.7h1.9v8.2h-1.9zM385 631.9h1.9v8.2h-1.9zM394.3 672.7h1.9v8.2h-1.9zM410.9 672.7h1.9v8.2h-1.9zM372 689.1h1.9v8.2h-1.9zM377.6 689.1h1.9v8.2h-1.9zM392.4 689.1h1.9v8.2h-1.9zM415.4 591h1.9v8.2h-1.9zM452.4 591h1.9v8.2h-1.9zM426.5 615.5h1.9v8.2h-1.9zM420.9 623.7h1.9v8.2h-1.9zM415.4 631.9h1.9v8.2h-1.9zM415.4 648.2h1.9v8.2h-1.9zM446.9 648.2h1.9v8.2h-1.9zM422.8 656.4h1.9v8.2h-1.9zM443.2 656.4h1.9v8.2h-1.9zM450.6 689.1h1.9v8.2h-1.9zM419.1 697.2h1.9v8.2h-1.9zM443.2 697.2h1.9v8.2h-1.9zM452.4 697.2h1.9v8.2h-1.9zM460.6 599.2h1.9v8.2h-1.9zM490.2 599.2h1.9v8.2h-1.9zM497.6 599.2h1.9v8.2h-1.9zM460.6 607.3h1.9v8.2h-1.9zM469.9 607.3h1.9v8.2h-1.9zM486.5 607.3h1.9v8.2h-1.9zM464.3 615.5h1.9v8.2h-1.9zM466.2 615.5h1.9v8.2h-1.9zM477.3 615.5h1.9v8.2h-1.9zM501.3 615.5h1.9v8.2h-1.9zM466.2 623.7h1.9v8.2h-1.9zM490.2 623.7h1.9v8.2h-1.9zM501.3 623.7h1.9v8.2h-1.9zM466.2 631.9h1.9v8.2h-1.9zM475.4 631.9h1.9v8.2h-1.9zM477.3 631.9h1.9v8.2h-1.9zM490.2 631.9h1.9v8.2h-1.9zM501.3 631.9h1.9v8.2h-1.9zM464.3 656.4h1.9v8.2h-1.9zM490.2 656.4h1.9v8.2h-1.9zM462.5 680.9h1.9v8.2h-1.9zM466.2 680.9h1.9v8.2h-1.9zM477.3 680.9h1.9v8.2h-1.9zM479.1 680.9h1.9v8.2h-1.9zM490.2 680.9h1.9v8.2h-1.9zM497.6 697.2h1.9v8.2h-1.9zM499.5 697.2h1.9v8.2h-1.9zM541 599.2h1.9v8.2h-1.9zM515.1 607.3h1.9v8.2h-1.9zM533.6 615.5h1.9v8.2h-1.9zM513.2 623.7h1.9v8.2h-1.9zM526.2 623.7h1.9v8.2h-1.9zM529.9 623.7h1.9v8.2h-1.9zM544.7 623.7h1.9v8.2h-1.9zM535.4 648.2h1.9v8.2h-1.9zM511.4 664.5h1.9v8.2h-1.9zM533.6 664.5h1.9v8.2h-1.9zM528 680.9h1.9v8.2h-1.9zM529.9 697.2h1.9v8.2h-1.9zM575.1 591h1.9v8.2h-1.9zM588.1 591h1.9v8.2h-1.9zM551 599.2h1.9v8.2h-1.9zM560.3 599.2h1.9v8.2h-1.9zM580.7 607.3h1.9v8.2h-1.9zM584.4 607.3h1.9v8.2h-1.9zM551 623.7h1.9v8.2h-1.9zM564 623.7h1.9v8.2h-1.9zM556.6 631.9h1.9v8.2h-1.9zM575.1 631.9h1.9v8.2h-1.9zM577 631.9h1.9v8.2h-1.9zM552.9 648.2h1.9v8.2h-1.9zM565.8 656.4h1.9v8.2h-1.9zM571.4 664.5h1.9v8.2h-1.9zM556.6 672.7h1.9v8.2h-1.9zM578.8 672.7h1.9v8.2h-1.9zM588.1 672.7h1.9v8.2h-1.9zM589.9 672.7h1.9v8.2h-1.9zM564 689.1h1.9v8.2h-1.9zM556.6 697.2h1.9v8.2h-1.9zM562.1 697.2h1.9v8.2h-1.9zM591.8 697.2h1.9v8.2h-1.9zM598.1 591h1.9v8.2h-1.9zM611 591h1.9v8.2h-1.9zM598.1 599.2h1.9v8.2h-1.9zM620.3 631.9h1.9v8.2h-1.9zM633.3 631.9h1.9v8.2h-1.9zM598.1 656.4h1.9v8.2h-1.9zM620.3 656.4h1.9v8.2h-1.9zM598.1 689.1h1.9v8.2h-1.9zM599.9 689.1h1.9v8.2h-1.9zM620.3 689.1h1.9v8.2h-1.9zM633.3 689.1h1.9v8.2h-1.9z"/><path fill="#e6eaf3" d="M30.7 591h1.9v8.2h-1.9zM8.5 599.2h1.9v8.2h-1.9zM15.9 599.2h1.9v8.2h-1.9zM17.8 599.2h1.9v8.2h-1.9zM28.9 599.2h1.9v8.2h-1.9zM41.8 599.2h1.9v8.2h-1.9zM12.2 607.3h1.9v8.2h-1.9zM34.4 607.3h1.9v8.2h-1.9zM10.4 615.5h1.9v8.2h-1.9zM12.2 615.5h1.9v8.2h-1.9zM30.7 623.7h1.9v8.2h-1.9zM10.4 631.9h1.9v8.2h-1.9zM15.9 631.9h1.9v8.2h-1.9zM30.7 631.9h1.9v8.2h-1.9zM12.2 648.2h1.9v8.2h-1.9zM14.1 648.2h1.9v8.2h-1.9zM41.8 648.2h1.9v8.2h-1.9zM8.5 656.4h1.9v8.2h-1.9zM15.9 656.4h1.9v8.2h-1.9zM49.2 656.4h1.9v8.2h-1.9zM30.7 672.7h1.9v8.2h-1.9zM45.5 672.7h1.9v8.2h-1.9zM15.9 680.9h1.9v8.2h-1.9zM30.7 680.9h1.9v8.2h-1.9zM10.4 689.1h1.9v8.2h-1.9zM49.2 689.1h1.9v8.2h-1.9zM59.3 591h1.9v8.2h-1.9zM64.8 591h1.9v8.2h-1.9zM59.3 599.2h1.9v8.2h-1.9zM63 599.2h1.9v8.2h-1.9zM68.5 599.2h1.9v8.2h-1.9zM92.6 599.2h1.9v8.2h-1.9zM63 607.3h1.9v8.2h-1.9zM68.5 607.3h1.9v8.2h-1.9zM53.7 623.7h1.9v8.2h-1.9zM63 623.7h1.9v8.2h-1.9zM57.4 631.9h1.9v8.2h-1.9zM90.8 648.2h1.9v8.2h-1.9zM64.8 672.7h1.9v8.2h-1.9zM66.7 672.7h1.9v8.2h-1.9zM61.1 680.9h1.9v8.2h-1.9zM57.4 689.1h1.9v8.2h-1.9zM64.8 689.1h1.9v8.2h-1.9zM68.5 689.1h1.9v8.2h-1.9zM53.7 697.2h1.9v8.2h-1.9zM63 697.2h1.9v8.2h-1.9zM85.2 697.2h1.9v8.2h-1.9zM87 697.2h1.9v8.2h-1.9zM100.8 591h1.9v8.2h-1.9zM102.6 607.3h1.9v8.2h-1.9zM108.2 607.3h1.9v8.2h-1.9zM136 607.3h1.9v8.2h-1.9zM102.6 631.9h1.9v8.2h-1.9zM98.9 640h1.9v8.2h-1.9zM139.7 640h1.9v8.2h-1.9zM106.3 648.2h1.9v8.2h-1.9zM108.2 648.2h1.9v8.2h-1.9zM123 656.4h1.9v8.2h-1.9zM124.9 656.4h1.9v8.2h-1.9zM136 656.4h1.9v8.2h-1.9zM108.2 680.9h1.9v8.2h-1.9zM136 680.9h1.9v8.2h-1.9zM126.7 689.1h1.9v8.2h-1.9zM111.9 697.2h1.9v8.2h-1.9zM146 607.3h1.9v8.2h-1.9zM151.5 607.3h1.9v8.2h-1.9zM153.4 607.3h1.9v8.2h-1.9zM179.3 607.3h1.9v8.2h-1.9zM170.1 615.5h1.9v8.2h-1.9zM171.9 615.5h1.9v8.2h-1.9zM184.9 615.5h1.9v8.2h-1.9zM171.9 631.9h1.9v8.2h-1.9zM184.9 631.9h1.9v8.2h-1.9zM147.8 648.2h1.9v8.2h-1.9zM171.9 648.2h1.9v8.2h-1.9zM171.9 664.5h1.9v8.2h-1.9zM177.5 672.7h1.9v8.2h-1.9zM183 672.7h1.9v8.2h-1.9zM149.7 689.1h1.9v8.2h-1.9zM168.2 689.1h1.9v8.2h-1.9zM171.9 689.1h1.9v8.2h-1.9zM166.4 697.2h1.9v8.2h-1.9zM228.2 591h1.9v8.2h-1.9zM226.4 599.2h1.9v8.2h-1.9zM189.3 607.3h1.9v8.2h-1.9zM230.1 615.5h1.9v8.2h-1.9zM206 648.2h1.9v8.2h-1.9zM191.2 656.4h1.9v8.2h-1.9zM206 672.7h1.9v8.2h-1.9zM207.9 672.7h1.9v8.2h-1.9zM193 689.1h1.9v8.2h-1.9zM213.4 697.2h1.9v8.2h-1.9zM234.6 615.5h1.9v8.2h-1.9zM238.3 615.5h1.9v8.2h-1.9zM247.5 623.7h1.9v8.2h-1.9zM238.3 631.9h1.9v8.2h-1.9zM251.2 631.9h1.9v8.2h-1.9zM267.9 631.9h1.9v8.2h-1.9zM251.2 640h1.9v8.2h-1.9zM271.6 640h1.9v8.2h-1.9zM249.4 648.2h1.9v8.2h-1.9zM251.2 648.2h1.9v8.2h-1.9zM254.9 648.2h1.9v8.2h-1.9zM238.3 664.5h1.9v8.2h-1.9zM266 680.9h1.9v8.2h-1.9zM240.1 689.1h1.9v8.2h-1.9zM262.3 689.1h1.9v8.2h-1.9zM269.7 689.1h1.9v8.2h-1.9zM240.1 697.2h1.9v8.2h-1.9zM254.9 697.2h1.9v8.2h-1.9zM285.3 591h1.9v8.2h-1.9zM290.9 591h1.9v8.2h-1.9zM307.5 591h1.9v8.2h-1.9zM283.5 599.2h1.9v8.2h-1.9zM316.8 599.2h1.9v8.2h-1.9zM318.7 599.2h1.9v8.2h-1.9zM315 607.3h1.9v8.2h-1.9zM279.8 623.7h1.9v8.2h-1.9zM309.4 631.9h1.9v8.2h-1.9zM311.2 648.2h1.9v8.2h-1.9zM283.5 656.4h1.9v8.2h-1.9zM289 656.4h1.9v8.2h-1.9zM289 664.5h1.9v8.2h-1.9zM283.5 672.7h1.9v8.2h-1.9zM307.5 672.7h1.9v8.2h-1.9zM289 680.9h1.9v8.2h-1.9zM292.7 689.1h1.9v8.2h-1.9zM311.2 689.1h1.9v8.2h-1.9zM345.3 591h1.9v8.2h-1.9zM356.5 591h1.9v8.2h-1.9zM365.7 591h1.9v8.2h-1.9zM328.7 607.3h1.9v8.2h-1.9zM360.2 607.3h1.9v8.2h-1.9zM358.3 615.5h1.9v8.2h-1.9zM365.7 615.5h1.9v8.2h-1.9zM328.7 623.7h1.9v8.2h-1.9zM330.5 623.7h1.9v8.2h-1.9zM345.3 623.7h1.9v8.2h-1.9zM354.6 623.7h1.9v8.2h-1.9zM356.5 631.9h1.9v8.2h-1.9zM325 648.2h1.9v8.2h-1.9zM360.2 648.2h1.9v8.2h-1.9zM347.2 664.5h1.9v8.2h-1.9zM334.2 672.7h1.9v8.2h-1.9zM350.9 672.7h1.9v8.2h-1.9zM358.3 672.7h1.9v8.2h-1.9zM365.7 680.9h1.9v8.2h-1.9zM373.9 591h1.9v8.2h-1.9zM405.4 591h1.9v8.2h-1.9zM409.1 591h1.9v8.2h-1.9zM409.1 607.3h1.9v8.2h-1.9zM383.1 615.5h1.9v8.2h-1.9zM394.3 615.5h1.9v8.2h-1.9zM392.4 623.7h1.9v8.2h-1.9zM377.6 631.9h1.9v8.2h-1.9zM381.3 631.9h1.9v8.2h-1.9zM407.2 631.9h1.9v8.2h-1.9zM385 648.2h1.9v8.2h-1.9zM407.2 648.2h1.9v8.2h-1.9zM407.2 656.4h1.9v8.2h-1.9zM377.6 664.5h1.9v8.2h-1.9zM394.3 664.5h1.9v8.2h-1.9zM401.7 664.5h1.9v8.2h-1.9zM407.2 664.5h1.9v8.2h-1.9zM381.3 672.7h1.9v8.2h-1.9zM388.7 672.7h1.9v8.2h-1.9zM390.6 672.7h1.9v8.2h-1.9zM398 672.7h1.9v8.2h-1.9zM379.4 680.9h1.9v8.2h-1.9zM398 680.9h1.9v8.2h-1.9zM379.4 689.1h1.9v8.2h-1.9zM390.6 689.1h1.9v8.2h-1.9zM448.7 591h1.9v8.2h-1.9zM454.3 591h1.9v8.2h-1.9zM452.4 599.2h1.9v8.2h-1.9zM454.3 599.2h1.9v8.2h-1.9zM452.4 607.3h1.9v8.2h-1.9zM450.6 615.5h1.9v8.2h-1.9zM446.9 623.7h1.9v8.2h-1.9zM450.6 631.9h1.9v8.2h-1.9zM415.4 640h1.9v8.2h-1.9zM430.2 640h1.9v8.2h-1.9zM432.1 640h1.9v8.2h-1.9zM456.1 640h1.9v8.2h-1.9zM435.8 648.2h1.9v8.2h-1.9zM430.2 656.4h1.9v8.2h-1.9zM432.1 656.4h1.9v8.2h-1.9zM448.7 656.4h1.9v8.2h-1.9zM454.3 656.4h1.9v8.2h-1.9zM426.5 664.5h1.9v8.2h-1.9zM433.9 664.5h1.9v8.2h-1.9zM437.6 664.5h1.9v8.2h-1.9zM448.7 672.7h1.9v8.2h-1.9zM424.7 680.9h1.9v8.2h-1.9zM452.4 680.9h1.9v8.2h-1.9zM432.1 697.2h1.9v8.2h-1.9zM435.8 697.2h1.9v8.2h-1.9zM446.9 697.2h1.9v8.2h-1.9zM460.6 591h1.9v8.2h-1.9zM477.3 591h1.9v8.2h-1.9zM492.1 591h1.9v8.2h-1.9zM493.9 591h1.9v8.2h-1.9zM468 599.2h1.9v8.2h-1.9zM492.1 607.3h1.9v8.2h-1.9zM468 615.5h1.9v8.2h-1.9zM469.9 615.5h1.9v8.2h-1.9zM475.4 615.5h1.9v8.2h-1.9zM481 615.5h1.9v8.2h-1.9zM482.8 615.5h1.9v8.2h-1.9zM490.2 615.5h1.9v8.2h-1.9zM495.8 615.5h1.9v8.2h-1.9zM477.3 623.7h1.9v8.2h-1.9zM484.7 623.7h1.9v8.2h-1.9zM495.8 623.7h1.9v8.2h-1.9zM462.5 640h1.9v8.2h-1.9zM466.2 648.2h1.9v8.2h-1.9zM473.6 648.2h1.9v8.2h-1.9zM490.2 648.2h1.9v8.2h-1.9zM497.6 648.2h1.9v8.2h-1.9zM492.1 656.4h1.9v8.2h-1.9zM493.9 656.4h1.9v8.2h-1.9zM482.8 664.5h1.9v8.2h-1.9zM473.6 672.7h1.9v8.2h-1.9zM482.8 672.7h1.9v8.2h-1.9zM481 689.1h1.9v8.2h-1.9zM492.1 689.1h1.9v8.2h-1.9zM495.8 689.1h1.9v8.2h-1.9zM520.6 591h1.9v8.2h-1.9zM526.2 591h1.9v8.2h-1.9zM509.5 607.3h1.9v8.2h-1.9zM518.8 615.5h1.9v8.2h-1.9zM520.6 615.5h1.9v8.2h-1.9zM529.9 615.5h1.9v8.2h-1.9zM537.3 615.5h1.9v8.2h-1.9zM528 631.9h1.9v8.2h-1.9zM539.1 631.9h1.9v8.2h-1.9zM507.7 640h1.9v8.2h-1.9zM509.5 648.2h1.9v8.2h-1.9zM531.7 648.2h1.9v8.2h-1.9zM546.6 648.2h1.9v8.2h-1.9zM533.6 656.4h1.9v8.2h-1.9zM539.1 656.4h1.9v8.2h-1.9zM535.4 672.7h1.9v8.2h-1.9zM516.9 689.1h1.9v8.2h-1.9zM526.2 689.1h1.9v8.2h-1.9zM537.3 689.1h1.9v8.2h-1.9zM511.4 697.2h1.9v8.2h-1.9zM573.2 591h1.9v8.2h-1.9zM567.7 615.5h1.9v8.2h-1.9zM551 640h1.9v8.2h-1.9zM575.1 640h1.9v8.2h-1.9zM586.2 640h1.9v8.2h-1.9zM551 648.2h1.9v8.2h-1.9zM558.4 648.2h1.9v8.2h-1.9zM564 648.2h1.9v8.2h-1.9zM556.6 656.4h1.9v8.2h-1.9zM584.4 664.5h1.9v8.2h-1.9zM552.9 672.7h1.9v8.2h-1.9zM554.7 680.9h1.9v8.2h-1.9zM560.3 680.9h1.9v8.2h-1.9zM567.7 680.9h1.9v8.2h-1.9zM586.2 689.1h1.9v8.2h-1.9zM573.2 697.2h1.9v8.2h-1.9zM607.3 591h1.9v8.2h-1.9zM635.1 591h1.9v8.2h-1.9zM605.5 599.2h1.9v8.2h-1.9zM596.2 615.5h1.9v8.2h-1.9zM637 615.5h1.9v8.2h-1.9zM601.8 623.7h1.9v8.2h-1.9zM601.8 631.9h1.9v8.2h-1.9zM616.6 631.9h1.9v8.2h-1.9zM627.7 631.9h1.9v8.2h-1.9zM603.6 640h1.9v8.2h-1.9zM609.2 640h1.9v8.2h-1.9zM611 640h1.9v8.2h-1.9zM614.8 640h1.9v8.2h-1.9zM620.3 640h1.9v8.2h-1.9zM631.4 640h1.9v8.2h-1.9zM635.1 640h1.9v8.2h-1.9zM624 648.2h1.9v8.2h-1.9zM611 656.4h1.9v8.2h-1.9zM616.6 656.4h1.9v8.2h-1.9zM618.5 656.4h1.9v8.2h-1.9zM627.7 656.4h1.9v8.2h-1.9zM620.3 664.5h1.9v8.2h-1.9zM622.2 664.5h1.9v8.2h-1.9zM601.8 672.7h1.9v8.2h-1.9zM616.6 680.9h1.9v8.2h-1.9zM625.9 680.9h1.9v8.2h-1.9zM629.6 680.9h1.9v8.2h-1.9zM596.2 689.1h1.9v8.2h-1.9zM609.2 689.1h1.9v8.2h-1.9zM635.1 689.1h1.9v8.2h-1.9zM616.6 697.2h1.9v8.2h-1.9z"/><path fill="#e29493" d="M36.3 591h1.9v8.2h-1.9zM27 640h1.9v8.2h-1.9zM40 664.5h1.9v8.2h-1.9zM23.3 689.1h1.9v8.2h-1.9zM49.2 697.2h1.9v8.2h-1.9zM81.5 591h1.9v8.2h-1.9zM75.9 607.3h1.9v8.2h-1.9zM57.4 615.5h1.9v8.2h-1.9zM85.2 615.5h1.9v8.2h-1.9zM85.2 631.9h1.9v8.2h-1.9zM124.9 615.5h1.9v8.2h-1.9zM123 631.9h1.9v8.2h-1.9zM128.6 631.9h1.9v8.2h-1.9zM115.6 680.9h1.9v8.2h-1.9zM110 697.2h1.9v8.2h-1.9zM117.4 697.2h1.9v8.2h-1.9zM173.8 623.7h1.9v8.2h-1.9zM158.9 664.5h1.9v8.2h-1.9zM158.9 680.9h1.9v8.2h-1.9zM213.4 591h1.9v8.2h-1.9zM215.3 591h1.9v8.2h-1.9zM222.7 591h1.9v8.2h-1.9zM224.5 591h1.9v8.2h-1.9zM219 615.5h1.9v8.2h-1.9zM224.5 631.9h1.9v8.2h-1.9zM206 640h1.9v8.2h-1.9zM196.7 648.2h1.9v8.2h-1.9zM200.5 680.9h1.9v8.2h-1.9zM247.5 591h1.9v8.2h-1.9zM254.9 591h1.9v8.2h-1.9zM258.6 591h1.9v8.2h-1.9zM275.3 599.2h1.9v8.2h-1.9zM236.4 648.2h1.9v8.2h-1.9zM273.4 648.2h1.9v8.2h-1.9zM256.8 656.4h1.9v8.2h-1.9zM253.1 672.7h1.9v8.2h-1.9zM269.7 672.7h1.9v8.2h-1.9zM253.1 680.9h1.9v8.2h-1.9zM264.2 697.2h1.9v8.2h-1.9zM320.5 697.2h1.9v8.2h-1.9zM341.6 599.2h1.9v8.2h-1.9zM339.8 615.5h1.9v8.2h-1.9zM362 623.7h1.9v8.2h-1.9zM352.8 631.9h1.9v8.2h-1.9zM343.5 680.9h1.9v8.2h-1.9zM386.8 623.7h1.9v8.2h-1.9zM390.6 697.2h1.9v8.2h-1.9zM399.8 697.2h1.9v8.2h-1.9zM441.3 648.2h1.9v8.2h-1.9zM419.1 689.1h1.9v8.2h-1.9zM432.1 689.1h1.9v8.2h-1.9zM501.3 591h1.9v8.2h-1.9zM493.9 599.2h1.9v8.2h-1.9zM475.4 664.5h1.9v8.2h-1.9zM477.3 697.2h1.9v8.2h-1.9zM479.1 697.2h1.9v8.2h-1.9zM486.5 697.2h1.9v8.2h-1.9zM541 623.7h1.9v8.2h-1.9zM567.7 599.2h1.9v8.2h-1.9zM588.1 599.2h1.9v8.2h-1.9zM578.8 607.3h1.9v8.2h-1.9zM582.5 607.3h1.9v8.2h-1.9zM588.1 615.5h1.9v8.2h-1.9zM569.5 623.7h1.9v8.2h-1.9zM578.8 623.7h1.9v8.2h-1.9zM582.5 623.7h1.9v8.2h-1.9zM564 631.9h1.9v8.2h-1.9zM565.8 631.9h1.9v8.2h-1.9zM569.5 656.4h1.9v8.2h-1.9zM633.3 623.7h1.9v8.2h-1.9zM599.9 631.9h1.9v8.2h-1.9z"/><path fill="#f6e4e2" d="M38.1 591h1.9v8.2h-1.9zM41.8 591h1.9v8.2h-1.9zM45.5 591h1.9v8.2h-1.9zM12.2 599.2h1.9v8.2h-1.9zM47.4 607.3h1.9v8.2h-1.9zM36.3 615.5h1.9v8.2h-1.9zM38.1 615.5h1.9v8.2h-1.9zM45.5 615.5h1.9v8.2h-1.9zM14.1 623.7h1.9v8.2h-1.9zM28.9 623.7h1.9v8.2h-1.9zM45.5 623.7h1.9v8.2h-1.9zM49.2 623.7h1.9v8.2h-1.9zM17.8 631.9h1.9v8.2h-1.9zM28.9 631.9h1.9v8.2h-1.9zM36.3 631.9h1.9v8.2h-1.9zM38.1 631.9h1.9v8.2h-1.9zM41.8 631.9h1.9v8.2h-1.9zM14.1 640h1.9v8.2h-1.9zM47.4 640h1.9v8.2h-1.9zM21.5 648.2h1.9v8.2h-1.9zM14.1 656.4h1.9v8.2h-1.9zM21.5 656.4h1.9v8.2h-1.9zM36.3 656.4h1.9v8.2h-1.9zM47.4 656.4h1.9v8.2h-1.9zM15.9 664.5h1.9v8.2h-1.9zM19.6 664.5h1.9v8.2h-1.9zM49.2 664.5h1.9v8.2h-1.9zM40 672.7h1.9v8.2h-1.9zM12.2 680.9h1.9v8.2h-1.9zM47.4 680.9h1.9v8.2h-1.9zM15.9 689.1h1.9v8.2h-1.9zM47.4 689.1h1.9v8.2h-1.9zM36.3 697.2h1.9v8.2h-1.9zM57.4 607.3h1.9v8.2h-1.9zM59.3 607.3h1.9v8.2h-1.9zM59.3 615.5h1.9v8.2h-1.9zM59.3 631.9h1.9v8.2h-1.9zM72.2 640h1.9v8.2h-1.9zM66.7 648.2h1.9v8.2h-1.9zM68.5 648.2h1.9v8.2h-1.9zM70.4 648.2h1.9v8.2h-1.9zM81.5 648.2h1.9v8.2h-1.9zM85.2 648.2h1.9v8.2h-1.9zM94.5 648.2h1.9v8.2h-1.9zM64.8 656.4h1.9v8.2h-1.9zM75.9 656.4h1.9v8.2h-1.9zM90.8 656.4h1.9v8.2h-1.9zM75.9 664.5h1.9v8.2h-1.9zM90.8 664.5h1.9v8.2h-1.9zM59.3 672.7h1.9v8.2h-1.9zM79.6 672.7h1.9v8.2h-1.9zM53.7 680.9h1.9v8.2h-1.9zM88.9 689.1h1.9v8.2h-1.9zM70.4 697.2h1.9v8.2h-1.9zM74.1 697.2h1.9v8.2h-1.9zM88.9 697.2h1.9v8.2h-1.9zM130.4 599.2h1.9v8.2h-1.9zM132.3 599.2h1.9v8.2h-1.9zM139.7 599.2h1.9v8.2h-1.9zM104.5 607.3h1.9v8.2h-1.9zM128.6 615.5h1.9v8.2h-1.9zM98.9 623.7h1.9v8.2h-1.9zM126.7 631.9h1.9v8.2h-1.9zM100.8 640h1.9v8.2h-1.9zM124.9 648.2h1.9v8.2h-1.9zM130.4 648.2h1.9v8.2h-1.9zM102.6 656.4h1.9v8.2h-1.9zM132.3 656.4h1.9v8.2h-1.9zM130.4 664.5h1.9v8.2h-1.9zM128.6 672.7h1.9v8.2h-1.9zM136 672.7h1.9v8.2h-1.9zM123 680.9h1.9v8.2h-1.9zM132.3 680.9h1.9v8.2h-1.9zM123 689.1h1.9v8.2h-1.9zM130.4 689.1h1.9v8.2h-1.9zM115.6 697.2h1.9v8.2h-1.9zM147.8 591h1.9v8.2h-1.9zM170.1 591h1.9v8.2h-1.9zM173.8 591h1.9v8.2h-1.9zM146 599.2h1.9v8.2h-1.9zM170.1 599.2h1.9v8.2h-1.9zM175.6 599.2h1.9v8.2h-1.9zM160.8 607.3h1.9v8.2h-1.9zM168.2 615.5h1.9v8.2h-1.9zM177.5 615.5h1.9v8.2h-1.9zM184.9 623.7h1.9v8.2h-1.9zM171.9 640h1.9v8.2h-1.9zM168.2 648.2h1.9v8.2h-1.9zM170.1 656.4h1.9v8.2h-1.9zM179.3 656.4h1.9v8.2h-1.9zM177.5 664.5h1.9v8.2h-1.9zM146 672.7h1.9v8.2h-1.9zM153.4 680.9h1.9v8.2h-1.9zM164.5 680.9h1.9v8.2h-1.9zM168.2 680.9h1.9v8.2h-1.9zM177.5 680.9h1.9v8.2h-1.9zM151.5 689.1h1.9v8.2h-1.9zM157.1 689.1h1.9v8.2h-1.9zM170.1 697.2h1.9v8.2h-1.9zM175.6 697.2h1.9v8.2h-1.9zM194.9 591h1.9v8.2h-1.9zM226.4 591h1.9v8.2h-1.9zM191.2 599.2h1.9v8.2h-1.9zM196.7 599.2h1.9v8.2h-1.9zM193 615.5h1.9v8.2h-1.9zM217.1 615.5h1.9v8.2h-1.9zM215.3 623.7h1.9v8.2h-1.9zM224.5 623.7h1.9v8.2h-1.9zM194.9 631.9h1.9v8.2h-1.9zM226.4 631.9h1.9v8.2h-1.9zM194.9 648.2h1.9v8.2h-1.9zM224.5 648.2h1.9v8.2h-1.9zM202.3 656.4h1.9v8.2h-1.9zM215.3 656.4h1.9v8.2h-1.9zM189.3 664.5h1.9v8.2h-1.9zM193 664.5h1.9v8.2h-1.9zM198.6 664.5h1.9v8.2h-1.9zM211.6 664.5h1.9v8.2h-1.9zM213.4 664.5h1.9v8.2h-1.9zM193 672.7h1.9v8.2h-1.9zM204.2 672.7h1.9v8.2h-1.9zM198.6 680.9h1.9v8.2h-1.9zM206 680.9h1.9v8.2h-1.9zM207.9 680.9h1.9v8.2h-1.9zM191.2 689.1h1.9v8.2h-1.9zM198.6 689.1h1.9v8.2h-1.9zM220.8 689.1h1.9v8.2h-1.9zM191.2 697.2h1.9v8.2h-1.9zM211.6 697.2h1.9v8.2h-1.9zM224.5 697.2h1.9v8.2h-1.9zM240.1 591h1.9v8.2h-1.9zM269.7 591h1.9v8.2h-1.9zM275.3 591h1.9v8.2h-1.9zM234.6 599.2h1.9v8.2h-1.9zM238.3 599.2h1.9v8.2h-1.9zM238.3 607.3h1.9v8.2h-1.9zM271.6 615.5h1.9v8.2h-1.9zM273.4 623.7h1.9v8.2h-1.9zM243.8 631.9h1.9v8.2h-1.9zM256.8 631.9h1.9v8.2h-1.9zM264.2 631.9h1.9v8.2h-1.9zM269.7 631.9h1.9v8.2h-1.9zM236.4 640h1.9v8.2h-1.9zM240.1 640h1.9v8.2h-1.9zM247.5 640h1.9v8.2h-1.9zM243.8 648.2h1.9v8.2h-1.9zM258.6 648.2h1.9v8.2h-1.9zM262.3 648.2h1.9v8.2h-1.9zM253.1 656.4h1.9v8.2h-1.9zM236.4 664.5h1.9v8.2h-1.9zM249.4 664.5h1.9v8.2h-1.9zM258.6 664.5h1.9v8.2h-1.9zM260.5 664.5h1.9v8.2h-1.9zM266 672.7h1.9v8.2h-1.9zM234.6 680.9h1.9v8.2h-1.9zM240.1 680.9h1.9v8.2h-1.9zM247.5 680.9h1.9v8.2h-1.9zM254.9 680.9h1.9v8.2h-1.9zM264.2 680.9h1.9v8.2h-1.9zM245.7 689.1h1.9v8.2h-1.9zM258.6 689.1h1.9v8.2h-1.9zM260.5 689.1h1.9v8.2h-1.9zM234.6 697.2h1.9v8.2h-1.9zM260.5 697.2h1.9v8.2h-1.9zM273.4 697.2h1.9v8.2h-1.9zM307.5 599.2h1.9v8.2h-1.9zM302 607.3h1.9v8.2h-1.9zM311.2 607.3h1.9v8.2h-1.9zM290.9 623.7h1.9v8.2h-1.9zM285.3 631.9h1.9v8.2h-1.9zM292.7 631.9h1.9v8.2h-1.9zM294.6 631.9h1.9v8.2h-1.9zM298.3 631.9h1.9v8.2h-1.9zM302 631.9h1.9v8.2h-1.9zM316.8 640h1.9v8.2h-1.9zM320.5 640h1.9v8.2h-1.9zM302 648.2h1.9v8.2h-1.9zM303.8 648.2h1.9v8.2h-1.9zM313.1 656.4h1.9v8.2h-1.9zM290.9 664.5h1.9v8.2h-1.9zM303.8 664.5h1.9v8.2h-1.9zM285.3 672.7h1.9v8.2h-1.9zM298.3 672.7h1.9v8.2h-1.9zM279.8 680.9h1.9v8.2h-1.9zM290.9 680.9h1.9v8.2h-1.9zM296.4 689.1h1.9v8.2h-1.9zM303.8 689.1h1.9v8.2h-1.9zM332.4 591h1.9v8.2h-1.9zM350.9 591h1.9v8.2h-1.9zM328.7 599.2h1.9v8.2h-1.9zM352.8 599.2h1.9v8.2h-1.9zM326.8 607.3h1.9v8.2h-1.9zM334.2 607.3h1.9v8.2h-1.9zM345.3 607.3h1.9v8.2h-1.9zM326.8 615.5h1.9v8.2h-1.9zM347.2 631.9h1.9v8.2h-1.9zM354.6 631.9h1.9v8.2h-1.9zM354.6 640h1.9v8.2h-1.9zM347.2 648.2h1.9v8.2h-1.9zM363.9 648.2h1.9v8.2h-1.9zM365.7 648.2h1.9v8.2h-1.9zM326.8 656.4h1.9v8.2h-1.9zM349 664.5h1.9v8.2h-1.9zM354.6 664.5h1.9v8.2h-1.9zM330.5 672.7h1.9v8.2h-1.9zM362 672.7h1.9v8.2h-1.9zM325 680.9h1.9v8.2h-1.9zM349 680.9h1.9v8.2h-1.9zM326.8 689.1h1.9v8.2h-1.9zM345.3 689.1h1.9v8.2h-1.9zM350.9 689.1h1.9v8.2h-1.9zM362 689.1h1.9v8.2h-1.9zM383.1 591h1.9v8.2h-1.9zM386.8 591h1.9v8.2h-1.9zM396.1 591h1.9v8.2h-1.9zM403.5 599.2h1.9v8.2h-1.9zM373.9 607.3h1.9v8.2h-1.9zM375.7 607.3h1.9v8.2h-1.9zM386.8 607.3h1.9v8.2h-1.9zM392.4 607.3h1.9v8.2h-1.9zM405.4 607.3h1.9v8.2h-1.9zM370.2 615.5h1.9v8.2h-1.9zM385 615.5h1.9v8.2h-1.9zM401.7 615.5h1.9v8.2h-1.9zM403.5 615.5h1.9v8.2h-1.9zM379.4 623.7h1.9v8.2h-1.9zM394.3 623.7h1.9v8.2h-1.9zM392.4 631.9h1.9v8.2h-1.9zM399.8 631.9h1.9v8.2h-1.9zM385 640h1.9v8.2h-1.9zM410.9 656.4h1.9v8.2h-1.9zM399.8 664.5h1.9v8.2h-1.9zM405.4 664.5h1.9v8.2h-1.9zM410.9 664.5h1.9v8.2h-1.9zM370.2 672.7h1.9v8.2h-1.9zM403.5 672.7h1.9v8.2h-1.9zM379.4 697.2h1.9v8.2h-1.9zM388.7 697.2h1.9v8.2h-1.9zM432.1 591h1.9v8.2h-1.9zM445 591h1.9v8.2h-1.9zM446.9 599.2h1.9v8.2h-1.9zM445 607.3h1.9v8.2h-1.9zM446.9 607.3h1.9v8.2h-1.9zM456.1 607.3h1.9v8.2h-1.9zM415.4 615.5h1.9v8.2h-1.9zM417.2 615.5h1.9v8.2h-1.9zM430.2 615.5h1.9v8.2h-1.9zM445 615.5h1.9v8.2h-1.9zM454.3 615.5h1.9v8.2h-1.9zM415.4 623.7h1.9v8.2h-1.9zM424.7 623.7h1.9v8.2h-1.9zM424.7 631.9h1.9v8.2h-1.9zM443.2 631.9h1.9v8.2h-1.9zM417.2 648.2h1.9v8.2h-1.9zM443.2 648.2h1.9v8.2h-1.9zM450.6 648.2h1.9v8.2h-1.9zM456.1 648.2h1.9v8.2h-1.9zM452.4 656.4h1.9v8.2h-1.9zM415.4 664.5h1.9v8.2h-1.9zM417.2 672.7h1.9v8.2h-1.9zM432.1 672.7h1.9v8.2h-1.9zM435.8 689.1h1.9v8.2h-1.9zM445 689.1h1.9v8.2h-1.9zM446.9 689.1h1.9v8.2h-1.9zM454.3 689.1h1.9v8.2h-1.9zM433.9 697.2h1.9v8.2h-1.9zM464.3 591h1.9v8.2h-1.9zM473.6 591h1.9v8.2h-1.9zM499.5 591h1.9v8.2h-1.9zM488.4 599.2h1.9v8.2h-1.9zM464.3 607.3h1.9v8.2h-1.9zM490.2 607.3h1.9v8.2h-1.9zM479.1 623.7h1.9v8.2h-1.9zM499.5 631.9h1.9v8.2h-1.9zM464.3 640h1.9v8.2h-1.9zM473.6 640h1.9v8.2h-1.9zM501.3 640h1.9v8.2h-1.9zM462.5 648.2h1.9v8.2h-1.9zM481 656.4h1.9v8.2h-1.9zM497.6 656.4h1.9v8.2h-1.9zM499.5 656.4h1.9v8.2h-1.9zM471.7 664.5h1.9v8.2h-1.9zM488.4 664.5h1.9v8.2h-1.9zM497.6 664.5h1.9v8.2h-1.9zM460.6 672.7h1.9v8.2h-1.9zM475.4 672.7h1.9v8.2h-1.9zM486.5 672.7h1.9v8.2h-1.9zM492.1 672.7h1.9v8.2h-1.9zM493.9 672.7h1.9v8.2h-1.9zM493.9 680.9h1.9v8.2h-1.9zM497.6 680.9h1.9v8.2h-1.9zM475.4 689.1h1.9v8.2h-1.9zM486.5 689.1h1.9v8.2h-1.9zM493.9 689.1h1.9v8.2h-1.9zM460.6 697.2h1.9v8.2h-1.9zM466.2 697.2h1.9v8.2h-1.9zM484.7 697.2h1.9v8.2h-1.9zM493.9 697.2h1.9v8.2h-1.9zM516.9 591h1.9v8.2h-1.9zM541 591h1.9v8.2h-1.9zM529.9 599.2h1.9v8.2h-1.9zM513.2 607.3h1.9v8.2h-1.9zM529.9 607.3h1.9v8.2h-1.9zM535.4 607.3h1.9v8.2h-1.9zM544.7 607.3h1.9v8.2h-1.9zM511.4 623.7h1.9v8.2h-1.9zM535.4 623.7h1.9v8.2h-1.9zM537.3 623.7h1.9v8.2h-1.9zM511.4 631.9h1.9v8.2h-1.9zM513.2 631.9h1.9v8.2h-1.9zM524.3 631.9h1.9v8.2h-1.9zM529.9 631.9h1.9v8.2h-1.9zM511.4 640h1.9v8.2h-1.9zM511.4 648.2h1.9v8.2h-1.9zM528 648.2h1.9v8.2h-1.9zM516.9 664.5h1.9v8.2h-1.9zM518.8 664.5h1.9v8.2h-1.9zM537.3 664.5h1.9v8.2h-1.9zM546.6 664.5h1.9v8.2h-1.9zM520.6 672.7h1.9v8.2h-1.9zM526.2 672.7h1.9v8.2h-1.9zM533.6 672.7h1.9v8.2h-1.9zM537.3 672.7h1.9v8.2h-1.9zM518.8 680.9h1.9v8.2h-1.9zM535.4 680.9h1.9v8.2h-1.9zM539.1 680.9h1.9v8.2h-1.9zM535.4 697.2h1.9v8.2h-1.9zM537.3 697.2h1.9v8.2h-1.9zM564 591h1.9v8.2h-1.9zM591.8 591h1.9v8.2h-1.9zM571.4 599.2h1.9v8.2h-1.9zM560.3 607.3h1.9v8.2h-1.9zM589.9 607.3h1.9v8.2h-1.9zM571.4 615.5h1.9v8.2h-1.9zM558.4 640h1.9v8.2h-1.9zM569.5 640h1.9v8.2h-1.9zM584.4 640h1.9v8.2h-1.9zM554.7 648.2h1.9v8.2h-1.9zM591.8 648.2h1.9v8.2h-1.9zM575.1 656.4h1.9v8.2h-1.9zM588.1 656.4h1.9v8.2h-1.9zM558.4 664.5h1.9v8.2h-1.9zM567.7 664.5h1.9v8.2h-1.9zM580.7 664.5h1.9v8.2h-1.9zM589.9 664.5h1.9v8.2h-1.9zM551 672.7h1.9v8.2h-1.9zM567.7 672.7h1.9v8.2h-1.9zM573.2 672.7h1.9v8.2h-1.9zM552.9 689.1h1.9v8.2h-1.9zM556.6 689.1h1.9v8.2h-1.9zM560.3 689.1h1.9v8.2h-1.9zM571.4 689.1h1.9v8.2h-1.9zM575.1 689.1h1.9v8.2h-1.9zM580.7 689.1h1.9v8.2h-1.9zM599.9 591h1.9v8.2h-1.9zM620.3 591h1.9v8.2h-1.9zM633.3 599.2h1.9v8.2h-1.9zM605.5 607.3h1.9v8.2h-1.9zM633.3 615.5h1.9v8.2h-1.9zM603.6 623.7h1.9v8.2h-1.9zM625.9 623.7h1.9v8.2h-1.9zM603.6 631.9h1.9v8.2h-1.9zM605.5 631.9h1.9v8.2h-1.9zM607.3 631.9h1.9v8.2h-1.9zM609.2 656.4h1.9v8.2h-1.9zM612.9 656.4h1.9v8.2h-1.9zM622.2 672.7h1.9v8.2h-1.9zM611 680.9h1.9v8.2h-1.9zM614.8 680.9h1.9v8.2h-1.9zM624 680.9h1.9v8.2h-1.9zM622.2 689.1h1.9v8.2h-1.9zM605.5 697.2h1.9v8.2h-1.9zM607.3 697.2h1.9v8.2h-1.9zM612.9 697.2h1.9v8.2h-1.9zM620.3 697.2h1.9v8.2h-1.9zM624 697.2h1.9v8.2h-1.9zM637 697.2h1.9v8.2h-1.9z"/><path fill="#dbe3f1" d="M10.4 599.2h1.9v8.2h-1.9zM30.7 599.2h1.9v8.2h-1.9zM10.4 607.3h1.9v8.2h-1.9zM47.4 615.5h1.9v8.2h-1.9zM49.2 615.5h1.9v8.2h-1.9zM15.9 623.7h1.9v8.2h-1.9zM10.4 640h1.9v8.2h-1.9zM15.9 640h1.9v8.2h-1.9zM28.9 648.2h1.9v8.2h-1.9zM32.6 648.2h1.9v8.2h-1.9zM32.6 656.4h1.9v8.2h-1.9zM43.7 656.4h1.9v8.2h-1.9zM25.2 664.5h1.9v8.2h-1.9zM25.2 672.7h1.9v8.2h-1.9zM41.8 672.7h1.9v8.2h-1.9zM8.5 680.9h1.9v8.2h-1.9zM25.2 680.9h1.9v8.2h-1.9zM14.1 689.1h1.9v8.2h-1.9zM17.8 697.2h1.9v8.2h-1.9zM57.4 591h1.9v8.2h-1.9zM53.7 599.2h1.9v8.2h-1.9zM55.6 599.2h1.9v8.2h-1.9zM87 599.2h1.9v8.2h-1.9zM55.6 607.3h1.9v8.2h-1.9zM61.1 607.3h1.9v8.2h-1.9zM94.5 607.3h1.9v8.2h-1.9zM63 615.5h1.9v8.2h-1.9zM92.6 623.7h1.9v8.2h-1.9zM55.6 631.9h1.9v8.2h-1.9zM57.4 640h1.9v8.2h-1.9zM66.7 640h1.9v8.2h-1.9zM90.8 640h1.9v8.2h-1.9zM55.6 648.2h1.9v8.2h-1.9zM63 656.4h1.9v8.2h-1.9zM63 664.5h1.9v8.2h-1.9zM57.4 680.9h1.9v8.2h-1.9zM63 680.9h1.9v8.2h-1.9zM68.5 680.9h1.9v8.2h-1.9zM70.4 680.9h1.9v8.2h-1.9zM75.9 680.9h1.9v8.2h-1.9zM87 680.9h1.9v8.2h-1.9zM90.8 680.9h1.9v8.2h-1.9zM92.6 680.9h1.9v8.2h-1.9zM55.6 689.1h1.9v8.2h-1.9zM98.9 599.2h1.9v8.2h-1.9zM106.3 599.2h1.9v8.2h-1.9zM139.7 607.3h1.9v8.2h-1.9zM100.8 615.5h1.9v8.2h-1.9zM108.2 623.7h1.9v8.2h-1.9zM104.5 631.9h1.9v8.2h-1.9zM100.8 672.7h1.9v8.2h-1.9zM106.3 672.7h1.9v8.2h-1.9zM124.9 672.7h1.9v8.2h-1.9zM98.9 680.9h1.9v8.2h-1.9zM106.3 680.9h1.9v8.2h-1.9zM139.7 680.9h1.9v8.2h-1.9zM181.2 591h1.9v8.2h-1.9zM183 599.2h1.9v8.2h-1.9zM149.7 607.3h1.9v8.2h-1.9zM173.8 607.3h1.9v8.2h-1.9zM184.9 607.3h1.9v8.2h-1.9zM162.7 664.5h1.9v8.2h-1.9zM171.9 672.7h1.9v8.2h-1.9zM151.5 680.9h1.9v8.2h-1.9zM171.9 680.9h1.9v8.2h-1.9zM179.3 689.1h1.9v8.2h-1.9zM151.5 697.2h1.9v8.2h-1.9zM194.9 615.5h1.9v8.2h-1.9zM189.3 640h1.9v8.2h-1.9zM198.6 640h1.9v8.2h-1.9zM226.4 640h1.9v8.2h-1.9zM217.1 648.2h1.9v8.2h-1.9zM230.1 648.2h1.9v8.2h-1.9zM193 656.4h1.9v8.2h-1.9zM198.6 656.4h1.9v8.2h-1.9zM228.2 664.5h1.9v8.2h-1.9zM217.1 672.7h1.9v8.2h-1.9zM230.1 680.9h1.9v8.2h-1.9zM213.4 689.1h1.9v8.2h-1.9zM228.2 689.1h1.9v8.2h-1.9zM230.1 689.1h1.9v8.2h-1.9zM266 599.2h1.9v8.2h-1.9zM271.6 607.3h1.9v8.2h-1.9zM242 615.5h1.9v8.2h-1.9zM242 623.7h1.9v8.2h-1.9zM254.9 623.7h1.9v8.2h-1.9zM258.6 623.7h1.9v8.2h-1.9zM260.5 623.7h1.9v8.2h-1.9zM262.3 623.7h1.9v8.2h-1.9zM271.6 623.7h1.9v8.2h-1.9zM245.7 631.9h1.9v8.2h-1.9zM254.9 631.9h1.9v8.2h-1.9zM260.5 631.9h1.9v8.2h-1.9zM262.3 631.9h1.9v8.2h-1.9zM262.3 640h1.9v8.2h-1.9zM245.7 664.5h1.9v8.2h-1.9zM251.2 689.1h1.9v8.2h-1.9zM302 591h1.9v8.2h-1.9zM289 599.2h1.9v8.2h-1.9zM300.1 615.5h1.9v8.2h-1.9zM316.8 615.5h1.9v8.2h-1.9zM287.2 623.7h1.9v8.2h-1.9zM298.3 623.7h1.9v8.2h-1.9zM289 631.9h1.9v8.2h-1.9zM315 631.9h1.9v8.2h-1.9zM316.8 648.2h1.9v8.2h-1.9zM292.7 656.4h1.9v8.2h-1.9zM298.3 656.4h1.9v8.2h-1.9zM307.5 656.4h1.9v8.2h-1.9zM315 656.4h1.9v8.2h-1.9zM292.7 664.5h1.9v8.2h-1.9zM307.5 664.5h1.9v8.2h-1.9zM313.1 664.5h1.9v8.2h-1.9zM316.8 664.5h1.9v8.2h-1.9zM300.1 672.7h1.9v8.2h-1.9zM300.1 680.9h1.9v8.2h-1.9zM279.8 689.1h1.9v8.2h-1.9zM302 689.1h1.9v8.2h-1.9zM309.4 689.1h1.9v8.2h-1.9zM325 591h1.9v8.2h-1.9zM328.7 591h1.9v8.2h-1.9zM358.3 623.7h1.9v8.2h-1.9zM325 631.9h1.9v8.2h-1.9zM358.3 631.9h1.9v8.2h-1.9zM360.2 631.9h1.9v8.2h-1.9zM365.7 631.9h1.9v8.2h-1.9zM334.2 640h1.9v8.2h-1.9zM350.9 640h1.9v8.2h-1.9zM328.7 656.4h1.9v8.2h-1.9zM343.5 656.4h1.9v8.2h-1.9zM354.6 656.4h1.9v8.2h-1.9zM358.3 656.4h1.9v8.2h-1.9zM360.2 656.4h1.9v8.2h-1.9zM365.7 656.4h1.9v8.2h-1.9zM328.7 664.5h1.9v8.2h-1.9zM334.2 664.5h1.9v8.2h-1.9zM337.9 664.5h1.9v8.2h-1.9zM358.3 664.5h1.9v8.2h-1.9zM339.8 689.1h1.9v8.2h-1.9zM370.2 591h1.9v8.2h-1.9zM375.7 591h1.9v8.2h-1.9zM381.3 591h1.9v8.2h-1.9zM388.7 591h1.9v8.2h-1.9zM396.1 599.2h1.9v8.2h-1.9zM401.7 599.2h1.9v8.2h-1.9zM377.6 607.3h1.9v8.2h-1.9zM388.7 615.5h1.9v8.2h-1.9zM373.9 623.7h1.9v8.2h-1.9zM373.9 631.9h1.9v8.2h-1.9zM388.7 631.9h1.9v8.2h-1.9zM398 631.9h1.9v8.2h-1.9zM401.7 631.9h1.9v8.2h-1.9zM399.8 640h1.9v8.2h-1.9zM372 648.2h1.9v8.2h-1.9zM386.8 648.2h1.9v8.2h-1.9zM392.4 648.2h1.9v8.2h-1.9zM392.4 656.4h1.9v8.2h-1.9zM375.7 664.5h1.9v8.2h-1.9zM375.7 672.7h1.9v8.2h-1.9zM396.1 672.7h1.9v8.2h-1.9zM370.2 680.9h1.9v8.2h-1.9zM373.9 680.9h1.9v8.2h-1.9zM394.3 680.9h1.9v8.2h-1.9zM396.1 680.9h1.9v8.2h-1.9zM373.9 689.1h1.9v8.2h-1.9zM375.7 697.2h1.9v8.2h-1.9zM450.6 591h1.9v8.2h-1.9zM448.7 599.2h1.9v8.2h-1.9zM448.7 607.3h1.9v8.2h-1.9zM454.3 607.3h1.9v8.2h-1.9zM454.3 631.9h1.9v8.2h-1.9zM446.9 640h1.9v8.2h-1.9zM426.5 648.2h1.9v8.2h-1.9zM446.9 656.4h1.9v8.2h-1.9zM456.1 656.4h1.9v8.2h-1.9zM439.5 664.5h1.9v8.2h-1.9zM446.9 664.5h1.9v8.2h-1.9zM426.5 672.7h1.9v8.2h-1.9zM450.6 672.7h1.9v8.2h-1.9zM452.4 672.7h1.9v8.2h-1.9zM417.2 680.9h1.9v8.2h-1.9zM456.1 680.9h1.9v8.2h-1.9zM437.6 697.2h1.9v8.2h-1.9zM448.7 697.2h1.9v8.2h-1.9zM488.4 607.3h1.9v8.2h-1.9zM492.1 615.5h1.9v8.2h-1.9zM462.5 623.7h1.9v8.2h-1.9zM492.1 623.7h1.9v8.2h-1.9zM468 631.9h1.9v8.2h-1.9zM488.4 631.9h1.9v8.2h-1.9zM477.3 640h1.9v8.2h-1.9zM488.4 640h1.9v8.2h-1.9zM497.6 640h1.9v8.2h-1.9zM488.4 648.2h1.9v8.2h-1.9zM499.5 648.2h1.9v8.2h-1.9zM471.7 656.4h1.9v8.2h-1.9zM484.7 664.5h1.9v8.2h-1.9zM471.7 672.7h1.9v8.2h-1.9zM468 680.9h1.9v8.2h-1.9zM469.9 680.9h1.9v8.2h-1.9zM471.7 680.9h1.9v8.2h-1.9zM468 689.1h1.9v8.2h-1.9zM522.5 591h1.9v8.2h-1.9zM524.3 591h1.9v8.2h-1.9zM539.1 591h1.9v8.2h-1.9zM546.6 591h1.9v8.2h-1.9zM531.7 599.2h1.9v8.2h-1.9zM539.1 599.2h1.9v8.2h-1.9zM546.6 599.2h1.9v8.2h-1.9zM511.4 607.3h1.9v8.2h-1.9zM528 607.3h1.9v8.2h-1.9zM533.6 607.3h1.9v8.2h-1.9zM546.6 607.3h1.9v8.2h-1.9zM509.5 615.5h1.9v8.2h-1.9zM516.9 615.5h1.9v8.2h-1.9zM528 615.5h1.9v8.2h-1.9zM531.7 623.7h1.9v8.2h-1.9zM537.3 631.9h1.9v8.2h-1.9zM531.7 640h1.9v8.2h-1.9zM542.9 640h1.9v8.2h-1.9zM507.7 648.2h1.9v8.2h-1.9zM542.9 656.4h1.9v8.2h-1.9zM539.1 664.5h1.9v8.2h-1.9zM505.8 680.9h1.9v8.2h-1.9zM505.8 689.1h1.9v8.2h-1.9zM541 689.1h1.9v8.2h-1.9zM507.7 697.2h1.9v8.2h-1.9zM586.2 615.5h1.9v8.2h-1.9zM586.2 623.7h1.9v8.2h-1.9zM591.8 623.7h1.9v8.2h-1.9zM554.7 640h1.9v8.2h-1.9zM565.8 640h1.9v8.2h-1.9zM588.1 640h1.9v8.2h-1.9zM591.8 640h1.9v8.2h-1.9zM589.9 648.2h1.9v8.2h-1.9zM591.8 656.4h1.9v8.2h-1.9zM575.1 664.5h1.9v8.2h-1.9zM591.8 664.5h1.9v8.2h-1.9zM571.4 680.9h1.9v8.2h-1.9zM551 697.2h1.9v8.2h-1.9zM586.2 697.2h1.9v8.2h-1.9zM596.2 591h1.9v8.2h-1.9zM609.2 591h1.9v8.2h-1.9zM616.6 591h1.9v8.2h-1.9zM596.2 607.3h1.9v8.2h-1.9zM603.6 607.3h1.9v8.2h-1.9zM607.3 648.2h1.9v8.2h-1.9zM627.7 648.2h1.9v8.2h-1.9zM635.1 656.4h1.9v8.2h-1.9zM637 656.4h1.9v8.2h-1.9zM598.1 664.5h1.9v8.2h-1.9zM609.2 664.5h1.9v8.2h-1.9zM601.8 680.9h1.9v8.2h-1.9zM616.6 689.1h1.9v8.2h-1.9zM596.2 697.2h1.9v8.2h-1.9z"/><path fill="#6e1010" d="M19.6 599.2h1.9v8.2h-1.9zM21.5 615.5h1.9v8.2h-1.9zM119.3 607.3h1.9v8.2h-1.9zM113.7 615.5h1.9v8.2h-1.9zM117.4 640h1.9v8.2h-1.9zM111.9 648.2h1.9v8.2h-1.9zM110 656.4h1.9v8.2h-1.9zM121.1 680.9h1.9v8.2h-1.9zM155.2 623.7h1.9v8.2h-1.9zM281.6 697.2h1.9v8.2h-1.9zM341.6 697.2h1.9v8.2h-1.9zM627.7 607.3h1.9v8.2h-1.9z"/><path fill="#6f1010" d="M21.5 599.2h1.9v8.2h-1.9zM23.3 640h1.9v8.2h-1.9zM111.9 599.2h1.9v8.2h-1.9zM279.8 697.2h1.9v8.2h-1.9zM625.9 599.2h1.9v8.2h-1.9z"/><path fill="#6a0e0e" d="M23.3 599.2h1.9v8.2h-1.9zM121.1 599.2h1.9v8.2h-1.9zM119.3 623.7h1.9v8.2h-1.9zM111.9 664.5h1.9v8.2h-1.9z"/><path fill="#761313" d="M25.2 599.2h1.9v8.2h-1.9zM19.6 607.3h1.9v8.2h-1.9zM19.6 631.9h1.9v8.2h-1.9zM121.1 591h1.9v8.2h-1.9zM110 607.3h1.9v8.2h-1.9zM113.7 631.9h1.9v8.2h-1.9zM119.3 640h1.9v8.2h-1.9zM119.3 656.4h1.9v8.2h-1.9zM113.7 680.9h1.9v8.2h-1.9zM119.3 689.1h1.9v8.2h-1.9zM211.6 607.3h1.9v8.2h-1.9zM200.5 623.7h1.9v8.2h-1.9zM339.8 607.3h1.9v8.2h-1.9zM332.4 697.2h1.9v8.2h-1.9zM358.3 697.2h1.9v8.2h-1.9zM609.2 599.2h1.9v8.2h-1.9zM629.6 599.2h1.9v8.2h-1.9zM625.9 607.3h1.9v8.2h-1.9zM611 615.5h1.9v8.2h-1.9z"/><path fill="#e8a2a0" d="M27 599.2h1.9v8.2h-1.9zM40 640h1.9v8.2h-1.9zM27 664.5h1.9v8.2h-1.9zM23.3 672.7h1.9v8.2h-1.9zM27 680.9h1.9v8.2h-1.9zM45.5 689.1h1.9v8.2h-1.9zM85.2 591h1.9v8.2h-1.9zM85.2 599.2h1.9v8.2h-1.9zM83.3 607.3h1.9v8.2h-1.9zM72.2 656.4h1.9v8.2h-1.9zM66.7 664.5h1.9v8.2h-1.9zM70.4 664.5h1.9v8.2h-1.9zM70.4 689.1h1.9v8.2h-1.9zM72.2 689.1h1.9v8.2h-1.9zM124.9 607.3h1.9v8.2h-1.9zM98.9 615.5h1.9v8.2h-1.9zM132.3 615.5h1.9v8.2h-1.9zM130.4 631.9h1.9v8.2h-1.9zM98.9 648.2h1.9v8.2h-1.9zM100.8 648.2h1.9v8.2h-1.9zM128.6 648.2h1.9v8.2h-1.9zM104.5 656.4h1.9v8.2h-1.9zM102.6 697.2h1.9v8.2h-1.9zM155.2 591h1.9v8.2h-1.9zM144.1 599.2h1.9v8.2h-1.9zM153.4 599.2h1.9v8.2h-1.9zM164.5 640h1.9v8.2h-1.9zM168.2 640h1.9v8.2h-1.9zM181.2 640h1.9v8.2h-1.9zM144.1 648.2h1.9v8.2h-1.9zM153.4 648.2h1.9v8.2h-1.9zM144.1 656.4h1.9v8.2h-1.9zM181.2 656.4h1.9v8.2h-1.9zM153.4 664.5h1.9v8.2h-1.9zM155.2 664.5h1.9v8.2h-1.9zM166.4 672.7h1.9v8.2h-1.9zM144.1 689.1h1.9v8.2h-1.9zM219 623.7h1.9v8.2h-1.9zM215.3 631.9h1.9v8.2h-1.9zM224.5 664.5h1.9v8.2h-1.9zM189.3 672.7h1.9v8.2h-1.9zM196.7 680.9h1.9v8.2h-1.9zM202.3 680.9h1.9v8.2h-1.9zM211.6 680.9h1.9v8.2h-1.9zM260.5 591h1.9v8.2h-1.9zM258.6 599.2h1.9v8.2h-1.9zM245.7 607.3h1.9v8.2h-1.9zM275.3 623.7h1.9v8.2h-1.9zM275.3 640h1.9v8.2h-1.9zM243.8 656.4h1.9v8.2h-1.9zM264.2 656.4h1.9v8.2h-1.9zM256.8 664.5h1.9v8.2h-1.9zM243.8 689.1h1.9v8.2h-1.9zM300.1 591h1.9v8.2h-1.9zM294.6 607.3h1.9v8.2h-1.9zM296.4 615.5h1.9v8.2h-1.9zM285.3 648.2h1.9v8.2h-1.9zM320.5 672.7h1.9v8.2h-1.9zM281.6 680.9h1.9v8.2h-1.9zM352.8 591h1.9v8.2h-1.9zM332.4 607.3h1.9v8.2h-1.9zM343.5 623.7h1.9v8.2h-1.9zM332.4 631.9h1.9v8.2h-1.9zM352.8 648.2h1.9v8.2h-1.9zM363.9 689.1h1.9v8.2h-1.9zM385 623.7h1.9v8.2h-1.9zM383.1 697.2h1.9v8.2h-1.9zM420.9 599.2h1.9v8.2h-1.9zM435.8 599.2h1.9v8.2h-1.9zM419.1 607.3h1.9v8.2h-1.9zM439.5 623.7h1.9v8.2h-1.9zM441.3 680.9h1.9v8.2h-1.9zM420.9 689.1h1.9v8.2h-1.9zM424.7 689.1h1.9v8.2h-1.9zM424.7 697.2h1.9v8.2h-1.9zM469.9 599.2h1.9v8.2h-1.9zM482.8 607.3h1.9v8.2h-1.9zM466.2 689.1h1.9v8.2h-1.9zM475.4 697.2h1.9v8.2h-1.9zM501.3 697.2h1.9v8.2h-1.9zM518.8 599.2h1.9v8.2h-1.9zM524.3 607.3h1.9v8.2h-1.9zM524.3 623.7h1.9v8.2h-1.9zM544.7 648.2h1.9v8.2h-1.9zM524.3 656.4h1.9v8.2h-1.9zM535.4 664.5h1.9v8.2h-1.9zM544.7 664.5h1.9v8.2h-1.9zM516.9 680.9h1.9v8.2h-1.9zM524.3 680.9h1.9v8.2h-1.9zM556.6 599.2h1.9v8.2h-1.9zM565.8 599.2h1.9v8.2h-1.9zM578.8 599.2h1.9v8.2h-1.9zM584.4 599.2h1.9v8.2h-1.9zM589.9 599.2h1.9v8.2h-1.9zM564 615.5h1.9v8.2h-1.9zM569.5 615.5h1.9v8.2h-1.9zM578.8 615.5h1.9v8.2h-1.9zM582.5 615.5h1.9v8.2h-1.9zM554.7 623.7h1.9v8.2h-1.9zM588.1 631.9h1.9v8.2h-1.9zM582.5 648.2h1.9v8.2h-1.9zM577 656.4h1.9v8.2h-1.9zM558.4 697.2h1.9v8.2h-1.9zM569.5 697.2h1.9v8.2h-1.9zM575.1 697.2h1.9v8.2h-1.9zM578.8 697.2h1.9v8.2h-1.9zM598.1 615.5h1.9v8.2h-1.9zM618.5 615.5h1.9v8.2h-1.9zM598.1 623.7h1.9v8.2h-1.9zM620.3 623.7h1.9v8.2h-1.9zM622.2 623.7h1.9v8.2h-1.9zM618.5 631.9h1.9v8.2h-1.9zM618.5 680.9h1.9v8.2h-1.9z"/><path fill="#f5dad8" d="M38.1 599.2h1.9v8.2h-1.9zM32.6 607.3h1.9v8.2h-1.9zM40 607.3h1.9v8.2h-1.9zM41.8 607.3h1.9v8.2h-1.9zM10.4 623.7h1.9v8.2h-1.9zM27 623.7h1.9v8.2h-1.9zM34.4 623.7h1.9v8.2h-1.9zM12.2 631.9h1.9v8.2h-1.9zM14.1 631.9h1.9v8.2h-1.9zM43.7 631.9h1.9v8.2h-1.9zM38.1 640h1.9v8.2h-1.9zM27 648.2h1.9v8.2h-1.9zM25.2 656.4h1.9v8.2h-1.9zM40 656.4h1.9v8.2h-1.9zM41.8 656.4h1.9v8.2h-1.9zM45.5 656.4h1.9v8.2h-1.9zM17.8 680.9h1.9v8.2h-1.9zM19.6 680.9h1.9v8.2h-1.9zM45.5 680.9h1.9v8.2h-1.9zM36.3 689.1h1.9v8.2h-1.9zM61.1 591h1.9v8.2h-1.9zM66.7 591h1.9v8.2h-1.9zM61.1 599.2h1.9v8.2h-1.9zM79.6 599.2h1.9v8.2h-1.9zM81.5 599.2h1.9v8.2h-1.9zM88.9 615.5h1.9v8.2h-1.9zM94.5 631.9h1.9v8.2h-1.9zM64.8 640h1.9v8.2h-1.9zM85.2 640h1.9v8.2h-1.9zM92.6 640h1.9v8.2h-1.9zM77.8 648.2h1.9v8.2h-1.9zM81.5 656.4h1.9v8.2h-1.9zM88.9 656.4h1.9v8.2h-1.9zM55.6 664.5h1.9v8.2h-1.9zM57.4 664.5h1.9v8.2h-1.9zM74.1 664.5h1.9v8.2h-1.9zM81.5 664.5h1.9v8.2h-1.9zM57.4 672.7h1.9v8.2h-1.9zM74.1 672.7h1.9v8.2h-1.9zM87 672.7h1.9v8.2h-1.9zM81.5 680.9h1.9v8.2h-1.9zM75.9 689.1h1.9v8.2h-1.9zM83.3 689.1h1.9v8.2h-1.9zM85.2 689.1h1.9v8.2h-1.9zM87 689.1h1.9v8.2h-1.9zM57.4 697.2h1.9v8.2h-1.9zM77.8 697.2h1.9v8.2h-1.9zM92.6 697.2h1.9v8.2h-1.9zM98.9 591h1.9v8.2h-1.9zM104.5 591h1.9v8.2h-1.9zM132.3 591h1.9v8.2h-1.9zM128.6 599.2h1.9v8.2h-1.9zM132.3 607.3h1.9v8.2h-1.9zM108.2 615.5h1.9v8.2h-1.9zM98.9 631.9h1.9v8.2h-1.9zM104.5 664.5h1.9v8.2h-1.9zM139.7 664.5h1.9v8.2h-1.9zM123 672.7h1.9v8.2h-1.9zM130.4 672.7h1.9v8.2h-1.9zM104.5 680.9h1.9v8.2h-1.9zM132.3 689.1h1.9v8.2h-1.9zM146 591h1.9v8.2h-1.9zM149.7 591h1.9v8.2h-1.9zM175.6 591h1.9v8.2h-1.9zM177.5 591h1.9v8.2h-1.9zM173.8 599.2h1.9v8.2h-1.9zM177.5 599.2h1.9v8.2h-1.9zM184.9 599.2h1.9v8.2h-1.9zM177.5 607.3h1.9v8.2h-1.9zM144.1 615.5h1.9v8.2h-1.9zM146 615.5h1.9v8.2h-1.9zM166.4 615.5h1.9v8.2h-1.9zM144.1 623.7h1.9v8.2h-1.9zM146 623.7h1.9v8.2h-1.9zM147.8 623.7h1.9v8.2h-1.9zM153.4 623.7h1.9v8.2h-1.9zM170.1 623.7h1.9v8.2h-1.9zM175.6 623.7h1.9v8.2h-1.9zM162.7 631.9h1.9v8.2h-1.9zM164.5 631.9h1.9v8.2h-1.9zM173.8 631.9h1.9v8.2h-1.9zM151.5 640h1.9v8.2h-1.9zM175.6 640h1.9v8.2h-1.9zM177.5 640h1.9v8.2h-1.9zM179.3 640h1.9v8.2h-1.9zM155.2 648.2h1.9v8.2h-1.9zM170.1 648.2h1.9v8.2h-1.9zM177.5 648.2h1.9v8.2h-1.9zM155.2 656.4h1.9v8.2h-1.9zM162.7 656.4h1.9v8.2h-1.9zM164.5 656.4h1.9v8.2h-1.9zM166.4 656.4h1.9v8.2h-1.9zM171.9 656.4h1.9v8.2h-1.9zM164.5 664.5h1.9v8.2h-1.9zM173.8 664.5h1.9v8.2h-1.9zM170.1 672.7h1.9v8.2h-1.9zM179.3 672.7h1.9v8.2h-1.9zM181.2 672.7h1.9v8.2h-1.9zM173.8 680.9h1.9v8.2h-1.9zM179.3 680.9h1.9v8.2h-1.9zM181.2 680.9h1.9v8.2h-1.9zM173.8 689.1h1.9v8.2h-1.9zM181.2 697.2h1.9v8.2h-1.9zM183 697.2h1.9v8.2h-1.9zM189.3 591h1.9v8.2h-1.9zM230.1 591h1.9v8.2h-1.9zM215.3 599.2h1.9v8.2h-1.9zM193 607.3h1.9v8.2h-1.9zM194.9 607.3h1.9v8.2h-1.9zM189.3 631.9h1.9v8.2h-1.9zM191.2 631.9h1.9v8.2h-1.9zM230.1 631.9h1.9v8.2h-1.9zM198.6 648.2h1.9v8.2h-1.9zM202.3 648.2h1.9v8.2h-1.9zM204.2 648.2h1.9v8.2h-1.9zM209.7 648.2h1.9v8.2h-1.9zM211.6 648.2h1.9v8.2h-1.9zM189.3 656.4h1.9v8.2h-1.9zM202.3 664.5h1.9v8.2h-1.9zM230.1 664.5h1.9v8.2h-1.9zM191.2 672.7h1.9v8.2h-1.9zM194.9 672.7h1.9v8.2h-1.9zM198.6 672.7h1.9v8.2h-1.9zM213.4 672.7h1.9v8.2h-1.9zM215.3 672.7h1.9v8.2h-1.9zM189.3 680.9h1.9v8.2h-1.9zM194.9 680.9h1.9v8.2h-1.9zM213.4 680.9h1.9v8.2h-1.9zM219 680.9h1.9v8.2h-1.9zM220.8 680.9h1.9v8.2h-1.9zM194.9 697.2h1.9v8.2h-1.9zM234.6 591h1.9v8.2h-1.9zM266 591h1.9v8.2h-1.9zM240.1 599.2h1.9v8.2h-1.9zM267.9 599.2h1.9v8.2h-1.9zM271.6 599.2h1.9v8.2h-1.9zM273.4 607.3h1.9v8.2h-1.9zM267.9 615.5h1.9v8.2h-1.9zM251.2 623.7h1.9v8.2h-1.9zM242 640h1.9v8.2h-1.9zM243.8 640h1.9v8.2h-1.9zM264.2 640h1.9v8.2h-1.9zM269.7 640h1.9v8.2h-1.9zM266 648.2h1.9v8.2h-1.9zM267.9 648.2h1.9v8.2h-1.9zM271.6 648.2h1.9v8.2h-1.9zM236.4 656.4h1.9v8.2h-1.9zM242 656.4h1.9v8.2h-1.9zM245.7 656.4h1.9v8.2h-1.9zM260.5 656.4h1.9v8.2h-1.9zM275.3 656.4h1.9v8.2h-1.9zM266 664.5h1.9v8.2h-1.9zM254.9 672.7h1.9v8.2h-1.9zM245.7 680.9h1.9v8.2h-1.9zM275.3 680.9h1.9v8.2h-1.9zM262.3 697.2h1.9v8.2h-1.9zM269.7 697.2h1.9v8.2h-1.9zM281.6 591h1.9v8.2h-1.9zM309.4 591h1.9v8.2h-1.9zM281.6 599.2h1.9v8.2h-1.9zM309.4 599.2h1.9v8.2h-1.9zM279.8 607.3h1.9v8.2h-1.9zM290.9 607.3h1.9v8.2h-1.9zM292.7 607.3h1.9v8.2h-1.9zM298.3 607.3h1.9v8.2h-1.9zM309.4 607.3h1.9v8.2h-1.9zM318.7 607.3h1.9v8.2h-1.9zM320.5 607.3h1.9v8.2h-1.9zM283.5 615.5h1.9v8.2h-1.9zM285.3 615.5h1.9v8.2h-1.9zM307.5 615.5h1.9v8.2h-1.9zM313.1 615.5h1.9v8.2h-1.9zM281.6 623.7h1.9v8.2h-1.9zM292.7 623.7h1.9v8.2h-1.9zM294.6 623.7h1.9v8.2h-1.9zM296.4 623.7h1.9v8.2h-1.9zM283.5 631.9h1.9v8.2h-1.9zM283.5 640h1.9v8.2h-1.9zM285.3 640h1.9v8.2h-1.9zM287.2 640h1.9v8.2h-1.9zM313.1 648.2h1.9v8.2h-1.9zM318.7 648.2h1.9v8.2h-1.9zM281.6 656.4h1.9v8.2h-1.9zM302 656.4h1.9v8.2h-1.9zM283.5 664.5h1.9v8.2h-1.9zM285.3 664.5h1.9v8.2h-1.9zM294.6 664.5h1.9v8.2h-1.9zM305.7 664.5h1.9v8.2h-1.9zM318.7 664.5h1.9v8.2h-1.9zM294.6 672.7h1.9v8.2h-1.9zM305.7 672.7h1.9v8.2h-1.9zM313.1 672.7h1.9v8.2h-1.9zM294.6 680.9h1.9v8.2h-1.9zM305.7 680.9h1.9v8.2h-1.9zM307.5 680.9h1.9v8.2h-1.9zM313.1 680.9h1.9v8.2h-1.9zM337.9 591h1.9v8.2h-1.9zM347.2 591h1.9v8.2h-1.9zM354.6 591h1.9v8.2h-1.9zM360.2 591h1.9v8.2h-1.9zM362 591h1.9v8.2h-1.9zM332.4 599.2h1.9v8.2h-1.9zM347.2 599.2h1.9v8.2h-1.9zM349 599.2h1.9v8.2h-1.9zM365.7 599.2h1.9v8.2h-1.9zM347.2 607.3h1.9v8.2h-1.9zM354.6 607.3h1.9v8.2h-1.9zM356.5 607.3h1.9v8.2h-1.9zM326.8 631.9h1.9v8.2h-1.9zM349 631.9h1.9v8.2h-1.9zM330.5 640h1.9v8.2h-1.9zM362 640h1.9v8.2h-1.9zM332.4 648.2h1.9v8.2h-1.9zM343.5 648.2h1.9v8.2h-1.9zM345.3 648.2h1.9v8.2h-1.9zM354.6 648.2h1.9v8.2h-1.9zM362 664.5h1.9v8.2h-1.9zM345.3 680.9h1.9v8.2h-1.9zM347.2 680.9h1.9v8.2h-1.9zM372 591h1.9v8.2h-1.9zM385 591h1.9v8.2h-1.9zM370.2 599.2h1.9v8.2h-1.9zM410.9 599.2h1.9v8.2h-1.9zM370.2 607.3h1.9v8.2h-1.9zM407.2 607.3h1.9v8.2h-1.9zM386.8 615.5h1.9v8.2h-1.9zM390.6 623.7h1.9v8.2h-1.9zM399.8 623.7h1.9v8.2h-1.9zM401.7 623.7h1.9v8.2h-1.9zM394.3 631.9h1.9v8.2h-1.9zM410.9 631.9h1.9v8.2h-1.9zM392.4 640h1.9v8.2h-1.9zM410.9 648.2h1.9v8.2h-1.9zM383.1 664.5h1.9v8.2h-1.9zM409.1 664.5h1.9v8.2h-1.9zM386.8 672.7h1.9v8.2h-1.9zM399.8 672.7h1.9v8.2h-1.9zM372 680.9h1.9v8.2h-1.9zM386.8 689.1h1.9v8.2h-1.9zM399.8 689.1h1.9v8.2h-1.9zM419.1 591h1.9v8.2h-1.9zM437.6 591h1.9v8.2h-1.9zM417.2 599.2h1.9v8.2h-1.9zM456.1 599.2h1.9v8.2h-1.9zM432.1 615.5h1.9v8.2h-1.9zM450.6 623.7h1.9v8.2h-1.9zM456.1 623.7h1.9v8.2h-1.9zM433.9 631.9h1.9v8.2h-1.9zM445 631.9h1.9v8.2h-1.9zM428.4 640h1.9v8.2h-1.9zM445 640h1.9v8.2h-1.9zM452.4 640h1.9v8.2h-1.9zM424.7 648.2h1.9v8.2h-1.9zM454.3 648.2h1.9v8.2h-1.9zM420.9 656.4h1.9v8.2h-1.9zM428.4 656.4h1.9v8.2h-1.9zM422.8 664.5h1.9v8.2h-1.9zM428.4 664.5h1.9v8.2h-1.9zM422.8 672.7h1.9v8.2h-1.9zM439.5 672.7h1.9v8.2h-1.9zM419.1 680.9h1.9v8.2h-1.9zM415.4 689.1h1.9v8.2h-1.9zM448.7 689.1h1.9v8.2h-1.9zM456.1 689.1h1.9v8.2h-1.9zM417.2 697.2h1.9v8.2h-1.9zM462.5 591h1.9v8.2h-1.9zM486.5 599.2h1.9v8.2h-1.9zM501.3 607.3h1.9v8.2h-1.9zM462.5 615.5h1.9v8.2h-1.9zM488.4 615.5h1.9v8.2h-1.9zM486.5 623.7h1.9v8.2h-1.9zM493.9 623.7h1.9v8.2h-1.9zM460.6 631.9h1.9v8.2h-1.9zM464.3 631.9h1.9v8.2h-1.9zM473.6 631.9h1.9v8.2h-1.9zM475.4 648.2h1.9v8.2h-1.9zM460.6 656.4h1.9v8.2h-1.9zM469.9 656.4h1.9v8.2h-1.9zM475.4 656.4h1.9v8.2h-1.9zM477.3 656.4h1.9v8.2h-1.9zM462.5 664.5h1.9v8.2h-1.9zM473.6 664.5h1.9v8.2h-1.9zM486.5 664.5h1.9v8.2h-1.9zM490.2 664.5h1.9v8.2h-1.9zM501.3 664.5h1.9v8.2h-1.9zM462.5 672.7h1.9v8.2h-1.9zM466.2 672.7h1.9v8.2h-1.9zM464.3 680.9h1.9v8.2h-1.9zM479.1 689.1h1.9v8.2h-1.9zM499.5 689.1h1.9v8.2h-1.9zM471.7 697.2h1.9v8.2h-1.9zM529.9 591h1.9v8.2h-1.9zM544.7 599.2h1.9v8.2h-1.9zM522.5 607.3h1.9v8.2h-1.9zM515.1 623.7h1.9v8.2h-1.9zM520.6 623.7h1.9v8.2h-1.9zM520.6 631.9h1.9v8.2h-1.9zM528 640h1.9v8.2h-1.9zM535.4 640h1.9v8.2h-1.9zM544.7 640h1.9v8.2h-1.9zM513.2 656.4h1.9v8.2h-1.9zM516.9 656.4h1.9v8.2h-1.9zM528 656.4h1.9v8.2h-1.9zM529.9 656.4h1.9v8.2h-1.9zM505.8 664.5h1.9v8.2h-1.9zM515.1 664.5h1.9v8.2h-1.9zM541 664.5h1.9v8.2h-1.9zM544.7 672.7h1.9v8.2h-1.9zM529.9 689.1h1.9v8.2h-1.9zM526.2 697.2h1.9v8.2h-1.9zM552.9 591h1.9v8.2h-1.9zM558.4 591h1.9v8.2h-1.9zM560.3 591h1.9v8.2h-1.9zM565.8 591h1.9v8.2h-1.9zM552.9 599.2h1.9v8.2h-1.9zM554.7 599.2h1.9v8.2h-1.9zM573.2 599.2h1.9v8.2h-1.9zM580.7 599.2h1.9v8.2h-1.9zM551 607.3h1.9v8.2h-1.9zM571.4 607.3h1.9v8.2h-1.9zM560.3 615.5h1.9v8.2h-1.9zM575.1 615.5h1.9v8.2h-1.9zM556.6 623.7h1.9v8.2h-1.9zM565.8 623.7h1.9v8.2h-1.9zM577 623.7h1.9v8.2h-1.9zM552.9 631.9h1.9v8.2h-1.9zM560.3 631.9h1.9v8.2h-1.9zM586.2 631.9h1.9v8.2h-1.9zM582.5 640h1.9v8.2h-1.9zM580.7 648.2h1.9v8.2h-1.9zM588.1 648.2h1.9v8.2h-1.9zM552.9 656.4h1.9v8.2h-1.9zM584.4 656.4h1.9v8.2h-1.9zM569.5 664.5h1.9v8.2h-1.9zM554.7 672.7h1.9v8.2h-1.9zM564 672.7h1.9v8.2h-1.9zM580.7 672.7h1.9v8.2h-1.9zM584.4 672.7h1.9v8.2h-1.9zM591.8 672.7h1.9v8.2h-1.9zM565.8 680.9h1.9v8.2h-1.9zM589.9 680.9h1.9v8.2h-1.9zM554.7 689.1h1.9v8.2h-1.9zM562.1 689.1h1.9v8.2h-1.9zM577 689.1h1.9v8.2h-1.9zM589.9 689.1h1.9v8.2h-1.9zM584.4 697.2h1.9v8.2h-1.9zM622.2 591h1.9v8.2h-1.9zM601.8 599.2h1.9v8.2h-1.9zM631.4 599.2h1.9v8.2h-1.9zM635.1 599.2h1.9v8.2h-1.9zM620.3 615.5h1.9v8.2h-1.9zM618.5 623.7h1.9v8.2h-1.9zM627.7 623.7h1.9v8.2h-1.9zM629.6 623.7h1.9v8.2h-1.9zM635.1 623.7h1.9v8.2h-1.9zM611 631.9h1.9v8.2h-1.9zM625.9 631.9h1.9v8.2h-1.9zM603.6 648.2h1.9v8.2h-1.9zM605.5 648.2h1.9v8.2h-1.9zM599.9 656.4h1.9v8.2h-1.9zM633.3 656.4h1.9v8.2h-1.9zM612.9 680.9h1.9v8.2h-1.9zM631.4 680.9h1.9v8.2h-1.9zM618.5 689.1h1.9v8.2h-1.9zM627.7 689.1h1.9v8.2h-1.9zM631.4 689.1h1.9v8.2h-1.9zM611 697.2h1.9v8.2h-1.9z"/><path fill="#eef0f4" d="M45.5 599.2h1.9v8.2h-1.9zM14.1 615.5h1.9v8.2h-1.9zM15.9 615.5h1.9v8.2h-1.9zM30.7 615.5h1.9v8.2h-1.9zM41.8 623.7h1.9v8.2h-1.9zM47.4 623.7h1.9v8.2h-1.9zM8.5 640h1.9v8.2h-1.9zM12.2 640h1.9v8.2h-1.9zM32.6 640h1.9v8.2h-1.9zM36.3 640h1.9v8.2h-1.9zM19.6 648.2h1.9v8.2h-1.9zM12.2 656.4h1.9v8.2h-1.9zM28.9 664.5h1.9v8.2h-1.9zM34.4 664.5h1.9v8.2h-1.9zM38.1 664.5h1.9v8.2h-1.9zM47.4 672.7h1.9v8.2h-1.9zM14.1 680.9h1.9v8.2h-1.9zM34.4 680.9h1.9v8.2h-1.9zM38.1 680.9h1.9v8.2h-1.9zM41.8 680.9h1.9v8.2h-1.9zM23.3 697.2h1.9v8.2h-1.9zM57.4 599.2h1.9v8.2h-1.9zM64.8 599.2h1.9v8.2h-1.9zM66.7 599.2h1.9v8.2h-1.9zM87 607.3h1.9v8.2h-1.9zM64.8 615.5h1.9v8.2h-1.9zM59.3 623.7h1.9v8.2h-1.9zM64.8 623.7h1.9v8.2h-1.9zM85.2 623.7h1.9v8.2h-1.9zM94.5 623.7h1.9v8.2h-1.9zM68.5 656.4h1.9v8.2h-1.9zM87 656.4h1.9v8.2h-1.9zM61.1 664.5h1.9v8.2h-1.9zM64.8 664.5h1.9v8.2h-1.9zM68.5 672.7h1.9v8.2h-1.9zM90.8 672.7h1.9v8.2h-1.9zM64.8 680.9h1.9v8.2h-1.9zM53.7 689.1h1.9v8.2h-1.9zM61.1 689.1h1.9v8.2h-1.9zM61.1 697.2h1.9v8.2h-1.9zM64.8 697.2h1.9v8.2h-1.9zM72.2 697.2h1.9v8.2h-1.9zM75.9 697.2h1.9v8.2h-1.9zM81.5 697.2h1.9v8.2h-1.9zM106.3 591h1.9v8.2h-1.9zM108.2 599.2h1.9v8.2h-1.9zM137.8 623.7h1.9v8.2h-1.9zM123 640h1.9v8.2h-1.9zM126.7 648.2h1.9v8.2h-1.9zM98.9 672.7h1.9v8.2h-1.9zM108.2 672.7h1.9v8.2h-1.9zM132.3 672.7h1.9v8.2h-1.9zM134.1 672.7h1.9v8.2h-1.9zM100.8 680.9h1.9v8.2h-1.9zM102.6 689.1h1.9v8.2h-1.9zM139.7 689.1h1.9v8.2h-1.9zM184.9 591h1.9v8.2h-1.9zM160.8 599.2h1.9v8.2h-1.9zM157.1 607.3h1.9v8.2h-1.9zM183 607.3h1.9v8.2h-1.9zM147.8 615.5h1.9v8.2h-1.9zM162.7 615.5h1.9v8.2h-1.9zM175.6 615.5h1.9v8.2h-1.9zM181.2 615.5h1.9v8.2h-1.9zM183 615.5h1.9v8.2h-1.9zM177.5 623.7h1.9v8.2h-1.9zM153.4 631.9h1.9v8.2h-1.9zM160.8 631.9h1.9v8.2h-1.9zM179.3 631.9h1.9v8.2h-1.9zM183 648.2h1.9v8.2h-1.9zM149.7 656.4h1.9v8.2h-1.9zM162.7 672.7h1.9v8.2h-1.9zM164.5 672.7h1.9v8.2h-1.9zM175.6 672.7h1.9v8.2h-1.9zM149.7 697.2h1.9v8.2h-1.9zM164.5 697.2h1.9v8.2h-1.9zM168.2 697.2h1.9v8.2h-1.9zM177.5 697.2h1.9v8.2h-1.9zM179.3 697.2h1.9v8.2h-1.9zM194.9 599.2h1.9v8.2h-1.9zM213.4 599.2h1.9v8.2h-1.9zM217.1 599.2h1.9v8.2h-1.9zM230.1 599.2h1.9v8.2h-1.9zM222.7 607.3h1.9v8.2h-1.9zM189.3 623.7h1.9v8.2h-1.9zM193 623.7h1.9v8.2h-1.9zM196.7 623.7h1.9v8.2h-1.9zM193 648.2h1.9v8.2h-1.9zM226.4 648.2h1.9v8.2h-1.9zM204.2 656.4h1.9v8.2h-1.9zM206 656.4h1.9v8.2h-1.9zM220.8 656.4h1.9v8.2h-1.9zM207.9 664.5h1.9v8.2h-1.9zM226.4 664.5h1.9v8.2h-1.9zM204.2 680.9h1.9v8.2h-1.9zM228.2 680.9h1.9v8.2h-1.9zM215.3 689.1h1.9v8.2h-1.9zM224.5 689.1h1.9v8.2h-1.9zM226.4 697.2h1.9v8.2h-1.9zM228.2 697.2h1.9v8.2h-1.9zM230.1 697.2h1.9v8.2h-1.9zM234.6 607.3h1.9v8.2h-1.9zM234.6 623.7h1.9v8.2h-1.9zM238.3 623.7h1.9v8.2h-1.9zM245.7 623.7h1.9v8.2h-1.9zM253.1 623.7h1.9v8.2h-1.9zM264.2 623.7h1.9v8.2h-1.9zM266 623.7h1.9v8.2h-1.9zM242 631.9h1.9v8.2h-1.9zM258.6 631.9h1.9v8.2h-1.9zM245.7 640h1.9v8.2h-1.9zM260.5 640h1.9v8.2h-1.9zM234.6 648.2h1.9v8.2h-1.9zM238.3 648.2h1.9v8.2h-1.9zM234.6 656.4h1.9v8.2h-1.9zM254.9 656.4h1.9v8.2h-1.9zM262.3 656.4h1.9v8.2h-1.9zM247.5 664.5h1.9v8.2h-1.9zM245.7 672.7h1.9v8.2h-1.9zM260.5 680.9h1.9v8.2h-1.9zM242 689.1h1.9v8.2h-1.9zM247.5 689.1h1.9v8.2h-1.9zM242 697.2h1.9v8.2h-1.9zM271.6 697.2h1.9v8.2h-1.9zM296.4 591h1.9v8.2h-1.9zM287.2 599.2h1.9v8.2h-1.9zM294.6 599.2h1.9v8.2h-1.9zM289 607.3h1.9v8.2h-1.9zM289 615.5h1.9v8.2h-1.9zM290.9 615.5h1.9v8.2h-1.9zM315 615.5h1.9v8.2h-1.9zM283.5 623.7h1.9v8.2h-1.9zM309.4 623.7h1.9v8.2h-1.9zM318.7 623.7h1.9v8.2h-1.9zM313.1 631.9h1.9v8.2h-1.9zM318.7 631.9h1.9v8.2h-1.9zM289 640h1.9v8.2h-1.9zM294.6 648.2h1.9v8.2h-1.9zM298.3 648.2h1.9v8.2h-1.9zM318.7 656.4h1.9v8.2h-1.9zM279.8 672.7h1.9v8.2h-1.9zM287.2 672.7h1.9v8.2h-1.9zM316.8 672.7h1.9v8.2h-1.9zM292.7 680.9h1.9v8.2h-1.9zM281.6 689.1h1.9v8.2h-1.9zM287.2 689.1h1.9v8.2h-1.9zM298.3 689.1h1.9v8.2h-1.9zM336.1 591h1.9v8.2h-1.9zM341.6 591h1.9v8.2h-1.9zM325 599.2h1.9v8.2h-1.9zM358.3 599.2h1.9v8.2h-1.9zM360.2 599.2h1.9v8.2h-1.9zM350.9 607.3h1.9v8.2h-1.9zM365.7 607.3h1.9v8.2h-1.9zM325 615.5h1.9v8.2h-1.9zM334.2 615.5h1.9v8.2h-1.9zM350.9 615.5h1.9v8.2h-1.9zM356.5 623.7h1.9v8.2h-1.9zM365.7 623.7h1.9v8.2h-1.9zM328.7 640h1.9v8.2h-1.9zM332.4 640h1.9v8.2h-1.9zM360.2 640h1.9v8.2h-1.9zM339.8 648.2h1.9v8.2h-1.9zM345.3 656.4h1.9v8.2h-1.9zM349 656.4h1.9v8.2h-1.9zM350.9 656.4h1.9v8.2h-1.9zM326.8 664.5h1.9v8.2h-1.9zM328.7 680.9h1.9v8.2h-1.9zM358.3 680.9h1.9v8.2h-1.9zM360.2 680.9h1.9v8.2h-1.9zM354.6 689.1h1.9v8.2h-1.9zM356.5 689.1h1.9v8.2h-1.9zM403.5 591h1.9v8.2h-1.9zM390.6 599.2h1.9v8.2h-1.9zM407.2 599.2h1.9v8.2h-1.9zM409.1 599.2h1.9v8.2h-1.9zM383.1 607.3h1.9v8.2h-1.9zM388.7 607.3h1.9v8.2h-1.9zM396.1 607.3h1.9v8.2h-1.9zM401.7 607.3h1.9v8.2h-1.9zM373.9 615.5h1.9v8.2h-1.9zM381.3 615.5h1.9v8.2h-1.9zM390.6 615.5h1.9v8.2h-1.9zM370.2 623.7h1.9v8.2h-1.9zM381.3 623.7h1.9v8.2h-1.9zM383.1 631.9h1.9v8.2h-1.9zM409.1 631.9h1.9v8.2h-1.9zM403.5 640h1.9v8.2h-1.9zM409.1 640h1.9v8.2h-1.9zM409.1 648.2h1.9v8.2h-1.9zM399.8 656.4h1.9v8.2h-1.9zM381.3 664.5h1.9v8.2h-1.9zM390.6 664.5h1.9v8.2h-1.9zM396.1 664.5h1.9v8.2h-1.9zM383.1 680.9h1.9v8.2h-1.9zM370.2 689.1h1.9v8.2h-1.9zM398 689.1h1.9v8.2h-1.9zM405.4 689.1h1.9v8.2h-1.9zM450.6 607.3h1.9v8.2h-1.9zM432.1 623.7h1.9v8.2h-1.9zM454.3 623.7h1.9v8.2h-1.9zM435.8 640h1.9v8.2h-1.9zM432.1 648.2h1.9v8.2h-1.9zM437.6 648.2h1.9v8.2h-1.9zM433.9 656.4h1.9v8.2h-1.9zM417.2 664.5h1.9v8.2h-1.9zM424.7 664.5h1.9v8.2h-1.9zM430.2 672.7h1.9v8.2h-1.9zM446.9 672.7h1.9v8.2h-1.9zM454.3 672.7h1.9v8.2h-1.9zM432.1 680.9h1.9v8.2h-1.9zM446.9 680.9h1.9v8.2h-1.9zM426.5 689.1h1.9v8.2h-1.9zM430.2 689.1h1.9v8.2h-1.9zM430.2 697.2h1.9v8.2h-1.9zM450.6 697.2h1.9v8.2h-1.9zM454.3 697.2h1.9v8.2h-1.9zM456.1 697.2h1.9v8.2h-1.9zM475.4 591h1.9v8.2h-1.9zM479.1 591h1.9v8.2h-1.9zM497.6 591h1.9v8.2h-1.9zM497.6 607.3h1.9v8.2h-1.9zM484.7 615.5h1.9v8.2h-1.9zM468 623.7h1.9v8.2h-1.9zM482.8 623.7h1.9v8.2h-1.9zM471.7 631.9h1.9v8.2h-1.9zM466.2 640h1.9v8.2h-1.9zM468 640h1.9v8.2h-1.9zM479.1 648.2h1.9v8.2h-1.9zM468 656.4h1.9v8.2h-1.9zM484.7 656.4h1.9v8.2h-1.9zM488.4 656.4h1.9v8.2h-1.9zM492.1 664.5h1.9v8.2h-1.9zM479.1 672.7h1.9v8.2h-1.9zM484.7 672.7h1.9v8.2h-1.9zM481 680.9h1.9v8.2h-1.9zM495.8 680.9h1.9v8.2h-1.9zM482.8 689.1h1.9v8.2h-1.9zM488.4 689.1h1.9v8.2h-1.9zM469.9 697.2h1.9v8.2h-1.9zM481 697.2h1.9v8.2h-1.9zM513.2 591h1.9v8.2h-1.9zM535.4 599.2h1.9v8.2h-1.9zM537.3 599.2h1.9v8.2h-1.9zM513.2 615.5h1.9v8.2h-1.9zM535.4 615.5h1.9v8.2h-1.9zM544.7 615.5h1.9v8.2h-1.9zM522.5 623.7h1.9v8.2h-1.9zM526.2 631.9h1.9v8.2h-1.9zM533.6 631.9h1.9v8.2h-1.9zM533.6 648.2h1.9v8.2h-1.9zM539.1 648.2h1.9v8.2h-1.9zM505.8 656.4h1.9v8.2h-1.9zM518.8 656.4h1.9v8.2h-1.9zM513.2 664.5h1.9v8.2h-1.9zM528 664.5h1.9v8.2h-1.9zM531.7 664.5h1.9v8.2h-1.9zM515.1 680.9h1.9v8.2h-1.9zM526.2 680.9h1.9v8.2h-1.9zM546.6 680.9h1.9v8.2h-1.9zM515.1 689.1h1.9v8.2h-1.9zM518.8 689.1h1.9v8.2h-1.9zM522.5 697.2h1.9v8.2h-1.9zM546.6 697.2h1.9v8.2h-1.9zM567.7 591h1.9v8.2h-1.9zM580.7 591h1.9v8.2h-1.9zM586.2 591h1.9v8.2h-1.9zM552.9 607.3h1.9v8.2h-1.9zM591.8 607.3h1.9v8.2h-1.9zM580.7 615.5h1.9v8.2h-1.9zM551 631.9h1.9v8.2h-1.9zM552.9 640h1.9v8.2h-1.9zM564 640h1.9v8.2h-1.9zM567.7 640h1.9v8.2h-1.9zM571.4 640h1.9v8.2h-1.9zM580.7 640h1.9v8.2h-1.9zM589.9 640h1.9v8.2h-1.9zM577 648.2h1.9v8.2h-1.9zM571.4 656.4h1.9v8.2h-1.9zM586.2 656.4h1.9v8.2h-1.9zM589.9 656.4h1.9v8.2h-1.9zM554.7 664.5h1.9v8.2h-1.9zM573.2 664.5h1.9v8.2h-1.9zM577 664.5h1.9v8.2h-1.9zM586.2 672.7h1.9v8.2h-1.9zM564 680.9h1.9v8.2h-1.9zM577 680.9h1.9v8.2h-1.9zM588.1 680.9h1.9v8.2h-1.9zM552.9 697.2h1.9v8.2h-1.9zM567.7 697.2h1.9v8.2h-1.9zM571.4 697.2h1.9v8.2h-1.9zM603.6 591h1.9v8.2h-1.9zM637 599.2h1.9v8.2h-1.9zM635.1 607.3h1.9v8.2h-1.9zM637 607.3h1.9v8.2h-1.9zM627.7 615.5h1.9v8.2h-1.9zM629.6 615.5h1.9v8.2h-1.9zM596.2 631.9h1.9v8.2h-1.9zM629.6 631.9h1.9v8.2h-1.9zM622.2 640h1.9v8.2h-1.9zM633.3 640h1.9v8.2h-1.9zM609.2 648.2h1.9v8.2h-1.9zM612.9 648.2h1.9v8.2h-1.9zM629.6 648.2h1.9v8.2h-1.9zM601.8 656.4h1.9v8.2h-1.9zM607.3 656.4h1.9v8.2h-1.9zM633.3 664.5h1.9v8.2h-1.9zM596.2 672.7h1.9v8.2h-1.9zM611 672.7h1.9v8.2h-1.9zM625.9 672.7h1.9v8.2h-1.9zM627.7 672.7h1.9v8.2h-1.9zM637 672.7h1.9v8.2h-1.9zM596.2 680.9h1.9v8.2h-1.9zM637 680.9h1.9v8.2h-1.9zM625.9 689.1h1.9v8.2h-1.9zM631.4 697.2h1.9v8.2h-1.9z"/><path fill="#cedaed" d="M49.2 599.2h1.9v8.2h-1.9zM8.5 607.3h1.9v8.2h-1.9zM17.8 607.3h1.9v8.2h-1.9zM34.4 615.5h1.9v8.2h-1.9zM8.5 623.7h1.9v8.2h-1.9zM38.1 623.7h1.9v8.2h-1.9zM34.4 640h1.9v8.2h-1.9zM17.8 648.2h1.9v8.2h-1.9zM40 648.2h1.9v8.2h-1.9zM10.4 656.4h1.9v8.2h-1.9zM34.4 656.4h1.9v8.2h-1.9zM8.5 672.7h1.9v8.2h-1.9zM12.2 672.7h1.9v8.2h-1.9zM15.9 672.7h1.9v8.2h-1.9zM38.1 672.7h1.9v8.2h-1.9zM49.2 672.7h1.9v8.2h-1.9zM32.6 680.9h1.9v8.2h-1.9zM8.5 689.1h1.9v8.2h-1.9zM27 697.2h1.9v8.2h-1.9zM63 591h1.9v8.2h-1.9zM90.8 599.2h1.9v8.2h-1.9zM68.5 615.5h1.9v8.2h-1.9zM90.8 631.9h1.9v8.2h-1.9zM53.7 672.7h1.9v8.2h-1.9zM55.6 672.7h1.9v8.2h-1.9zM63 672.7h1.9v8.2h-1.9zM90.8 697.2h1.9v8.2h-1.9zM137.8 591h1.9v8.2h-1.9zM136 599.2h1.9v8.2h-1.9zM104.5 640h1.9v8.2h-1.9zM124.9 640h1.9v8.2h-1.9zM134.1 640h1.9v8.2h-1.9zM106.3 656.4h1.9v8.2h-1.9zM106.3 664.5h1.9v8.2h-1.9zM126.7 680.9h1.9v8.2h-1.9zM164.5 607.3h1.9v8.2h-1.9zM151.5 615.5h1.9v8.2h-1.9zM179.3 615.5h1.9v8.2h-1.9zM171.9 623.7h1.9v8.2h-1.9zM157.1 672.7h1.9v8.2h-1.9zM170.1 680.9h1.9v8.2h-1.9zM230.1 623.7h1.9v8.2h-1.9zM228.2 631.9h1.9v8.2h-1.9zM194.9 656.4h1.9v8.2h-1.9zM219 656.4h1.9v8.2h-1.9zM226.4 656.4h1.9v8.2h-1.9zM194.9 664.5h1.9v8.2h-1.9zM217.1 664.5h1.9v8.2h-1.9zM196.7 689.1h1.9v8.2h-1.9zM207.9 689.1h1.9v8.2h-1.9zM226.4 689.1h1.9v8.2h-1.9zM206 697.2h1.9v8.2h-1.9zM267.9 607.3h1.9v8.2h-1.9zM242 648.2h1.9v8.2h-1.9zM247.5 648.2h1.9v8.2h-1.9zM271.6 664.5h1.9v8.2h-1.9zM254.9 689.1h1.9v8.2h-1.9zM238.3 697.2h1.9v8.2h-1.9zM247.5 697.2h1.9v8.2h-1.9zM266 697.2h1.9v8.2h-1.9zM287.2 591h1.9v8.2h-1.9zM294.6 591h1.9v8.2h-1.9zM298.3 591h1.9v8.2h-1.9zM305.7 591h1.9v8.2h-1.9zM318.7 591h1.9v8.2h-1.9zM279.8 599.2h1.9v8.2h-1.9zM316.8 623.7h1.9v8.2h-1.9zM287.2 631.9h1.9v8.2h-1.9zM300.1 631.9h1.9v8.2h-1.9zM311.2 640h1.9v8.2h-1.9zM279.8 664.5h1.9v8.2h-1.9zM300.1 664.5h1.9v8.2h-1.9zM302 664.5h1.9v8.2h-1.9zM315 664.5h1.9v8.2h-1.9zM300.1 689.1h1.9v8.2h-1.9zM307.5 689.1h1.9v8.2h-1.9zM315 689.1h1.9v8.2h-1.9zM339.8 591h1.9v8.2h-1.9zM350.9 599.2h1.9v8.2h-1.9zM356.5 615.5h1.9v8.2h-1.9zM334.2 631.9h1.9v8.2h-1.9zM347.2 640h1.9v8.2h-1.9zM358.3 640h1.9v8.2h-1.9zM325 656.4h1.9v8.2h-1.9zM339.8 672.7h1.9v8.2h-1.9zM350.9 680.9h1.9v8.2h-1.9zM377.6 591h1.9v8.2h-1.9zM388.7 599.2h1.9v8.2h-1.9zM390.6 631.9h1.9v8.2h-1.9zM396.1 631.9h1.9v8.2h-1.9zM372 640h1.9v8.2h-1.9zM379.4 640h1.9v8.2h-1.9zM399.8 648.2h1.9v8.2h-1.9zM385 656.4h1.9v8.2h-1.9zM392.4 680.9h1.9v8.2h-1.9zM405.4 680.9h1.9v8.2h-1.9zM388.7 689.1h1.9v8.2h-1.9zM426.5 591h1.9v8.2h-1.9zM448.7 615.5h1.9v8.2h-1.9zM456.1 615.5h1.9v8.2h-1.9zM426.5 631.9h1.9v8.2h-1.9zM430.2 631.9h1.9v8.2h-1.9zM435.8 656.4h1.9v8.2h-1.9zM437.6 656.4h1.9v8.2h-1.9zM454.3 664.5h1.9v8.2h-1.9zM450.6 680.9h1.9v8.2h-1.9zM481 591h1.9v8.2h-1.9zM484.7 591h1.9v8.2h-1.9zM497.6 615.5h1.9v8.2h-1.9zM469.9 640h1.9v8.2h-1.9zM486.5 648.2h1.9v8.2h-1.9zM495.8 656.4h1.9v8.2h-1.9zM469.9 664.5h1.9v8.2h-1.9zM493.9 664.5h1.9v8.2h-1.9zM484.7 680.9h1.9v8.2h-1.9zM488.4 680.9h1.9v8.2h-1.9zM471.7 689.1h1.9v8.2h-1.9zM518.8 591h1.9v8.2h-1.9zM505.8 607.3h1.9v8.2h-1.9zM505.8 615.5h1.9v8.2h-1.9zM522.5 615.5h1.9v8.2h-1.9zM509.5 631.9h1.9v8.2h-1.9zM516.9 631.9h1.9v8.2h-1.9zM522.5 631.9h1.9v8.2h-1.9zM541 631.9h1.9v8.2h-1.9zM513.2 640h1.9v8.2h-1.9zM531.7 656.4h1.9v8.2h-1.9zM509.5 672.7h1.9v8.2h-1.9zM518.8 672.7h1.9v8.2h-1.9zM513.2 689.1h1.9v8.2h-1.9zM539.1 689.1h1.9v8.2h-1.9zM544.7 689.1h1.9v8.2h-1.9zM531.7 697.2h1.9v8.2h-1.9zM586.2 607.3h1.9v8.2h-1.9zM551 615.5h1.9v8.2h-1.9zM560.3 640h1.9v8.2h-1.9zM565.8 648.2h1.9v8.2h-1.9zM573.2 648.2h1.9v8.2h-1.9zM552.9 664.5h1.9v8.2h-1.9zM562.1 680.9h1.9v8.2h-1.9zM627.7 591h1.9v8.2h-1.9zM629.6 591h1.9v8.2h-1.9zM637 591h1.9v8.2h-1.9zM601.8 607.3h1.9v8.2h-1.9zM624 615.5h1.9v8.2h-1.9zM598.1 640h1.9v8.2h-1.9zM601.8 640h1.9v8.2h-1.9zM616.6 640h1.9v8.2h-1.9zM625.9 656.4h1.9v8.2h-1.9zM631.4 656.4h1.9v8.2h-1.9zM631.4 664.5h1.9v8.2h-1.9zM635.1 680.9h1.9v8.2h-1.9z"/><path fill="#831919" d="M21.5 607.3h1.9v8.2h-1.9zM23.3 607.3h1.9v8.2h-1.9zM25.2 615.5h1.9v8.2h-1.9zM25.2 640h1.9v8.2h-1.9zM110 664.5h1.9v8.2h-1.9zM130.4 697.2h1.9v8.2h-1.9zM155.2 615.5h1.9v8.2h-1.9zM158.9 623.7h1.9v8.2h-1.9zM204.2 591h1.9v8.2h-1.9zM204.2 640h1.9v8.2h-1.9zM253.1 615.5h1.9v8.2h-1.9zM283.5 697.2h1.9v8.2h-1.9zM292.7 697.2h1.9v8.2h-1.9zM339.8 599.2h1.9v8.2h-1.9zM337.9 631.9h1.9v8.2h-1.9zM337.9 697.2h1.9v8.2h-1.9zM362 697.2h1.9v8.2h-1.9zM439.5 599.2h1.9v8.2h-1.9zM439.5 607.3h1.9v8.2h-1.9zM605.5 615.5h1.9v8.2h-1.9z"/><path fill="#942222" d="M25.2 607.3h1.9v8.2h-1.9zM21.5 631.9h1.9v8.2h-1.9zM72.2 631.9h1.9v8.2h-1.9zM117.4 599.2h1.9v8.2h-1.9zM113.7 607.3h1.9v8.2h-1.9zM115.6 607.3h1.9v8.2h-1.9zM117.4 680.9h1.9v8.2h-1.9zM132.3 697.2h1.9v8.2h-1.9zM202.3 599.2h1.9v8.2h-1.9zM200.5 615.5h1.9v8.2h-1.9zM202.3 631.9h1.9v8.2h-1.9zM264.2 591h1.9v8.2h-1.9zM262.3 615.5h1.9v8.2h-1.9zM343.5 607.3h1.9v8.2h-1.9zM336.1 623.7h1.9v8.2h-1.9zM392.4 697.2h1.9v8.2h-1.9zM424.7 599.2h1.9v8.2h-1.9zM428.4 599.2h1.9v8.2h-1.9zM430.2 599.2h1.9v8.2h-1.9zM433.9 599.2h1.9v8.2h-1.9zM607.3 623.7h1.9v8.2h-1.9zM612.9 623.7h1.9v8.2h-1.9z"/><path fill="#eeb0ae" d="M27 607.3h1.9v8.2h-1.9zM27 631.9h1.9v8.2h-1.9zM32.6 631.9h1.9v8.2h-1.9zM23.3 648.2h1.9v8.2h-1.9zM23.3 664.5h1.9v8.2h-1.9zM19.6 689.1h1.9v8.2h-1.9zM40 689.1h1.9v8.2h-1.9zM79.6 591h1.9v8.2h-1.9zM83.3 591h1.9v8.2h-1.9zM70.4 599.2h1.9v8.2h-1.9zM83.3 623.7h1.9v8.2h-1.9zM83.3 631.9h1.9v8.2h-1.9zM70.4 640h1.9v8.2h-1.9zM81.5 640h1.9v8.2h-1.9zM88.9 640h1.9v8.2h-1.9zM70.4 656.4h1.9v8.2h-1.9zM74.1 656.4h1.9v8.2h-1.9zM79.6 664.5h1.9v8.2h-1.9zM72.2 672.7h1.9v8.2h-1.9zM94.5 689.1h1.9v8.2h-1.9zM128.6 591h1.9v8.2h-1.9zM128.6 607.3h1.9v8.2h-1.9zM132.3 640h1.9v8.2h-1.9zM98.9 664.5h1.9v8.2h-1.9zM98.9 697.2h1.9v8.2h-1.9zM104.5 697.2h1.9v8.2h-1.9zM144.1 591h1.9v8.2h-1.9zM153.4 591h1.9v8.2h-1.9zM158.9 599.2h1.9v8.2h-1.9zM151.5 623.7h1.9v8.2h-1.9zM168.2 623.7h1.9v8.2h-1.9zM166.4 631.9h1.9v8.2h-1.9zM157.1 640h1.9v8.2h-1.9zM166.4 640h1.9v8.2h-1.9zM183 640h1.9v8.2h-1.9zM158.9 656.4h1.9v8.2h-1.9zM147.8 664.5h1.9v8.2h-1.9zM183 664.5h1.9v8.2h-1.9zM160.8 672.7h1.9v8.2h-1.9zM146 680.9h1.9v8.2h-1.9zM153.4 689.1h1.9v8.2h-1.9zM162.7 689.1h1.9v8.2h-1.9zM166.4 689.1h1.9v8.2h-1.9zM206 591h1.9v8.2h-1.9zM219 591h1.9v8.2h-1.9zM222.7 599.2h1.9v8.2h-1.9zM220.8 607.3h1.9v8.2h-1.9zM222.7 615.5h1.9v8.2h-1.9zM196.7 631.9h1.9v8.2h-1.9zM215.3 640h1.9v8.2h-1.9zM219 640h1.9v8.2h-1.9zM220.8 640h1.9v8.2h-1.9zM222.7 640h1.9v8.2h-1.9zM213.4 648.2h1.9v8.2h-1.9zM224.5 656.4h1.9v8.2h-1.9zM209.7 664.5h1.9v8.2h-1.9zM200.5 672.7h1.9v8.2h-1.9zM222.7 680.9h1.9v8.2h-1.9zM236.4 599.2h1.9v8.2h-1.9zM245.7 599.2h1.9v8.2h-1.9zM240.1 607.3h1.9v8.2h-1.9zM243.8 607.3h1.9v8.2h-1.9zM254.9 607.3h1.9v8.2h-1.9zM260.5 607.3h1.9v8.2h-1.9zM275.3 607.3h1.9v8.2h-1.9zM254.9 615.5h1.9v8.2h-1.9zM256.8 623.7h1.9v8.2h-1.9zM249.4 656.4h1.9v8.2h-1.9zM266 656.4h1.9v8.2h-1.9zM271.6 656.4h1.9v8.2h-1.9zM253.1 664.5h1.9v8.2h-1.9zM249.4 672.7h1.9v8.2h-1.9zM243.8 680.9h1.9v8.2h-1.9zM269.7 680.9h1.9v8.2h-1.9zM273.4 680.9h1.9v8.2h-1.9zM236.4 697.2h1.9v8.2h-1.9zM281.6 615.5h1.9v8.2h-1.9zM285.3 623.7h1.9v8.2h-1.9zM290.9 648.2h1.9v8.2h-1.9zM305.7 648.2h1.9v8.2h-1.9zM303.8 656.4h1.9v8.2h-1.9zM305.7 656.4h1.9v8.2h-1.9zM281.6 664.5h1.9v8.2h-1.9zM281.6 672.7h1.9v8.2h-1.9zM296.4 672.7h1.9v8.2h-1.9zM296.4 680.9h1.9v8.2h-1.9zM320.5 680.9h1.9v8.2h-1.9zM300.1 697.2h1.9v8.2h-1.9zM363.9 599.2h1.9v8.2h-1.9zM332.4 623.7h1.9v8.2h-1.9zM343.5 640h1.9v8.2h-1.9zM363.9 672.7h1.9v8.2h-1.9zM362 680.9h1.9v8.2h-1.9zM360.2 689.1h1.9v8.2h-1.9zM379.4 599.2h1.9v8.2h-1.9zM383.1 599.2h1.9v8.2h-1.9zM372 623.7h1.9v8.2h-1.9zM372 672.7h1.9v8.2h-1.9zM385 672.7h1.9v8.2h-1.9zM383.1 689.1h1.9v8.2h-1.9zM403.5 689.1h1.9v8.2h-1.9zM422.8 591h1.9v8.2h-1.9zM441.3 591h1.9v8.2h-1.9zM422.8 615.5h1.9v8.2h-1.9zM428.4 615.5h1.9v8.2h-1.9zM443.2 615.5h1.9v8.2h-1.9zM417.2 623.7h1.9v8.2h-1.9zM419.1 623.7h1.9v8.2h-1.9zM422.8 631.9h1.9v8.2h-1.9zM422.8 648.2h1.9v8.2h-1.9zM439.5 689.1h1.9v8.2h-1.9zM422.8 697.2h1.9v8.2h-1.9zM428.4 697.2h1.9v8.2h-1.9zM439.5 697.2h1.9v8.2h-1.9zM469.9 591h1.9v8.2h-1.9zM462.5 599.2h1.9v8.2h-1.9zM499.5 599.2h1.9v8.2h-1.9zM466.2 607.3h1.9v8.2h-1.9zM460.6 623.7h1.9v8.2h-1.9zM462.5 656.4h1.9v8.2h-1.9zM460.6 680.9h1.9v8.2h-1.9zM475.4 680.9h1.9v8.2h-1.9zM501.3 689.1h1.9v8.2h-1.9zM492.1 697.2h1.9v8.2h-1.9zM509.5 599.2h1.9v8.2h-1.9zM522.5 599.2h1.9v8.2h-1.9zM526.2 607.3h1.9v8.2h-1.9zM541 656.4h1.9v8.2h-1.9zM511.4 680.9h1.9v8.2h-1.9zM533.6 680.9h1.9v8.2h-1.9zM544.7 680.9h1.9v8.2h-1.9zM554.7 591h1.9v8.2h-1.9zM577 591h1.9v8.2h-1.9zM582.5 591h1.9v8.2h-1.9zM564 599.2h1.9v8.2h-1.9zM582.5 599.2h1.9v8.2h-1.9zM591.8 599.2h1.9v8.2h-1.9zM556.6 607.3h1.9v8.2h-1.9zM558.4 607.3h1.9v8.2h-1.9zM562.1 607.3h1.9v8.2h-1.9zM564 607.3h1.9v8.2h-1.9zM565.8 607.3h1.9v8.2h-1.9zM584.4 615.5h1.9v8.2h-1.9zM575.1 623.7h1.9v8.2h-1.9zM588.1 623.7h1.9v8.2h-1.9zM562.1 631.9h1.9v8.2h-1.9zM569.5 648.2h1.9v8.2h-1.9zM554.7 656.4h1.9v8.2h-1.9zM571.4 672.7h1.9v8.2h-1.9zM577 672.7h1.9v8.2h-1.9zM582.5 689.1h1.9v8.2h-1.9zM560.3 697.2h1.9v8.2h-1.9zM565.8 697.2h1.9v8.2h-1.9zM599.9 615.5h1.9v8.2h-1.9zM616.6 615.5h1.9v8.2h-1.9zM622.2 615.5h1.9v8.2h-1.9zM624 623.7h1.9v8.2h-1.9zM598.1 680.9h1.9v8.2h-1.9zM609.2 680.9h1.9v8.2h-1.9zM622.2 680.9h1.9v8.2h-1.9z"/><path fill="#f0bab8" d="M36.3 607.3h1.9v8.2h-1.9zM28.9 615.5h1.9v8.2h-1.9zM40 615.5h1.9v8.2h-1.9zM43.7 615.5h1.9v8.2h-1.9zM43.7 623.7h1.9v8.2h-1.9zM34.4 631.9h1.9v8.2h-1.9zM40 631.9h1.9v8.2h-1.9zM28.9 640h1.9v8.2h-1.9zM41.8 640h1.9v8.2h-1.9zM27 656.4h1.9v8.2h-1.9zM21.5 664.5h1.9v8.2h-1.9zM36.3 664.5h1.9v8.2h-1.9zM17.8 672.7h1.9v8.2h-1.9zM23.3 680.9h1.9v8.2h-1.9zM36.3 680.9h1.9v8.2h-1.9zM83.3 599.2h1.9v8.2h-1.9zM79.6 607.3h1.9v8.2h-1.9zM85.2 607.3h1.9v8.2h-1.9zM83.3 615.5h1.9v8.2h-1.9zM81.5 623.7h1.9v8.2h-1.9zM88.9 631.9h1.9v8.2h-1.9zM83.3 640h1.9v8.2h-1.9zM87 640h1.9v8.2h-1.9zM72.2 648.2h1.9v8.2h-1.9zM66.7 656.4h1.9v8.2h-1.9zM85.2 656.4h1.9v8.2h-1.9zM88.9 664.5h1.9v8.2h-1.9zM94.5 664.5h1.9v8.2h-1.9zM83.3 672.7h1.9v8.2h-1.9zM59.3 689.1h1.9v8.2h-1.9zM59.3 697.2h1.9v8.2h-1.9zM68.5 697.2h1.9v8.2h-1.9zM124.9 591h1.9v8.2h-1.9zM104.5 599.2h1.9v8.2h-1.9zM126.7 607.3h1.9v8.2h-1.9zM130.4 615.5h1.9v8.2h-1.9zM123 623.7h1.9v8.2h-1.9zM130.4 656.4h1.9v8.2h-1.9zM108.2 664.5h1.9v8.2h-1.9zM104.5 689.1h1.9v8.2h-1.9zM162.7 591h1.9v8.2h-1.9zM164.5 591h1.9v8.2h-1.9zM166.4 599.2h1.9v8.2h-1.9zM155.2 607.3h1.9v8.2h-1.9zM158.9 607.3h1.9v8.2h-1.9zM162.7 623.7h1.9v8.2h-1.9zM166.4 623.7h1.9v8.2h-1.9zM155.2 631.9h1.9v8.2h-1.9zM158.9 631.9h1.9v8.2h-1.9zM147.8 640h1.9v8.2h-1.9zM153.4 640h1.9v8.2h-1.9zM162.7 640h1.9v8.2h-1.9zM170.1 640h1.9v8.2h-1.9zM146 648.2h1.9v8.2h-1.9zM181.2 648.2h1.9v8.2h-1.9zM183 656.4h1.9v8.2h-1.9zM149.7 664.5h1.9v8.2h-1.9zM157.1 664.5h1.9v8.2h-1.9zM144.1 672.7h1.9v8.2h-1.9zM149.7 680.9h1.9v8.2h-1.9zM155.2 680.9h1.9v8.2h-1.9zM164.5 689.1h1.9v8.2h-1.9zM157.1 697.2h1.9v8.2h-1.9zM160.8 697.2h1.9v8.2h-1.9zM206 599.2h1.9v8.2h-1.9zM219 599.2h1.9v8.2h-1.9zM220.8 599.2h1.9v8.2h-1.9zM224.5 599.2h1.9v8.2h-1.9zM213.4 607.3h1.9v8.2h-1.9zM196.7 615.5h1.9v8.2h-1.9zM215.3 615.5h1.9v8.2h-1.9zM213.4 623.7h1.9v8.2h-1.9zM213.4 640h1.9v8.2h-1.9zM224.5 640h1.9v8.2h-1.9zM200.5 656.4h1.9v8.2h-1.9zM209.7 656.4h1.9v8.2h-1.9zM191.2 664.5h1.9v8.2h-1.9zM196.7 672.7h1.9v8.2h-1.9zM202.3 672.7h1.9v8.2h-1.9zM224.5 672.7h1.9v8.2h-1.9zM226.4 672.7h1.9v8.2h-1.9zM222.7 697.2h1.9v8.2h-1.9zM251.2 591h1.9v8.2h-1.9zM254.9 599.2h1.9v8.2h-1.9zM269.7 599.2h1.9v8.2h-1.9zM253.1 648.2h1.9v8.2h-1.9zM264.2 648.2h1.9v8.2h-1.9zM275.3 648.2h1.9v8.2h-1.9zM251.2 656.4h1.9v8.2h-1.9zM256.8 672.7h1.9v8.2h-1.9zM273.4 672.7h1.9v8.2h-1.9zM275.3 672.7h1.9v8.2h-1.9zM256.8 680.9h1.9v8.2h-1.9zM275.3 689.1h1.9v8.2h-1.9zM253.1 697.2h1.9v8.2h-1.9zM256.8 697.2h1.9v8.2h-1.9zM296.4 607.3h1.9v8.2h-1.9zM316.8 607.3h1.9v8.2h-1.9zM294.6 615.5h1.9v8.2h-1.9zM305.7 615.5h1.9v8.2h-1.9zM318.7 615.5h1.9v8.2h-1.9zM305.7 623.7h1.9v8.2h-1.9zM289 648.2h1.9v8.2h-1.9zM285.3 680.9h1.9v8.2h-1.9zM303.8 680.9h1.9v8.2h-1.9zM309.4 680.9h1.9v8.2h-1.9zM287.2 697.2h1.9v8.2h-1.9zM318.7 697.2h1.9v8.2h-1.9zM362 599.2h1.9v8.2h-1.9zM330.5 607.3h1.9v8.2h-1.9zM349 607.3h1.9v8.2h-1.9zM332.4 615.5h1.9v8.2h-1.9zM349 615.5h1.9v8.2h-1.9zM363.9 615.5h1.9v8.2h-1.9zM326.8 623.7h1.9v8.2h-1.9zM349 623.7h1.9v8.2h-1.9zM350.9 623.7h1.9v8.2h-1.9zM363.9 623.7h1.9v8.2h-1.9zM326.8 648.2h1.9v8.2h-1.9zM349 648.2h1.9v8.2h-1.9zM341.6 656.4h1.9v8.2h-1.9zM352.8 656.4h1.9v8.2h-1.9zM352.8 664.5h1.9v8.2h-1.9zM363.9 680.9h1.9v8.2h-1.9zM341.6 689.1h1.9v8.2h-1.9zM410.9 591h1.9v8.2h-1.9zM372 599.2h1.9v8.2h-1.9zM410.9 607.3h1.9v8.2h-1.9zM410.9 640h1.9v8.2h-1.9zM385 664.5h1.9v8.2h-1.9zM386.8 664.5h1.9v8.2h-1.9zM383.1 672.7h1.9v8.2h-1.9zM386.8 680.9h1.9v8.2h-1.9zM385 689.1h1.9v8.2h-1.9zM394.3 689.1h1.9v8.2h-1.9zM409.1 697.2h1.9v8.2h-1.9zM415.4 607.3h1.9v8.2h-1.9zM420.9 607.3h1.9v8.2h-1.9zM441.3 607.3h1.9v8.2h-1.9zM420.9 615.5h1.9v8.2h-1.9zM422.8 623.7h1.9v8.2h-1.9zM443.2 623.7h1.9v8.2h-1.9zM445 623.7h1.9v8.2h-1.9zM428.4 631.9h1.9v8.2h-1.9zM424.7 640h1.9v8.2h-1.9zM419.1 656.4h1.9v8.2h-1.9zM428.4 672.7h1.9v8.2h-1.9zM443.2 680.9h1.9v8.2h-1.9zM415.4 697.2h1.9v8.2h-1.9zM426.5 697.2h1.9v8.2h-1.9zM441.3 697.2h1.9v8.2h-1.9zM466.2 591h1.9v8.2h-1.9zM490.2 591h1.9v8.2h-1.9zM466.2 599.2h1.9v8.2h-1.9zM460.6 615.5h1.9v8.2h-1.9zM497.6 631.9h1.9v8.2h-1.9zM490.2 640h1.9v8.2h-1.9zM466.2 656.4h1.9v8.2h-1.9zM479.1 656.4h1.9v8.2h-1.9zM482.8 656.4h1.9v8.2h-1.9zM501.3 656.4h1.9v8.2h-1.9zM501.3 672.7h1.9v8.2h-1.9zM473.6 680.9h1.9v8.2h-1.9zM464.3 689.1h1.9v8.2h-1.9zM462.5 697.2h1.9v8.2h-1.9zM473.6 697.2h1.9v8.2h-1.9zM528 623.7h1.9v8.2h-1.9zM544.7 631.9h1.9v8.2h-1.9zM526.2 648.2h1.9v8.2h-1.9zM541 648.2h1.9v8.2h-1.9zM544.7 656.4h1.9v8.2h-1.9zM520.6 664.5h1.9v8.2h-1.9zM529.9 664.5h1.9v8.2h-1.9zM546.6 672.7h1.9v8.2h-1.9zM520.6 680.9h1.9v8.2h-1.9zM541 680.9h1.9v8.2h-1.9zM513.2 697.2h1.9v8.2h-1.9zM544.7 697.2h1.9v8.2h-1.9zM562.1 591h1.9v8.2h-1.9zM577 599.2h1.9v8.2h-1.9zM554.7 607.3h1.9v8.2h-1.9zM577 607.3h1.9v8.2h-1.9zM588.1 607.3h1.9v8.2h-1.9zM554.7 615.5h1.9v8.2h-1.9zM558.4 623.7h1.9v8.2h-1.9zM571.4 623.7h1.9v8.2h-1.9zM589.9 623.7h1.9v8.2h-1.9zM567.7 631.9h1.9v8.2h-1.9zM569.5 631.9h1.9v8.2h-1.9zM578.8 631.9h1.9v8.2h-1.9zM578.8 640h1.9v8.2h-1.9zM562.1 656.4h1.9v8.2h-1.9zM558.4 672.7h1.9v8.2h-1.9zM562.1 672.7h1.9v8.2h-1.9zM565.8 672.7h1.9v8.2h-1.9zM582.5 672.7h1.9v8.2h-1.9zM569.5 689.1h1.9v8.2h-1.9zM564 697.2h1.9v8.2h-1.9zM599.9 599.2h1.9v8.2h-1.9zM599.9 607.3h1.9v8.2h-1.9zM599.9 623.7h1.9v8.2h-1.9zM620.3 648.2h1.9v8.2h-1.9zM599.9 680.9h1.9v8.2h-1.9zM620.3 680.9h1.9v8.2h-1.9z"/><path fill="#8b1d1d" d="M23.3 615.5h1.9v8.2h-1.9zM25.2 631.9h1.9v8.2h-1.9zM38.1 697.2h1.9v8.2h-1.9zM41.8 697.2h1.9v8.2h-1.9zM47.4 697.2h1.9v8.2h-1.9zM77.8 591h1.9v8.2h-1.9zM115.6 591h1.9v8.2h-1.9zM119.3 599.2h1.9v8.2h-1.9zM117.4 648.2h1.9v8.2h-1.9zM111.9 689.1h1.9v8.2h-1.9zM200.5 591h1.9v8.2h-1.9zM258.6 615.5h1.9v8.2h-1.9zM285.3 697.2h1.9v8.2h-1.9zM313.1 697.2h1.9v8.2h-1.9zM343.5 599.2h1.9v8.2h-1.9zM336.1 631.9h1.9v8.2h-1.9zM326.8 697.2h1.9v8.2h-1.9zM343.5 697.2h1.9v8.2h-1.9zM345.3 697.2h1.9v8.2h-1.9zM354.6 697.2h1.9v8.2h-1.9zM385 697.2h1.9v8.2h-1.9zM473.6 599.2h1.9v8.2h-1.9zM605.5 623.7h1.9v8.2h-1.9z"/><path fill="#630c0c" d="M21.5 623.7h1.9v8.2h-1.9zM110 615.5h1.9v8.2h-1.9zM611 599.2h1.9v8.2h-1.9z"/><path fill="#5a0909" d="M23.3 623.7h1.9v8.2h-1.9zM627.7 599.2h1.9v8.2h-1.9zM609.2 607.3h1.9v8.2h-1.9zM618.5 607.3h1.9v8.2h-1.9zM620.3 607.3h1.9v8.2h-1.9z"/><path fill="#a52b2b" d="M25.2 623.7h1.9v8.2h-1.9zM77.8 607.3h1.9v8.2h-1.9zM75.9 615.5h1.9v8.2h-1.9zM113.7 591h1.9v8.2h-1.9zM111.9 623.7h1.9v8.2h-1.9zM113.7 623.7h1.9v8.2h-1.9zM115.6 623.7h1.9v8.2h-1.9zM119.3 672.7h1.9v8.2h-1.9zM110 680.9h1.9v8.2h-1.9zM119.3 680.9h1.9v8.2h-1.9zM139.7 697.2h1.9v8.2h-1.9zM202.3 591h1.9v8.2h-1.9zM209.7 591h1.9v8.2h-1.9zM204.2 607.3h1.9v8.2h-1.9zM206 607.3h1.9v8.2h-1.9zM209.7 607.3h1.9v8.2h-1.9zM207.9 615.5h1.9v8.2h-1.9zM209.7 623.7h1.9v8.2h-1.9zM211.6 623.7h1.9v8.2h-1.9zM220.8 631.9h1.9v8.2h-1.9zM253.1 591h1.9v8.2h-1.9zM243.8 599.2h1.9v8.2h-1.9zM253.1 599.2h1.9v8.2h-1.9zM296.4 697.2h1.9v8.2h-1.9zM298.3 697.2h1.9v8.2h-1.9zM311.2 697.2h1.9v8.2h-1.9zM363.9 697.2h1.9v8.2h-1.9zM403.5 697.2h1.9v8.2h-1.9zM430.2 607.3h1.9v8.2h-1.9zM477.3 599.2h1.9v8.2h-1.9zM473.6 607.3h1.9v8.2h-1.9zM524.3 599.2h1.9v8.2h-1.9zM562.1 623.7h1.9v8.2h-1.9zM624 607.3h1.9v8.2h-1.9z"/><path fill="#b5c9e6" d="M8.5 631.9h1.9v8.2h-1.9zM30.7 640h1.9v8.2h-1.9zM8.5 664.5h1.9v8.2h-1.9zM10.4 664.5h1.9v8.2h-1.9zM14.1 672.7h1.9v8.2h-1.9zM30.7 689.1h1.9v8.2h-1.9zM19.6 697.2h1.9v8.2h-1.9zM21.5 697.2h1.9v8.2h-1.9zM63 631.9h1.9v8.2h-1.9zM66.7 680.9h1.9v8.2h-1.9zM63 689.1h1.9v8.2h-1.9zM137.8 599.2h1.9v8.2h-1.9zM104.5 615.5h1.9v8.2h-1.9zM137.8 648.2h1.9v8.2h-1.9zM137.8 672.7h1.9v8.2h-1.9zM137.8 680.9h1.9v8.2h-1.9zM100.8 689.1h1.9v8.2h-1.9zM106.3 689.1h1.9v8.2h-1.9zM171.9 591h1.9v8.2h-1.9zM168.2 672.7h1.9v8.2h-1.9zM217.1 640h1.9v8.2h-1.9zM230.1 640h1.9v8.2h-1.9zM228.2 656.4h1.9v8.2h-1.9zM204.2 689.1h1.9v8.2h-1.9zM206 689.1h1.9v8.2h-1.9zM215.3 697.2h1.9v8.2h-1.9zM271.6 680.9h1.9v8.2h-1.9zM292.7 591h1.9v8.2h-1.9zM296.4 599.2h1.9v8.2h-1.9zM313.1 599.2h1.9v8.2h-1.9zM315 640h1.9v8.2h-1.9zM279.8 648.2h1.9v8.2h-1.9zM315 648.2h1.9v8.2h-1.9zM298.3 664.5h1.9v8.2h-1.9zM315 672.7h1.9v8.2h-1.9zM318.7 689.1h1.9v8.2h-1.9zM356.5 599.2h1.9v8.2h-1.9zM365.7 640h1.9v8.2h-1.9zM345.3 664.5h1.9v8.2h-1.9zM360.2 664.5h1.9v8.2h-1.9zM398 615.5h1.9v8.2h-1.9zM407.2 615.5h1.9v8.2h-1.9zM375.7 623.7h1.9v8.2h-1.9zM370.2 640h1.9v8.2h-1.9zM377.6 640h1.9v8.2h-1.9zM386.8 640h1.9v8.2h-1.9zM394.3 640h1.9v8.2h-1.9zM398 640h1.9v8.2h-1.9zM401.7 640h1.9v8.2h-1.9zM405.4 640h1.9v8.2h-1.9zM379.4 648.2h1.9v8.2h-1.9zM372 656.4h1.9v8.2h-1.9zM383.1 656.4h1.9v8.2h-1.9zM401.7 672.7h1.9v8.2h-1.9zM375.7 680.9h1.9v8.2h-1.9zM377.6 680.9h1.9v8.2h-1.9zM409.1 680.9h1.9v8.2h-1.9zM407.2 689.1h1.9v8.2h-1.9zM446.9 591h1.9v8.2h-1.9zM452.4 623.7h1.9v8.2h-1.9zM446.9 631.9h1.9v8.2h-1.9zM433.9 648.2h1.9v8.2h-1.9zM426.5 656.4h1.9v8.2h-1.9zM435.8 680.9h1.9v8.2h-1.9zM448.7 680.9h1.9v8.2h-1.9zM454.3 680.9h1.9v8.2h-1.9zM481 631.9h1.9v8.2h-1.9zM471.7 640h1.9v8.2h-1.9zM479.1 640h1.9v8.2h-1.9zM481 640h1.9v8.2h-1.9zM482.8 640h1.9v8.2h-1.9zM484.7 648.2h1.9v8.2h-1.9zM493.9 648.2h1.9v8.2h-1.9zM495.8 648.2h1.9v8.2h-1.9zM482.8 680.9h1.9v8.2h-1.9zM515.1 591h1.9v8.2h-1.9zM531.7 591h1.9v8.2h-1.9zM537.3 591h1.9v8.2h-1.9zM505.8 599.2h1.9v8.2h-1.9zM542.9 599.2h1.9v8.2h-1.9zM515.1 615.5h1.9v8.2h-1.9zM539.1 615.5h1.9v8.2h-1.9zM542.9 631.9h1.9v8.2h-1.9zM539.1 640h1.9v8.2h-1.9zM520.6 648.2h1.9v8.2h-1.9zM535.4 656.4h1.9v8.2h-1.9zM507.7 664.5h1.9v8.2h-1.9zM522.5 672.7h1.9v8.2h-1.9zM542.9 689.1h1.9v8.2h-1.9zM560.3 648.2h1.9v8.2h-1.9zM551 680.9h1.9v8.2h-1.9zM552.9 680.9h1.9v8.2h-1.9zM558.4 680.9h1.9v8.2h-1.9zM601.8 591h1.9v8.2h-1.9zM605.5 640h1.9v8.2h-1.9zM612.9 640h1.9v8.2h-1.9zM624 640h1.9v8.2h-1.9zM601.8 648.2h1.9v8.2h-1.9zM631.4 648.2h1.9v8.2h-1.9zM624 656.4h1.9v8.2h-1.9zM629.6 656.4h1.9v8.2h-1.9zM603.6 664.5h1.9v8.2h-1.9zM624 689.1h1.9v8.2h-1.9z"/><path fill="#711111" d="M19.6 640h1.9v8.2h-1.9zM121.1 656.4h1.9v8.2h-1.9zM202.3 640h1.9v8.2h-1.9zM294.6 697.2h1.9v8.2h-1.9z"/><path fill="#781313" d="M21.5 640h1.9v8.2h-1.9zM117.4 591h1.9v8.2h-1.9zM121.1 615.5h1.9v8.2h-1.9zM117.4 631.9h1.9v8.2h-1.9zM115.6 656.4h1.9v8.2h-1.9zM113.7 672.7h1.9v8.2h-1.9zM117.4 672.7h1.9v8.2h-1.9zM202.3 615.5h1.9v8.2h-1.9zM200.5 631.9h1.9v8.2h-1.9zM315 697.2h1.9v8.2h-1.9zM337.9 615.5h1.9v8.2h-1.9zM422.8 607.3h1.9v8.2h-1.9zM437.6 607.3h1.9v8.2h-1.9z"/><path fill="#5a7ebe" d="M8.5 648.2h1.9v8.2h-1.9zM38.1 648.2h1.9v8.2h-1.9zM305.7 599.2h1.9v8.2h-1.9zM401.7 591h1.9v8.2h-1.9zM383.1 640h1.9v8.2h-1.9zM394.3 648.2h1.9v8.2h-1.9zM377.6 656.4h1.9v8.2h-1.9zM401.7 656.4h1.9v8.2h-1.9zM484.7 640h1.9v8.2h-1.9zM515.1 648.2h1.9v8.2h-1.9zM518.8 648.2h1.9v8.2h-1.9zM611 664.5h1.9v8.2h-1.9z"/><path fill="#c2d1ea" d="M10.4 648.2h1.9v8.2h-1.9zM34.4 648.2h1.9v8.2h-1.9zM45.5 648.2h1.9v8.2h-1.9zM47.4 648.2h1.9v8.2h-1.9zM10.4 672.7h1.9v8.2h-1.9zM12.2 697.2h1.9v8.2h-1.9zM66.7 607.3h1.9v8.2h-1.9zM55.6 623.7h1.9v8.2h-1.9zM57.4 623.7h1.9v8.2h-1.9zM61.1 623.7h1.9v8.2h-1.9zM90.8 623.7h1.9v8.2h-1.9zM66.7 631.9h1.9v8.2h-1.9zM59.3 648.2h1.9v8.2h-1.9zM61.1 648.2h1.9v8.2h-1.9zM55.6 680.9h1.9v8.2h-1.9zM137.8 607.3h1.9v8.2h-1.9zM137.8 615.5h1.9v8.2h-1.9zM102.6 623.7h1.9v8.2h-1.9zM106.3 631.9h1.9v8.2h-1.9zM126.7 640h1.9v8.2h-1.9zM106.3 697.2h1.9v8.2h-1.9zM175.6 607.3h1.9v8.2h-1.9zM151.5 631.9h1.9v8.2h-1.9zM164.5 648.2h1.9v8.2h-1.9zM171.9 697.2h1.9v8.2h-1.9zM184.9 697.2h1.9v8.2h-1.9zM230.1 607.3h1.9v8.2h-1.9zM228.2 623.7h1.9v8.2h-1.9zM191.2 640h1.9v8.2h-1.9zM228.2 648.2h1.9v8.2h-1.9zM207.9 656.4h1.9v8.2h-1.9zM206 664.5h1.9v8.2h-1.9zM194.9 689.1h1.9v8.2h-1.9zM217.1 697.2h1.9v8.2h-1.9zM275.3 631.9h1.9v8.2h-1.9zM238.3 640h1.9v8.2h-1.9zM240.1 648.2h1.9v8.2h-1.9zM279.8 591h1.9v8.2h-1.9zM313.1 591h1.9v8.2h-1.9zM316.8 591h1.9v8.2h-1.9zM300.1 607.3h1.9v8.2h-1.9zM315 623.7h1.9v8.2h-1.9zM279.8 631.9h1.9v8.2h-1.9zM279.8 640h1.9v8.2h-1.9zM287.2 664.5h1.9v8.2h-1.9zM289 689.1h1.9v8.2h-1.9zM294.6 689.1h1.9v8.2h-1.9zM358.3 591h1.9v8.2h-1.9zM360.2 615.5h1.9v8.2h-1.9zM325 623.7h1.9v8.2h-1.9zM328.7 631.9h1.9v8.2h-1.9zM325 640h1.9v8.2h-1.9zM334.2 656.4h1.9v8.2h-1.9zM339.8 656.4h1.9v8.2h-1.9zM325 664.5h1.9v8.2h-1.9zM339.8 664.5h1.9v8.2h-1.9zM358.3 689.1h1.9v8.2h-1.9zM398 591h1.9v8.2h-1.9zM381.3 607.3h1.9v8.2h-1.9zM375.7 615.5h1.9v8.2h-1.9zM375.7 631.9h1.9v8.2h-1.9zM396.1 640h1.9v8.2h-1.9zM370.2 648.2h1.9v8.2h-1.9zM398 648.2h1.9v8.2h-1.9zM370.2 656.4h1.9v8.2h-1.9zM394.3 656.4h1.9v8.2h-1.9zM373.9 672.7h1.9v8.2h-1.9zM407.2 672.7h1.9v8.2h-1.9zM409.1 672.7h1.9v8.2h-1.9zM381.3 680.9h1.9v8.2h-1.9zM388.7 680.9h1.9v8.2h-1.9zM390.6 680.9h1.9v8.2h-1.9zM401.7 680.9h1.9v8.2h-1.9zM410.9 680.9h1.9v8.2h-1.9zM375.7 689.1h1.9v8.2h-1.9zM377.6 697.2h1.9v8.2h-1.9zM417.2 591h1.9v8.2h-1.9zM435.8 591h1.9v8.2h-1.9zM450.6 640h1.9v8.2h-1.9zM448.7 648.2h1.9v8.2h-1.9zM450.6 656.4h1.9v8.2h-1.9zM430.2 664.5h1.9v8.2h-1.9zM448.7 664.5h1.9v8.2h-1.9zM456.1 664.5h1.9v8.2h-1.9zM456.1 672.7h1.9v8.2h-1.9zM430.2 680.9h1.9v8.2h-1.9zM437.6 680.9h1.9v8.2h-1.9zM471.7 591h1.9v8.2h-1.9zM481 623.7h1.9v8.2h-1.9zM482.8 631.9h1.9v8.2h-1.9zM492.1 640h1.9v8.2h-1.9zM471.7 648.2h1.9v8.2h-1.9zM468 664.5h1.9v8.2h-1.9zM468 672.7h1.9v8.2h-1.9zM488.4 672.7h1.9v8.2h-1.9zM495.8 672.7h1.9v8.2h-1.9zM533.6 591h1.9v8.2h-1.9zM535.4 591h1.9v8.2h-1.9zM507.7 599.2h1.9v8.2h-1.9zM539.1 607.3h1.9v8.2h-1.9zM507.7 615.5h1.9v8.2h-1.9zM505.8 631.9h1.9v8.2h-1.9zM507.7 631.9h1.9v8.2h-1.9zM546.6 631.9h1.9v8.2h-1.9zM516.9 640h1.9v8.2h-1.9zM516.9 648.2h1.9v8.2h-1.9zM542.9 648.2h1.9v8.2h-1.9zM507.7 672.7h1.9v8.2h-1.9zM539.1 672.7h1.9v8.2h-1.9zM542.9 672.7h1.9v8.2h-1.9zM507.7 680.9h1.9v8.2h-1.9zM511.4 689.1h1.9v8.2h-1.9zM520.6 689.1h1.9v8.2h-1.9zM524.3 689.1h1.9v8.2h-1.9zM573.2 640h1.9v8.2h-1.9zM586.2 648.2h1.9v8.2h-1.9zM573.2 680.9h1.9v8.2h-1.9zM591.8 680.9h1.9v8.2h-1.9zM573.2 689.1h1.9v8.2h-1.9zM601.8 615.5h1.9v8.2h-1.9zM625.9 640h1.9v8.2h-1.9zM629.6 640h1.9v8.2h-1.9zM596.2 648.2h1.9v8.2h-1.9zM614.8 648.2h1.9v8.2h-1.9zM637 648.2h1.9v8.2h-1.9zM614.8 656.4h1.9v8.2h-1.9zM599.9 664.5h1.9v8.2h-1.9zM605.5 664.5h1.9v8.2h-1.9zM601.8 697.2h1.9v8.2h-1.9z"/><path fill="#7494ca" d="M15.9 648.2h1.9v8.2h-1.9zM137.8 640h1.9v8.2h-1.9zM294.6 640h1.9v8.2h-1.9zM296.4 640h1.9v8.2h-1.9zM381.3 640h1.9v8.2h-1.9zM482.8 648.2h1.9v8.2h-1.9zM522.5 640h1.9v8.2h-1.9zM596.2 664.5h1.9v8.2h-1.9zM629.6 664.5h1.9v8.2h-1.9zM637 664.5h1.9v8.2h-1.9z"/><path fill="#3d5ea0" d="M30.7 648.2h1.9v8.2h-1.9z"/><path fill="#a9c0e3" d="M36.3 648.2h1.9v8.2h-1.9zM49.2 648.2h1.9v8.2h-1.9zM14.1 697.2h1.9v8.2h-1.9zM63 640h1.9v8.2h-1.9zM102.6 640h1.9v8.2h-1.9zM137.8 656.4h1.9v8.2h-1.9zM171.9 607.3h1.9v8.2h-1.9zM217.1 656.4h1.9v8.2h-1.9zM217.1 689.1h1.9v8.2h-1.9zM204.2 697.2h1.9v8.2h-1.9zM234.6 631.9h1.9v8.2h-1.9zM247.5 631.9h1.9v8.2h-1.9zM289 591h1.9v8.2h-1.9zM315 591h1.9v8.2h-1.9zM290.9 640h1.9v8.2h-1.9zM300.1 656.4h1.9v8.2h-1.9zM334.2 689.1h1.9v8.2h-1.9zM390.6 591h1.9v8.2h-1.9zM407.2 591h1.9v8.2h-1.9zM375.7 640h1.9v8.2h-1.9zM388.7 640h1.9v8.2h-1.9zM390.6 640h1.9v8.2h-1.9zM379.4 656.4h1.9v8.2h-1.9zM396.1 656.4h1.9v8.2h-1.9zM398 664.5h1.9v8.2h-1.9zM456.1 591h1.9v8.2h-1.9zM495.8 591h1.9v8.2h-1.9zM468 607.3h1.9v8.2h-1.9zM484.7 607.3h1.9v8.2h-1.9zM471.7 615.5h1.9v8.2h-1.9zM468 648.2h1.9v8.2h-1.9zM469.9 648.2h1.9v8.2h-1.9zM492.1 648.2h1.9v8.2h-1.9zM505.8 591h1.9v8.2h-1.9zM507.7 607.3h1.9v8.2h-1.9zM537.3 607.3h1.9v8.2h-1.9zM511.4 615.5h1.9v8.2h-1.9zM542.9 615.5h1.9v8.2h-1.9zM546.6 615.5h1.9v8.2h-1.9zM513.2 648.2h1.9v8.2h-1.9zM524.3 648.2h1.9v8.2h-1.9zM533.6 689.1h1.9v8.2h-1.9zM505.8 697.2h1.9v8.2h-1.9zM542.9 697.2h1.9v8.2h-1.9zM567.7 648.2h1.9v8.2h-1.9zM586.2 664.5h1.9v8.2h-1.9zM580.7 680.9h1.9v8.2h-1.9zM586.2 680.9h1.9v8.2h-1.9zM631.4 591h1.9v8.2h-1.9zM607.3 640h1.9v8.2h-1.9zM616.6 648.2h1.9v8.2h-1.9zM612.9 664.5h1.9v8.2h-1.9zM624 664.5h1.9v8.2h-1.9zM629.6 697.2h1.9v8.2h-1.9z"/><path fill="#d67878" d="M23.3 656.4h1.9v8.2h-1.9zM75.9 591h1.9v8.2h-1.9zM74.1 599.2h1.9v8.2h-1.9zM70.4 607.3h1.9v8.2h-1.9zM75.9 623.7h1.9v8.2h-1.9zM126.7 591h1.9v8.2h-1.9zM115.6 599.2h1.9v8.2h-1.9zM123 607.3h1.9v8.2h-1.9zM134.1 631.9h1.9v8.2h-1.9zM158.9 591h1.9v8.2h-1.9zM144.1 640h1.9v8.2h-1.9zM155.2 689.1h1.9v8.2h-1.9zM207.9 591h1.9v8.2h-1.9zM215.3 607.3h1.9v8.2h-1.9zM219 607.3h1.9v8.2h-1.9zM209.7 631.9h1.9v8.2h-1.9zM262.3 591h1.9v8.2h-1.9zM247.5 615.5h1.9v8.2h-1.9zM337.9 607.3h1.9v8.2h-1.9zM341.6 607.3h1.9v8.2h-1.9zM341.6 623.7h1.9v8.2h-1.9zM339.8 631.9h1.9v8.2h-1.9zM343.5 631.9h1.9v8.2h-1.9zM341.6 672.7h1.9v8.2h-1.9zM375.7 599.2h1.9v8.2h-1.9zM386.8 697.2h1.9v8.2h-1.9zM419.1 599.2h1.9v8.2h-1.9zM441.3 599.2h1.9v8.2h-1.9zM424.7 607.3h1.9v8.2h-1.9zM419.1 615.5h1.9v8.2h-1.9zM437.6 615.5h1.9v8.2h-1.9zM441.3 623.7h1.9v8.2h-1.9zM479.1 599.2h1.9v8.2h-1.9zM490.2 697.2h1.9v8.2h-1.9zM520.6 599.2h1.9v8.2h-1.9zM562.1 599.2h1.9v8.2h-1.9zM622.2 631.9h1.9v8.2h-1.9z"/><path fill="#9cb5dd" d="M30.7 656.4h1.9v8.2h-1.9zM38.1 656.4h1.9v8.2h-1.9zM15.9 697.2h1.9v8.2h-1.9zM34.4 697.2h1.9v8.2h-1.9zM68.5 623.7h1.9v8.2h-1.9zM106.3 615.5h1.9v8.2h-1.9zM106.3 640h1.9v8.2h-1.9zM217.1 623.7h1.9v8.2h-1.9zM234.6 672.7h1.9v8.2h-1.9zM315 599.2h1.9v8.2h-1.9zM325 689.1h1.9v8.2h-1.9zM396.1 623.7h1.9v8.2h-1.9zM381.3 648.2h1.9v8.2h-1.9zM405.4 648.2h1.9v8.2h-1.9zM375.7 656.4h1.9v8.2h-1.9zM390.6 656.4h1.9v8.2h-1.9zM448.7 640h1.9v8.2h-1.9zM417.2 656.4h1.9v8.2h-1.9zM495.8 607.3h1.9v8.2h-1.9zM479.1 631.9h1.9v8.2h-1.9zM493.9 640h1.9v8.2h-1.9zM481 648.2h1.9v8.2h-1.9zM481 672.7h1.9v8.2h-1.9zM507.7 591h1.9v8.2h-1.9zM505.8 640h1.9v8.2h-1.9zM522.5 689.1h1.9v8.2h-1.9zM614.8 591h1.9v8.2h-1.9zM596.2 640h1.9v8.2h-1.9zM607.3 664.5h1.9v8.2h-1.9zM625.9 664.5h1.9v8.2h-1.9zM635.1 664.5h1.9v8.2h-1.9zM637 689.1h1.9v8.2h-1.9z"/><path fill="#8faad7" d="M10.4 680.9h1.9v8.2h-1.9zM28.9 697.2h1.9v8.2h-1.9zM30.7 697.2h1.9v8.2h-1.9zM57.4 648.2h1.9v8.2h-1.9zM63 648.2h1.9v8.2h-1.9zM300.1 623.7h1.9v8.2h-1.9zM305.7 640h1.9v8.2h-1.9zM373.9 640h1.9v8.2h-1.9zM373.9 648.2h1.9v8.2h-1.9zM375.7 648.2h1.9v8.2h-1.9zM388.7 648.2h1.9v8.2h-1.9zM396.1 648.2h1.9v8.2h-1.9zM373.9 656.4h1.9v8.2h-1.9zM381.3 656.4h1.9v8.2h-1.9zM405.4 656.4h1.9v8.2h-1.9zM381.3 689.1h1.9v8.2h-1.9zM471.7 623.7h1.9v8.2h-1.9zM542.9 591h1.9v8.2h-1.9zM507.7 623.7h1.9v8.2h-1.9zM515.1 640h1.9v8.2h-1.9zM520.6 640h1.9v8.2h-1.9zM531.7 672.7h1.9v8.2h-1.9zM531.7 689.1h1.9v8.2h-1.9zM601.8 664.5h1.9v8.2h-1.9zM614.8 664.5h1.9v8.2h-1.9z"/><path fill="#829fd1" d="M8.5 697.2h1.9v8.2h-1.9zM25.2 697.2h1.9v8.2h-1.9zM106.3 623.7h1.9v8.2h-1.9zM137.8 689.1h1.9v8.2h-1.9zM271.6 631.9h1.9v8.2h-1.9zM325 672.7h1.9v8.2h-1.9zM377.6 648.2h1.9v8.2h-1.9zM383.1 648.2h1.9v8.2h-1.9zM388.7 656.4h1.9v8.2h-1.9zM403.5 656.4h1.9v8.2h-1.9zM531.7 631.9h1.9v8.2h-1.9zM524.3 640h1.9v8.2h-1.9zM546.6 689.1h1.9v8.2h-1.9zM575.1 680.9h1.9v8.2h-1.9zM627.7 640h1.9v8.2h-1.9zM616.6 664.5h1.9v8.2h-1.9zM627.7 664.5h1.9v8.2h-1.9z"/><path fill="#6789c4" d="M10.4 697.2h1.9v8.2h-1.9zM298.3 640h1.9v8.2h-1.9zM315 680.9h1.9v8.2h-1.9zM401.7 648.2h1.9v8.2h-1.9zM495.8 640h1.9v8.2h-1.9zM531.7 615.5h1.9v8.2h-1.9zM518.8 640h1.9v8.2h-1.9zM507.7 689.1h1.9v8.2h-1.9z"/><path fill="#5f0b0b" d="M40 697.2h1.9v8.2h-1.9zM111.9 631.9h1.9v8.2h-1.9zM119.3 631.9h1.9v8.2h-1.9zM622.2 599.2h1.9v8.2h-1.9z"/><path fill="#751212" d="M43.7 697.2h1.9v8.2h-1.9zM45.5 697.2h1.9v8.2h-1.9zM110 623.7h1.9v8.2h-1.9zM113.7 640h1.9v8.2h-1.9zM121.1 640h1.9v8.2h-1.9zM121.1 664.5h1.9v8.2h-1.9zM110 689.1h1.9v8.2h-1.9zM113.7 689.1h1.9v8.2h-1.9zM479.1 607.3h1.9v8.2h-1.9zM612.9 599.2h1.9v8.2h-1.9zM611 623.7h1.9v8.2h-1.9z"/><path fill="#ae3838" d="M70.4 591h1.9v8.2h-1.9zM75.9 631.9h1.9v8.2h-1.9zM115.6 648.2h1.9v8.2h-1.9zM119.3 648.2h1.9v8.2h-1.9zM115.6 664.5h1.9v8.2h-1.9zM117.4 664.5h1.9v8.2h-1.9zM160.8 623.7h1.9v8.2h-1.9zM211.6 591h1.9v8.2h-1.9zM264.2 607.3h1.9v8.2h-1.9zM302 697.2h1.9v8.2h-1.9zM336.1 607.3h1.9v8.2h-1.9zM337.9 640h1.9v8.2h-1.9zM330.5 697.2h1.9v8.2h-1.9zM365.7 697.2h1.9v8.2h-1.9zM401.7 697.2h1.9v8.2h-1.9zM426.5 607.3h1.9v8.2h-1.9zM526.2 599.2h1.9v8.2h-1.9zM614.8 599.2h1.9v8.2h-1.9zM609.2 615.5h1.9v8.2h-1.9zM612.9 615.5h1.9v8.2h-1.9z"/><path fill="#d06a6a" d="M72.2 591h1.9v8.2h-1.9zM75.9 599.2h1.9v8.2h-1.9zM74.1 615.5h1.9v8.2h-1.9zM137.8 697.2h1.9v8.2h-1.9zM157.1 615.5h1.9v8.2h-1.9zM207.9 599.2h1.9v8.2h-1.9zM209.7 615.5h1.9v8.2h-1.9zM224.5 615.5h1.9v8.2h-1.9zM204.2 623.7h1.9v8.2h-1.9zM191.2 648.2h1.9v8.2h-1.9zM249.4 591h1.9v8.2h-1.9zM256.8 591h1.9v8.2h-1.9zM247.5 599.2h1.9v8.2h-1.9zM249.4 607.3h1.9v8.2h-1.9zM251.2 607.3h1.9v8.2h-1.9zM245.7 615.5h1.9v8.2h-1.9zM292.7 648.2h1.9v8.2h-1.9zM309.4 697.2h1.9v8.2h-1.9zM339.8 640h1.9v8.2h-1.9zM343.5 672.7h1.9v8.2h-1.9zM394.3 697.2h1.9v8.2h-1.9zM396.1 697.2h1.9v8.2h-1.9zM405.4 697.2h1.9v8.2h-1.9zM410.9 697.2h1.9v8.2h-1.9zM432.1 599.2h1.9v8.2h-1.9zM428.4 607.3h1.9v8.2h-1.9zM428.4 623.7h1.9v8.2h-1.9zM471.7 607.3h1.9v8.2h-1.9zM477.3 607.3h1.9v8.2h-1.9zM516.9 607.3h1.9v8.2h-1.9zM575.1 599.2h1.9v8.2h-1.9zM569.5 607.3h1.9v8.2h-1.9zM558.4 615.5h1.9v8.2h-1.9zM558.4 631.9h1.9v8.2h-1.9zM582.5 631.9h1.9v8.2h-1.9z"/><path fill="#b64444" d="M74.1 591h1.9v8.2h-1.9zM72.2 607.3h1.9v8.2h-1.9zM74.1 607.3h1.9v8.2h-1.9zM72.2 615.5h1.9v8.2h-1.9zM74.1 623.7h1.9v8.2h-1.9zM77.8 631.9h1.9v8.2h-1.9zM110 599.2h1.9v8.2h-1.9zM111.9 640h1.9v8.2h-1.9zM115.6 640h1.9v8.2h-1.9zM111.9 672.7h1.9v8.2h-1.9zM111.9 680.9h1.9v8.2h-1.9zM121.1 689.1h1.9v8.2h-1.9zM128.6 697.2h1.9v8.2h-1.9zM209.7 640h1.9v8.2h-1.9zM211.6 640h1.9v8.2h-1.9zM260.5 599.2h1.9v8.2h-1.9zM247.5 607.3h1.9v8.2h-1.9zM253.1 607.3h1.9v8.2h-1.9zM243.8 615.5h1.9v8.2h-1.9zM260.5 615.5h1.9v8.2h-1.9zM264.2 615.5h1.9v8.2h-1.9zM341.6 615.5h1.9v8.2h-1.9zM336.1 640h1.9v8.2h-1.9zM336.1 672.7h1.9v8.2h-1.9zM339.8 680.9h1.9v8.2h-1.9zM347.2 697.2h1.9v8.2h-1.9zM437.6 599.2h1.9v8.2h-1.9zM432.1 607.3h1.9v8.2h-1.9zM433.9 607.3h1.9v8.2h-1.9zM481 599.2h1.9v8.2h-1.9zM475.4 607.3h1.9v8.2h-1.9zM569.5 599.2h1.9v8.2h-1.9zM624 599.2h1.9v8.2h-1.9zM614.8 607.3h1.9v8.2h-1.9zM614.8 615.5h1.9v8.2h-1.9zM614.8 623.7h1.9v8.2h-1.9z"/><path fill="#bf5151" d="M72.2 599.2h1.9v8.2h-1.9zM77.8 599.2h1.9v8.2h-1.9zM70.4 615.5h1.9v8.2h-1.9zM70.4 623.7h1.9v8.2h-1.9zM77.8 623.7h1.9v8.2h-1.9zM117.4 607.3h1.9v8.2h-1.9zM123 615.5h1.9v8.2h-1.9zM117.4 656.4h1.9v8.2h-1.9zM115.6 689.1h1.9v8.2h-1.9zM134.1 697.2h1.9v8.2h-1.9zM136 697.2h1.9v8.2h-1.9zM158.9 615.5h1.9v8.2h-1.9zM200.5 599.2h1.9v8.2h-1.9zM211.6 599.2h1.9v8.2h-1.9zM200.5 607.3h1.9v8.2h-1.9zM202.3 607.3h1.9v8.2h-1.9zM204.2 615.5h1.9v8.2h-1.9zM206 615.5h1.9v8.2h-1.9zM220.8 615.5h1.9v8.2h-1.9zM202.3 623.7h1.9v8.2h-1.9zM204.2 631.9h1.9v8.2h-1.9zM206 631.9h1.9v8.2h-1.9zM256.8 599.2h1.9v8.2h-1.9zM262.3 599.2h1.9v8.2h-1.9zM256.8 607.3h1.9v8.2h-1.9zM249.4 615.5h1.9v8.2h-1.9zM289 697.2h1.9v8.2h-1.9zM336.1 599.2h1.9v8.2h-1.9zM337.9 599.2h1.9v8.2h-1.9zM336.1 615.5h1.9v8.2h-1.9zM337.9 623.7h1.9v8.2h-1.9zM341.6 631.9h1.9v8.2h-1.9zM336.1 680.9h1.9v8.2h-1.9zM356.5 697.2h1.9v8.2h-1.9zM381.3 599.2h1.9v8.2h-1.9zM422.8 599.2h1.9v8.2h-1.9zM426.5 599.2h1.9v8.2h-1.9zM482.8 599.2h1.9v8.2h-1.9zM516.9 599.2h1.9v8.2h-1.9zM611 607.3h1.9v8.2h-1.9z"/><path fill="#9c2626" d="M70.4 631.9h1.9v8.2h-1.9zM123 591h1.9v8.2h-1.9zM115.6 615.5h1.9v8.2h-1.9zM110 648.2h1.9v8.2h-1.9zM113.7 648.2h1.9v8.2h-1.9zM115.6 672.7h1.9v8.2h-1.9zM258.6 607.3h1.9v8.2h-1.9zM256.8 615.5h1.9v8.2h-1.9zM307.5 697.2h1.9v8.2h-1.9zM316.8 697.2h1.9v8.2h-1.9zM343.5 615.5h1.9v8.2h-1.9zM349 697.2h1.9v8.2h-1.9zM360.2 697.2h1.9v8.2h-1.9zM377.6 599.2h1.9v8.2h-1.9zM471.7 599.2h1.9v8.2h-1.9zM616.6 599.2h1.9v8.2h-1.9zM616.6 607.3h1.9v8.2h-1.9zM616.6 623.7h1.9v8.2h-1.9z"/><path fill="#731212" d="M110 591h1.9v8.2h-1.9zM119.3 591h1.9v8.2h-1.9zM110 640h1.9v8.2h-1.9zM113.7 656.4h1.9v8.2h-1.9zM117.4 689.1h1.9v8.2h-1.9zM211.6 615.5h1.9v8.2h-1.9zM211.6 631.9h1.9v8.2h-1.9zM303.8 697.2h1.9v8.2h-1.9zM305.7 697.2h1.9v8.2h-1.9zM618.5 599.2h1.9v8.2h-1.9zM612.9 607.3h1.9v8.2h-1.9zM609.2 623.7h1.9v8.2h-1.9z"/><path fill="#6c0f0f" d="M111.9 591h1.9v8.2h-1.9zM121.1 623.7h1.9v8.2h-1.9zM121.1 631.9h1.9v8.2h-1.9zM121.1 648.2h1.9v8.2h-1.9zM352.8 697.2h1.9v8.2h-1.9z"/><path fill="#660d0d" d="M113.7 599.2h1.9v8.2h-1.9zM115.6 631.9h1.9v8.2h-1.9zM110 672.7h1.9v8.2h-1.9zM481 607.3h1.9v8.2h-1.9zM607.3 607.3h1.9v8.2h-1.9z"/><path fill="#4d73b8" d="M106.3 607.3h1.9v8.2h-1.9zM302 640h1.9v8.2h-1.9zM398 656.4h1.9v8.2h-1.9zM531.7 607.3h1.9v8.2h-1.9z"/><path fill="#680e0e" d="M111.9 615.5h1.9v8.2h-1.9zM119.3 615.5h1.9v8.2h-1.9zM111.9 656.4h1.9v8.2h-1.9z"/><path fill="#496eb2" d="M298.3 599.2h1.9v8.2h-1.9zM300.1 599.2h1.9v8.2h-1.9zM390.6 648.2h1.9v8.2h-1.9z"/><path fill="#294482" d="M302 599.2h1.9v8.2h-1.9z"/><path fill="#314f8e" d="M303.8 599.2h1.9v8.2h-1.9z"/><path fill="#4569ac" d="M292.7 640h1.9v8.2h-1.9zM522.5 648.2h1.9v8.2h-1.9z"/><path fill="#39599a" d="M300.1 640h1.9v8.2h-1.9z"/><path fill="#4163a6" d="M303.8 640h1.9v8.2h-1.9z"/><path fill="#5e0a0a" d="M607.3 599.2h1.9v8.2h-1.9zM622.2 607.3h1.9v8.2h-1.9z"/><path fill="#610b0b" d="M629.6 607.3h1.9v8.2h-1.9z"/><polygon points="14.0,553.8 24.9,541.9 35.8,550.1 46.7,550.1 46.7,551.3 35.8,551.3 24.9,543.1 14.0,555.0" fill="#d9d9d9" opacity="0.85"/><polygon points="14.0,555.2 24.9,547.7 35.8,552.2 46.7,550.1 46.7,551.3 35.8,553.4 24.9,548.9 14.0,556.4" fill="#cbc4fc" opacity="0.8"/><polyline points="14.0,554.4 24.9,542.5 35.8,550.7 46.7,550.7" fill="none" stroke="#8c8c8c" stroke-width="0.9"/><polyline points="14.0,555.8 24.9,548.3 35.8,552.8 46.7,550.7" fill="none" stroke="#6d5df7" stroke-width="1.0"/><polygon points="59.2,552.2 70.1,547.5 81.0,542.4 91.9,550.8 91.9,553.2 81.0,544.8 70.1,549.9 59.2,554.6" fill="#d9d9d9" opacity="0.85"/><polygon points="59.2,555.8 70.1,549.7 81.0,551.4 91.9,553.4 91.9,554.6 81.0,552.6 70.1,550.9 59.2,557.0" fill="#cbc4fc" opacity="0.8"/><polyline points="59.2,553.4 70.1,548.7 81.0,543.6 91.9,552.0" fill="none" stroke="#8c8c8c" stroke-width="0.9"/><polyline points="59.2,556.4 70.1,550.3 81.0,552.0 91.9,554.0" fill="none" stroke="#6d5df7" stroke-width="1.0"/><polygon points="104.4,554.8 115.3,542.6 126.2,538.5 137.1,550.7 137.1,551.9 126.2,539.7 115.3,543.8 104.4,556.0" fill="#d9d9d9" opacity="0.85"/><polygon points="104.4,554.2 115.3,546.5 126.2,548.5 137.1,550.5 137.1,553.3 126.2,551.3 115.3,549.3 104.4,557.0" fill="#cbc4fc" opacity="0.8"/><polyline points="104.4,555.4 115.3,543.2 126.2,539.1 137.1,551.3" fill="none" stroke="#8c8c8c" stroke-width="0.9"/><polyline points="104.4,555.6 115.3,547.9 126.2,549.9 137.1,551.9" fill="none" stroke="#6d5df7" stroke-width="1.0"/><polygon points="149.6,552.4 160.5,545.0 171.4,547.7 182.3,553.8 182.3,557.0 171.4,550.9 160.5,548.2 149.6,555.6" fill="#d9d9d9" opacity="0.85"/><polygon points="149.6,554.2 160.5,550.4 171.4,553.2 182.3,554.4 182.3,557.6 171.4,556.4 160.5,553.6 149.6,557.4" fill="#cbc4fc" opacity="0.8"/><polyline points="149.6,554.0 160.5,546.6 171.4,549.3 182.3,555.4" fill="none" stroke="#8c8c8c" stroke-width="0.9"/><polyline points="149.6,555.8 160.5,552.0 171.4,554.8 182.3,556.0" fill="none" stroke="#6d5df7" stroke-width="1.0"/><polygon points="194.8,551.0 205.7,544.4 216.6,541.4 227.5,553.0 227.5,556.6 216.6,545.0 205.7,548.0 194.8,554.6" fill="#d9d9d9" opacity="0.85"/><polygon points="194.8,551.5 205.7,551.2 216.6,549.9 227.5,556.2 227.5,557.8 216.6,551.5 205.7,552.8 194.8,553.1" fill="#cbc4fc" opacity="0.8"/><polyline points="194.8,552.8 205.7,546.2 216.6,543.2 227.5,554.8" fill="none" stroke="#8c8c8c" stroke-width="0.9"/><polyline points="194.8,552.3 205.7,552.0 216.6,550.7 227.5,557.0" fill="none" stroke="#6d5df7" stroke-width="1.0"/><polygon points="240.1,553.9 251.0,548.8 261.9,552.9 272.8,551.8 272.8,552.8 261.9,553.9 251.0,549.8 240.1,554.9" fill="#d9d9d9" opacity="0.85"/><polygon points="240.1,549.8 251.0,551.5 261.9,548.8 272.8,549.4 272.8,550.4 261.9,549.8 251.0,552.5 240.1,550.8" fill="#cbc4fc" opacity="0.8"/><polyline points="240.1,554.4 251.0,549.3 261.9,553.4 272.8,552.3" fill="none" stroke="#8c8c8c" stroke-width="0.9"/><polyline points="240.1,550.3 251.0,552.0 261.9,549.3 272.8,549.9" fill="none" stroke="#6d5df7" stroke-width="1.0"/><polygon points="285.3,552.6 296.2,549.5 307.1,552.6 318.0,554.2 318.0,557.8 307.1,556.2 296.2,553.1 285.3,556.2" fill="#d9d9d9" opacity="0.85"/><polygon points="285.3,554.4 296.2,553.4 307.1,558.1 318.0,551.0 318.0,553.0 307.1,560.1 296.2,555.4 285.3,556.4" fill="#cbc4fc" opacity="0.8"/><polyline points="285.3,554.4 296.2,551.3 307.1,554.4 318.0,556.0" fill="none" stroke="#8c8c8c" stroke-width="0.9"/><polyline points="285.3,555.4 296.2,554.4 307.1,559.1 318.0,552.0" fill="none" stroke="#6d5df7" stroke-width="1.0"/><polygon points="330.5,553.8 341.4,544.6 352.3,542.6 363.2,555.4 363.2,556.6 352.3,543.8 341.4,545.8 330.5,555.0" fill="#d9d9d9" opacity="0.85"/><polygon points="330.5,554.8 341.4,549.7 352.3,552.8 363.2,552.2 363.2,553.4 352.3,554.0 341.4,550.9 330.5,556.0" fill="#cbc4fc" opacity="0.8"/><polyline points="330.5,554.4 341.4,545.2 352.3,543.2 363.2,556.0" fill="none" stroke="#8c8c8c" stroke-width="0.9"/><polyline points="330.5,555.4 341.4,550.3 352.3,553.4 363.2,552.8" fill="none" stroke="#6d5df7" stroke-width="1.0"/><polygon points="375.7,553.4 386.6,548.3 397.5,552.6 408.4,557.5 408.4,560.3 397.5,555.4 386.6,551.1 375.7,556.2" fill="#d9d9d9" opacity="0.85"/><polygon points="375.7,556.0 386.6,552.4 397.5,553.4 408.4,555.0 408.4,557.0 397.5,555.4 386.6,554.4 375.7,558.0" fill="#cbc4fc" opacity="0.8"/><polyline points="375.7,554.8 386.6,549.7 397.5,554.0 408.4,558.9" fill="none" stroke="#8c8c8c" stroke-width="0.9"/><polyline points="375.7,557.0 386.6,553.4 397.5,554.4 408.4,556.0" fill="none" stroke="#6d5df7" stroke-width="1.0"/><polygon points="420.9,553.4 431.8,550.3 442.7,549.3 453.6,551.4 453.6,552.6 442.7,550.5 431.8,551.5 420.9,554.6" fill="#d9d9d9" opacity="0.85"/><polygon points="420.9,550.7 431.8,548.7 442.7,547.0 453.6,550.1 453.6,551.3 442.7,548.2 431.8,549.9 420.9,551.9" fill="#cbc4fc" opacity="0.8"/><polyline points="420.9,554.0 431.8,550.9 442.7,549.9 453.6,552.0" fill="none" stroke="#8c8c8c" stroke-width="0.9"/><polyline points="420.9,551.3 431.8,549.3 442.7,547.6 453.6,550.7" fill="none" stroke="#6d5df7" stroke-width="1.0"/><polygon points="466.1,553.6 477.0,550.1 487.9,547.5 498.8,552.2 498.8,554.6 487.9,549.9 477.0,552.5 466.1,556.0" fill="#d9d9d9" opacity="0.85"/><polygon points="466.1,554.2 477.0,550.8 487.9,547.1 498.8,551.1 498.8,553.5 487.9,549.5 477.0,553.2 466.1,556.6" fill="#cbc4fc" opacity="0.8"/><polyline points="466.1,554.8 477.0,551.3 487.9,548.7 498.8,553.4" fill="none" stroke="#8c8c8c" stroke-width="0.9"/><polyline points="466.1,555.4 477.0,552.0 487.9,548.3 498.8,552.3" fill="none" stroke="#6d5df7" stroke-width="1.0"/><polygon points="511.3,553.8 522.2,550.7 533.1,549.7 544.0,550.1 544.0,551.3 533.1,550.9 522.2,551.9 511.3,555.0" fill="#d9d9d9" opacity="0.85"/><polygon points="511.3,553.4 522.2,552.2 533.1,552.8 544.0,549.7 544.0,550.9 533.1,554.0 522.2,553.4 511.3,554.6" fill="#cbc4fc" opacity="0.8"/><polyline points="511.3,554.4 522.2,551.3 533.1,550.3 544.0,550.7" fill="none" stroke="#8c8c8c" stroke-width="0.9"/><polyline points="511.3,554.0 522.2,552.8 533.1,553.4 544.0,550.3" fill="none" stroke="#6d5df7" stroke-width="1.0"/><polygon points="556.5,550.2 567.4,547.5 578.3,548.1 589.2,551.6 589.2,555.2 578.3,551.7 567.4,551.1 556.5,553.8" fill="#d9d9d9" opacity="0.85"/><polygon points="556.5,550.8 567.4,550.1 578.3,549.1 589.2,552.8 589.2,555.2 578.3,551.5 567.4,552.5 556.5,553.2" fill="#cbc4fc" opacity="0.8"/><polyline points="556.5,552.0 567.4,549.3 578.3,549.9 589.2,553.4" fill="none" stroke="#8c8c8c" stroke-width="0.9"/><polyline points="556.5,552.0 567.4,551.3 578.3,550.3 589.2,554.0" fill="none" stroke="#6d5df7" stroke-width="1.0"/><polygon points="601.7,553.6 612.6,547.5 623.5,548.1 634.4,551.1 634.4,553.5 623.5,550.5 612.6,549.9 601.7,556.0" fill="#d9d9d9" opacity="0.85"/><polygon points="601.7,555.2 612.6,550.7 623.5,551.7 634.4,554.2 634.4,555.4 623.5,552.9 612.6,551.9 601.7,556.4" fill="#cbc4fc" opacity="0.8"/><polyline points="601.7,554.8 612.6,548.7 623.5,549.3 634.4,552.3" fill="none" stroke="#8c8c8c" stroke-width="0.9"/><polyline points="601.7,555.8 612.6,551.3 623.5,552.3 634.4,554.8" fill="none" stroke="#6d5df7" stroke-width="1.0"/><text transform="translate(641.40,572.60) scale(0.93,1)" font-size="9.24" fill="#262626" stroke="#262626">TimePoint</text><text transform="translate(641.40,585.60) scale(0.93,1)" font-size="9.24" fill="#262626" stroke="#262626">Treatment</text><text transform="translate(641.40,717.40) scale(0.93,1)" font-size="9.24" fill="#262626" stroke="#262626">Treatment</text><text transform="translate(641.60,598.19) scale(0.93,1)" font-size="9.24" fill="#262626" stroke="#262626">Fosb</text><text transform="translate(641.60,606.36) scale(0.93,1)" font-size="9.24" fill="#262626" stroke="#262626">Egr1</text><text transform="translate(641.60,614.53) scale(0.93,1)" font-size="9.24" fill="#262626" stroke="#262626">Fos</text><text transform="translate(641.60,622.70) scale(0.93,1)" font-size="9.24" fill="#262626" stroke="#262626">Npas4</text><text transform="translate(641.60,630.87) scale(0.93,1)" font-size="9.24" fill="#262626" stroke="#262626">Btg2</text><text transform="translate(641.60,639.04) scale(0.93,1)" font-size="9.24" fill="#262626" stroke="#262626">Tiparp</text><text transform="translate(641.60,647.21) scale(0.93,1)" font-size="9.24" fill="#262626" stroke="#262626">Arc</text><text transform="translate(641.60,655.39) scale(0.93,1)" font-size="9.24" fill="#262626" stroke="#262626">Egr4</text><text transform="translate(641.60,663.56) scale(0.93,1)" font-size="9.24" fill="#262626" stroke="#262626">Dusp5</text><text transform="translate(641.60,671.73) scale(0.93,1)" font-size="9.24" fill="#262626" stroke="#262626">Egr3</text><text transform="translate(641.60,679.90) scale(0.93,1)" font-size="9.24" fill="#262626" stroke="#262626">Ccn1</text><text transform="translate(641.60,688.07) scale(0.93,1)" font-size="9.24" fill="#262626" stroke="#262626">Gadd45g</text><text transform="translate(641.60,696.24) scale(0.93,1)" font-size="9.24" fill="#262626" stroke="#262626">Per1</text><text transform="translate(641.60,704.41) scale(0.93,1)" font-size="9.24" fill="#262626" stroke="#262626">Sdk1</text><text transform="translate(203.40,731.60) scale(0.93,1)" font-size="9.78" fill="#262626" stroke="#262626">TimePoint</text><rect x="170.40" y="735.90" width="9.00" height="8.80" fill="#fde0d3"/><text transform="translate(182.80,743.70) scale(0.93,1)" font-size="9.78" fill="#262626" stroke="#262626">Control</text><rect x="170.40" y="745.30" width="9.00" height="8.80" fill="#f6a98a"/><text transform="translate(182.80,753.10) scale(0.93,1)" font-size="9.78" fill="#262626" stroke="#262626">15min</text><rect x="230.70" y="735.90" width="9.00" height="8.80" fill="#ed6a4d"/><text transform="translate(243.10,743.70) scale(0.93,1)" font-size="9.78" fill="#262626" stroke="#262626">45min</text><rect x="230.70" y="745.30" width="9.00" height="8.80" fill="#cc191e"/><text transform="translate(243.10,753.10) scale(0.93,1)" font-size="9.78" fill="#262626" stroke="#262626">3h</text><text transform="translate(292.00,731.60) scale(0.93,1)" font-size="9.78" fill="#262626" stroke="#262626">Treatment</text><rect x="292.00" y="734.90" width="8.40" height="9.20" fill="#d9d9d9"/><text transform="translate(303.60,742.90) scale(0.93,1)" font-size="9.78" fill="#262626" stroke="#262626">Handling +ARS</text><rect x="292.00" y="744.80" width="8.40" height="9.20" fill="#7a66fe"/><text transform="translate(303.60,752.80) scale(0.93,1)" font-size="9.78" fill="#262626" stroke="#262626">CRS +ARS</text><text transform="translate(384.30,731.60) scale(0.93,1)" font-size="9.78" fill="#262626" stroke="#262626">log2FC</text><defs><linearGradient id="fcbar" x1="0" x2="1" y1="0" y2="0"><stop offset="0" stop-color="#1f3568"/><stop offset="0.25" stop-color="#253f7c"/><stop offset="0.38" stop-color="#3a62ad"/><stop offset="0.5" stop-color="#f7f7f7"/><stop offset="0.6" stop-color="#d58080"/><stop offset="0.72" stop-color="#7a1414"/><stop offset="1" stop-color="#5e0c0c"/></linearGradient></defs><rect x="383.80" y="734.00" width="61.20" height="10.80" fill="url(#fcbar)"/><line x1="388.00" y1="734.00" x2="388.00" y2="735.80" stroke="#fff" stroke-width="0.5"/><line x1="388.00" y1="743.00" x2="388.00" y2="744.80" stroke="#fff" stroke-width="0.5"/><text transform="translate(388.00,752.70) scale(0.93,1)" font-size="9.78" fill="#262626" stroke="#262626" text-anchor="middle">−2</text><line x1="399.60" y1="734.00" x2="399.60" y2="735.80" stroke="#fff" stroke-width="0.5"/><line x1="399.60" y1="743.00" x2="399.60" y2="744.80" stroke="#fff" stroke-width="0.5"/><text transform="translate(399.60,752.70) scale(0.93,1)" font-size="9.78" fill="#262626" stroke="#262626" text-anchor="middle">−1</text><line x1="414.00" y1="734.00" x2="414.00" y2="735.80" stroke="#fff" stroke-width="0.5"/><line x1="414.00" y1="743.00" x2="414.00" y2="744.80" stroke="#fff" stroke-width="0.5"/><text transform="translate(414.00,752.70) scale(0.93,1)" font-size="9.78" fill="#262626" stroke="#262626" text-anchor="middle">0</text><line x1="428.40" y1="734.00" x2="428.40" y2="735.80" stroke="#fff" stroke-width="0.5"/><line x1="428.40" y1="743.00" x2="428.40" y2="744.80" stroke="#fff" stroke-width="0.5"/><text transform="translate(428.40,752.70) scale(0.93,1)" font-size="9.78" fill="#262626" stroke="#262626" text-anchor="middle">1</text><line x1="441.80" y1="734.00" x2="441.80" y2="735.80" stroke="#fff" stroke-width="0.5"/><line x1="441.80" y1="743.00" x2="441.80" y2="744.80" stroke="#fff" stroke-width="0.5"/><text transform="translate(441.80,752.70) scale(0.93,1)" font-size="9.78" fill="#262626" stroke="#262626" text-anchor="middle">2</text><text x="0.30" y="525.40" font-size="16.5" fill="#222" stroke="#222" stroke-width="0.3">H</text><rect x="1.40" y="765.30" width="1.90" height="11.90" fill="#222"/><text transform="translate(109.60,844.82) scale(0.93,1)" font-size="9.24" fill="#262626" stroke="#262626">Pde4d</text><text transform="translate(109.60,854.27) scale(0.93,1)" font-size="9.24" fill="#262626" stroke="#262626">Kcnma1</text><text transform="translate(109.60,863.72) scale(0.93,1)" font-size="9.24" fill="#262626" stroke="#262626">Ablim1</text><text transform="translate(109.60,873.16) scale(0.93,1)" font-size="9.24" fill="#262626" stroke="#262626">Mxd4</text><text transform="translate(109.60,882.61) scale(0.93,1)" font-size="9.24" fill="#262626" stroke="#262626">Pde10a</text><text transform="translate(109.60,892.06) scale(0.93,1)" font-size="9.24" fill="#262626" stroke="#262626">Spon1</text><text transform="translate(109.60,901.51) scale(0.93,1)" font-size="9.24" fill="#262626" stroke="#262626">Asic2</text><text transform="translate(109.60,910.95) scale(0.93,1)" font-size="9.24" fill="#262626" stroke="#262626">Tsc22d3</text><text transform="translate(109.60,920.40) scale(0.93,1)" font-size="9.24" fill="#262626" stroke="#262626">Zbtb16</text><text transform="translate(109.60,929.85) scale(0.93,1)" font-size="9.24" fill="#262626" stroke="#262626">Galnt18</text><text transform="translate(109.60,939.29) scale(0.93,1)" font-size="9.24" fill="#262626" stroke="#262626">Lhfp</text><text transform="translate(109.60,948.74) scale(0.93,1)" font-size="9.24" fill="#262626" stroke="#262626">Ccnd3</text><text transform="translate(109.60,958.19) scale(0.93,1)" font-size="9.24" fill="#262626" stroke="#262626">Kcnq3</text><text transform="translate(109.60,967.64) scale(0.93,1)" font-size="9.24" fill="#262626" stroke="#262626">Prkca</text><text transform="translate(109.60,977.08) scale(0.93,1)" font-size="9.24" fill="#262626" stroke="#262626">Fkbp5</text><text transform="translate(109.60,986.53) scale(0.93,1)" font-size="9.24" fill="#262626" stroke="#262626">Adam23</text><text transform="translate(109.60,995.98) scale(0.93,1)" font-size="9.24" fill="#262626" stroke="#262626">Usp53</text><text transform="translate(109.60,816.00) scale(0.93,1)" font-size="9.24" fill="#262626" stroke="#262626">TimePoint</text><text transform="translate(109.60,830.80) scale(0.93,1)" font-size="9.24" fill="#262626" stroke="#262626">Treatment</text><text transform="translate(55.20,774.30) scale(0.93,1)" font-size="9.78" fill="#262626" stroke="#262626" text-anchor="middle">astrocytes</text><polygon points="18.4,796.9 44.5,795.7 70.0,793.7 99.0,795.1 99.0,797.7 70.0,796.3 44.5,798.3 18.4,799.5" fill="#c9c3fb" opacity="0.8"/><polyline points="18.4,801.7 44.5,796.5 70.0,790.0 99.0,783.3" fill="none" stroke="#8a8a8a" stroke-width="0.8"/><polyline points="18.4,798.2 44.5,797.0 70.0,795.0 99.0,796.4" fill="none" stroke="#5a48ee" stroke-width="0.9"/><text transform="translate(281.30,844.56) scale(0.93,1)" font-size="9.24" fill="#262626" stroke="#262626">Cmtm4</text><text transform="translate(281.30,853.48) scale(0.93,1)" font-size="9.24" fill="#262626" stroke="#262626">Rasal2</text><text transform="translate(281.30,862.41) scale(0.93,1)" font-size="9.24" fill="#262626" stroke="#262626">Ccdc192</text><text transform="translate(281.30,871.33) scale(0.93,1)" font-size="9.24" fill="#262626" stroke="#262626">Mecp2</text><text transform="translate(281.30,880.25) scale(0.93,1)" font-size="9.24" fill="#262626" stroke="#262626">Kcnip3</text><text transform="translate(281.30,889.17) scale(0.93,1)" font-size="9.24" fill="#262626" stroke="#262626">Gpr155</text><text transform="translate(281.30,898.09) scale(0.93,1)" font-size="9.24" fill="#262626" stroke="#262626">Ube2v2</text><text transform="translate(281.30,907.02) scale(0.93,1)" font-size="9.24" fill="#262626" stroke="#262626">Rab40c</text><text transform="translate(281.30,915.94) scale(0.93,1)" font-size="9.24" fill="#262626" stroke="#262626">Il6st</text><text transform="translate(281.30,924.86) scale(0.93,1)" font-size="9.24" fill="#262626" stroke="#262626">Basp1</text><text transform="translate(281.30,933.78) scale(0.93,1)" font-size="9.24" fill="#262626" stroke="#262626">Acer3</text><text transform="translate(281.30,942.71) scale(0.93,1)" font-size="9.24" fill="#262626" stroke="#262626">Nptn</text><text transform="translate(281.30,951.63) scale(0.93,1)" font-size="9.24" fill="#262626" stroke="#262626">Far1</text><text transform="translate(281.30,960.55) scale(0.93,1)" font-size="9.24" fill="#262626" stroke="#262626">B230307C23Rik</text><text transform="translate(281.30,969.47) scale(0.93,1)" font-size="9.24" fill="#262626" stroke="#262626">Fam168a</text><text transform="translate(281.30,978.39) scale(0.93,1)" font-size="9.24" fill="#262626" stroke="#262626">Zbtb16</text><text transform="translate(281.30,987.32) scale(0.93,1)" font-size="9.24" fill="#262626" stroke="#262626">Fkbp5</text><text transform="translate(281.30,996.24) scale(0.93,1)" font-size="9.24" fill="#262626" stroke="#262626">Ddit4</text><text transform="translate(281.30,816.00) scale(0.93,1)" font-size="9.24" fill="#262626" stroke="#262626">TimePoint</text><text transform="translate(281.30,830.80) scale(0.93,1)" font-size="9.24" fill="#262626" stroke="#262626">Treatment</text><text transform="translate(233.20,774.30) scale(0.93,1)" font-size="9.78" fill="#262626" stroke="#262626" text-anchor="middle">microglia</text><polygon points="194.3,794.7 217.3,795.5 244.0,791.2 269.0,795.5 269.0,798.1 244.0,793.8 217.3,798.1 194.3,797.3" fill="#c9c3fb" opacity="0.8"/><polyline points="194.3,802.0 218.5,795.5 244.0,786.6 269.0,790.0" fill="none" stroke="#8a8a8a" stroke-width="0.8"/><polyline points="194.3,796.0 217.3,796.8 244.0,792.5 269.0,796.8" fill="none" stroke="#5a48ee" stroke-width="0.9"/><text transform="translate(464.10,844.12) scale(0.93,1)" font-size="9.24" fill="#262626" stroke="#262626">Cdkn1a</text><text transform="translate(464.10,852.14) scale(0.93,1)" font-size="9.24" fill="#262626" stroke="#262626">Pcdh11x</text><text transform="translate(464.10,860.18) scale(0.93,1)" font-size="9.24" fill="#262626" stroke="#262626">Slc25a13</text><text transform="translate(464.10,868.21) scale(0.93,1)" font-size="9.24" fill="#262626" stroke="#262626">Sbf2</text><text transform="translate(464.10,876.24) scale(0.93,1)" font-size="9.24" fill="#262626" stroke="#262626">Itgad</text><text transform="translate(464.10,884.26) scale(0.93,1)" font-size="9.24" fill="#262626" stroke="#262626">Pnpla7</text><text transform="translate(464.10,892.30) scale(0.93,1)" font-size="9.24" fill="#262626" stroke="#262626">Ehbp1</text><text transform="translate(464.10,900.33) scale(0.93,1)" font-size="9.24" fill="#262626" stroke="#262626">Sgk3</text><text transform="translate(464.10,908.36) scale(0.93,1)" font-size="9.24" fill="#262626" stroke="#262626">Fam107a</text><text transform="translate(464.10,916.38) scale(0.93,1)" font-size="9.24" fill="#262626" stroke="#262626">Arhgap21</text><text transform="translate(464.10,924.42) scale(0.93,1)" font-size="9.24" fill="#262626" stroke="#262626">Slc6a1</text><text transform="translate(464.10,932.45) scale(0.93,1)" font-size="9.24" fill="#262626" stroke="#262626">Arid5b</text><text transform="translate(464.10,940.48) scale(0.93,1)" font-size="9.24" fill="#262626" stroke="#262626">Azin1</text><text transform="translate(464.10,948.50) scale(0.93,1)" font-size="9.24" fill="#262626" stroke="#262626">Arl4d</text><text transform="translate(464.10,956.54) scale(0.93,1)" font-size="9.24" fill="#262626" stroke="#262626">Errfi1</text><text transform="translate(464.10,964.57) scale(0.93,1)" font-size="9.24" fill="#262626" stroke="#262626">Rcan2</text><text transform="translate(464.10,972.60) scale(0.93,1)" font-size="9.24" fill="#262626" stroke="#262626">Polr3e</text><text transform="translate(464.10,980.63) scale(0.93,1)" font-size="9.24" fill="#262626" stroke="#262626">Adamts2</text><text transform="translate(464.10,988.66) scale(0.93,1)" font-size="9.24" fill="#262626" stroke="#262626">Per3</text><text transform="translate(464.10,996.69) scale(0.93,1)" font-size="9.24" fill="#262626" stroke="#262626">Fbn2</text><text transform="translate(464.10,816.00) scale(0.93,1)" font-size="9.24" fill="#262626" stroke="#262626">TimePoint</text><text transform="translate(464.10,830.80) scale(0.93,1)" font-size="9.24" fill="#262626" stroke="#262626">Treatment</text><text transform="translate(411.00,774.30) scale(0.93,1)" font-size="9.78" fill="#262626" stroke="#262626" text-anchor="middle">oligodendrocyte</text><polygon points="370.7,801.5 398.8,795.3 424.3,787.4 451.9,782.0 451.9,787.6 424.3,792.6 398.8,798.3 370.7,802.5" fill="#d4d4d4" opacity="0.85"/><polygon points="370.7,800.7 398.8,798.1 424.3,793.7 451.9,796.8 451.9,799.4 424.3,796.3 398.8,800.7 370.7,803.3" fill="#c9c3fb" opacity="0.8"/><polyline points="370.7,802.0 398.8,796.8 424.3,790.0 451.9,784.8" fill="none" stroke="#8a8a8a" stroke-width="0.8"/><polyline points="370.7,802.0 398.8,799.4 424.3,795.0 451.9,798.1" fill="none" stroke="#5a48ee" stroke-width="0.9"/><text transform="translate(641.80,845.45) scale(0.93,1)" font-size="9.24" fill="#262626" stroke="#262626">Tsc22d3</text><text transform="translate(641.80,856.16) scale(0.93,1)" font-size="9.24" fill="#262626" stroke="#262626">Cdkn1a</text><text transform="translate(641.80,866.87) scale(0.93,1)" font-size="9.24" fill="#262626" stroke="#262626">Nfkbia</text><text transform="translate(641.80,877.57) scale(0.93,1)" font-size="9.24" fill="#262626" stroke="#262626">Slc2a1</text><text transform="translate(641.80,888.28) scale(0.93,1)" font-size="9.24" fill="#262626" stroke="#262626">Paqr5</text><text transform="translate(641.80,898.99) scale(0.93,1)" font-size="9.24" fill="#262626" stroke="#262626">Nostrin</text><text transform="translate(641.80,909.69) scale(0.93,1)" font-size="9.24" fill="#262626" stroke="#262626">Igfbp7</text><text transform="translate(641.80,920.40) scale(0.93,1)" font-size="9.24" fill="#262626" stroke="#262626">Lmod1</text><text transform="translate(641.80,931.11) scale(0.93,1)" font-size="9.24" fill="#262626" stroke="#262626">Ppp1r14a</text><text transform="translate(641.80,941.81) scale(0.93,1)" font-size="9.24" fill="#262626" stroke="#262626">Klf2</text><text transform="translate(641.80,952.52) scale(0.93,1)" font-size="9.24" fill="#262626" stroke="#262626">Klf4</text><text transform="translate(641.80,963.23) scale(0.93,1)" font-size="9.24" fill="#262626" stroke="#262626">Gch1</text><text transform="translate(641.80,973.93) scale(0.93,1)" font-size="9.24" fill="#262626" stroke="#262626">Btg2</text><text transform="translate(641.80,984.64) scale(0.93,1)" font-size="9.24" fill="#262626" stroke="#262626">Dusp1</text><text transform="translate(641.80,995.35) scale(0.93,1)" font-size="9.24" fill="#262626" stroke="#262626">Sik1</text><text transform="translate(641.80,816.00) scale(0.93,1)" font-size="9.24" fill="#262626" stroke="#262626">TimePoint</text><text transform="translate(641.80,830.80) scale(0.93,1)" font-size="9.24" fill="#262626" stroke="#262626">Treatment</text><text transform="translate(588.20,774.30) scale(0.93,1)" font-size="9.78" fill="#262626" stroke="#262626" text-anchor="middle">vascular</text><polygon points="547.0,801.5 575.1,785.9 602.0,777.1 628.8,788.9 628.8,794.5 602.0,782.3 575.1,788.9 547.0,802.5" fill="#d4d4d4" opacity="0.85"/><polygon points="547.0,794.2 575.1,793.7 602.0,789.1 628.8,794.2 628.8,796.8 602.0,791.7 575.1,796.3 547.0,796.8" fill="#c9c3fb" opacity="0.8"/><polyline points="547.0,802.0 575.1,787.4 602.0,779.7 628.8,791.7" fill="none" stroke="#8a8a8a" stroke-width="0.8"/><polyline points="547.0,795.5 575.1,795.0 602.0,790.4 628.8,795.5" fill="none" stroke="#5a48ee" stroke-width="0.9"/><path fill="#fde0d3" d="M7.9 805.2h3.9v13.5h-3.9zM11.8 805.2h3.9v13.5h-3.9zM15.7 805.2h3.9v13.5h-3.9zM19.5 805.2h3.9v13.5h-3.9zM23.4 805.2h3.9v13.5h-3.9zM27.3 805.2h3.9v13.5h-3.9zM186.6 805.2h3.7v13.5h-3.7zM190.2 805.2h3.7v13.5h-3.7zM193.8 805.2h3.7v13.5h-3.7zM197.4 805.2h3.7v13.5h-3.7zM201.1 805.2h3.7v13.5h-3.7zM204.7 805.2h3.7v13.5h-3.7zM361.7 805.2h4.1v13.5h-4.1zM365.8 805.2h4.1v13.5h-4.1zM369.8 805.2h4.1v13.5h-4.1zM373.9 805.2h4.1v13.5h-4.1zM377.9 805.2h4.1v13.5h-4.1zM381.9 805.2h4.1v13.5h-4.1zM539.4 805.2h4v13.5h-4zM543.4 805.2h4v13.5h-4zM547.3 805.2h4v13.5h-4zM551.2 805.2h4v13.5h-4zM555.2 805.2h4v13.5h-4zM559.1 805.2h4v13.5h-4z"/><path fill="#d9d9d9" d="M7.9 820h3.9v13.6h-3.9zM11.8 820h3.9v13.6h-3.9zM15.7 820h3.9v13.6h-3.9zM33.6 820h4v13.6h-4zM37.6 820h4v13.6h-4zM41.6 820h4v13.6h-4zM60 820h4v13.6h-4zM63.9 820h4v13.6h-4zM82.3 820h4v13.6h-4zM86.3 820h4v13.6h-4zM90.2 820h4v13.6h-4zM186.6 820h3.7v13.6h-3.7zM190.2 820h3.7v13.6h-3.7zM193.8 820h3.7v13.6h-3.7zM210.9 820h3.7v13.6h-3.7zM214.5 820h3.7v13.6h-3.7zM218.1 820h3.7v13.6h-3.7zM235.1 820h3.6v13.6h-3.6zM238.7 820h3.6v13.6h-3.6zM256 820h3.7v13.6h-3.7zM259.6 820h3.7v13.6h-3.7zM263.3 820h3.7v13.6h-3.7zM361.7 820h4.1v13.6h-4.1zM365.8 820h4.1v13.6h-4.1zM369.8 820h4.1v13.6h-4.1zM388 820h4.1v13.6h-4.1zM392.1 820h4.1v13.6h-4.1zM396.1 820h4.1v13.6h-4.1zM414.6 820h4v13.6h-4zM418.6 820h4v13.6h-4zM437 820h4v13.6h-4zM440.9 820h4v13.6h-4zM444.9 820h4v13.6h-4zM539.4 820h4v13.6h-4zM543.4 820h4v13.6h-4zM547.3 820h4v13.6h-4zM565.7 820h4v13.6h-4zM569.6 820h4v13.6h-4zM573.5 820h4v13.6h-4zM591.8 820h4.1v13.6h-4.1zM595.9 820h4.1v13.6h-4.1zM614.8 820h4v13.6h-4zM618.7 820h4v13.6h-4zM622.6 820h4v13.6h-4z"/><path fill="#7a66fe" d="M19.5 820h3.9v13.6h-3.9zM23.4 820h3.9v13.6h-3.9zM27.3 820h3.9v13.6h-3.9zM45.5 820h4v13.6h-4zM49.5 820h4v13.6h-4zM53.5 820h4v13.6h-4zM67.9 820h4v13.6h-4zM71.8 820h4v13.6h-4zM75.8 820h4v13.6h-4zM94.2 820h4v13.6h-4zM98.2 820h4v13.6h-4zM102.1 820h4v13.6h-4zM197.4 820h3.7v13.6h-3.7zM201.1 820h3.7v13.6h-3.7zM204.7 820h3.7v13.6h-3.7zM221.8 820h3.7v13.6h-3.7zM225.4 820h3.7v13.6h-3.7zM229 820h3.7v13.6h-3.7zM242.3 820h3.6v13.6h-3.6zM245.8 820h3.6v13.6h-3.6zM249.4 820h3.6v13.6h-3.6zM266.9 820h3.7v13.6h-3.7zM270.5 820h3.7v13.6h-3.7zM274.2 820h3.7v13.6h-3.7zM373.9 820h4.1v13.6h-4.1zM377.9 820h4.1v13.6h-4.1zM381.9 820h4.1v13.6h-4.1zM400.1 820h4.1v13.6h-4.1zM404.2 820h4.1v13.6h-4.1zM408.2 820h4.1v13.6h-4.1zM422.6 820h4v13.6h-4zM426.5 820h4v13.6h-4zM430.5 820h4v13.6h-4zM448.8 820h4v13.6h-4zM452.7 820h4v13.6h-4zM456.7 820h4v13.6h-4zM551.2 820h4v13.6h-4zM555.2 820h4v13.6h-4zM559.1 820h4v13.6h-4zM577.5 820h4v13.6h-4zM581.4 820h4v13.6h-4zM585.3 820h4v13.6h-4zM600 820h4.1v13.6h-4.1zM604 820h4.1v13.6h-4.1zM608.1 820h4.1v13.6h-4.1zM626.5 820h4v13.6h-4zM630.5 820h4v13.6h-4zM634.4 820h4v13.6h-4z"/><path fill="#f6a98a" d="M33.6 805.2h4v13.5h-4zM37.6 805.2h4v13.5h-4zM41.6 805.2h4v13.5h-4zM45.5 805.2h4v13.5h-4zM49.5 805.2h4v13.5h-4zM53.5 805.2h4v13.5h-4zM210.9 805.2h3.7v13.5h-3.7zM214.5 805.2h3.7v13.5h-3.7zM218.1 805.2h3.7v13.5h-3.7zM221.8 805.2h3.7v13.5h-3.7zM225.4 805.2h3.7v13.5h-3.7zM229 805.2h3.7v13.5h-3.7zM388 805.2h4.1v13.5h-4.1zM392.1 805.2h4.1v13.5h-4.1zM396.1 805.2h4.1v13.5h-4.1zM400.1 805.2h4.1v13.5h-4.1zM404.2 805.2h4.1v13.5h-4.1zM408.2 805.2h4.1v13.5h-4.1zM565.7 805.2h4v13.5h-4zM569.6 805.2h4v13.5h-4zM573.5 805.2h4v13.5h-4zM577.5 805.2h4v13.5h-4zM581.4 805.2h4v13.5h-4zM585.3 805.2h4v13.5h-4z"/><path fill="#ed6a4d" d="M60 805.2h4v13.5h-4zM63.9 805.2h4v13.5h-4zM67.9 805.2h4v13.5h-4zM71.8 805.2h4v13.5h-4zM75.8 805.2h4v13.5h-4zM235.1 805.2h3.6v13.5h-3.6zM238.7 805.2h3.6v13.5h-3.6zM242.3 805.2h3.6v13.5h-3.6zM245.8 805.2h3.6v13.5h-3.6zM249.4 805.2h3.6v13.5h-3.6zM414.6 805.2h4v13.5h-4zM418.6 805.2h4v13.5h-4zM422.6 805.2h4v13.5h-4zM426.5 805.2h4v13.5h-4zM430.5 805.2h4v13.5h-4zM591.8 805.2h4.1v13.5h-4.1zM595.9 805.2h4.1v13.5h-4.1zM600 805.2h4.1v13.5h-4.1zM604 805.2h4.1v13.5h-4.1zM608.1 805.2h4.1v13.5h-4.1z"/><path fill="#cc191e" d="M82.3 805.2h4v13.5h-4zM86.3 805.2h4v13.5h-4zM90.2 805.2h4v13.5h-4zM94.2 805.2h4v13.5h-4zM98.2 805.2h4v13.5h-4zM102.1 805.2h4v13.5h-4zM256 805.2h3.7v13.5h-3.7zM259.6 805.2h3.7v13.5h-3.7zM263.3 805.2h3.7v13.5h-3.7zM266.9 805.2h3.7v13.5h-3.7zM270.5 805.2h3.7v13.5h-3.7zM274.2 805.2h3.7v13.5h-3.7zM437 805.2h4v13.5h-4zM440.9 805.2h4v13.5h-4zM444.9 805.2h4v13.5h-4zM448.8 805.2h4v13.5h-4zM452.7 805.2h4v13.5h-4zM456.7 805.2h4v13.5h-4zM614.8 805.2h4v13.5h-4zM618.7 805.2h4v13.5h-4zM622.6 805.2h4v13.5h-4zM626.5 805.2h4v13.5h-4zM630.5 805.2h4v13.5h-4zM634.4 805.2h4v13.5h-4z"/><path fill="#f0f0f4" d="M7.9 837h3.9v9.5h-3.9zM7.9 846.4h3.9v9.5h-3.9zM15.7 846.4h3.9v9.5h-3.9zM45.5 865.3h4v9.5h-4zM27.3 874.8h3.9v9.5h-3.9zM7.9 884.2h3.9v9.5h-3.9zM7.9 893.7h3.9v9.5h-3.9zM19.5 893.7h3.9v9.5h-3.9zM45.5 893.7h4v9.5h-4zM19.5 931.5h3.9v9.5h-3.9zM49.5 931.5h4v9.5h-4zM67.9 931.5h4v9.5h-4zM27.3 950.4h3.9v9.5h-3.9zM19.5 969.3h3.9v9.5h-3.9zM49.5 969.3h4v9.5h-4zM37.6 988.2h4v9.5h-4zM67.9 988.2h4v9.5h-4zM86.3 988.2h4v9.5h-4zM193.8 845.9h3.7v9h-3.7zM238.7 854.8h3.6v9h-3.6zM245.8 854.8h3.6v9h-3.6zM235.1 863.8h3.6v9h-3.6zM235.1 872.7h3.6v9h-3.6zM204.7 890.5h3.7v9h-3.7zM201.1 899.5h3.7v9h-3.7zM256 899.5h3.7v9h-3.7zM204.7 917.3h3.7v9h-3.7zM193.8 926.2h3.7v9h-3.7zM190.2 961.9h3.7v9h-3.7zM190.2 970.8h3.7v9h-3.7zM204.7 970.8h3.7v9h-3.7zM392.1 853.1h4.1v8.1h-4.1zM373.9 861.1h4.1v8.1h-4.1zM396.1 861.1h4.1v8.1h-4.1zM426.5 869.1h4v8.1h-4zM430.5 869.1h4v8.1h-4zM414.6 877.1h4v8.1h-4zM426.5 877.1h4v8.1h-4zM400.1 893.2h4.1v8.1h-4.1zM373.9 901.2h4.1v8.1h-4.1zM381.9 901.2h4.1v8.1h-4.1zM361.7 917.3h4.1v8.1h-4.1zM373.9 917.3h4.1v8.1h-4.1zM408.2 917.3h4.1v8.1h-4.1zM361.7 925.3h4.1v8.1h-4.1zM381.9 949.4h4.1v8.1h-4.1zM369.8 957.5h4.1v8.1h-4.1zM373.9 965.5h4.1v8.1h-4.1zM361.7 973.5h4.1v8.1h-4.1zM369.8 973.5h4.1v8.1h-4.1zM377.9 973.5h4.1v8.1h-4.1zM414.6 973.5h4v8.1h-4zM418.6 973.5h4v8.1h-4zM365.8 981.5h4.1v8.1h-4.1zM392.1 981.5h4.1v8.1h-4.1zM448.8 981.5h4v8.1h-4zM365.8 989.6h4.1v8.1h-4.1zM369.8 989.6h4.1v8.1h-4.1zM377.9 989.6h4.1v8.1h-4.1zM381.9 989.6h4.1v8.1h-4.1zM555.2 858.4h4v10.8h-4zM559.1 879.8h4v10.8h-4zM555.2 890.5h4v10.8h-4zM539.4 901.2h4v10.8h-4zM539.4 911.9h4v10.8h-4zM555.2 933.4h4v10.8h-4zM555.2 944.1h4v10.8h-4zM539.4 986.9h4v10.8h-4zM543.4 986.9h4v10.8h-4z"/><path fill="#f5e6e6" d="M11.8 837h3.9v9.5h-3.9zM45.5 837h4v9.5h-4zM15.7 855.9h3.9v9.5h-3.9zM45.5 874.8h4v9.5h-4zM49.5 874.8h4v9.5h-4zM11.8 884.2h3.9v9.5h-3.9zM27.3 884.2h3.9v9.5h-3.9zM15.7 903.1h3.9v9.5h-3.9zM33.6 903.1h4v9.5h-4zM19.5 912.6h3.9v9.5h-3.9zM27.3 912.6h3.9v9.5h-3.9zM15.7 922h3.9v9.5h-3.9zM45.5 922h4v9.5h-4zM7.9 931.5h3.9v9.5h-3.9zM15.7 931.5h3.9v9.5h-3.9zM27.3 931.5h3.9v9.5h-3.9zM60 931.5h4v9.5h-4zM33.6 950.4h4v9.5h-4zM37.6 959.8h4v9.5h-4zM75.8 959.8h4v9.5h-4zM15.7 969.3h3.9v9.5h-3.9zM33.6 969.3h4v9.5h-4zM45.5 978.7h4v9.5h-4zM235.1 845.9h3.6v9h-3.6zM249.4 845.9h3.6v9h-3.6zM249.4 854.8h3.6v9h-3.6zM190.2 872.7h3.7v9h-3.7zM263.3 881.6h3.7v9h-3.7zM266.9 890.5h3.7v9h-3.7zM259.6 899.5h3.7v9h-3.7zM270.5 908.4h3.7v9h-3.7zM266.9 917.3h3.7v9h-3.7zM274.2 917.3h3.7v9h-3.7zM190.2 944.1h3.7v9h-3.7zM201.1 944.1h3.7v9h-3.7zM204.7 944.1h3.7v9h-3.7zM190.2 953h3.7v9h-3.7zM204.7 988.7h3.7v9h-3.7zM418.6 845h4v8.1h-4zM396.1 853.1h4.1v8.1h-4.1zM404.2 853.1h4.1v8.1h-4.1zM361.7 861.1h4.1v8.1h-4.1zM365.8 893.2h4.1v8.1h-4.1zM404.2 917.3h4.1v8.1h-4.1zM381.9 925.3h4.1v8.1h-4.1zM452.7 941.4h4v8.1h-4zM452.7 957.5h4v8.1h-4zM539.4 837h4v10.8h-4zM559.1 858.4h4v10.8h-4zM585.3 890.5h4v10.8h-4zM559.1 944.1h4v10.8h-4zM559.1 954.8h4v10.8h-4zM634.4 954.8h4v10.8h-4zM539.4 976.2h4v10.8h-4zM543.4 976.2h4v10.8h-4z"/><path fill="#f4dddd" d="M15.7 837h3.9v9.5h-3.9zM49.5 855.9h4v9.5h-4zM67.9 874.8h4v9.5h-4zM49.5 893.7h4v9.5h-4zM11.8 903.1h3.9v9.5h-3.9zM7.9 912.6h3.9v9.5h-3.9zM23.4 931.5h3.9v9.5h-3.9zM15.7 940.9h3.9v9.5h-3.9zM11.8 959.8h3.9v9.5h-3.9zM37.6 978.7h4v9.5h-4zM41.6 978.7h4v9.5h-4zM75.8 988.2h4v9.5h-4zM235.1 837h3.6v9h-3.6zM245.8 837h3.6v9h-3.6zM245.8 872.7h3.6v9h-3.6zM256 917.3h3.7v9h-3.7zM259.6 917.3h3.7v9h-3.7zM270.5 917.3h3.7v9h-3.7zM193.8 944.1h3.7v9h-3.7zM193.8 953h3.7v9h-3.7zM452.7 845h4v8.1h-4zM430.5 853.1h4v8.1h-4zM365.8 861.1h4.1v8.1h-4.1zM418.6 861.1h4v8.1h-4zM422.6 861.1h4v8.1h-4zM381.9 877.1h4.1v8.1h-4.1zM408.2 885.2h4.1v8.1h-4.1zM426.5 893.2h4v8.1h-4zM365.8 941.4h4.1v8.1h-4.1zM448.8 973.5h4v8.1h-4zM626.5 911.9h4v10.8h-4z"/><path fill="#dc9494" d="M19.5 837h3.9v9.5h-3.9zM37.6 846.4h4v9.5h-4zM19.5 865.3h3.9v9.5h-3.9zM75.8 884.2h4v9.5h-4zM71.8 922h4v9.5h-4zM98.2 969.3h4v9.5h-4zM238.7 961.9h3.6v9h-3.6zM245.8 961.9h3.6v9h-3.6zM210.9 979.8h3.7v9h-3.7zM218.1 988.7h3.7v9h-3.7zM426.5 925.3h4v8.1h-4zM444.9 965.5h4v8.1h-4zM581.4 837h4v10.8h-4zM634.4 837h4v10.8h-4zM618.7 847.7h4v10.8h-4zM581.4 858.4h4v10.8h-4zM581.4 890.5h4v10.8h-4zM565.7 901.2h4v10.8h-4zM604 901.2h4.1v10.8h-4.1zM600 922.7h4.1v10.8h-4.1zM618.7 933.4h4v10.8h-4zM626.5 933.4h4v10.8h-4zM634.4 933.4h4v10.8h-4zM600 944.1h4.1v10.8h-4.1zM581.4 965.5h4v10.8h-4zM604 965.5h4.1v10.8h-4.1zM622.6 976.2h4v10.8h-4zM600 986.9h4.1v10.8h-4.1z"/><path fill="#d88888" d="M23.4 837h3.9v9.5h-3.9zM60 846.4h4v9.5h-4zM60 855.9h4v9.5h-4zM75.8 874.8h4v9.5h-4zM245.8 953h3.6v9h-3.6zM249.4 953h3.6v9h-3.6zM210.9 970.8h3.7v9h-3.7zM259.6 970.8h3.7v9h-3.7zM238.7 979.8h3.6v9h-3.6zM210.9 988.7h3.7v9h-3.7zM452.7 885.2h4v8.1h-4zM430.5 901.2h4v8.1h-4zM448.8 909.3h4v8.1h-4zM430.5 949.4h4v8.1h-4zM440.9 965.5h4v8.1h-4zM565.7 837h4v10.8h-4zM585.3 837h4v10.8h-4zM608.1 837h4.1v10.8h-4.1zM600 869.1h4.1v10.8h-4.1zM614.8 879.8h4v10.8h-4zM622.6 901.2h4v10.8h-4zM600 911.9h4.1v10.8h-4.1zM614.8 911.9h4v10.8h-4zM634.4 922.7h4v10.8h-4zM634.4 944.1h4v10.8h-4zM600 954.8h4.1v10.8h-4.1zM630.5 965.5h4v10.8h-4zM600 976.2h4.1v10.8h-4.1zM614.8 976.2h4v10.8h-4zM634.4 976.2h4v10.8h-4zM577.5 986.9h4v10.8h-4zM622.6 986.9h4v10.8h-4z"/><path fill="#e1a0a0" d="M27.3 837h3.9v9.5h-3.9zM102.1 846.4h4v9.5h-4zM33.6 922h4v9.5h-4zM270.5 961.9h3.7v9h-3.7zM270.5 970.8h3.7v9h-3.7zM456.7 861.1h4v8.1h-4zM430.5 909.3h4v8.1h-4zM452.7 909.3h4v8.1h-4zM440.9 925.3h4v8.1h-4zM396.1 941.4h4.1v8.1h-4.1zM396.1 965.5h4.1v8.1h-4.1zM622.6 847.7h4v10.8h-4zM585.3 858.4h4v10.8h-4zM569.6 879.8h4v10.8h-4zM604 890.5h4.1v10.8h-4.1zM634.4 890.5h4v10.8h-4zM622.6 911.9h4v10.8h-4zM634.4 911.9h4v10.8h-4zM608.1 933.4h4.1v10.8h-4.1zM577.5 976.2h4v10.8h-4zM569.6 986.9h4v10.8h-4zM585.3 986.9h4v10.8h-4z"/><path fill="#f0cdcd" d="M33.6 837h4v9.5h-4zM67.9 837h4v9.5h-4zM33.6 846.4h4v9.5h-4zM23.4 855.9h3.9v9.5h-3.9zM41.6 855.9h4v9.5h-4zM67.9 855.9h4v9.5h-4zM49.5 884.2h4v9.5h-4zM63.9 969.3h4v9.5h-4zM242.3 854.8h3.6v9h-3.6zM225.4 953h3.7v9h-3.7zM242.3 979.8h3.6v9h-3.6zM221.8 988.7h3.7v9h-3.7zM225.4 988.7h3.7v9h-3.7zM274.2 988.7h3.7v9h-3.7zM418.6 837h4v8.1h-4zM456.7 837h4v8.1h-4zM414.6 853.1h4v8.1h-4zM414.6 861.1h4v8.1h-4zM396.1 869.1h4.1v8.1h-4.1zM408.2 869.1h4.1v8.1h-4.1zM418.6 869.1h4v8.1h-4zM408.2 877.1h4.1v8.1h-4.1zM392.1 885.2h4.1v8.1h-4.1zM448.8 885.2h4v8.1h-4zM408.2 901.2h4.1v8.1h-4.1zM448.8 925.3h4v8.1h-4zM408.2 949.4h4.1v8.1h-4.1zM437 949.4h4v8.1h-4zM408.2 957.5h4.1v8.1h-4.1zM440.9 957.5h4v8.1h-4zM448.8 957.5h4v8.1h-4zM456.7 957.5h4v8.1h-4zM626.5 858.4h4v10.8h-4zM630.5 911.9h4v10.8h-4zM630.5 933.4h4v10.8h-4zM581.4 944.1h4v10.8h-4zM626.5 944.1h4v10.8h-4z"/><path fill="#e6acac" d="M37.6 837h4v9.5h-4zM71.8 837h4v9.5h-4zM33.6 855.9h4v9.5h-4zM33.6 884.2h4v9.5h-4zM33.6 912.6h4v9.5h-4zM41.6 912.6h4v9.5h-4zM71.8 912.6h4v9.5h-4zM63.9 922h4v9.5h-4zM94.2 969.3h4v9.5h-4zM221.8 944.1h3.7v9h-3.7zM242.3 961.9h3.6v9h-3.6zM249.4 979.8h3.6v9h-3.6zM256 979.8h3.7v9h-3.7zM229 988.7h3.7v9h-3.7zM270.5 988.7h3.7v9h-3.7zM456.7 853.1h4v8.1h-4zM388 877.1h4.1v8.1h-4.1zM452.7 877.1h4v8.1h-4zM388 885.2h4.1v8.1h-4.1zM392.1 917.3h4.1v8.1h-4.1zM396.1 925.3h4.1v8.1h-4.1zM437 925.3h4v8.1h-4zM426.5 941.4h4v8.1h-4zM444.9 949.4h4v8.1h-4zM444.9 957.5h4v8.1h-4zM448.8 965.5h4v8.1h-4zM581.4 847.7h4v10.8h-4zM581.4 879.8h4v10.8h-4zM622.6 890.5h4v10.8h-4zM585.3 954.8h4v10.8h-4zM622.6 965.5h4v10.8h-4zM634.4 986.9h4v10.8h-4z"/><path fill="#e3a6a6" d="M41.6 837h4v9.5h-4zM60 837h4v9.5h-4zM75.8 846.4h4v9.5h-4zM75.8 855.9h4v9.5h-4zM67.9 884.2h4v9.5h-4zM37.6 893.7h4v9.5h-4zM90.2 893.7h4v9.5h-4zM67.9 922h4v9.5h-4zM102.1 922h4v9.5h-4zM210.9 944.1h3.7v9h-3.7zM197.4 953h3.7v9h-3.7zM229 953h3.7v9h-3.7zM214.5 961.9h3.7v9h-3.7zM274.2 979.8h3.7v9h-3.7zM448.8 853.1h4v8.1h-4zM452.7 893.2h4v8.1h-4zM456.7 893.2h4v8.1h-4zM452.7 901.2h4v8.1h-4zM392.1 925.3h4.1v8.1h-4.1zM430.5 941.4h4v8.1h-4zM388 965.5h4.1v8.1h-4.1zM604 837h4.1v10.8h-4.1zM622.6 837h4v10.8h-4zM581.4 922.7h4v10.8h-4zM585.3 933.4h4v10.8h-4zM577.5 954.8h4v10.8h-4zM585.3 965.5h4v10.8h-4zM569.6 976.2h4v10.8h-4zM626.5 976.2h4v10.8h-4z"/><path fill="#f3d8d8" d="M49.5 837h4v9.5h-4zM53.5 855.9h4v9.5h-4zM15.7 865.3h3.9v9.5h-3.9zM45.5 903.1h4v9.5h-4zM37.6 912.6h4v9.5h-4zM45.5 912.6h4v9.5h-4zM53.5 912.6h4v9.5h-4zM75.8 931.5h4v9.5h-4zM63.9 940.9h4v9.5h-4zM60 950.4h4v9.5h-4zM60 959.8h4v9.5h-4zM75.8 969.3h4v9.5h-4zM256 881.6h3.7v9h-3.7zM259.6 908.4h3.7v9h-3.7zM201.1 926.2h3.7v9h-3.7zM259.6 926.2h3.7v9h-3.7zM448.8 845h4v8.1h-4zM430.5 861.1h4v8.1h-4zM392.1 869.1h4.1v8.1h-4.1zM400.1 869.1h4.1v8.1h-4.1zM414.6 869.1h4v8.1h-4zM404.2 885.2h4.1v8.1h-4.1zM408.2 893.2h4.1v8.1h-4.1zM404.2 901.2h4.1v8.1h-4.1zM404.2 925.3h4.1v8.1h-4.1zM408.2 933.4h4.1v8.1h-4.1zM448.8 941.4h4v8.1h-4zM388 949.4h4.1v8.1h-4.1zM400.1 957.5h4.1v8.1h-4.1zM381.9 965.5h4.1v8.1h-4.1zM422.6 973.5h4v8.1h-4zM626.5 879.8h4v10.8h-4zM634.4 879.8h4v10.8h-4zM626.5 965.5h4v10.8h-4z"/><path fill="#ebbdbd" d="M53.5 837h4v9.5h-4zM98.2 855.9h4v9.5h-4zM27.3 865.3h3.9v9.5h-3.9zM41.6 874.8h4v9.5h-4zM53.5 884.2h4v9.5h-4zM71.8 893.7h4v9.5h-4zM75.8 893.7h4v9.5h-4zM102.1 940.9h4v9.5h-4zM94.2 950.4h4v9.5h-4zM37.6 969.3h4v9.5h-4zM242.3 944.1h3.6v9h-3.6zM270.5 953h3.7v9h-3.7zM218.1 979.8h3.7v9h-3.7zM235.1 979.8h3.6v9h-3.6zM266.9 979.8h3.7v9h-3.7zM238.7 988.7h3.6v9h-3.6zM448.8 869.1h4v8.1h-4zM392.1 877.1h4.1v8.1h-4.1zM392.1 893.2h4.1v8.1h-4.1zM426.5 901.2h4v8.1h-4zM396.1 917.3h4.1v8.1h-4.1zM452.7 917.3h4v8.1h-4zM430.5 933.4h4v8.1h-4zM437 933.4h4v8.1h-4zM408.2 965.5h4.1v8.1h-4.1zM426.5 965.5h4v8.1h-4zM622.6 869.1h4v10.8h-4zM634.4 869.1h4v10.8h-4zM630.5 879.8h4v10.8h-4zM604 911.9h4.1v10.8h-4.1zM618.7 944.1h4v10.8h-4zM630.5 986.9h4v10.8h-4z"/><path fill="#b04444" d="M63.9 837h4v9.5h-4zM82.3 846.4h4v9.5h-4zM86.3 874.8h4v9.5h-4zM82.3 950.4h4v9.5h-4zM235.1 944.1h3.6v9h-3.6zM263.3 961.9h3.7v9h-3.7zM418.6 917.3h4v8.1h-4zM414.6 957.5h4v8.1h-4zM595.9 837h4.1v10.8h-4.1zM604 847.7h4.1v10.8h-4.1zM595.9 901.2h4.1v10.8h-4.1zM618.7 911.9h4v10.8h-4zM608.1 954.8h4.1v10.8h-4.1zM618.7 986.9h4v10.8h-4z"/><path fill="#f1d2d2" d="M75.8 837h4v9.5h-4zM67.9 846.4h4v9.5h-4zM49.5 865.3h4v9.5h-4zM33.6 874.8h4v9.5h-4zM53.5 903.1h4v9.5h-4zM71.8 903.1h4v9.5h-4zM49.5 912.6h4v9.5h-4zM98.2 940.9h4v9.5h-4zM270.5 881.6h3.7v9h-3.7zM225.4 944.1h3.7v9h-3.7zM229 961.9h3.7v9h-3.7zM225.4 979.8h3.7v9h-3.7zM229 979.8h3.7v9h-3.7zM242.3 988.7h3.6v9h-3.6zM266.9 988.7h3.7v9h-3.7zM414.6 837h4v8.1h-4zM404.2 877.1h4.1v8.1h-4.1zM422.6 893.2h4v8.1h-4zM392.1 901.2h4.1v8.1h-4.1zM392.1 933.4h4.1v8.1h-4.1zM452.7 933.4h4v8.1h-4zM404.2 941.4h4.1v8.1h-4.1zM408.2 941.4h4.1v8.1h-4.1zM396.1 949.4h4.1v8.1h-4.1zM426.5 949.4h4v8.1h-4zM440.9 949.4h4v8.1h-4zM452.7 965.5h4v8.1h-4zM456.7 973.5h4v8.1h-4zM634.4 847.7h4v10.8h-4zM630.5 890.5h4v10.8h-4zM626.5 922.7h4v10.8h-4zM630.5 944.1h4v10.8h-4zM581.4 976.2h4v10.8h-4z"/><path fill="#ca6c6c" d="M82.3 837h4v9.5h-4zM60 865.3h4v9.5h-4zM102.1 874.8h4v9.5h-4zM94.2 912.6h4v9.5h-4zM102.1 950.4h4v9.5h-4zM218.1 944.1h3.7v9h-3.7zM249.4 988.7h3.6v9h-3.6zM437 845h4v8.1h-4zM430.5 957.5h4v8.1h-4zM614.8 837h4v10.8h-4zM600 901.2h4.1v10.8h-4.1zM569.6 922.7h4v10.8h-4zM577.5 922.7h4v10.8h-4zM608.1 922.7h4.1v10.8h-4.1zM614.8 922.7h4v10.8h-4zM569.6 933.4h4v10.8h-4zM604 933.4h4.1v10.8h-4.1zM608.1 944.1h4.1v10.8h-4.1z"/><path fill="#cd7373" d="M86.3 837h4v9.5h-4zM63.9 855.9h4v9.5h-4zM98.2 874.8h4v9.5h-4zM94.2 884.2h4v9.5h-4zM94.2 893.7h4v9.5h-4zM94.2 903.1h4v9.5h-4zM102.1 903.1h4v9.5h-4zM94.2 922h4v9.5h-4zM86.3 931.5h4v9.5h-4zM201.1 953h3.7v9h-3.7zM214.5 953h3.7v9h-3.7zM214.5 988.7h3.7v9h-3.7zM614.8 858.4h4v10.8h-4zM581.4 869.1h4v10.8h-4zM581.4 901.2h4v10.8h-4zM569.6 944.1h4v10.8h-4zM614.8 944.1h4v10.8h-4zM604 954.8h4.1v10.8h-4.1zM565.7 976.2h4v10.8h-4zM604 976.2h4.1v10.8h-4.1z"/><path fill="#df9a9a" d="M90.2 837h4v9.5h-4zM94.2 846.4h4v9.5h-4zM63.9 865.3h4v9.5h-4zM102.1 884.2h4v9.5h-4zM67.9 903.1h4v9.5h-4zM75.8 912.6h4v9.5h-4zM98.2 959.8h4v9.5h-4zM249.4 944.1h3.6v9h-3.6zM274.2 953h3.7v9h-3.7zM204.7 961.9h3.7v9h-3.7zM221.8 961.9h3.7v9h-3.7zM214.5 979.8h3.7v9h-3.7zM245.8 979.8h3.6v9h-3.6zM456.7 885.2h4v8.1h-4zM388 893.2h4.1v8.1h-4.1zM426.5 909.3h4v8.1h-4zM456.7 917.3h4v8.1h-4zM444.9 925.3h4v8.1h-4zM440.9 933.4h4v8.1h-4zM440.9 941.4h4v8.1h-4zM569.6 837h4v10.8h-4zM630.5 837h4v10.8h-4zM569.6 847.7h4v10.8h-4zM577.5 858.4h4v10.8h-4zM618.7 858.4h4v10.8h-4zM573.5 869.1h4v10.8h-4zM577.5 879.8h4v10.8h-4zM600 879.8h4.1v10.8h-4.1zM622.6 922.7h4v10.8h-4zM630.5 922.7h4v10.8h-4zM614.8 954.8h4v10.8h-4zM622.6 954.8h4v10.8h-4zM577.5 965.5h4v10.8h-4zM608.1 965.5h4.1v10.8h-4.1zM618.7 965.5h4v10.8h-4zM585.3 976.2h4v10.8h-4zM608.1 976.2h4.1v10.8h-4.1z"/><path fill="#d48181" d="M94.2 837h4v9.5h-4zM98.2 837h4v9.5h-4zM98.2 884.2h4v9.5h-4zM63.9 912.6h4v9.5h-4zM98.2 922h4v9.5h-4zM102.1 931.5h4v9.5h-4zM448.8 837h4v8.1h-4zM430.5 965.5h4v8.1h-4zM600 858.4h4.1v10.8h-4.1zM608.1 858.4h4.1v10.8h-4.1zM614.8 869.1h4v10.8h-4zM630.5 901.2h4v10.8h-4zM585.3 911.9h4v10.8h-4zM604 922.7h4.1v10.8h-4.1zM577.5 933.4h4v10.8h-4zM565.7 954.8h4v10.8h-4zM569.6 954.8h4v10.8h-4z"/><path fill="#e8b2b2" d="M102.1 837h4v9.5h-4zM19.5 846.4h3.9v9.5h-3.9zM27.3 846.4h3.9v9.5h-3.9zM41.6 846.4h4v9.5h-4zM37.6 865.3h4v9.5h-4zM75.8 865.3h4v9.5h-4zM102.1 865.3h4v9.5h-4zM37.6 874.8h4v9.5h-4zM37.6 922h4v9.5h-4zM98.2 950.4h4v9.5h-4zM270.5 944.1h3.7v9h-3.7zM210.9 961.9h3.7v9h-3.7zM249.4 961.9h3.6v9h-3.6zM221.8 970.8h3.7v9h-3.7zM245.8 970.8h3.6v9h-3.6zM266.9 970.8h3.7v9h-3.7zM274.2 970.8h3.7v9h-3.7zM452.7 869.1h4v8.1h-4zM418.6 893.2h4v8.1h-4zM448.8 893.2h4v8.1h-4zM388 901.2h4.1v8.1h-4.1zM396.1 901.2h4.1v8.1h-4.1zM456.7 901.2h4v8.1h-4zM388 909.3h4.1v8.1h-4.1zM392.1 949.4h4.1v8.1h-4.1zM396.1 957.5h4.1v8.1h-4.1zM630.5 847.7h4v10.8h-4zM630.5 858.4h4v10.8h-4zM630.5 869.1h4v10.8h-4zM608.1 890.5h4.1v10.8h-4.1zM604 944.1h4.1v10.8h-4.1zM581.4 954.8h4v10.8h-4z"/><path fill="#f7f4f4" d="M11.8 846.4h3.9v9.5h-3.9zM11.8 912.6h3.9v9.5h-3.9zM23.4 912.6h3.9v9.5h-3.9zM41.6 940.9h4v9.5h-4zM11.8 950.4h3.9v9.5h-3.9zM37.6 950.4h4v9.5h-4zM11.8 969.3h3.9v9.5h-3.9zM71.8 969.3h4v9.5h-4zM23.4 978.7h3.9v9.5h-3.9zM15.7 988.2h3.9v9.5h-3.9zM19.5 988.2h3.9v9.5h-3.9zM94.2 988.2h4v9.5h-4zM186.6 837h3.7v9h-3.7zM190.2 837h3.7v9h-3.7zM204.7 837h3.7v9h-3.7zM242.3 837h3.6v9h-3.6zM190.2 845.9h3.7v9h-3.7zM270.5 854.8h3.7v9h-3.7zM245.8 863.8h3.6v9h-3.6zM270.5 863.8h3.7v9h-3.7zM197.4 872.7h3.7v9h-3.7zM201.1 872.7h3.7v9h-3.7zM214.5 872.7h3.7v9h-3.7zM229 881.6h3.7v9h-3.7zM274.2 881.6h3.7v9h-3.7zM270.5 890.5h3.7v9h-3.7zM274.2 890.5h3.7v9h-3.7zM270.5 899.5h3.7v9h-3.7zM263.3 908.4h3.7v9h-3.7zM266.9 908.4h3.7v9h-3.7zM256 926.2h3.7v9h-3.7zM201.1 935.1h3.7v9h-3.7zM259.6 935.1h3.7v9h-3.7zM266.9 935.1h3.7v9h-3.7zM186.6 970.8h3.7v9h-3.7zM193.8 970.8h3.7v9h-3.7zM190.2 988.7h3.7v9h-3.7zM201.1 988.7h3.7v9h-3.7zM430.5 837h4v8.1h-4zM373.9 853.1h4.1v8.1h-4.1zM381.9 853.1h4.1v8.1h-4.1zM388 853.1h4.1v8.1h-4.1zM400.1 853.1h4.1v8.1h-4.1zM426.5 853.1h4v8.1h-4zM400.1 861.1h4.1v8.1h-4.1zM404.2 861.1h4.1v8.1h-4.1zM404.2 869.1h4.1v8.1h-4.1zM396.1 877.1h4.1v8.1h-4.1zM430.5 877.1h4v8.1h-4zM422.6 885.2h4v8.1h-4zM361.7 893.2h4.1v8.1h-4.1zM377.9 893.2h4.1v8.1h-4.1zM381.9 893.2h4.1v8.1h-4.1zM365.8 909.3h4.1v8.1h-4.1zM381.9 909.3h4.1v8.1h-4.1zM377.9 925.3h4.1v8.1h-4.1zM452.7 925.3h4v8.1h-4zM377.9 941.4h4.1v8.1h-4.1zM452.7 949.4h4v8.1h-4zM361.7 965.5h4.1v8.1h-4.1zM361.7 981.5h4.1v8.1h-4.1zM422.6 981.5h4v8.1h-4zM430.5 981.5h4v8.1h-4zM543.4 922.7h4v10.8h-4zM539.4 933.4h4v10.8h-4z"/><path fill="#da8e8e" d="M23.4 846.4h3.9v9.5h-3.9zM94.2 855.9h4v9.5h-4zM75.8 903.1h4v9.5h-4zM60 912.6h4v9.5h-4zM75.8 922h4v9.5h-4zM86.3 922h4v9.5h-4zM90.2 922h4v9.5h-4zM102.1 969.3h4v9.5h-4zM245.8 944.1h3.6v9h-3.6zM266.9 944.1h3.7v9h-3.7zM204.7 953h3.7v9h-3.7zM218.1 953h3.7v9h-3.7zM235.1 953h3.6v9h-3.6zM214.5 970.8h3.7v9h-3.7zM238.7 970.8h3.6v9h-3.6zM245.8 988.7h3.6v9h-3.6zM448.8 861.1h4v8.1h-4zM448.8 877.1h4v8.1h-4zM456.7 877.1h4v8.1h-4zM448.8 917.3h4v8.1h-4zM437 965.5h4v8.1h-4zM577.5 837h4v10.8h-4zM618.7 837h4v10.8h-4zM608.1 847.7h4.1v10.8h-4.1zM622.6 858.4h4v10.8h-4zM585.3 879.8h4v10.8h-4zM618.7 890.5h4v10.8h-4zM577.5 901.2h4v10.8h-4zM577.5 911.9h4v10.8h-4zM581.4 911.9h4v10.8h-4zM577.5 944.1h4v10.8h-4z"/><path fill="#f6efef" d="M45.5 846.4h4v9.5h-4zM53.5 865.3h4v9.5h-4zM15.7 893.7h3.9v9.5h-3.9zM53.5 893.7h4v9.5h-4zM27.3 922h3.9v9.5h-3.9zM45.5 931.5h4v9.5h-4zM53.5 931.5h4v9.5h-4zM15.7 950.4h3.9v9.5h-3.9zM41.6 950.4h4v9.5h-4zM71.8 950.4h4v9.5h-4zM33.6 978.7h4v9.5h-4zM11.8 988.2h3.9v9.5h-3.9zM33.6 988.2h4v9.5h-4zM90.2 988.2h4v9.5h-4zM102.1 988.2h4v9.5h-4zM201.1 837h3.7v9h-3.7zM238.7 837h3.6v9h-3.6zM249.4 837h3.6v9h-3.6zM197.4 845.9h3.7v9h-3.7zM204.7 845.9h3.7v9h-3.7zM238.7 845.9h3.6v9h-3.6zM245.8 845.9h3.6v9h-3.6zM201.1 863.8h3.7v9h-3.7zM204.7 872.7h3.7v9h-3.7zM204.7 881.6h3.7v9h-3.7zM190.2 917.3h3.7v9h-3.7zM214.5 926.2h3.7v9h-3.7zM270.5 926.2h3.7v9h-3.7zM186.6 953h3.7v9h-3.7zM201.1 970.8h3.7v9h-3.7zM190.2 979.8h3.7v9h-3.7zM361.7 837h4.1v8.1h-4.1zM381.9 837h4.1v8.1h-4.1zM388 837h4.1v8.1h-4.1zM365.8 845h4.1v8.1h-4.1zM396.1 845h4.1v8.1h-4.1zM430.5 845h4v8.1h-4zM365.8 869.1h4.1v8.1h-4.1zM373.9 869.1h4.1v8.1h-4.1zM365.8 877.1h4.1v8.1h-4.1zM414.6 885.2h4v8.1h-4zM430.5 885.2h4v8.1h-4zM377.9 901.2h4.1v8.1h-4.1zM381.9 917.3h4.1v8.1h-4.1zM388 917.3h4.1v8.1h-4.1zM404.2 933.4h4.1v8.1h-4.1zM400.1 941.4h4.1v8.1h-4.1zM404.2 949.4h4.1v8.1h-4.1zM361.7 957.5h4.1v8.1h-4.1zM365.8 957.5h4.1v8.1h-4.1zM381.9 957.5h4.1v8.1h-4.1zM365.8 973.5h4.1v8.1h-4.1zM400.1 973.5h4.1v8.1h-4.1zM377.9 981.5h4.1v8.1h-4.1zM381.9 981.5h4.1v8.1h-4.1zM559.1 869.1h4v10.8h-4zM543.4 901.2h4v10.8h-4zM555.2 965.5h4v10.8h-4zM559.1 965.5h4v10.8h-4zM559.1 976.2h4v10.8h-4z"/><path fill="#f5e2e2" d="M49.5 846.4h4v9.5h-4zM23.4 884.2h3.9v9.5h-3.9zM49.5 903.1h4v9.5h-4zM11.8 922h3.9v9.5h-3.9zM37.6 931.5h4v9.5h-4zM37.6 940.9h4v9.5h-4zM75.8 940.9h4v9.5h-4zM63.9 959.8h4v9.5h-4zM41.6 969.3h4v9.5h-4zM19.5 978.7h3.9v9.5h-3.9zM49.5 978.7h4v9.5h-4zM53.5 978.7h4v9.5h-4zM193.8 837h3.7v9h-3.7zM204.7 854.8h3.7v9h-3.7zM249.4 863.8h3.6v9h-3.6zM249.4 872.7h3.6v9h-3.6zM259.6 881.6h3.7v9h-3.7zM190.2 899.5h3.7v9h-3.7zM263.3 899.5h3.7v9h-3.7zM201.1 917.3h3.7v9h-3.7zM263.3 917.3h3.7v9h-3.7zM193.8 988.7h3.7v9h-3.7zM422.6 837h4v8.1h-4zM426.5 837h4v8.1h-4zM365.8 853.1h4.1v8.1h-4.1zM422.6 877.1h4v8.1h-4zM418.6 885.2h4v8.1h-4zM426.5 885.2h4v8.1h-4zM404.2 893.2h4.1v8.1h-4.1zM400.1 901.2h4.1v8.1h-4.1zM377.9 917.3h4.1v8.1h-4.1zM400.1 917.3h4.1v8.1h-4.1zM400.1 925.3h4.1v8.1h-4.1zM456.7 925.3h4v8.1h-4zM396.1 933.4h4.1v8.1h-4.1zM400.1 933.4h4.1v8.1h-4.1zM456.7 941.4h4v8.1h-4zM437 957.5h4v8.1h-4zM456.7 989.6h4v8.1h-4zM539.4 869.1h4v10.8h-4zM559.1 933.4h4v10.8h-4zM581.4 933.4h4v10.8h-4zM630.5 954.8h4v10.8h-4z"/><path fill="#eec8c8" d="M53.5 846.4h4v9.5h-4zM37.6 855.9h4v9.5h-4zM67.9 865.3h4v9.5h-4zM71.8 874.8h4v9.5h-4zM15.7 884.2h3.9v9.5h-3.9zM41.6 884.2h4v9.5h-4zM33.6 893.7h4v9.5h-4zM102.1 893.7h4v9.5h-4zM60 969.3h4v9.5h-4zM242.3 953h3.6v9h-3.6zM266.9 961.9h3.7v9h-3.7zM274.2 961.9h3.7v9h-3.7zM225.4 970.8h3.7v9h-3.7zM221.8 979.8h3.7v9h-3.7zM426.5 861.1h4v8.1h-4zM418.6 877.1h4v8.1h-4zM396.1 885.2h4.1v8.1h-4.1zM414.6 893.2h4v8.1h-4zM430.5 893.2h4v8.1h-4zM396.1 909.3h4.1v8.1h-4.1zM404.2 909.3h4.1v8.1h-4.1zM456.7 909.3h4v8.1h-4zM426.5 933.4h4v8.1h-4zM444.9 933.4h4v8.1h-4zM456.7 933.4h4v8.1h-4zM388 941.4h4.1v8.1h-4.1zM392.1 941.4h4.1v8.1h-4.1zM444.9 941.4h4v8.1h-4zM400.1 949.4h4.1v8.1h-4.1zM448.8 949.4h4v8.1h-4zM365.8 965.5h4.1v8.1h-4.1zM404.2 965.5h4.1v8.1h-4.1zM634.4 858.4h4v10.8h-4zM626.5 890.5h4v10.8h-4zM626.5 901.2h4v10.8h-4zM634.4 901.2h4v10.8h-4z"/><path fill="#c66565" d="M63.9 846.4h4v9.5h-4zM94.2 865.3h4v9.5h-4zM86.3 893.7h4v9.5h-4zM60 903.1h4v9.5h-4zM98.2 912.6h4v9.5h-4zM60 922h4v9.5h-4zM98.2 931.5h4v9.5h-4zM94.2 940.9h4v9.5h-4zM86.3 969.3h4v9.5h-4zM214.5 944.1h3.7v9h-3.7zM238.7 944.1h3.6v9h-3.6zM235.1 961.9h3.6v9h-3.6zM256 970.8h3.7v9h-3.7zM444.9 845h4v8.1h-4zM573.5 837h4v10.8h-4zM600 837h4.1v10.8h-4.1zM565.7 847.7h4v10.8h-4zM577.5 847.7h4v10.8h-4zM600 847.7h4.1v10.8h-4.1zM577.5 869.1h4v10.8h-4zM604 879.8h4.1v10.8h-4.1zM622.6 879.8h4v10.8h-4zM569.6 890.5h4v10.8h-4zM608.1 901.2h4.1v10.8h-4.1zM573.5 911.9h4v10.8h-4zM608.1 911.9h4.1v10.8h-4.1zM595.9 986.9h4.1v10.8h-4.1z"/><path fill="#edc3c3" d="M71.8 846.4h4v9.5h-4zM27.3 855.9h3.9v9.5h-3.9zM71.8 855.9h4v9.5h-4zM33.6 865.3h4v9.5h-4zM41.6 865.3h4v9.5h-4zM71.8 865.3h4v9.5h-4zM53.5 874.8h4v9.5h-4zM37.6 884.2h4v9.5h-4zM45.5 884.2h4v9.5h-4zM41.6 893.7h4v9.5h-4zM41.6 903.1h4v9.5h-4zM41.6 922h4v9.5h-4zM49.5 922h4v9.5h-4zM53.5 922h4v9.5h-4zM274.2 944.1h3.7v9h-3.7zM221.8 953h3.7v9h-3.7zM225.4 961.9h3.7v9h-3.7zM242.3 970.8h3.6v9h-3.6zM270.5 979.8h3.7v9h-3.7zM452.7 837h4v8.1h-4zM452.7 853.1h4v8.1h-4zM456.7 869.1h4v8.1h-4zM400.1 877.1h4.1v8.1h-4.1zM396.1 893.2h4.1v8.1h-4.1zM392.1 909.3h4.1v8.1h-4.1zM426.5 917.3h4v8.1h-4zM408.2 925.3h4.1v8.1h-4.1zM448.8 933.4h4v8.1h-4zM456.7 949.4h4v8.1h-4zM392.1 965.5h4.1v8.1h-4.1zM400.1 965.5h4.1v8.1h-4.1zM456.7 965.5h4v8.1h-4zM626.5 847.7h4v10.8h-4zM626.5 869.1h4v10.8h-4zM622.6 933.4h4v10.8h-4zM618.7 954.8h4v10.8h-4zM618.7 976.2h4v10.8h-4zM630.5 976.2h4v10.8h-4zM626.5 986.9h4v10.8h-4z"/><path fill="#c25e5e" d="M86.3 846.4h4v9.5h-4zM98.2 846.4h4v9.5h-4zM102.1 855.9h4v9.5h-4zM90.2 912.6h4v9.5h-4zM235.1 970.8h3.6v9h-3.6zM263.3 970.8h3.7v9h-3.7zM573.5 858.4h4v10.8h-4zM573.5 890.5h4v10.8h-4zM618.7 901.2h4v10.8h-4zM618.7 922.7h4v10.8h-4z"/><path fill="#8a1f1f" d="M90.2 846.4h4v9.5h-4zM444.9 885.2h4v8.1h-4zM414.6 917.3h4v8.1h-4zM591.8 847.7h4.1v10.8h-4.1zM559.1 911.9h4v10.8h-4zM573.5 965.5h4v10.8h-4z"/><path fill="#e2e8f3" d="M7.9 855.9h3.9v9.5h-3.9zM11.8 874.8h3.9v9.5h-3.9zM23.4 874.8h3.9v9.5h-3.9zM23.4 903.1h3.9v9.5h-3.9zM7.9 922h3.9v9.5h-3.9zM33.6 931.5h4v9.5h-4zM41.6 931.5h4v9.5h-4zM11.8 940.9h3.9v9.5h-3.9zM53.5 950.4h4v9.5h-4zM53.5 969.3h4v9.5h-4zM98.2 988.2h4v9.5h-4zM193.8 854.8h3.7v9h-3.7zM235.1 854.8h3.6v9h-3.6zM214.5 881.6h3.7v9h-3.7zM259.6 890.5h3.7v9h-3.7zM225.4 926.2h3.7v9h-3.7zM263.3 926.2h3.7v9h-3.7zM204.7 979.8h3.7v9h-3.7zM186.6 988.7h3.7v9h-3.7zM400.1 837h4.1v8.1h-4.1zM361.7 845h4.1v8.1h-4.1zM377.9 845h4.1v8.1h-4.1zM392.1 845h4.1v8.1h-4.1zM408.2 853.1h4.1v8.1h-4.1zM361.7 869.1h4.1v8.1h-4.1zM377.9 869.1h4.1v8.1h-4.1zM377.9 877.1h4.1v8.1h-4.1zM369.8 885.2h4.1v8.1h-4.1zM373.9 885.2h4.1v8.1h-4.1zM361.7 901.2h4.1v8.1h-4.1zM365.8 901.2h4.1v8.1h-4.1zM369.8 909.3h4.1v8.1h-4.1zM377.9 909.3h4.1v8.1h-4.1zM365.8 917.3h4.1v8.1h-4.1zM365.8 925.3h4.1v8.1h-4.1zM369.8 925.3h4.1v8.1h-4.1zM377.9 949.4h4.1v8.1h-4.1zM373.9 973.5h4.1v8.1h-4.1zM392.1 973.5h4.1v8.1h-4.1zM426.5 973.5h4v8.1h-4zM400.1 981.5h4.1v8.1h-4.1zM426.5 981.5h4v8.1h-4zM452.7 989.6h4v8.1h-4zM547.3 837h4v10.8h-4zM543.4 847.7h4v10.8h-4zM551.2 869.1h4v10.8h-4zM543.4 890.5h4v10.8h-4zM543.4 944.1h4v10.8h-4zM539.4 954.8h4v10.8h-4zM551.2 976.2h4v10.8h-4z"/><path fill="#c1d1ea" d="M11.8 855.9h3.9v9.5h-3.9zM27.3 893.7h3.9v9.5h-3.9zM23.4 940.9h3.9v9.5h-3.9zM49.5 940.9h4v9.5h-4zM53.5 940.9h4v9.5h-4zM7.9 959.8h3.9v9.5h-3.9zM49.5 959.8h4v9.5h-4zM210.9 837h3.7v9h-3.7zM229 837h3.7v9h-3.7zM274.2 845.9h3.7v9h-3.7zM229 854.8h3.7v9h-3.7zM193.8 863.8h3.7v9h-3.7zM221.8 863.8h3.7v9h-3.7zM229 872.7h3.7v9h-3.7zM256 872.7h3.7v9h-3.7zM270.5 872.7h3.7v9h-3.7zM190.2 890.5h3.7v9h-3.7zM193.8 890.5h3.7v9h-3.7zM242.3 890.5h3.6v9h-3.6zM210.9 899.5h3.7v9h-3.7zM229 899.5h3.7v9h-3.7zM274.2 899.5h3.7v9h-3.7zM186.6 908.4h3.7v9h-3.7zM249.4 926.2h3.6v9h-3.6zM186.6 935.1h3.7v9h-3.7zM225.4 935.1h3.7v9h-3.7zM404.2 837h4.1v8.1h-4.1zM373.9 925.3h4.1v8.1h-4.1zM369.8 933.4h4.1v8.1h-4.1zM381.9 933.4h4.1v8.1h-4.1zM369.8 949.4h4.1v8.1h-4.1zM369.8 965.5h4.1v8.1h-4.1zM408.2 973.5h4.1v8.1h-4.1zM422.6 989.6h4v8.1h-4zM543.4 869.1h4v10.8h-4zM547.3 901.2h4v10.8h-4zM551.2 911.9h4v10.8h-4zM551.2 933.4h4v10.8h-4zM539.4 944.1h4v10.8h-4zM555.2 954.8h4v10.8h-4zM551.2 965.5h4v10.8h-4zM547.3 976.2h4v10.8h-4zM547.3 986.9h4v10.8h-4z"/><path fill="#bb5050" d="M19.5 855.9h3.9v9.5h-3.9zM60 874.8h4v9.5h-4zM63.9 884.2h4v9.5h-4zM102.1 912.6h4v9.5h-4zM256 953h3.7v9h-3.7zM218.1 970.8h3.7v9h-3.7zM440.9 901.2h4v8.1h-4zM573.5 847.7h4v10.8h-4zM618.7 869.1h4v10.8h-4zM585.3 901.2h4v10.8h-4zM569.6 911.9h4v10.8h-4zM565.7 986.9h4v10.8h-4z"/><path fill="#e9ecf3" d="M45.5 855.9h4v9.5h-4zM67.9 940.9h4v9.5h-4zM71.8 940.9h4v9.5h-4zM41.6 959.8h4v9.5h-4zM7.9 969.3h3.9v9.5h-3.9zM67.9 978.7h4v9.5h-4zM45.5 988.2h4v9.5h-4zM49.5 988.2h4v9.5h-4zM201.1 845.9h3.7v9h-3.7zM201.1 854.8h3.7v9h-3.7zM193.8 872.7h3.7v9h-3.7zM201.1 881.6h3.7v9h-3.7zM266.9 881.6h3.7v9h-3.7zM204.7 899.5h3.7v9h-3.7zM221.8 899.5h3.7v9h-3.7zM266.9 899.5h3.7v9h-3.7zM274.2 908.4h3.7v9h-3.7zM197.4 917.3h3.7v9h-3.7zM256 935.1h3.7v9h-3.7zM274.2 935.1h3.7v9h-3.7zM186.6 944.1h3.7v9h-3.7zM197.4 970.8h3.7v9h-3.7zM193.8 979.8h3.7v9h-3.7zM388 845h4.1v8.1h-4.1zM361.7 853.1h4.1v8.1h-4.1zM369.8 861.1h4.1v8.1h-4.1zM408.2 861.1h4.1v8.1h-4.1zM381.9 869.1h4.1v8.1h-4.1zM369.8 877.1h4.1v8.1h-4.1zM373.9 893.2h4.1v8.1h-4.1zM369.8 901.2h4.1v8.1h-4.1zM373.9 933.4h4.1v8.1h-4.1zM377.9 933.4h4.1v8.1h-4.1zM365.8 949.4h4.1v8.1h-4.1zM377.9 965.5h4.1v8.1h-4.1zM404.2 973.5h4.1v8.1h-4.1zM430.5 973.5h4v8.1h-4zM452.7 973.5h4v8.1h-4zM408.2 981.5h4.1v8.1h-4.1zM452.7 981.5h4v8.1h-4zM418.6 989.6h4v8.1h-4zM430.5 989.6h4v8.1h-4zM448.8 989.6h4v8.1h-4zM559.1 837h4v10.8h-4zM539.4 847.7h4v10.8h-4zM555.2 847.7h4v10.8h-4zM539.4 922.7h4v10.8h-4zM539.4 965.5h4v10.8h-4zM555.2 976.2h4v10.8h-4zM559.1 986.9h4v10.8h-4z"/><path fill="#942828" d="M82.3 855.9h4v9.5h-4zM259.6 953h3.7v9h-3.7zM263.3 953h3.7v9h-3.7zM437 861.1h4v8.1h-4zM585.3 869.1h4v10.8h-4z"/><path fill="#640808" d="M86.3 855.9h4v9.5h-4zM90.2 855.9h4v9.5h-4zM259.6 944.1h3.7v9h-3.7zM440.9 853.1h4v8.1h-4zM440.9 861.1h4v8.1h-4zM437 869.1h4v8.1h-4zM440.9 869.1h4v8.1h-4zM444.9 869.1h4v8.1h-4zM440.9 877.1h4v8.1h-4zM444.9 877.1h4v8.1h-4zM437 885.2h4v8.1h-4zM440.9 893.2h4v8.1h-4zM444.9 893.2h4v8.1h-4zM414.6 901.2h4v8.1h-4zM422.6 901.2h4v8.1h-4zM437 901.2h4v8.1h-4zM444.9 901.2h4v8.1h-4zM414.6 909.3h4v8.1h-4zM418.6 909.3h4v8.1h-4zM440.9 909.3h4v8.1h-4zM440.9 917.3h4v8.1h-4zM444.9 917.3h4v8.1h-4zM414.6 925.3h4v8.1h-4zM418.6 925.3h4v8.1h-4zM418.6 933.4h4v8.1h-4zM414.6 941.4h4v8.1h-4zM418.6 949.4h4v8.1h-4zM422.6 949.4h4v8.1h-4zM418.6 957.5h4v8.1h-4zM422.6 965.5h4v8.1h-4zM595.9 847.7h4.1v10.8h-4.1zM591.8 858.4h4.1v10.8h-4.1zM595.9 858.4h4.1v10.8h-4.1zM591.8 869.1h4.1v10.8h-4.1zM595.9 879.8h4.1v10.8h-4.1zM555.2 901.2h4v10.8h-4zM559.1 901.2h4v10.8h-4zM555.2 922.7h4v10.8h-4zM595.9 922.7h4.1v10.8h-4.1zM591.8 944.1h4.1v10.8h-4.1zM595.9 944.1h4.1v10.8h-4.1zM591.8 965.5h4.1v10.8h-4.1zM591.8 976.2h4.1v10.8h-4.1zM591.8 986.9h4.1v10.8h-4.1z"/><path fill="#dae2f1" d="M7.9 865.3h3.9v9.5h-3.9zM7.9 874.8h3.9v9.5h-3.9zM15.7 874.8h3.9v9.5h-3.9zM11.8 893.7h3.9v9.5h-3.9zM19.5 903.1h3.9v9.5h-3.9zM7.9 950.4h3.9v9.5h-3.9zM19.5 950.4h3.9v9.5h-3.9zM49.5 950.4h4v9.5h-4zM67.9 950.4h4v9.5h-4zM11.8 978.7h3.9v9.5h-3.9zM27.3 978.7h3.9v9.5h-3.9zM197.4 837h3.7v9h-3.7zM270.5 837h3.7v9h-3.7zM190.2 854.8h3.7v9h-3.7zM186.6 863.8h3.7v9h-3.7zM197.4 863.8h3.7v9h-3.7zM214.5 863.8h3.7v9h-3.7zM186.6 872.7h3.7v9h-3.7zM186.6 881.6h3.7v9h-3.7zM197.4 881.6h3.7v9h-3.7zM242.3 881.6h3.6v9h-3.6zM201.1 890.5h3.7v9h-3.7zM263.3 890.5h3.7v9h-3.7zM193.8 899.5h3.7v9h-3.7zM193.8 908.4h3.7v9h-3.7zM201.1 908.4h3.7v9h-3.7zM186.6 917.3h3.7v9h-3.7zM229 917.3h3.7v9h-3.7zM186.6 926.2h3.7v9h-3.7zM197.4 926.2h3.7v9h-3.7zM229 926.2h3.7v9h-3.7zM266.9 926.2h3.7v9h-3.7zM190.2 935.1h3.7v9h-3.7zM263.3 935.1h3.7v9h-3.7zM270.5 935.1h3.7v9h-3.7zM197.4 979.8h3.7v9h-3.7zM365.8 837h4.1v8.1h-4.1zM377.9 837h4.1v8.1h-4.1zM408.2 837h4.1v8.1h-4.1zM400.1 845h4.1v8.1h-4.1zM404.2 845h4.1v8.1h-4.1zM426.5 845h4v8.1h-4zM369.8 893.2h4.1v8.1h-4.1zM381.9 941.4h4.1v8.1h-4.1zM456.7 981.5h4v8.1h-4zM551.2 837h4v10.8h-4zM543.4 879.8h4v10.8h-4zM543.4 933.4h4v10.8h-4z"/><path fill="#cad6ed" d="M11.8 865.3h3.9v9.5h-3.9zM19.5 874.8h3.9v9.5h-3.9zM11.8 931.5h3.9v9.5h-3.9zM7.9 940.9h3.9v9.5h-3.9zM27.3 959.8h3.9v9.5h-3.9zM33.6 959.8h4v9.5h-4zM45.5 959.8h4v9.5h-4zM71.8 978.7h4v9.5h-4zM221.8 837h3.7v9h-3.7zM214.5 845.9h3.7v9h-3.7zM229 845.9h3.7v9h-3.7zM266.9 845.9h3.7v9h-3.7zM214.5 854.8h3.7v9h-3.7zM204.7 863.8h3.7v9h-3.7zM274.2 872.7h3.7v9h-3.7zM190.2 881.6h3.7v9h-3.7zM218.1 881.6h3.7v9h-3.7zM221.8 881.6h3.7v9h-3.7zM245.8 881.6h3.6v9h-3.6zM197.4 899.5h3.7v9h-3.7zM221.8 908.4h3.7v9h-3.7zM229 908.4h3.7v9h-3.7zM193.8 917.3h3.7v9h-3.7zM210.9 917.3h3.7v9h-3.7zM229 935.1h3.7v9h-3.7zM373.9 837h4.1v8.1h-4.1zM369.8 845h4.1v8.1h-4.1zM369.8 853.1h4.1v8.1h-4.1zM373.9 877.1h4.1v8.1h-4.1zM381.9 885.2h4.1v8.1h-4.1zM361.7 909.3h4.1v8.1h-4.1zM361.7 989.6h4.1v8.1h-4.1zM400.1 989.6h4.1v8.1h-4.1zM426.5 989.6h4v8.1h-4zM555.2 837h4v10.8h-4zM543.4 858.4h4v10.8h-4zM551.2 879.8h4v10.8h-4zM555.2 879.8h4v10.8h-4zM547.3 890.5h4v10.8h-4zM551.2 890.5h4v10.8h-4zM547.3 933.4h4v10.8h-4zM551.2 944.1h4v10.8h-4zM543.4 954.8h4v10.8h-4zM551.2 986.9h4v10.8h-4z"/><path fill="#d17a7a" d="M23.4 865.3h3.9v9.5h-3.9zM94.2 874.8h4v9.5h-4zM60 884.2h4v9.5h-4zM63.9 903.1h4v9.5h-4zM98.2 903.1h4v9.5h-4zM229 944.1h3.7v9h-3.7zM197.4 961.9h3.7v9h-3.7zM201.1 961.9h3.7v9h-3.7zM218.1 961.9h3.7v9h-3.7zM249.4 970.8h3.6v9h-3.6zM263.3 979.8h3.7v9h-3.7zM430.5 925.3h4v8.1h-4zM565.7 858.4h4v10.8h-4zM569.6 869.1h4v10.8h-4zM608.1 879.8h4.1v10.8h-4.1zM577.5 890.5h4v10.8h-4zM565.7 933.4h4v10.8h-4zM600 965.5h4.1v10.8h-4.1zM604 986.9h4.1v10.8h-4.1zM614.8 986.9h4v10.8h-4z"/><path fill="#a03333" d="M82.3 865.3h4v9.5h-4zM90.2 865.3h4v9.5h-4zM418.6 941.4h4v8.1h-4zM565.7 922.7h4v10.8h-4zM595.9 965.5h4.1v10.8h-4.1z"/><path fill="#aa3f3f" d="M86.3 865.3h4v9.5h-4zM63.9 893.7h4v9.5h-4zM90.2 959.8h4v9.5h-4zM94.2 959.8h4v9.5h-4zM614.8 901.2h4v10.8h-4zM573.5 922.7h4v10.8h-4zM573.5 933.4h4v10.8h-4zM595.9 933.4h4.1v10.8h-4.1z"/><path fill="#eab8b8" d="M98.2 865.3h4v9.5h-4zM63.9 874.8h4v9.5h-4zM71.8 884.2h4v9.5h-4zM98.2 893.7h4v9.5h-4zM37.6 903.1h4v9.5h-4zM67.9 912.6h4v9.5h-4zM229 970.8h3.7v9h-3.7zM456.7 845h4v8.1h-4zM418.6 853.1h4v8.1h-4zM452.7 861.1h4v8.1h-4zM388 869.1h4.1v8.1h-4.1zM448.8 901.2h4v8.1h-4zM400.1 909.3h4.1v8.1h-4.1zM408.2 909.3h4.1v8.1h-4.1zM430.5 917.3h4v8.1h-4zM388 925.3h4.1v8.1h-4.1zM388 933.4h4.1v8.1h-4.1zM437 941.4h4v8.1h-4zM388 957.5h4.1v8.1h-4.1zM392.1 957.5h4.1v8.1h-4.1zM426.5 957.5h4v8.1h-4zM626.5 837h4v10.8h-4zM585.3 847.7h4v10.8h-4zM618.7 879.8h4v10.8h-4zM600 933.4h4.1v10.8h-4.1zM585.3 944.1h4v10.8h-4zM634.4 965.5h4v10.8h-4zM581.4 986.9h4v10.8h-4z"/><path fill="#7a1515" d="M82.3 874.8h4v9.5h-4zM437 853.1h4v8.1h-4zM444.9 861.1h4v8.1h-4zM437 909.3h4v8.1h-4zM595.9 890.5h4.1v10.8h-4.1zM595.9 911.9h4.1v10.8h-4.1zM565.7 965.5h4v10.8h-4zM595.9 976.2h4.1v10.8h-4.1zM573.5 986.9h4v10.8h-4z"/><path fill="#bf5757" d="M90.2 874.8h4v9.5h-4zM60 893.7h4v9.5h-4zM82.3 893.7h4v9.5h-4zM60 988.2h4v9.5h-4zM210.9 953h3.7v9h-3.7zM259.6 961.9h3.7v9h-3.7zM259.6 979.8h3.7v9h-3.7zM235.1 988.7h3.6v9h-3.6zM263.3 988.7h3.7v9h-3.7zM422.6 909.3h4v8.1h-4zM604 858.4h4.1v10.8h-4.1zM573.5 879.8h4v10.8h-4zM585.3 922.7h4v10.8h-4zM614.8 933.4h4v10.8h-4zM622.6 944.1h4v10.8h-4zM614.8 965.5h4v10.8h-4z"/><path fill="#f6ebeb" d="M19.5 884.2h3.9v9.5h-3.9zM67.9 893.7h4v9.5h-4zM7.9 903.1h3.9v9.5h-3.9zM15.7 912.6h3.9v9.5h-3.9zM63.9 931.5h4v9.5h-4zM60 940.9h4v9.5h-4zM63.9 950.4h4v9.5h-4zM75.8 950.4h4v9.5h-4zM15.7 959.8h3.9v9.5h-3.9zM67.9 959.8h4v9.5h-4zM71.8 959.8h4v9.5h-4zM67.9 969.3h4v9.5h-4zM15.7 978.7h3.9v9.5h-3.9zM75.8 978.7h4v9.5h-4zM27.3 988.2h3.9v9.5h-3.9zM53.5 988.2h4v9.5h-4zM63.9 988.2h4v9.5h-4zM242.3 845.9h3.6v9h-3.6zM242.3 863.8h3.6v9h-3.6zM238.7 872.7h3.6v9h-3.6zM242.3 872.7h3.6v9h-3.6zM256 890.5h3.7v9h-3.7zM214.5 908.4h3.7v9h-3.7zM256 908.4h3.7v9h-3.7zM274.2 926.2h3.7v9h-3.7zM197.4 944.1h3.7v9h-3.7zM266.9 953h3.7v9h-3.7zM193.8 961.9h3.7v9h-3.7zM201.1 979.8h3.7v9h-3.7zM197.4 988.7h3.7v9h-3.7zM396.1 837h4.1v8.1h-4.1zM414.6 845h4v8.1h-4zM422.6 845h4v8.1h-4zM422.6 853.1h4v8.1h-4zM377.9 861.1h4.1v8.1h-4.1zM381.9 861.1h4.1v8.1h-4.1zM388 861.1h4.1v8.1h-4.1zM392.1 861.1h4.1v8.1h-4.1zM422.6 869.1h4v8.1h-4zM400.1 885.2h4.1v8.1h-4.1zM361.7 941.4h4.1v8.1h-4.1zM377.9 957.5h4.1v8.1h-4.1zM404.2 957.5h4.1v8.1h-4.1zM381.9 973.5h4.1v8.1h-4.1zM543.4 837h4v10.8h-4zM559.1 847.7h4v10.8h-4zM539.4 858.4h4v10.8h-4zM555.2 869.1h4v10.8h-4zM559.1 890.5h4v10.8h-4zM626.5 954.8h4v10.8h-4zM555.2 986.9h4v10.8h-4z"/><path fill="#6f0f0f" d="M82.3 884.2h4v9.5h-4zM86.3 903.1h4v9.5h-4zM86.3 940.9h4v9.5h-4zM82.3 969.3h4v9.5h-4zM559.1 922.7h4v10.8h-4z"/><path fill="#a53939" d="M86.3 884.2h4v9.5h-4zM90.2 903.1h4v9.5h-4zM86.3 912.6h4v9.5h-4zM94.2 931.5h4v9.5h-4zM82.3 940.9h4v9.5h-4zM86.3 950.4h4v9.5h-4zM440.9 837h4v8.1h-4zM444.9 853.1h4v8.1h-4zM440.9 885.2h4v8.1h-4zM444.9 909.3h4v8.1h-4zM414.6 933.4h4v8.1h-4zM414.6 949.4h4v8.1h-4zM608.1 869.1h4.1v10.8h-4.1zM565.7 879.8h4v10.8h-4zM591.8 890.5h4.1v10.8h-4.1zM569.6 901.2h4v10.8h-4zM565.7 911.9h4v10.8h-4zM565.7 944.1h4v10.8h-4zM595.9 954.8h4.1v10.8h-4.1z"/><path fill="#741212" d="M90.2 884.2h4v9.5h-4zM82.3 903.1h4v9.5h-4zM90.2 969.3h4v9.5h-4zM422.6 917.3h4v8.1h-4zM573.5 901.2h4v10.8h-4zM573.5 944.1h4v10.8h-4zM591.8 954.8h4.1v10.8h-4.1z"/><path fill="#b1c5e6" d="M23.4 893.7h3.9v9.5h-3.9zM19.5 959.8h3.9v9.5h-3.9zM23.4 959.8h3.9v9.5h-3.9zM53.5 959.8h4v9.5h-4zM60 978.7h4v9.5h-4zM23.4 988.2h3.9v9.5h-3.9zM225.4 837h3.7v9h-3.7zM266.9 837h3.7v9h-3.7zM186.6 845.9h3.7v9h-3.7zM256 845.9h3.7v9h-3.7zM210.9 854.8h3.7v9h-3.7zM218.1 854.8h3.7v9h-3.7zM274.2 854.8h3.7v9h-3.7zM210.9 872.7h3.7v9h-3.7zM225.4 872.7h3.7v9h-3.7zM225.4 881.6h3.7v9h-3.7zM214.5 890.5h3.7v9h-3.7zM221.8 890.5h3.7v9h-3.7zM225.4 890.5h3.7v9h-3.7zM229 890.5h3.7v9h-3.7zM225.4 908.4h3.7v9h-3.7zM221.8 917.3h3.7v9h-3.7zM373.9 981.5h4.1v8.1h-4.1zM414.6 981.5h4v8.1h-4zM414.6 989.6h4v8.1h-4zM551.2 954.8h4v10.8h-4z"/><path fill="#d2dcef" d="M27.3 903.1h3.9v9.5h-3.9zM23.4 922h3.9v9.5h-3.9zM71.8 931.5h4v9.5h-4zM33.6 940.9h4v9.5h-4zM27.3 969.3h3.9v9.5h-3.9zM7.9 978.7h3.9v9.5h-3.9zM63.9 978.7h4v9.5h-4zM41.6 988.2h4v9.5h-4zM71.8 988.2h4v9.5h-4zM82.3 988.2h4v9.5h-4zM270.5 845.9h3.7v9h-3.7zM197.4 854.8h3.7v9h-3.7zM238.7 863.8h3.6v9h-3.6zM259.6 872.7h3.7v9h-3.7zM193.8 881.6h3.7v9h-3.7zM249.4 881.6h3.6v9h-3.6zM245.8 890.5h3.6v9h-3.6zM186.6 899.5h3.7v9h-3.7zM214.5 899.5h3.7v9h-3.7zM225.4 899.5h3.7v9h-3.7zM242.3 899.5h3.6v9h-3.6zM190.2 908.4h3.7v9h-3.7zM204.7 908.4h3.7v9h-3.7zM225.4 917.3h3.7v9h-3.7zM190.2 926.2h3.7v9h-3.7zM204.7 926.2h3.7v9h-3.7zM245.8 926.2h3.6v9h-3.6zM221.8 935.1h3.7v9h-3.7zM242.3 935.1h3.6v9h-3.6zM186.6 961.9h3.7v9h-3.7zM186.6 979.8h3.7v9h-3.7zM392.1 837h4.1v8.1h-4.1zM373.9 845h4.1v8.1h-4.1zM381.9 845h4.1v8.1h-4.1zM408.2 845h4.1v8.1h-4.1zM361.7 877.1h4.1v8.1h-4.1zM361.7 885.2h4.1v8.1h-4.1zM365.8 885.2h4.1v8.1h-4.1zM377.9 885.2h4.1v8.1h-4.1zM361.7 933.4h4.1v8.1h-4.1zM365.8 933.4h4.1v8.1h-4.1zM369.8 941.4h4.1v8.1h-4.1zM361.7 949.4h4.1v8.1h-4.1zM373.9 949.4h4.1v8.1h-4.1zM373.9 957.5h4.1v8.1h-4.1zM388 981.5h4.1v8.1h-4.1zM418.6 981.5h4v8.1h-4zM373.9 989.6h4.1v8.1h-4.1zM408.2 989.6h4.1v8.1h-4.1zM551.2 847.7h4v10.8h-4zM551.2 858.4h4v10.8h-4zM547.3 869.1h4v10.8h-4zM539.4 879.8h4v10.8h-4zM539.4 890.5h4v10.8h-4zM543.4 911.9h4v10.8h-4zM547.3 922.7h4v10.8h-4zM551.2 922.7h4v10.8h-4zM543.4 965.5h4v10.8h-4zM547.3 965.5h4v10.8h-4z"/><path fill="#9a2e2e" d="M82.3 912.6h4v9.5h-4zM82.3 922h4v9.5h-4zM90.2 931.5h4v9.5h-4zM90.2 940.9h4v9.5h-4zM259.6 988.7h3.7v9h-3.7zM437 877.1h4v8.1h-4zM422.6 933.4h4v8.1h-4zM569.6 858.4h4v10.8h-4zM555.2 911.9h4v10.8h-4zM591.8 933.4h4.1v10.8h-4.1zM573.5 976.2h4v10.8h-4z"/><path fill="#b9cbe8" d="M19.5 922h3.9v9.5h-3.9zM19.5 940.9h3.9v9.5h-3.9zM45.5 969.3h4v9.5h-4zM7.9 988.2h3.9v9.5h-3.9zM214.5 837h3.7v9h-3.7zM274.2 837h3.7v9h-3.7zM210.9 845.9h3.7v9h-3.7zM221.8 845.9h3.7v9h-3.7zM225.4 863.8h3.7v9h-3.7zM229 863.8h3.7v9h-3.7zM274.2 863.8h3.7v9h-3.7zM186.6 890.5h3.7v9h-3.7zM197.4 890.5h3.7v9h-3.7zM197.4 908.4h3.7v9h-3.7zM214.5 917.3h3.7v9h-3.7zM218.1 917.3h3.7v9h-3.7zM245.8 917.3h3.6v9h-3.6zM249.4 917.3h3.6v9h-3.6zM210.9 926.2h3.7v9h-3.7zM218.1 926.2h3.7v9h-3.7zM204.7 935.1h3.7v9h-3.7zM218.1 935.1h3.7v9h-3.7zM377.9 853.1h4.1v8.1h-4.1zM369.8 869.1h4.1v8.1h-4.1zM373.9 909.3h4.1v8.1h-4.1zM388 973.5h4.1v8.1h-4.1zM369.8 981.5h4.1v8.1h-4.1zM396.1 981.5h4.1v8.1h-4.1zM404.2 981.5h4.1v8.1h-4.1zM547.3 847.7h4v10.8h-4zM547.3 858.4h4v10.8h-4zM551.2 901.2h4v10.8h-4zM547.3 911.9h4v10.8h-4zM547.3 944.1h4v10.8h-4z"/><path fill="#690b0b" d="M82.3 931.5h4v9.5h-4zM256 944.1h3.7v9h-3.7zM418.6 901.2h4v8.1h-4zM437 917.3h4v8.1h-4zM422.6 941.4h4v8.1h-4zM591.8 901.2h4.1v10.8h-4.1zM591.8 911.9h4.1v10.8h-4.1z"/><path fill="#a1b9e1" d="M27.3 940.9h3.9v9.5h-3.9zM45.5 950.4h4v9.5h-4zM23.4 969.3h3.9v9.5h-3.9zM266.9 854.8h3.7v9h-3.7zM266.9 863.8h3.7v9h-3.7zM210.9 881.6h3.7v9h-3.7zM249.4 899.5h3.6v9h-3.6zM218.1 908.4h3.7v9h-3.7zM388 989.6h4.1v8.1h-4.1z"/><path fill="#92addc" d="M45.5 940.9h4v9.5h-4zM98.2 978.7h4v9.5h-4zM102.1 978.7h4v9.5h-4zM259.6 837h3.7v9h-3.7zM221.8 854.8h3.7v9h-3.7zM218.1 872.7h3.7v9h-3.7zM210.9 935.1h3.7v9h-3.7zM249.4 935.1h3.6v9h-3.6zM404.2 989.6h4.1v8.1h-4.1z"/><path fill="#a9bfe4" d="M23.4 950.4h3.9v9.5h-3.9zM225.4 845.9h3.7v9h-3.7zM186.6 854.8h3.7v9h-3.7zM225.4 854.8h3.7v9h-3.7zM259.6 854.8h3.7v9h-3.7zM190.2 863.8h3.7v9h-3.7zM210.9 863.8h3.7v9h-3.7zM218.1 863.8h3.7v9h-3.7zM263.3 863.8h3.7v9h-3.7zM221.8 872.7h3.7v9h-3.7zM266.9 872.7h3.7v9h-3.7zM242.3 917.3h3.6v9h-3.6zM221.8 926.2h3.7v9h-3.7zM193.8 935.1h3.7v9h-3.7zM197.4 935.1h3.7v9h-3.7zM214.5 935.1h3.7v9h-3.7zM369.8 837h4.1v8.1h-4.1zM369.8 917.3h4.1v8.1h-4.1zM373.9 941.4h4.1v8.1h-4.1zM392.1 989.6h4.1v8.1h-4.1zM547.3 879.8h4v10.8h-4zM547.3 954.8h4v10.8h-4z"/><path fill="#b64a4a" d="M90.2 950.4h4v9.5h-4zM82.3 959.8h4v9.5h-4zM102.1 959.8h4v9.5h-4zM263.3 944.1h3.7v9h-3.7zM238.7 953h3.6v9h-3.6zM256 988.7h3.7v9h-3.7zM437 893.2h4v8.1h-4zM614.8 847.7h4v10.8h-4zM604 869.1h4.1v10.8h-4.1zM565.7 890.5h4v10.8h-4zM600 890.5h4.1v10.8h-4.1zM614.8 890.5h4v10.8h-4zM573.5 954.8h4v10.8h-4zM608.1 986.9h4.1v10.8h-4.1z"/><path fill="#841c1c" d="M86.3 959.8h4v9.5h-4zM256 961.9h3.7v9h-3.7zM440.9 845h4v8.1h-4zM422.6 925.3h4v8.1h-4zM418.6 965.5h4v8.1h-4zM595.9 869.1h4.1v10.8h-4.1z"/><path fill="#3c67b2" d="M82.3 978.7h4v9.5h-4zM238.7 890.5h3.6v9h-3.6zM238.7 908.4h3.6v9h-3.6z"/><path fill="#527cc2" d="M86.3 978.7h4v9.5h-4zM235.1 935.1h3.6v9h-3.6zM440.9 973.5h4v8.1h-4z"/><path fill="#335eab" d="M90.2 978.7h4v9.5h-4z"/><path fill="#7296d1" d="M94.2 978.7h4v9.5h-4zM444.9 973.5h4v8.1h-4z"/><path fill="#99b3df" d="M218.1 837h3.7v9h-3.7zM259.6 863.8h3.7v9h-3.7zM210.9 890.5h3.7v9h-3.7zM249.4 890.5h3.6v9h-3.6zM218.1 899.5h3.7v9h-3.7zM242.3 908.4h3.6v9h-3.6zM245.8 908.4h3.6v9h-3.6zM249.4 908.4h3.6v9h-3.6zM242.3 926.2h3.6v9h-3.6zM396.1 973.5h4.1v8.1h-4.1zM396.1 989.6h4.1v8.1h-4.1z"/><path fill="#8aa7d9" d="M256 837h3.7v9h-3.7zM218.1 845.9h3.7v9h-3.7zM245.8 899.5h3.6v9h-3.6zM210.9 908.4h3.7v9h-3.7z"/><path fill="#82a2d6" d="M263.3 837h3.7v9h-3.7zM256 863.8h3.7v9h-3.7z"/><path fill="#4973bc" d="M259.6 845.9h3.7v9h-3.7zM235.1 890.5h3.6v9h-3.6zM238.7 926.2h3.6v9h-3.6z"/><path fill="#5b84c9" d="M263.3 845.9h3.7v9h-3.7z"/><path fill="#638acc" d="M256 854.8h3.7v9h-3.7z"/><path fill="#7a9cd4" d="M263.3 854.8h3.7v9h-3.7zM263.3 872.7h3.7v9h-3.7zM218.1 890.5h3.7v9h-3.7zM245.8 935.1h3.6v9h-3.6z"/><path fill="#5780c6" d="M235.1 881.6h3.6v9h-3.6z"/><path fill="#2f5aa8" d="M238.7 881.6h3.6v9h-3.6zM238.7 899.5h3.6v9h-3.6zM235.1 908.4h3.6v9h-3.6zM238.7 917.3h3.6v9h-3.6zM238.7 935.1h3.6v9h-3.6zM437 973.5h4v8.1h-4zM437 981.5h4v8.1h-4zM440.9 981.5h4v8.1h-4zM444.9 981.5h4v8.1h-4zM437 989.6h4v8.1h-4zM440.9 989.6h4v8.1h-4zM444.9 989.6h4v8.1h-4z"/><path fill="#416bb5" d="M235.1 899.5h3.6v9h-3.6z"/><path fill="#4e77bf" d="M235.1 917.3h3.6v9h-3.6z"/><path fill="#3862af" d="M235.1 926.2h3.6v9h-3.6z"/><path fill="#8f2222" d="M437 837h4v8.1h-4zM422.6 957.5h4v8.1h-4zM591.8 879.8h4.1v10.8h-4.1zM569.6 965.5h4v10.8h-4z"/><path fill="#7f1818" d="M444.9 837h4v8.1h-4zM414.6 965.5h4v8.1h-4zM591.8 837h4.1v10.8h-4.1zM565.7 869.1h4v10.8h-4zM591.8 922.7h4.1v10.8h-4.1z"/><defs><linearGradient id="scbar" x1="0" x2="0" y1="0" y2="1"><stop offset="0" stop-color="#670b0b"/><stop offset="0.25" stop-color="#b54848"/><stop offset="0.5" stop-color="#ebbcbc"/><stop offset="0.66" stop-color="#f7f4f4"/><stop offset="1" stop-color="#5b84c9"/></linearGradient></defs><rect x="641.60" y="777.70" width="8.90" height="23.50" fill="url(#scbar)"/><text transform="translate(639.80,775.80) scale(0.93,1)" font-size="9.78" fill="#262626" stroke="#262626">scaledLFC</text><text transform="translate(655.60,783.00) scale(0.93,1)" font-size="9.78" fill="#262626" stroke="#262626">4</text><text transform="translate(655.60,796.60) scale(0.93,1)" font-size="9.78" fill="#262626" stroke="#262626">0</text><text x="439.30" y="344.00" font-size="16.5" fill="#222" stroke="#222" stroke-width="0.3">G</text><text x="576.00" y="338.00" font-size="9.5" fill="#262626" stroke="#262626" text-anchor="middle">Transcriptomic response to ARS</text><line x1="489.80" y1="350.00" x2="489.80" y2="410.30" stroke="#222" stroke-width="0.9"/><line x1="489.40" y1="410.30" x2="682.60" y2="410.30" stroke="#222" stroke-width="0.9"/><line x1="487.50" y1="404.60" x2="489.80" y2="404.60" stroke="#222" stroke-width="0.8"/><text x="486.60" y="407.80" font-size="9.5" fill="#262626" stroke="#262626" text-anchor="end">0.0</text><line x1="487.50" y1="390.67" x2="489.80" y2="390.67" stroke="#222" stroke-width="0.8"/><text x="486.60" y="393.87" font-size="9.5" fill="#262626" stroke="#262626" text-anchor="end">0.2</text><line x1="487.50" y1="376.73" x2="489.80" y2="376.73" stroke="#222" stroke-width="0.8"/><text x="486.60" y="379.93" font-size="9.5" fill="#262626" stroke="#262626" text-anchor="end">0.4</text><line x1="487.50" y1="362.80" x2="489.80" y2="362.80" stroke="#222" stroke-width="0.8"/><text x="486.60" y="366.00" font-size="9.5" fill="#262626" stroke="#262626" text-anchor="end">0.6</text><line x1="497.80" y1="410.30" x2="497.80" y2="412.60" stroke="#222" stroke-width="0.8"/><text x="497.80" y="421.00" font-size="9.5" fill="#262626" stroke="#262626" text-anchor="middle">0</text><line x1="527.40" y1="410.30" x2="527.40" y2="412.60" stroke="#222" stroke-width="0.8"/><text x="527.40" y="421.00" font-size="9.5" fill="#262626" stroke="#262626" text-anchor="middle">15</text><line x1="585.90" y1="410.30" x2="585.90" y2="412.60" stroke="#222" stroke-width="0.8"/><text x="585.90" y="421.00" font-size="9.5" fill="#262626" stroke="#262626" text-anchor="middle">45</text><line x1="674.20" y1="410.30" x2="674.20" y2="412.60" stroke="#222" stroke-width="0.8"/><text x="674.20" y="421.00" font-size="9.5" fill="#262626" stroke="#262626" text-anchor="middle">180</text><text x="582.50" y="436.80" font-size="9.5" fill="#262626" stroke="#262626" text-anchor="middle">Time (min)</text><text transform="translate(454.5,385.5) rotate(-90)" font-size="9.5" fill="#262626" text-anchor="middle">mean absolute</text><text transform="translate(465.6,385.5) rotate(-90)" font-size="9.5" fill="#262626" text-anchor="middle">log2(foldchanges)</text><polyline points="497.8,403.2 527.4,386.1 585.9,390.7 674.2,396.2" fill="none" stroke="#0f72b0" stroke-width="1.6"/><circle cx="497.8" cy="403.2" r="2.9" fill="#0f72b0"/><circle cx="527.4" cy="386.1" r="2.9" fill="#0f72b0"/><circle cx="585.9" cy="390.7" r="2.9" fill="#0f72b0"/><circle cx="674.2" cy="396.2" r="2.9" fill="#0f72b0"/><polyline points="497.8,405.3 527.4,396.2 585.9,394.5 674.2,388.6" fill="none" stroke="#d95f0e" stroke-width="1.6"/><circle cx="497.8" cy="405.3" r="2.9" fill="#d95f0e"/><circle cx="527.4" cy="396.2" r="2.9" fill="#d95f0e"/><circle cx="585.9" cy="394.5" r="2.9" fill="#d95f0e"/><circle cx="674.2" cy="388.6" r="2.9" fill="#d95f0e"/><polyline points="497.8,403.9 527.4,392.8 585.9,387.2 674.2,387.2" fill="none" stroke="#efe03e" stroke-width="1.6"/><circle cx="497.8" cy="403.9" r="2.9" fill="#efe03e"/><circle cx="527.4" cy="392.8" r="2.9" fill="#efe03e"/><circle cx="585.9" cy="387.2" r="2.9" fill="#efe03e"/><circle cx="674.2" cy="387.2" r="2.9" fill="#efe03e"/><polyline points="497.8,403.9 527.4,393.5 585.9,382.3 674.2,375.0" fill="none" stroke="#0b9e73" stroke-width="1.6"/><circle cx="497.8" cy="403.9" r="2.9" fill="#0b9e73"/><circle cx="527.4" cy="393.5" r="2.9" fill="#0b9e73"/><circle cx="585.9" cy="382.3" r="2.9" fill="#0b9e73"/><circle cx="674.2" cy="375.0" r="2.9" fill="#0b9e73"/><polyline points="497.8,403.2 527.4,391.4 585.9,367.7 674.2,394.2" fill="none" stroke="#5bb4e6" stroke-width="1.6"/><circle cx="497.8" cy="403.2" r="2.9" fill="#5bb4e6"/><circle cx="527.4" cy="391.4" r="2.9" fill="#5bb4e6"/><circle cx="585.9" cy="367.7" r="2.9" fill="#5bb4e6"/><circle cx="674.2" cy="394.2" r="2.9" fill="#5bb4e6"/><polyline points="497.8,401.5 527.4,388.6 585.9,380.2 674.2,372.9" fill="none" stroke="#e8a000" stroke-width="1.6"/><circle cx="497.8" cy="401.5" r="2.9" fill="#e8a000"/><circle cx="527.4" cy="388.6" r="2.9" fill="#e8a000"/><circle cx="585.9" cy="380.2" r="2.9" fill="#e8a000"/><circle cx="674.2" cy="372.9" r="2.9" fill="#e8a000"/><polyline points="497.8,405.8 527.4,365.6 585.9,353.0 674.2,362.5" fill="none" stroke="#cc79a7" stroke-width="1.6"/><circle cx="497.8" cy="405.8" r="2.9" fill="#cc79a7"/><circle cx="527.4" cy="365.6" r="2.9" fill="#cc79a7"/><circle cx="585.9" cy="353.0" r="2.9" fill="#cc79a7"/><circle cx="674.2" cy="362.5" r="2.9" fill="#cc79a7"/><line x1="458.00" y1="452.30" x2="471.00" y2="452.30" stroke="#0b9e73" stroke-width="1.6"/><circle cx="464.5" cy="452.3" r="2.6" fill="#0b9e73"/><text x="474.00" y="455.60" font-size="9.5" fill="#262626" stroke="#262626">astrocytes</text><line x1="530.50" y1="452.30" x2="543.50" y2="452.30" stroke="#d95f0e" stroke-width="1.6"/><circle cx="537.0" cy="452.3" r="2.6" fill="#d95f0e"/><text x="546.50" y="455.60" font-size="9.5" fill="#262626" stroke="#262626">OPC</text><line x1="604.00" y1="452.30" x2="617.00" y2="452.30" stroke="#5bb4e6" stroke-width="1.6"/><circle cx="610.5" cy="452.3" r="2.6" fill="#5bb4e6"/><text x="620.00" y="455.60" font-size="9.5" fill="#262626" stroke="#262626">excitatory</text><line x1="458.00" y1="470.40" x2="471.00" y2="470.40" stroke="#efe03e" stroke-width="1.6"/><circle cx="464.5" cy="470.4" r="2.6" fill="#efe03e"/><text x="474.00" y="473.70" font-size="9.5" fill="#262626" stroke="#262626">microglia</text><line x1="530.50" y1="470.40" x2="543.50" y2="470.40" stroke="#cc79a7" stroke-width="1.6"/><circle cx="537.0" cy="470.4" r="2.6" fill="#cc79a7"/><text x="546.50" y="473.70" font-size="9.5" fill="#262626" stroke="#262626">vascular</text><line x1="604.00" y1="470.40" x2="617.00" y2="470.40" stroke="#0f72b0" stroke-width="1.6"/><circle cx="610.5" cy="470.4" r="2.6" fill="#0f72b0"/><text x="620.00" y="473.70" font-size="9.5" fill="#262626" stroke="#262626">inhibitory</text><line x1="458.00" y1="488.30" x2="471.00" y2="488.30" stroke="#e8a000" stroke-width="1.6"/><circle cx="464.5" cy="488.3" r="2.6" fill="#e8a000"/><text x="474.00" y="491.60" font-size="9.5" fill="#262626" stroke="#262626">oligodendrocytes</text></svg></body></html>
